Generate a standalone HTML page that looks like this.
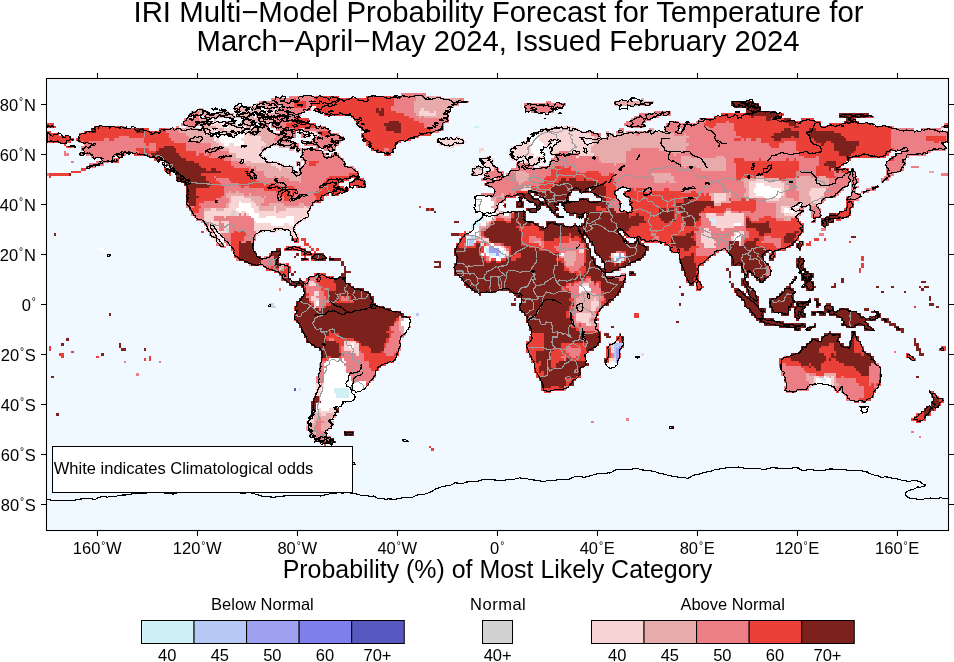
<!DOCTYPE html>
<html><head><meta charset="utf-8"><title>IRI Multi-Model Probability Forecast for Temperature</title>
<style>
html,body{margin:0;padding:0;background:#fff;overflow:hidden}
svg{display:block}
text{font-family:"Liberation Sans",sans-serif;fill:#000}
</style></head><body>
<svg width="954" height="662" viewBox="0 0 954 662">
<rect x="0" y="0" width="954" height="662" fill="#fff"/>
<text x="498.5" y="22.3" font-size="29.38" text-anchor="middle">IRI Multi−Model Probability Forecast for Temperature for</text>
<text x="498" y="51" font-size="29.24" text-anchor="middle">March−April−May 2024, Issued February 2024</text>
<rect x="47.5" y="79.5" width="900" height="450" fill="#f0f9ff"/>
<clipPath id="mc"><rect x="47" y="79" width="901" height="451"/></clipPath><g clip-path="url(#mc)"><g shape-rendering="crispEdges"><path fill="#ffffff" d="M221.25 123.25h2.5v2.5h-2.5zM223.75 125.75h5v2.5h-5zM213.75 130.75h5v2.5h-5zM211.25 133.25h10v2.5h-10zM236.25 133.25h7.5v2.5h-7.5zM308.75 133.25h7.5v2.5h-7.5zM533.75 133.25h5v2.5h-5zM216.25 135.75h27.5v2.5h-27.5zM528.75 135.75h10v2.5h-10zM213.75 138.25h2.5v2.5h-2.5zM218.75 138.25h22.5v2.5h-22.5zM528.75 138.25h10v2.5h-10zM221.25 140.75h22.5v2.5h-22.5zM528.75 140.75h12.5v2.5h-12.5zM223.75 143.25h5v2.5h-5zM233.75 143.25h10v2.5h-10zM531.25 143.25h12.5v2.5h-12.5zM531.25 145.75h12.5v2.5h-12.5zM531.25 148.25h12.5v2.5h-12.5zM531.25 150.75h10v2.5h-10zM493.75 153.25h2.5v2.5h-2.5zM533.75 153.25h10v2.5h-10zM533.75 155.75h2.5v2.5h-2.5zM756.25 183.25h7.5v2.5h-7.5zM756.25 185.75h15v2.5h-15zM753.75 188.25h27.5v2.5h-27.5zM753.75 190.75h27.5v2.5h-27.5zM476.25 193.25h5v2.5h-5zM756.25 193.25h25v2.5h-25zM473.75 195.75h17.5v2.5h-17.5zM763.75 195.75h17.5v2.5h-17.5zM473.75 198.25h17.5v2.5h-17.5zM238.75 200.75h2.5v2.5h-2.5zM473.75 200.75h20v2.5h-20zM238.75 203.25h12.5v2.5h-12.5zM473.75 203.25h20v2.5h-20zM238.75 205.75h12.5v2.5h-12.5zM473.75 205.75h17.5v2.5h-17.5zM236.25 208.25h17.5v2.5h-17.5zM473.75 208.25h20v2.5h-20zM783.75 208.25h5v2.5h-5zM791.25 208.25h2.5v2.5h-2.5zM238.75 210.75h2.5v2.5h-2.5zM246.25 210.75h7.5v2.5h-7.5zM473.75 210.75h20v2.5h-20zM503.75 210.75h5v2.5h-5zM783.75 210.75h10v2.5h-10zM248.75 213.25h10v2.5h-10zM481.25 213.25h7.5v2.5h-7.5zM491.25 213.25h5v2.5h-5zM503.75 213.25h5v2.5h-5zM251.25 215.75h7.5v2.5h-7.5zM266.25 215.75h10v2.5h-10zM286.25 215.75h7.5v2.5h-7.5zM483.75 215.75h10v2.5h-10zM253.75 218.25h40v2.5h-40zM483.75 218.25h7.5v2.5h-7.5zM256.25 220.75h37.5v2.5h-37.5zM478.75 220.75h7.5v2.5h-7.5zM271.25 223.25h12.5v2.5h-12.5zM288.75 223.25h5v2.5h-5zM481.25 223.25h5v2.5h-5zM733.75 223.25h7.5v2.5h-7.5zM476.25 225.75h2.5v2.5h-2.5zM473.75 228.25h5v2.5h-5zM471.25 230.75h7.5v2.5h-7.5zM468.75 233.25h10v2.5h-10zM736.25 233.25h5v2.5h-5zM466.25 235.75h5v2.5h-5zM733.75 235.75h7.5v2.5h-7.5zM733.75 238.25h7.5v2.5h-7.5zM491.25 243.25h2.5v2.5h-2.5zM486.25 245.75h2.5v2.5h-2.5zM493.75 245.75h7.5v2.5h-7.5zM98.75 248.25h5v2.5h-5zM483.75 248.25h2.5v2.5h-2.5zM498.75 248.25h5v2.5h-5zM103.75 250.75h2.5v2.5h-2.5zM483.75 250.75h2.5v2.5h-2.5zM503.75 250.75h2.5v2.5h-2.5zM481.25 253.25h2.5v2.5h-2.5zM486.25 253.25h2.5v2.5h-2.5zM503.75 253.25h2.5v2.5h-2.5zM558.75 253.25h5v2.5h-5zM613.75 253.25h5v2.5h-5zM621.25 253.25h2.5v2.5h-2.5zM491.25 255.75h7.5v2.5h-7.5zM501.25 255.75h2.5v2.5h-2.5zM496.25 258.25h5v2.5h-5zM613.75 258.25h2.5v2.5h-2.5zM618.75 260.75h2.5v2.5h-2.5zM578.75 285.75h10v2.5h-10zM578.75 288.25h12.5v2.5h-12.5zM578.75 290.75h2.5v2.5h-2.5zM316.25 300.75h2.5v2.5h-2.5zM316.25 303.25h2.5v2.5h-2.5zM403.75 318.25h7.5v2.5h-7.5zM401.25 320.75h10v2.5h-10zM401.25 323.25h10v2.5h-10zM403.75 325.75h5v2.5h-5zM403.75 328.25h5v2.5h-5zM403.75 330.75h2.5v2.5h-2.5zM351.25 343.25h2.5v2.5h-2.5zM348.75 345.75h5v2.5h-5zM328.75 358.25h10v2.5h-10zM341.25 358.25h2.5v2.5h-2.5zM326.25 360.75h20v2.5h-20zM608.75 360.75h5v2.5h-5zM323.75 363.25h20v2.5h-20zM606.25 363.25h10v2.5h-10zM326.25 365.75h20v2.5h-20zM606.25 365.75h10v2.5h-10zM323.75 368.25h22.5v2.5h-22.5zM608.75 368.25h2.5v2.5h-2.5zM323.75 370.75h22.5v2.5h-22.5zM323.75 373.25h25v2.5h-25zM323.75 375.75h27.5v2.5h-27.5zM823.75 375.75h2.5v2.5h-2.5zM323.75 378.25h27.5v2.5h-27.5zM816.25 378.25h5v2.5h-5zM826.25 378.25h5v2.5h-5zM323.75 380.75h30v2.5h-30zM356.25 380.75h10v2.5h-10zM816.25 380.75h7.5v2.5h-7.5zM826.25 380.75h5v2.5h-5zM323.75 383.25h42.5v2.5h-42.5zM816.25 383.25h15v2.5h-15zM323.75 385.75h45v2.5h-45zM321.25 388.25h12.5v2.5h-12.5zM348.75 388.25h17.5v2.5h-17.5zM321.25 390.75h12.5v2.5h-12.5zM348.75 390.75h12.5v2.5h-12.5zM321.25 393.25h15v2.5h-15zM348.75 393.25h7.5v2.5h-7.5zM318.75 395.75h17.5v2.5h-17.5zM348.75 395.75h7.5v2.5h-7.5zM318.75 398.25h37.5v2.5h-37.5zM321.25 400.75h32.5v2.5h-32.5zM316.25 403.25h27.5v2.5h-27.5zM316.25 405.75h25v2.5h-25zM858.75 405.75h10v2.5h-10zM316.25 408.25h2.5v2.5h-2.5zM321.25 408.25h7.5v2.5h-7.5zM858.75 408.25h10v2.5h-10zM861.25 410.75h7.5v2.5h-7.5zM861.25 413.25h2.5v2.5h-2.5z"/>
<path fill="#f8d4d4" d="M421.25 108.25h2.5v2.5h-2.5zM418.75 110.75h10v2.5h-10zM433.75 110.75h2.5v2.5h-2.5zM418.75 113.25h17.5v2.5h-17.5zM208.75 120.75h17.5v2.5h-17.5zM208.75 123.25h12.5v2.5h-12.5zM223.75 123.25h5v2.5h-5zM216.25 125.75h7.5v2.5h-7.5zM228.75 125.75h7.5v2.5h-7.5zM551.25 125.75h22.5v2.5h-22.5zM208.75 128.25h10v2.5h-10zM223.75 128.25h17.5v2.5h-17.5zM301.25 128.25h2.5v2.5h-2.5zM541.25 128.25h37.5v2.5h-37.5zM206.25 130.75h2.5v2.5h-2.5zM211.25 130.75h2.5v2.5h-2.5zM218.75 130.75h2.5v2.5h-2.5zM236.25 130.75h5v2.5h-5zM303.75 130.75h12.5v2.5h-12.5zM536.25 130.75h50v2.5h-50zM203.75 133.25h2.5v2.5h-2.5zM221.25 133.25h15v2.5h-15zM243.75 133.25h5v2.5h-5zM303.75 133.25h5v2.5h-5zM316.25 133.25h2.5v2.5h-2.5zM531.25 133.25h2.5v2.5h-2.5zM538.75 133.25h52.5v2.5h-52.5zM213.75 135.75h2.5v2.5h-2.5zM243.75 135.75h17.5v2.5h-17.5zM303.75 135.75h7.5v2.5h-7.5zM313.75 135.75h2.5v2.5h-2.5zM456.25 135.75h2.5v2.5h-2.5zM538.75 135.75h55v2.5h-55zM216.25 138.25h2.5v2.5h-2.5zM241.25 138.25h20v2.5h-20zM311.25 138.25h2.5v2.5h-2.5zM436.25 138.25h27.5v2.5h-27.5zM526.25 138.25h2.5v2.5h-2.5zM538.75 138.25h55v2.5h-55zM216.25 140.75h5v2.5h-5zM243.75 140.75h20v2.5h-20zM303.75 140.75h2.5v2.5h-2.5zM436.25 140.75h30v2.5h-30zM523.75 140.75h5v2.5h-5zM541.25 140.75h12.5v2.5h-12.5zM556.25 140.75h30v2.5h-30zM591.25 140.75h2.5v2.5h-2.5zM218.75 143.25h5v2.5h-5zM228.75 143.25h5v2.5h-5zM243.75 143.25h22.5v2.5h-22.5zM438.75 143.25h22.5v2.5h-22.5zM518.75 143.25h12.5v2.5h-12.5zM543.75 143.25h7.5v2.5h-7.5zM553.75 143.25h40v2.5h-40zM223.75 145.75h37.5v2.5h-37.5zM446.25 145.75h7.5v2.5h-7.5zM511.25 145.75h20v2.5h-20zM543.75 145.75h2.5v2.5h-2.5zM548.75 145.75h42.5v2.5h-42.5zM228.75 148.25h32.5v2.5h-32.5zM478.75 148.25h5v2.5h-5zM508.75 148.25h22.5v2.5h-22.5zM548.75 148.25h42.5v2.5h-42.5zM228.75 150.75h35v2.5h-35zM478.75 150.75h2.5v2.5h-2.5zM508.75 150.75h22.5v2.5h-22.5zM548.75 150.75h10v2.5h-10zM568.75 150.75h22.5v2.5h-22.5zM236.25 153.25h25v2.5h-25zM508.75 153.25h25v2.5h-25zM543.75 153.25h2.5v2.5h-2.5zM551.25 153.25h5v2.5h-5zM578.75 153.25h15v2.5h-15zM236.25 155.75h30v2.5h-30zM483.75 155.75h7.5v2.5h-7.5zM508.75 155.75h25v2.5h-25zM536.25 155.75h7.5v2.5h-7.5zM576.25 155.75h2.5v2.5h-2.5zM241.25 158.25h25v2.5h-25zM481.25 158.25h12.5v2.5h-12.5zM511.25 158.25h7.5v2.5h-7.5zM521.25 158.25h2.5v2.5h-2.5zM526.25 158.25h15v2.5h-15zM543.75 158.25h2.5v2.5h-2.5zM241.25 160.75h5v2.5h-5zM251.25 160.75h27.5v2.5h-27.5zM481.25 160.75h12.5v2.5h-12.5zM516.25 160.75h7.5v2.5h-7.5zM526.25 160.75h12.5v2.5h-12.5zM541.25 160.75h2.5v2.5h-2.5zM271.25 163.25h12.5v2.5h-12.5zM481.25 163.25h12.5v2.5h-12.5zM528.75 163.25h10v2.5h-10zM276.25 165.75h5v2.5h-5zM286.25 165.75h5v2.5h-5zM473.75 165.75h20v2.5h-20zM278.75 168.25h2.5v2.5h-2.5zM471.25 168.25h12.5v2.5h-12.5zM491.25 168.25h2.5v2.5h-2.5zM471.25 170.75h15v2.5h-15zM476.25 173.25h10v2.5h-10zM756.25 178.25h7.5v2.5h-7.5zM748.75 180.75h20v2.5h-20zM771.25 180.75h10v2.5h-10zM748.75 183.25h7.5v2.5h-7.5zM763.75 183.25h20v2.5h-20zM523.75 185.75h2.5v2.5h-2.5zM528.75 185.75h2.5v2.5h-2.5zM748.75 185.75h7.5v2.5h-7.5zM771.25 185.75h12.5v2.5h-12.5zM521.25 188.25h10v2.5h-10zM748.75 188.25h5v2.5h-5zM781.25 188.25h2.5v2.5h-2.5zM811.25 188.25h15v2.5h-15zM748.75 190.75h5v2.5h-5zM781.25 190.75h2.5v2.5h-2.5zM808.75 190.75h17.5v2.5h-17.5zM713.75 193.25h12.5v2.5h-12.5zM748.75 193.25h7.5v2.5h-7.5zM781.25 193.25h2.5v2.5h-2.5zM808.75 193.25h15v2.5h-15zM231.25 195.75h12.5v2.5h-12.5zM713.75 195.75h12.5v2.5h-12.5zM748.75 195.75h15v2.5h-15zM811.25 195.75h10v2.5h-10zM231.25 198.25h20v2.5h-20zM713.75 198.25h12.5v2.5h-12.5zM766.25 198.25h12.5v2.5h-12.5zM811.25 198.25h10v2.5h-10zM231.25 200.75h7.5v2.5h-7.5zM241.25 200.75h12.5v2.5h-12.5zM713.75 200.75h7.5v2.5h-7.5zM811.25 200.75h10v2.5h-10zM228.75 203.25h10v2.5h-10zM251.25 203.25h5v2.5h-5zM816.25 203.25h5v2.5h-5zM228.75 205.75h10v2.5h-10zM251.25 205.75h7.5v2.5h-7.5zM273.75 205.75h2.5v2.5h-2.5zM303.75 205.75h2.5v2.5h-2.5zM781.25 205.75h7.5v2.5h-7.5zM211.25 208.25h5v2.5h-5zM223.75 208.25h12.5v2.5h-12.5zM253.75 208.25h5v2.5h-5zM273.75 208.25h2.5v2.5h-2.5zM286.25 208.25h22.5v2.5h-22.5zM781.25 208.25h2.5v2.5h-2.5zM788.75 208.25h2.5v2.5h-2.5zM793.75 208.25h5v2.5h-5zM203.75 210.75h27.5v2.5h-27.5zM236.25 210.75h2.5v2.5h-2.5zM241.25 210.75h5v2.5h-5zM253.75 210.75h22.5v2.5h-22.5zM278.75 210.75h30v2.5h-30zM508.75 210.75h2.5v2.5h-2.5zM726.25 210.75h5v2.5h-5zM781.25 210.75h2.5v2.5h-2.5zM793.75 210.75h5v2.5h-5zM203.75 213.25h27.5v2.5h-27.5zM236.25 213.25h2.5v2.5h-2.5zM241.25 213.25h2.5v2.5h-2.5zM246.25 213.25h2.5v2.5h-2.5zM258.75 213.25h50v2.5h-50zM706.25 213.25h10v2.5h-10zM723.75 213.25h20v2.5h-20zM783.75 213.25h15v2.5h-15zM203.75 215.75h10v2.5h-10zM223.75 215.75h2.5v2.5h-2.5zM258.75 215.75h7.5v2.5h-7.5zM276.25 215.75h10v2.5h-10zM293.75 215.75h15v2.5h-15zM706.25 215.75h37.5v2.5h-37.5zM203.75 218.25h10v2.5h-10zM293.75 218.25h12.5v2.5h-12.5zM491.25 218.25h2.5v2.5h-2.5zM716.25 218.25h27.5v2.5h-27.5zM206.25 220.75h12.5v2.5h-12.5zM221.25 220.75h7.5v2.5h-7.5zM253.75 220.75h2.5v2.5h-2.5zM293.75 220.75h7.5v2.5h-7.5zM486.25 220.75h2.5v2.5h-2.5zM716.25 220.75h27.5v2.5h-27.5zM208.75 223.25h10v2.5h-10zM223.75 223.25h5v2.5h-5zM253.75 223.25h17.5v2.5h-17.5zM283.75 223.25h5v2.5h-5zM293.75 223.25h5v2.5h-5zM478.75 223.25h2.5v2.5h-2.5zM711.25 223.25h2.5v2.5h-2.5zM716.25 223.25h17.5v2.5h-17.5zM741.25 223.25h2.5v2.5h-2.5zM206.25 225.75h12.5v2.5h-12.5zM226.25 225.75h2.5v2.5h-2.5zM253.75 225.75h42.5v2.5h-42.5zM716.25 225.75h17.5v2.5h-17.5zM208.75 228.25h2.5v2.5h-2.5zM213.75 228.25h5v2.5h-5zM223.75 228.25h2.5v2.5h-2.5zM253.75 228.25h42.5v2.5h-42.5zM703.75 228.25h5v2.5h-5zM721.25 228.25h2.5v2.5h-2.5zM213.75 230.75h12.5v2.5h-12.5zM256.25 230.75h7.5v2.5h-7.5zM268.75 230.75h7.5v2.5h-7.5zM288.75 230.75h7.5v2.5h-7.5zM703.75 230.75h7.5v2.5h-7.5zM733.75 230.75h10v2.5h-10zM211.25 233.25h5v2.5h-5zM218.75 233.25h2.5v2.5h-2.5zM256.25 233.25h2.5v2.5h-2.5zM288.75 233.25h10v2.5h-10zM701.25 233.25h10v2.5h-10zM733.75 233.25h2.5v2.5h-2.5zM741.25 233.25h2.5v2.5h-2.5zM216.25 235.75h2.5v2.5h-2.5zM221.25 235.75h2.5v2.5h-2.5zM291.25 235.75h7.5v2.5h-7.5zM476.25 235.75h5v2.5h-5zM701.25 235.75h10v2.5h-10zM731.25 235.75h2.5v2.5h-2.5zM213.75 238.25h7.5v2.5h-7.5zM478.75 238.25h10v2.5h-10zM701.25 238.25h12.5v2.5h-12.5zM731.25 238.25h2.5v2.5h-2.5zM216.25 240.75h5v2.5h-5zM481.25 240.75h2.5v2.5h-2.5zM486.25 240.75h2.5v2.5h-2.5zM701.25 240.75h15v2.5h-15zM738.75 240.75h2.5v2.5h-2.5zM481.25 243.25h2.5v2.5h-2.5zM488.75 243.25h2.5v2.5h-2.5zM703.75 243.25h10v2.5h-10zM738.75 243.25h2.5v2.5h-2.5zM483.75 245.75h2.5v2.5h-2.5zM501.25 245.75h2.5v2.5h-2.5zM703.75 245.75h12.5v2.5h-12.5zM503.75 248.25h2.5v2.5h-2.5zM578.75 248.25h5v2.5h-5zM506.25 250.75h2.5v2.5h-2.5zM578.75 250.75h5v2.5h-5zM506.25 253.25h2.5v2.5h-2.5zM611.25 253.25h2.5v2.5h-2.5zM488.75 255.75h2.5v2.5h-2.5zM503.75 255.75h2.5v2.5h-2.5zM611.25 255.75h2.5v2.5h-2.5zM623.75 255.75h2.5v2.5h-2.5zM488.75 258.25h2.5v2.5h-2.5zM613.75 260.75h2.5v2.5h-2.5zM278.75 268.25h2.5v2.5h-2.5zM308.75 280.75h5v2.5h-5zM308.75 283.25h7.5v2.5h-7.5zM581.25 283.25h7.5v2.5h-7.5zM313.75 290.75h5v2.5h-5zM313.75 293.25h5v2.5h-5zM311.25 295.75h5v2.5h-5zM311.25 298.25h7.5v2.5h-7.5zM593.75 298.25h2.5v2.5h-2.5zM313.75 300.75h2.5v2.5h-2.5zM591.25 300.75h7.5v2.5h-7.5zM313.75 303.25h2.5v2.5h-2.5zM591.25 303.25h7.5v2.5h-7.5zM313.75 305.75h2.5v2.5h-2.5zM591.25 305.75h5v2.5h-5zM591.25 308.25h5v2.5h-5zM576.25 313.25h15v2.5h-15zM576.25 315.75h15v2.5h-15zM576.25 318.25h12.5v2.5h-12.5zM581.25 320.75h7.5v2.5h-7.5zM586.25 323.25h5v2.5h-5zM343.75 340.75h12.5v2.5h-12.5zM613.75 340.75h5v2.5h-5zM343.75 343.25h7.5v2.5h-7.5zM353.75 343.25h5v2.5h-5zM611.25 343.25h2.5v2.5h-2.5zM343.75 345.75h5v2.5h-5zM353.75 345.75h5v2.5h-5zM611.25 345.75h2.5v2.5h-2.5zM343.75 348.25h15v2.5h-15zM611.25 348.25h2.5v2.5h-2.5zM351.25 350.75h7.5v2.5h-7.5zM611.25 350.75h2.5v2.5h-2.5zM356.25 353.25h2.5v2.5h-2.5zM641.25 353.25h2.5v2.5h-2.5zM608.75 358.25h7.5v2.5h-7.5zM813.75 375.75h5v2.5h-5zM826.25 375.75h2.5v2.5h-2.5zM831.25 375.75h2.5v2.5h-2.5zM813.75 378.25h2.5v2.5h-2.5zM831.25 378.25h2.5v2.5h-2.5zM813.75 380.75h2.5v2.5h-2.5zM831.25 380.75h2.5v2.5h-2.5zM316.25 383.25h7.5v2.5h-7.5zM813.75 383.25h2.5v2.5h-2.5zM831.25 383.25h2.5v2.5h-2.5zM316.25 385.75h7.5v2.5h-7.5zM316.25 388.25h5v2.5h-5zM316.25 390.75h5v2.5h-5zM313.75 393.25h7.5v2.5h-7.5zM318.75 408.25h2.5v2.5h-2.5zM328.75 408.25h7.5v2.5h-7.5zM311.25 410.75h25v2.5h-25zM311.25 413.25h2.5v2.5h-2.5zM321.25 413.25h5v2.5h-5zM308.75 415.75h5v2.5h-5zM308.75 418.25h5v2.5h-5zM306.25 420.75h7.5v2.5h-7.5zM306.25 423.25h5v2.5h-5z"/>
<path fill="#e8abab" d="M416.25 95.75h25v2.5h-25zM416.25 98.25h42.5v2.5h-42.5zM641.25 98.25h2.5v2.5h-2.5zM413.75 100.75h42.5v2.5h-42.5zM613.75 100.75h40v2.5h-40zM256.25 103.25h10v2.5h-10zM271.25 103.25h2.5v2.5h-2.5zM278.75 103.25h2.5v2.5h-2.5zM413.75 103.25h40v2.5h-40zM613.75 103.25h37.5v2.5h-37.5zM233.75 105.75h45v2.5h-45zM413.75 105.75h40v2.5h-40zM201.25 108.25h2.5v2.5h-2.5zM233.75 108.25h15v2.5h-15zM251.25 108.25h10v2.5h-10zM266.25 108.25h7.5v2.5h-7.5zM276.25 108.25h5v2.5h-5zM413.75 108.25h7.5v2.5h-7.5zM423.75 108.25h27.5v2.5h-27.5zM198.75 110.75h10v2.5h-10zM218.75 110.75h10v2.5h-10zM241.25 110.75h12.5v2.5h-12.5zM256.25 110.75h5v2.5h-5zM273.75 110.75h5v2.5h-5zM413.75 110.75h5v2.5h-5zM428.75 110.75h5v2.5h-5zM436.25 110.75h12.5v2.5h-12.5zM198.75 113.25h35v2.5h-35zM236.25 113.25h17.5v2.5h-17.5zM256.25 113.25h22.5v2.5h-22.5zM416.25 113.25h2.5v2.5h-2.5zM436.25 113.25h12.5v2.5h-12.5zM203.75 115.75h50v2.5h-50zM256.25 115.75h20v2.5h-20zM418.75 115.75h2.5v2.5h-2.5zM423.75 115.75h25v2.5h-25zM198.75 118.25h10v2.5h-10zM213.75 118.25h2.5v2.5h-2.5zM243.75 118.25h32.5v2.5h-32.5zM226.25 120.75h10v2.5h-10zM241.25 120.75h35v2.5h-35zM198.75 123.25h2.5v2.5h-2.5zM206.25 123.25h2.5v2.5h-2.5zM228.75 123.25h7.5v2.5h-7.5zM241.25 123.25h15v2.5h-15zM258.75 123.25h2.5v2.5h-2.5zM186.25 125.75h10v2.5h-10zM201.25 125.75h15v2.5h-15zM236.25 125.75h5v2.5h-5zM246.25 125.75h2.5v2.5h-2.5zM178.75 128.25h20v2.5h-20zM201.25 128.25h7.5v2.5h-7.5zM218.75 128.25h5v2.5h-5zM241.25 128.25h5v2.5h-5zM248.75 128.25h20v2.5h-20zM651.25 128.25h2.5v2.5h-2.5zM663.75 128.25h2.5v2.5h-2.5zM178.75 130.75h27.5v2.5h-27.5zM208.75 130.75h2.5v2.5h-2.5zM221.25 130.75h15v2.5h-15zM241.25 130.75h2.5v2.5h-2.5zM246.25 130.75h27.5v2.5h-27.5zM606.25 130.75h2.5v2.5h-2.5zM646.25 130.75h25v2.5h-25zM186.25 133.25h17.5v2.5h-17.5zM206.25 133.25h5v2.5h-5zM248.75 133.25h27.5v2.5h-27.5zM606.25 133.25h7.5v2.5h-7.5zM616.25 133.25h20v2.5h-20zM638.75 133.25h35v2.5h-35zM683.75 133.25h2.5v2.5h-2.5zM188.75 135.75h25v2.5h-25zM261.25 135.75h15v2.5h-15zM593.75 135.75h7.5v2.5h-7.5zM606.25 135.75h82.5v2.5h-82.5zM191.25 138.25h22.5v2.5h-22.5zM261.25 138.25h12.5v2.5h-12.5zM593.75 138.25h92.5v2.5h-92.5zM201.25 140.75h15v2.5h-15zM263.75 140.75h15v2.5h-15zM593.75 140.75h92.5v2.5h-92.5zM211.25 143.25h7.5v2.5h-7.5zM266.25 143.25h25v2.5h-25zM593.75 143.25h95v2.5h-95zM211.25 145.75h12.5v2.5h-12.5zM261.25 145.75h10v2.5h-10zM278.75 145.75h15v2.5h-15zM591.25 145.75h95v2.5h-95zM221.25 148.25h7.5v2.5h-7.5zM261.25 148.25h5v2.5h-5zM288.75 148.25h5v2.5h-5zM296.25 148.25h2.5v2.5h-2.5zM301.25 148.25h2.5v2.5h-2.5zM591.25 148.25h40v2.5h-40zM658.75 148.25h27.5v2.5h-27.5zM296.25 150.75h2.5v2.5h-2.5zM301.25 150.75h2.5v2.5h-2.5zM591.25 150.75h35v2.5h-35zM666.25 150.75h20v2.5h-20zM228.75 153.25h7.5v2.5h-7.5zM301.25 153.25h2.5v2.5h-2.5zM593.75 153.25h32.5v2.5h-32.5zM673.75 153.25h2.5v2.5h-2.5zM231.25 155.75h5v2.5h-5zM301.25 155.75h2.5v2.5h-2.5zM593.75 155.75h2.5v2.5h-2.5zM598.75 155.75h27.5v2.5h-27.5zM681.25 155.75h10v2.5h-10zM716.25 155.75h7.5v2.5h-7.5zM231.25 158.25h10v2.5h-10zM301.25 158.25h2.5v2.5h-2.5zM598.75 158.25h27.5v2.5h-27.5zM681.25 158.25h45v2.5h-45zM238.75 160.75h2.5v2.5h-2.5zM246.25 160.75h5v2.5h-5zM296.25 160.75h5v2.5h-5zM601.25 160.75h25v2.5h-25zM681.25 160.75h45v2.5h-45zM246.25 163.25h25v2.5h-25zM296.25 163.25h5v2.5h-5zM613.75 163.25h2.5v2.5h-2.5zM681.25 163.25h45v2.5h-45zM251.25 165.75h2.5v2.5h-2.5zM256.25 165.75h20v2.5h-20zM281.25 165.75h5v2.5h-5zM291.25 165.75h2.5v2.5h-2.5zM298.75 165.75h5v2.5h-5zM683.75 165.75h2.5v2.5h-2.5zM696.25 165.75h30v2.5h-30zM256.25 168.25h22.5v2.5h-22.5zM281.25 168.25h12.5v2.5h-12.5zM298.75 168.25h2.5v2.5h-2.5zM701.25 168.25h25v2.5h-25zM263.75 170.75h37.5v2.5h-37.5zM513.75 170.75h12.5v2.5h-12.5zM928.75 170.75h5v2.5h-5zM263.75 173.25h37.5v2.5h-37.5zM516.25 173.25h12.5v2.5h-12.5zM651.25 173.25h20v2.5h-20zM266.25 175.75h7.5v2.5h-7.5zM276.25 175.75h5v2.5h-5zM283.75 175.75h17.5v2.5h-17.5zM516.25 175.75h12.5v2.5h-12.5zM653.75 175.75h20v2.5h-20zM756.25 175.75h7.5v2.5h-7.5zM798.75 175.75h12.5v2.5h-12.5zM818.75 175.75h7.5v2.5h-7.5zM288.75 178.25h12.5v2.5h-12.5zM516.25 178.25h12.5v2.5h-12.5zM653.75 178.25h20v2.5h-20zM741.25 178.25h15v2.5h-15zM763.75 178.25h15v2.5h-15zM796.25 178.25h32.5v2.5h-32.5zM298.75 180.75h2.5v2.5h-2.5zM516.25 180.75h7.5v2.5h-7.5zM653.75 180.75h12.5v2.5h-12.5zM668.75 180.75h7.5v2.5h-7.5zM743.75 180.75h5v2.5h-5zM768.75 180.75h2.5v2.5h-2.5zM781.25 180.75h7.5v2.5h-7.5zM796.25 180.75h32.5v2.5h-32.5zM518.75 183.25h2.5v2.5h-2.5zM743.75 183.25h5v2.5h-5zM783.75 183.25h5v2.5h-5zM796.25 183.25h32.5v2.5h-32.5zM743.75 185.75h5v2.5h-5zM783.75 185.75h5v2.5h-5zM796.25 185.75h32.5v2.5h-32.5zM746.25 188.25h2.5v2.5h-2.5zM783.75 188.25h5v2.5h-5zM796.25 188.25h15v2.5h-15zM228.75 190.75h2.5v2.5h-2.5zM236.25 190.75h2.5v2.5h-2.5zM728.75 190.75h2.5v2.5h-2.5zM746.25 190.75h2.5v2.5h-2.5zM783.75 190.75h2.5v2.5h-2.5zM798.75 190.75h10v2.5h-10zM226.25 193.25h17.5v2.5h-17.5zM248.75 193.25h2.5v2.5h-2.5zM501.25 193.25h2.5v2.5h-2.5zM708.75 193.25h5v2.5h-5zM726.25 193.25h5v2.5h-5zM743.75 193.25h5v2.5h-5zM783.75 193.25h2.5v2.5h-2.5zM798.75 193.25h10v2.5h-10zM226.25 195.75h5v2.5h-5zM243.75 195.75h17.5v2.5h-17.5zM263.75 195.75h2.5v2.5h-2.5zM493.75 195.75h10v2.5h-10zM711.25 195.75h2.5v2.5h-2.5zM726.25 195.75h5v2.5h-5zM743.75 195.75h5v2.5h-5zM781.25 195.75h5v2.5h-5zM798.75 195.75h12.5v2.5h-12.5zM821.25 195.75h2.5v2.5h-2.5zM228.75 198.25h2.5v2.5h-2.5zM251.25 198.25h12.5v2.5h-12.5zM491.25 198.25h5v2.5h-5zM711.25 198.25h2.5v2.5h-2.5zM726.25 198.25h2.5v2.5h-2.5zM746.25 198.25h2.5v2.5h-2.5zM778.75 198.25h15v2.5h-15zM798.75 198.25h12.5v2.5h-12.5zM821.25 198.25h2.5v2.5h-2.5zM228.75 200.75h2.5v2.5h-2.5zM253.75 200.75h10v2.5h-10zM493.75 200.75h2.5v2.5h-2.5zM721.25 200.75h10v2.5h-10zM766.25 200.75h45v2.5h-45zM226.25 203.25h2.5v2.5h-2.5zM256.25 203.25h5v2.5h-5zM268.75 203.25h15v2.5h-15zM298.75 203.25h5v2.5h-5zM493.75 203.25h5v2.5h-5zM713.75 203.25h7.5v2.5h-7.5zM776.25 203.25h22.5v2.5h-22.5zM801.25 203.25h15v2.5h-15zM226.25 205.75h2.5v2.5h-2.5zM258.75 205.75h15v2.5h-15zM276.25 205.75h27.5v2.5h-27.5zM306.25 205.75h5v2.5h-5zM491.25 205.75h7.5v2.5h-7.5zM776.25 205.75h5v2.5h-5zM788.75 205.75h5v2.5h-5zM798.75 205.75h2.5v2.5h-2.5zM203.75 208.25h7.5v2.5h-7.5zM216.25 208.25h7.5v2.5h-7.5zM258.75 208.25h15v2.5h-15zM276.25 208.25h10v2.5h-10zM308.75 208.25h2.5v2.5h-2.5zM493.75 208.25h5v2.5h-5zM776.25 208.25h5v2.5h-5zM276.25 210.75h2.5v2.5h-2.5zM493.75 210.75h2.5v2.5h-2.5zM498.75 210.75h5v2.5h-5zM511.25 210.75h2.5v2.5h-2.5zM776.25 210.75h5v2.5h-5zM496.25 213.25h7.5v2.5h-7.5zM508.75 213.25h2.5v2.5h-2.5zM776.25 213.25h7.5v2.5h-7.5zM493.75 215.75h2.5v2.5h-2.5zM501.25 215.75h10v2.5h-10zM776.25 215.75h22.5v2.5h-22.5zM493.75 218.25h2.5v2.5h-2.5zM783.75 218.25h7.5v2.5h-7.5zM488.75 220.75h2.5v2.5h-2.5zM486.25 223.25h2.5v2.5h-2.5zM478.75 225.75h7.5v2.5h-7.5zM478.75 228.25h2.5v2.5h-2.5zM478.75 230.75h2.5v2.5h-2.5zM478.75 233.25h2.5v2.5h-2.5zM476.25 238.25h2.5v2.5h-2.5zM533.75 240.75h7.5v2.5h-7.5zM538.75 243.25h2.5v2.5h-2.5zM566.25 250.75h10v2.5h-10zM563.75 253.25h12.5v2.5h-12.5zM561.25 255.75h15v2.5h-15zM563.75 258.25h12.5v2.5h-12.5zM566.25 260.75h7.5v2.5h-7.5zM281.25 263.25h5v2.5h-5zM566.25 263.25h7.5v2.5h-7.5zM278.75 265.75h5v2.5h-5zM281.25 268.25h2.5v2.5h-2.5zM588.75 280.75h2.5v2.5h-2.5zM581.25 290.75h10v2.5h-10zM578.75 293.25h17.5v2.5h-17.5zM578.75 295.75h22.5v2.5h-22.5zM576.25 298.25h17.5v2.5h-17.5zM596.25 298.25h2.5v2.5h-2.5zM576.25 300.75h15v2.5h-15zM576.25 303.25h15v2.5h-15zM598.75 303.25h2.5v2.5h-2.5zM576.25 305.75h15v2.5h-15zM596.25 305.75h2.5v2.5h-2.5zM576.25 308.25h15v2.5h-15zM578.75 310.75h15v2.5h-15zM591.25 313.25h5v2.5h-5zM398.75 315.75h2.5v2.5h-2.5zM591.25 315.75h5v2.5h-5zM398.75 318.25h5v2.5h-5zM588.75 318.25h2.5v2.5h-2.5zM398.75 320.75h2.5v2.5h-2.5zM576.25 320.75h5v2.5h-5zM588.75 320.75h5v2.5h-5zM398.75 323.25h2.5v2.5h-2.5zM591.25 323.25h5v2.5h-5zM398.75 325.75h5v2.5h-5zM398.75 328.25h5v2.5h-5zM401.25 330.75h2.5v2.5h-2.5zM403.75 333.25h2.5v2.5h-2.5zM806.25 373.25h2.5v2.5h-2.5zM823.75 373.25h12.5v2.5h-12.5zM806.25 375.75h7.5v2.5h-7.5zM818.75 375.75h5v2.5h-5zM828.75 375.75h2.5v2.5h-2.5zM833.75 375.75h2.5v2.5h-2.5zM806.25 378.25h7.5v2.5h-7.5zM833.75 378.25h2.5v2.5h-2.5zM808.75 380.75h5v2.5h-5zM833.75 380.75h2.5v2.5h-2.5zM808.75 383.25h5v2.5h-5zM833.75 383.25h5v2.5h-5zM808.75 385.75h2.5v2.5h-2.5zM831.25 385.75h5v2.5h-5zM313.75 413.25h7.5v2.5h-7.5zM326.25 413.25h10v2.5h-10zM313.75 415.75h22.5v2.5h-22.5zM313.75 418.25h5v2.5h-5zM321.25 418.25h10v2.5h-10zM313.75 420.75h2.5v2.5h-2.5zM323.75 420.75h10v2.5h-10zM311.25 423.25h5v2.5h-5zM321.25 423.25h12.5v2.5h-12.5zM306.25 425.75h7.5v2.5h-7.5zM321.25 425.75h10v2.5h-10zM306.25 428.25h7.5v2.5h-7.5zM321.25 428.25h7.5v2.5h-7.5zM308.75 430.75h7.5v2.5h-7.5zM323.75 430.75h2.5v2.5h-2.5zM308.75 433.25h7.5v2.5h-7.5zM311.25 435.75h5v2.5h-5zM313.75 438.25h2.5v2.5h-2.5z"/>
<path fill="#eb7f85" d="M401.25 93.25h25v2.5h-25zM288.75 95.75h27.5v2.5h-27.5zM391.25 95.75h25v2.5h-25zM271.25 98.25h22.5v2.5h-22.5zM296.25 98.25h17.5v2.5h-17.5zM393.75 98.25h22.5v2.5h-22.5zM458.75 98.25h5v2.5h-5zM258.75 100.75h35v2.5h-35zM306.25 100.75h5v2.5h-5zM393.75 100.75h20v2.5h-20zM456.25 100.75h12.5v2.5h-12.5zM546.25 100.75h5v2.5h-5zM266.25 103.25h5v2.5h-5zM273.75 103.25h5v2.5h-5zM281.25 103.25h12.5v2.5h-12.5zM306.25 103.25h5v2.5h-5zM393.75 103.25h20v2.5h-20zM453.75 103.25h5v2.5h-5zM523.75 103.25h42.5v2.5h-42.5zM281.25 105.75h12.5v2.5h-12.5zM306.25 105.75h5v2.5h-5zM391.25 105.75h22.5v2.5h-22.5zM523.75 105.75h37.5v2.5h-37.5zM198.75 108.25h2.5v2.5h-2.5zM281.25 108.25h30v2.5h-30zM391.25 108.25h22.5v2.5h-22.5zM526.25 108.25h27.5v2.5h-27.5zM191.25 110.75h7.5v2.5h-7.5zM278.75 110.75h25v2.5h-25zM396.25 110.75h17.5v2.5h-17.5zM531.25 110.75h22.5v2.5h-22.5zM653.75 110.75h17.5v2.5h-17.5zM188.75 113.25h10v2.5h-10zM278.75 113.25h22.5v2.5h-22.5zM403.75 113.25h12.5v2.5h-12.5zM638.75 113.25h32.5v2.5h-32.5zM193.75 115.75h5v2.5h-5zM276.25 115.75h22.5v2.5h-22.5zM408.75 115.75h10v2.5h-10zM421.25 115.75h2.5v2.5h-2.5zM633.75 115.75h25v2.5h-25zM183.75 118.25h15v2.5h-15zM276.25 118.25h17.5v2.5h-17.5zM413.75 118.25h35v2.5h-35zM631.25 118.25h20v2.5h-20zM698.75 118.25h7.5v2.5h-7.5zM183.75 120.75h25v2.5h-25zM276.25 120.75h15v2.5h-15zM418.75 120.75h30v2.5h-30zM626.25 120.75h20v2.5h-20zM668.75 120.75h10v2.5h-10zM696.25 120.75h10v2.5h-10zM726.25 120.75h2.5v2.5h-2.5zM181.25 123.25h17.5v2.5h-17.5zM201.25 123.25h5v2.5h-5zM261.25 123.25h7.5v2.5h-7.5zM271.25 123.25h15v2.5h-15zM423.75 123.25h20v2.5h-20zM623.75 123.25h20v2.5h-20zM666.25 123.25h37.5v2.5h-37.5zM716.25 123.25h17.5v2.5h-17.5zM943.75 123.25h2.5v2.5h-2.5zM176.25 125.75h2.5v2.5h-2.5zM248.75 125.75h2.5v2.5h-2.5zM256.25 125.75h12.5v2.5h-12.5zM271.25 125.75h15v2.5h-15zM316.25 125.75h10v2.5h-10zM423.75 125.75h20v2.5h-20zM628.75 125.75h15v2.5h-15zM663.75 125.75h45v2.5h-45zM713.75 125.75h20v2.5h-20zM891.25 125.75h2.5v2.5h-2.5zM941.25 125.75h5v2.5h-5zM166.25 128.25h12.5v2.5h-12.5zM276.25 128.25h10v2.5h-10zM288.75 128.25h5v2.5h-5zM298.75 128.25h2.5v2.5h-2.5zM303.75 128.25h25v2.5h-25zM431.25 128.25h12.5v2.5h-12.5zM618.75 128.25h5v2.5h-5zM648.75 128.25h2.5v2.5h-2.5zM666.25 128.25h12.5v2.5h-12.5zM681.25 128.25h52.5v2.5h-52.5zM891.25 128.25h22.5v2.5h-22.5zM921.25 128.25h20v2.5h-20zM166.25 130.75h12.5v2.5h-12.5zM281.25 130.75h12.5v2.5h-12.5zM316.25 130.75h2.5v2.5h-2.5zM328.75 130.75h2.5v2.5h-2.5zM433.75 130.75h5v2.5h-5zM586.25 130.75h7.5v2.5h-7.5zM616.25 130.75h7.5v2.5h-7.5zM626.25 130.75h7.5v2.5h-7.5zM636.25 130.75h10v2.5h-10zM671.25 130.75h65v2.5h-65zM891.25 130.75h55v2.5h-55zM46.25 133.25h2.5v2.5h-2.5zM168.75 133.25h17.5v2.5h-17.5zM276.25 133.25h20v2.5h-20zM301.25 133.25h2.5v2.5h-2.5zM318.75 133.25h2.5v2.5h-2.5zM331.25 133.25h7.5v2.5h-7.5zM591.25 133.25h10v2.5h-10zM636.25 133.25h2.5v2.5h-2.5zM673.75 133.25h10v2.5h-10zM686.25 133.25h50v2.5h-50zM891.25 133.25h57.5v2.5h-57.5zM46.25 135.75h2.5v2.5h-2.5zM118.75 135.75h10v2.5h-10zM168.75 135.75h20v2.5h-20zM276.25 135.75h20v2.5h-20zM301.25 135.75h2.5v2.5h-2.5zM316.25 135.75h27.5v2.5h-27.5zM688.75 135.75h52.5v2.5h-52.5zM891.25 135.75h35v2.5h-35zM946.25 135.75h2.5v2.5h-2.5zM46.25 138.25h2.5v2.5h-2.5zM103.75 138.25h5v2.5h-5zM113.75 138.25h30v2.5h-30zM171.25 138.25h20v2.5h-20zM273.75 138.25h17.5v2.5h-17.5zM313.75 138.25h30v2.5h-30zM686.25 138.25h47.5v2.5h-47.5zM741.25 138.25h2.5v2.5h-2.5zM746.25 138.25h5v2.5h-5zM756.25 138.25h5v2.5h-5zM891.25 138.25h35v2.5h-35zM946.25 138.25h2.5v2.5h-2.5zM46.25 140.75h2.5v2.5h-2.5zM78.75 140.75h5v2.5h-5zM88.75 140.75h55v2.5h-55zM173.75 140.75h27.5v2.5h-27.5zM278.75 140.75h15v2.5h-15zM301.25 140.75h2.5v2.5h-2.5zM306.25 140.75h35v2.5h-35zM686.25 140.75h75v2.5h-75zM783.75 140.75h12.5v2.5h-12.5zM891.25 140.75h42.5v2.5h-42.5zM938.75 140.75h2.5v2.5h-2.5zM946.25 140.75h2.5v2.5h-2.5zM83.75 143.25h62.5v2.5h-62.5zM148.75 143.25h7.5v2.5h-7.5zM186.25 143.25h25v2.5h-25zM291.25 143.25h7.5v2.5h-7.5zM303.75 143.25h35v2.5h-35zM688.75 143.25h80v2.5h-80zM778.75 143.25h17.5v2.5h-17.5zM891.25 143.25h52.5v2.5h-52.5zM71.25 145.75h5v2.5h-5zM81.25 145.75h75v2.5h-75zM186.25 145.75h25v2.5h-25zM293.75 145.75h5v2.5h-5zM316.25 145.75h20v2.5h-20zM686.25 145.75h85v2.5h-85zM778.75 145.75h17.5v2.5h-17.5zM891.25 145.75h55v2.5h-55zM81.25 148.25h55v2.5h-55zM148.75 148.25h7.5v2.5h-7.5zM186.25 148.25h35v2.5h-35zM298.75 148.25h2.5v2.5h-2.5zM303.75 148.25h15v2.5h-15zM323.75 148.25h12.5v2.5h-12.5zM383.75 148.25h5v2.5h-5zM631.25 148.25h27.5v2.5h-27.5zM686.25 148.25h110v2.5h-110zM893.75 148.25h52.5v2.5h-52.5zM63.75 150.75h2.5v2.5h-2.5zM83.75 150.75h55v2.5h-55zM196.25 150.75h32.5v2.5h-32.5zM303.75 150.75h20v2.5h-20zM383.75 150.75h2.5v2.5h-2.5zM558.75 150.75h10v2.5h-10zM626.25 150.75h40v2.5h-40zM686.25 150.75h112.5v2.5h-112.5zM901.25 150.75h30v2.5h-30zM63.75 153.25h5v2.5h-5zM78.75 153.25h5v2.5h-5zM86.25 153.25h40v2.5h-40zM196.25 153.25h2.5v2.5h-2.5zM203.75 153.25h5v2.5h-5zM211.25 153.25h17.5v2.5h-17.5zM303.75 153.25h22.5v2.5h-22.5zM331.25 153.25h7.5v2.5h-7.5zM556.25 153.25h22.5v2.5h-22.5zM626.25 153.25h47.5v2.5h-47.5zM676.25 153.25h122.5v2.5h-122.5zM896.25 153.25h30v2.5h-30zM91.25 155.75h22.5v2.5h-22.5zM118.75 155.75h2.5v2.5h-2.5zM208.75 155.75h22.5v2.5h-22.5zM303.75 155.75h37.5v2.5h-37.5zM553.75 155.75h22.5v2.5h-22.5zM578.75 155.75h15v2.5h-15zM596.25 155.75h2.5v2.5h-2.5zM626.25 155.75h55v2.5h-55zM691.25 155.75h25v2.5h-25zM723.75 155.75h80v2.5h-80zM816.25 155.75h2.5v2.5h-2.5zM893.75 155.75h15v2.5h-15zM101.25 158.25h15v2.5h-15zM223.75 158.25h7.5v2.5h-7.5zM303.75 158.25h40v2.5h-40zM551.25 158.25h47.5v2.5h-47.5zM626.25 158.25h55v2.5h-55zM726.25 158.25h7.5v2.5h-7.5zM743.75 158.25h15v2.5h-15zM761.25 158.25h25v2.5h-25zM788.75 158.25h5v2.5h-5zM796.25 158.25h22.5v2.5h-22.5zM893.75 158.25h12.5v2.5h-12.5zM71.25 160.75h2.5v2.5h-2.5zM96.25 160.75h12.5v2.5h-12.5zM111.25 160.75h2.5v2.5h-2.5zM231.25 160.75h7.5v2.5h-7.5zM303.75 160.75h5v2.5h-5zM318.75 160.75h25v2.5h-25zM543.75 160.75h2.5v2.5h-2.5zM548.75 160.75h52.5v2.5h-52.5zM626.25 160.75h55v2.5h-55zM726.25 160.75h7.5v2.5h-7.5zM798.75 160.75h20v2.5h-20zM886.25 160.75h20v2.5h-20zM88.75 163.25h15v2.5h-15zM231.25 163.25h15v2.5h-15zM303.75 163.25h5v2.5h-5zM316.25 163.25h30v2.5h-30zM516.25 163.25h12.5v2.5h-12.5zM548.75 163.25h65v2.5h-65zM616.25 163.25h65v2.5h-65zM726.25 163.25h10v2.5h-10zM798.75 163.25h20v2.5h-20zM886.25 163.25h20v2.5h-20zM86.25 165.75h10v2.5h-10zM233.75 165.75h17.5v2.5h-17.5zM253.75 165.75h2.5v2.5h-2.5zM303.75 165.75h50v2.5h-50zM493.75 165.75h2.5v2.5h-2.5zM516.25 165.75h17.5v2.5h-17.5zM538.75 165.75h15v2.5h-15zM563.75 165.75h5v2.5h-5zM571.25 165.75h112.5v2.5h-112.5zM686.25 165.75h10v2.5h-10zM726.25 165.75h10v2.5h-10zM798.75 165.75h17.5v2.5h-17.5zM886.25 165.75h17.5v2.5h-17.5zM911.25 165.75h7.5v2.5h-7.5zM248.75 168.25h7.5v2.5h-7.5zM301.25 168.25h55v2.5h-55zM488.75 168.25h2.5v2.5h-2.5zM493.75 168.25h5v2.5h-5zM511.25 168.25h40v2.5h-40zM571.25 168.25h130v2.5h-130zM726.25 168.25h10v2.5h-10zM798.75 168.25h17.5v2.5h-17.5zM831.25 168.25h2.5v2.5h-2.5zM886.25 168.25h17.5v2.5h-17.5zM251.25 170.75h12.5v2.5h-12.5zM301.25 170.75h57.5v2.5h-57.5zM486.25 170.75h17.5v2.5h-17.5zM508.75 170.75h5v2.5h-5zM526.25 170.75h25v2.5h-25zM578.75 170.75h7.5v2.5h-7.5zM598.75 170.75h137.5v2.5h-137.5zM796.25 170.75h20v2.5h-20zM833.75 170.75h2.5v2.5h-2.5zM838.75 170.75h2.5v2.5h-2.5zM848.75 170.75h7.5v2.5h-7.5zM886.25 170.75h12.5v2.5h-12.5zM46.25 173.25h2.5v2.5h-2.5zM251.25 173.25h12.5v2.5h-12.5zM301.25 173.25h47.5v2.5h-47.5zM471.25 173.25h5v2.5h-5zM486.25 173.25h17.5v2.5h-17.5zM506.25 173.25h10v2.5h-10zM528.75 173.25h22.5v2.5h-22.5zM601.25 173.25h7.5v2.5h-7.5zM613.75 173.25h37.5v2.5h-37.5zM671.25 173.25h65v2.5h-65zM796.25 173.25h20v2.5h-20zM833.75 173.25h22.5v2.5h-22.5zM886.25 173.25h7.5v2.5h-7.5zM941.25 173.25h7.5v2.5h-7.5zM213.75 175.75h2.5v2.5h-2.5zM253.75 175.75h12.5v2.5h-12.5zM273.75 175.75h2.5v2.5h-2.5zM281.25 175.75h2.5v2.5h-2.5zM301.25 175.75h27.5v2.5h-27.5zM483.75 175.75h32.5v2.5h-32.5zM528.75 175.75h17.5v2.5h-17.5zM613.75 175.75h40v2.5h-40zM673.75 175.75h62.5v2.5h-62.5zM811.25 175.75h7.5v2.5h-7.5zM836.25 175.75h20v2.5h-20zM883.75 175.75h7.5v2.5h-7.5zM216.25 178.25h12.5v2.5h-12.5zM256.25 178.25h32.5v2.5h-32.5zM301.25 178.25h25v2.5h-25zM481.25 178.25h12.5v2.5h-12.5zM496.25 178.25h20v2.5h-20zM528.75 178.25h15v2.5h-15zM613.75 178.25h40v2.5h-40zM673.75 178.25h62.5v2.5h-62.5zM786.25 178.25h10v2.5h-10zM828.75 178.25h30v2.5h-30zM881.25 178.25h7.5v2.5h-7.5zM218.75 180.75h12.5v2.5h-12.5zM258.75 180.75h40v2.5h-40zM301.25 180.75h22.5v2.5h-22.5zM486.25 180.75h30v2.5h-30zM523.75 180.75h20v2.5h-20zM616.25 180.75h37.5v2.5h-37.5zM666.25 180.75h2.5v2.5h-2.5zM676.25 180.75h67.5v2.5h-67.5zM788.75 180.75h7.5v2.5h-7.5zM828.75 180.75h20v2.5h-20zM851.25 180.75h7.5v2.5h-7.5zM881.25 180.75h2.5v2.5h-2.5zM221.25 183.25h17.5v2.5h-17.5zM263.75 183.25h2.5v2.5h-2.5zM278.75 183.25h45v2.5h-45zM483.75 183.25h35v2.5h-35zM521.25 183.25h17.5v2.5h-17.5zM616.25 183.25h127.5v2.5h-127.5zM788.75 183.25h7.5v2.5h-7.5zM828.75 183.25h20v2.5h-20zM851.25 183.25h5v2.5h-5zM223.75 185.75h17.5v2.5h-17.5zM243.75 185.75h5v2.5h-5zM293.75 185.75h27.5v2.5h-27.5zM488.75 185.75h35v2.5h-35zM526.25 185.75h2.5v2.5h-2.5zM536.25 185.75h2.5v2.5h-2.5zM616.25 185.75h127.5v2.5h-127.5zM788.75 185.75h7.5v2.5h-7.5zM828.75 185.75h17.5v2.5h-17.5zM851.25 185.75h7.5v2.5h-7.5zM871.25 185.75h7.5v2.5h-7.5zM223.75 188.25h40v2.5h-40zM296.25 188.25h22.5v2.5h-22.5zM493.75 188.25h27.5v2.5h-27.5zM616.25 188.25h2.5v2.5h-2.5zM633.75 188.25h2.5v2.5h-2.5zM646.25 188.25h17.5v2.5h-17.5zM668.75 188.25h77.5v2.5h-77.5zM788.75 188.25h7.5v2.5h-7.5zM826.25 188.25h17.5v2.5h-17.5zM851.25 188.25h5v2.5h-5zM866.25 188.25h10v2.5h-10zM223.75 190.75h5v2.5h-5zM231.25 190.75h5v2.5h-5zM238.75 190.75h37.5v2.5h-37.5zM296.25 190.75h20v2.5h-20zM493.75 190.75h22.5v2.5h-22.5zM681.25 190.75h10v2.5h-10zM696.25 190.75h32.5v2.5h-32.5zM731.25 190.75h15v2.5h-15zM786.25 190.75h12.5v2.5h-12.5zM826.25 190.75h15v2.5h-15zM851.25 190.75h5v2.5h-5zM861.25 190.75h7.5v2.5h-7.5zM223.75 193.25h2.5v2.5h-2.5zM243.75 193.25h5v2.5h-5zM251.25 193.25h27.5v2.5h-27.5zM293.75 193.25h20v2.5h-20zM481.25 193.25h20v2.5h-20zM503.75 193.25h5v2.5h-5zM511.25 193.25h2.5v2.5h-2.5zM698.75 193.25h2.5v2.5h-2.5zM703.75 193.25h2.5v2.5h-2.5zM731.25 193.25h12.5v2.5h-12.5zM786.25 193.25h12.5v2.5h-12.5zM823.75 193.25h15v2.5h-15zM851.25 193.25h10v2.5h-10zM221.25 195.75h5v2.5h-5zM261.25 195.75h2.5v2.5h-2.5zM266.25 195.75h17.5v2.5h-17.5zM293.75 195.75h22.5v2.5h-22.5zM491.25 195.75h2.5v2.5h-2.5zM731.25 195.75h12.5v2.5h-12.5zM786.25 195.75h12.5v2.5h-12.5zM823.75 195.75h12.5v2.5h-12.5zM846.25 195.75h15v2.5h-15zM216.25 198.25h12.5v2.5h-12.5zM263.75 198.25h20v2.5h-20zM288.75 198.25h27.5v2.5h-27.5zM496.25 198.25h7.5v2.5h-7.5zM613.75 198.25h5v2.5h-5zM731.25 198.25h10v2.5h-10zM756.25 198.25h10v2.5h-10zM793.75 198.25h5v2.5h-5zM823.75 198.25h2.5v2.5h-2.5zM851.25 198.25h7.5v2.5h-7.5zM203.75 200.75h25v2.5h-25zM263.75 200.75h52.5v2.5h-52.5zM496.25 200.75h7.5v2.5h-7.5zM606.25 200.75h12.5v2.5h-12.5zM756.25 200.75h10v2.5h-10zM821.25 200.75h2.5v2.5h-2.5zM186.25 203.25h2.5v2.5h-2.5zM198.75 203.25h27.5v2.5h-27.5zM261.25 203.25h7.5v2.5h-7.5zM283.75 203.25h15v2.5h-15zM303.75 203.25h10v2.5h-10zM608.75 203.25h10v2.5h-10zM756.25 203.25h20v2.5h-20zM186.25 205.75h7.5v2.5h-7.5zM201.25 205.75h25v2.5h-25zM608.75 205.75h10v2.5h-10zM756.25 205.75h20v2.5h-20zM801.25 205.75h5v2.5h-5zM808.75 205.75h10v2.5h-10zM198.75 208.25h5v2.5h-5zM613.75 208.25h7.5v2.5h-7.5zM726.25 208.25h5v2.5h-5zM756.25 208.25h20v2.5h-20zM798.75 208.25h5v2.5h-5zM808.75 208.25h12.5v2.5h-12.5zM198.75 210.75h5v2.5h-5zM616.25 210.75h5v2.5h-5zM723.75 210.75h2.5v2.5h-2.5zM731.25 210.75h7.5v2.5h-7.5zM741.25 210.75h10v2.5h-10zM753.75 210.75h22.5v2.5h-22.5zM798.75 210.75h5v2.5h-5zM811.25 210.75h10v2.5h-10zM191.25 213.25h12.5v2.5h-12.5zM238.75 213.25h2.5v2.5h-2.5zM243.75 213.25h2.5v2.5h-2.5zM698.75 213.25h7.5v2.5h-7.5zM716.25 213.25h7.5v2.5h-7.5zM743.75 213.25h32.5v2.5h-32.5zM798.75 213.25h2.5v2.5h-2.5zM811.25 213.25h10v2.5h-10zM193.75 215.75h10v2.5h-10zM213.75 215.75h10v2.5h-10zM226.25 215.75h25v2.5h-25zM496.25 215.75h5v2.5h-5zM701.25 215.75h5v2.5h-5zM743.75 215.75h2.5v2.5h-2.5zM748.75 215.75h15v2.5h-15zM771.25 215.75h5v2.5h-5zM811.25 215.75h2.5v2.5h-2.5zM196.25 218.25h7.5v2.5h-7.5zM213.75 218.25h40v2.5h-40zM503.75 218.25h7.5v2.5h-7.5zM701.25 218.25h7.5v2.5h-7.5zM743.75 218.25h2.5v2.5h-2.5zM751.25 218.25h7.5v2.5h-7.5zM776.25 218.25h7.5v2.5h-7.5zM201.25 220.75h5v2.5h-5zM218.75 220.75h2.5v2.5h-2.5zM228.75 220.75h25v2.5h-25zM701.25 220.75h10v2.5h-10zM743.75 220.75h2.5v2.5h-2.5zM813.75 220.75h2.5v2.5h-2.5zM203.75 223.25h5v2.5h-5zM218.75 223.25h5v2.5h-5zM228.75 223.25h25v2.5h-25zM488.75 223.25h2.5v2.5h-2.5zM681.25 223.25h2.5v2.5h-2.5zM701.25 223.25h10v2.5h-10zM743.75 223.25h2.5v2.5h-2.5zM218.75 225.75h7.5v2.5h-7.5zM228.75 225.75h25v2.5h-25zM486.25 225.75h2.5v2.5h-2.5zM681.25 225.75h2.5v2.5h-2.5zM698.75 225.75h17.5v2.5h-17.5zM733.75 225.75h12.5v2.5h-12.5zM206.25 228.25h2.5v2.5h-2.5zM211.25 228.25h2.5v2.5h-2.5zM218.75 228.25h5v2.5h-5zM228.75 228.25h25v2.5h-25zM481.25 228.25h5v2.5h-5zM681.25 228.25h2.5v2.5h-2.5zM698.75 228.25h5v2.5h-5zM708.75 228.25h12.5v2.5h-12.5zM723.75 228.25h22.5v2.5h-22.5zM821.25 228.25h5v2.5h-5zM208.75 230.75h5v2.5h-5zM228.75 230.75h5v2.5h-5zM246.25 230.75h10v2.5h-10zM693.75 230.75h10v2.5h-10zM711.25 230.75h22.5v2.5h-22.5zM743.75 230.75h5v2.5h-5zM208.75 233.25h2.5v2.5h-2.5zM221.25 233.25h10v2.5h-10zM246.25 233.25h10v2.5h-10zM651.25 233.25h5v2.5h-5zM696.25 233.25h5v2.5h-5zM711.25 233.25h22.5v2.5h-22.5zM743.75 233.25h5v2.5h-5zM818.75 233.25h5v2.5h-5zM211.25 235.75h5v2.5h-5zM223.75 235.75h7.5v2.5h-7.5zM243.75 235.75h12.5v2.5h-12.5zM481.25 235.75h2.5v2.5h-2.5zM528.75 235.75h7.5v2.5h-7.5zM653.75 235.75h5v2.5h-5zM696.25 235.75h5v2.5h-5zM711.25 235.75h20v2.5h-20zM741.25 235.75h7.5v2.5h-7.5zM763.75 235.75h7.5v2.5h-7.5zM223.75 238.25h7.5v2.5h-7.5zM243.75 238.25h12.5v2.5h-12.5zM528.75 238.25h12.5v2.5h-12.5zM568.75 238.25h2.5v2.5h-2.5zM656.25 238.25h2.5v2.5h-2.5zM696.25 238.25h5v2.5h-5zM713.75 238.25h17.5v2.5h-17.5zM741.25 238.25h2.5v2.5h-2.5zM763.75 238.25h17.5v2.5h-17.5zM223.75 240.75h7.5v2.5h-7.5zM241.25 240.75h5v2.5h-5zM251.25 240.75h2.5v2.5h-2.5zM478.75 240.75h2.5v2.5h-2.5zM528.75 240.75h5v2.5h-5zM541.25 240.75h2.5v2.5h-2.5zM568.75 240.75h10v2.5h-10zM696.25 240.75h5v2.5h-5zM716.25 240.75h12.5v2.5h-12.5zM741.25 240.75h2.5v2.5h-2.5zM761.25 240.75h20v2.5h-20zM216.25 243.25h7.5v2.5h-7.5zM226.25 243.25h5v2.5h-5zM463.75 243.25h2.5v2.5h-2.5zM486.25 243.25h2.5v2.5h-2.5zM493.75 243.25h7.5v2.5h-7.5zM541.25 243.25h2.5v2.5h-2.5zM558.75 243.25h25v2.5h-25zM696.25 243.25h7.5v2.5h-7.5zM713.75 243.25h15v2.5h-15zM741.25 243.25h2.5v2.5h-2.5zM773.75 243.25h7.5v2.5h-7.5zM221.25 245.75h5v2.5h-5zM503.75 245.75h2.5v2.5h-2.5zM541.25 245.75h2.5v2.5h-2.5zM553.75 245.75h30v2.5h-30zM698.75 245.75h5v2.5h-5zM716.25 245.75h12.5v2.5h-12.5zM776.25 245.75h5v2.5h-5zM506.25 248.25h2.5v2.5h-2.5zM556.25 248.25h22.5v2.5h-22.5zM696.25 248.25h32.5v2.5h-32.5zM558.75 250.75h7.5v2.5h-7.5zM576.25 250.75h2.5v2.5h-2.5zM616.25 250.75h5v2.5h-5zM696.25 250.75h20v2.5h-20zM483.75 253.25h2.5v2.5h-2.5zM576.25 253.25h7.5v2.5h-7.5zM623.75 253.25h2.5v2.5h-2.5zM696.25 253.25h17.5v2.5h-17.5zM263.75 255.75h10v2.5h-10zM486.25 255.75h2.5v2.5h-2.5zM558.75 255.75h2.5v2.5h-2.5zM576.25 255.75h7.5v2.5h-7.5zM236.25 258.25h2.5v2.5h-2.5zM261.25 258.25h12.5v2.5h-12.5zM486.25 258.25h2.5v2.5h-2.5zM576.25 258.25h7.5v2.5h-7.5zM611.25 258.25h2.5v2.5h-2.5zM623.75 258.25h2.5v2.5h-2.5zM261.25 260.75h12.5v2.5h-12.5zM563.75 260.75h2.5v2.5h-2.5zM573.75 260.75h10v2.5h-10zM248.75 263.25h2.5v2.5h-2.5zM258.75 263.25h15v2.5h-15zM563.75 263.25h2.5v2.5h-2.5zM573.75 263.25h10v2.5h-10zM268.75 265.75h2.5v2.5h-2.5zM566.25 265.75h15v2.5h-15zM766.25 265.75h5v2.5h-5zM568.75 268.25h10v2.5h-10zM618.75 268.25h2.5v2.5h-2.5zM766.25 268.25h5v2.5h-5zM571.25 270.75h2.5v2.5h-2.5zM578.75 270.75h2.5v2.5h-2.5zM611.25 270.75h2.5v2.5h-2.5zM766.25 270.75h5v2.5h-5zM621.25 273.25h5v2.5h-5zM766.25 273.25h5v2.5h-5zM313.75 275.75h2.5v2.5h-2.5zM613.75 275.75h10v2.5h-10zM308.75 278.25h7.5v2.5h-7.5zM586.25 278.25h5v2.5h-5zM618.75 278.25h7.5v2.5h-7.5zM306.25 280.75h2.5v2.5h-2.5zM313.75 280.75h2.5v2.5h-2.5zM578.75 280.75h10v2.5h-10zM591.25 280.75h2.5v2.5h-2.5zM306.25 283.25h2.5v2.5h-2.5zM316.25 283.25h2.5v2.5h-2.5zM568.75 283.25h2.5v2.5h-2.5zM573.75 283.25h7.5v2.5h-7.5zM588.75 283.25h5v2.5h-5zM596.25 283.25h2.5v2.5h-2.5zM306.25 285.75h15v2.5h-15zM566.25 285.75h12.5v2.5h-12.5zM588.75 285.75h10v2.5h-10zM278.75 288.25h2.5v2.5h-2.5zM306.25 288.25h15v2.5h-15zM568.75 288.25h10v2.5h-10zM591.25 288.25h10v2.5h-10zM306.25 290.75h7.5v2.5h-7.5zM318.75 290.75h5v2.5h-5zM571.25 290.75h7.5v2.5h-7.5zM591.25 290.75h10v2.5h-10zM308.75 293.25h5v2.5h-5zM318.75 293.25h5v2.5h-5zM571.25 293.25h7.5v2.5h-7.5zM596.25 293.25h5v2.5h-5zM306.25 295.75h5v2.5h-5zM316.25 295.75h10v2.5h-10zM341.25 295.75h2.5v2.5h-2.5zM346.25 295.75h2.5v2.5h-2.5zM571.25 295.75h7.5v2.5h-7.5zM601.25 295.75h2.5v2.5h-2.5zM308.75 298.25h2.5v2.5h-2.5zM318.75 298.25h7.5v2.5h-7.5zM341.25 298.25h7.5v2.5h-7.5zM573.75 298.25h2.5v2.5h-2.5zM598.75 298.25h5v2.5h-5zM311.25 300.75h2.5v2.5h-2.5zM318.75 300.75h10v2.5h-10zM573.75 300.75h2.5v2.5h-2.5zM598.75 300.75h2.5v2.5h-2.5zM318.75 303.25h7.5v2.5h-7.5zM573.75 303.25h2.5v2.5h-2.5zM316.25 305.75h7.5v2.5h-7.5zM573.75 305.75h2.5v2.5h-2.5zM598.75 305.75h2.5v2.5h-2.5zM318.75 308.25h2.5v2.5h-2.5zM573.75 308.25h2.5v2.5h-2.5zM596.25 308.25h2.5v2.5h-2.5zM571.25 310.75h7.5v2.5h-7.5zM593.75 310.75h2.5v2.5h-2.5zM568.75 313.25h7.5v2.5h-7.5zM573.75 315.75h2.5v2.5h-2.5zM573.75 318.25h2.5v2.5h-2.5zM591.25 318.25h5v2.5h-5zM396.25 320.75h2.5v2.5h-2.5zM573.75 320.75h2.5v2.5h-2.5zM593.75 320.75h2.5v2.5h-2.5zM393.75 323.25h5v2.5h-5zM573.75 323.25h5v2.5h-5zM581.25 323.25h5v2.5h-5zM596.25 323.25h2.5v2.5h-2.5zM391.25 325.75h7.5v2.5h-7.5zM408.75 325.75h2.5v2.5h-2.5zM581.25 325.75h17.5v2.5h-17.5zM391.25 328.25h7.5v2.5h-7.5zM581.25 328.25h17.5v2.5h-17.5zM393.75 330.75h7.5v2.5h-7.5zM391.25 333.25h12.5v2.5h-12.5zM391.25 335.75h12.5v2.5h-12.5zM328.75 338.25h5v2.5h-5zM388.75 338.25h12.5v2.5h-12.5zM388.75 340.75h12.5v2.5h-12.5zM386.25 343.25h15v2.5h-15zM608.75 343.25h2.5v2.5h-2.5zM341.25 345.75h2.5v2.5h-2.5zM386.25 345.75h15v2.5h-15zM566.25 345.75h5v2.5h-5zM608.75 345.75h2.5v2.5h-2.5zM341.25 348.25h2.5v2.5h-2.5zM383.75 348.25h17.5v2.5h-17.5zM566.25 348.25h15v2.5h-15zM341.25 350.75h10v2.5h-10zM358.75 350.75h2.5v2.5h-2.5zM383.75 350.75h12.5v2.5h-12.5zM566.25 350.75h15v2.5h-15zM893.75 350.75h2.5v2.5h-2.5zM343.75 353.25h12.5v2.5h-12.5zM358.75 353.25h5v2.5h-5zM386.25 353.25h7.5v2.5h-7.5zM568.75 353.25h10v2.5h-10zM611.25 353.25h2.5v2.5h-2.5zM341.25 355.75h22.5v2.5h-22.5zM561.25 355.75h5v2.5h-5zM571.25 355.75h5v2.5h-5zM611.25 355.75h2.5v2.5h-2.5zM636.25 355.75h2.5v2.5h-2.5zM338.75 358.25h2.5v2.5h-2.5zM343.75 358.25h20v2.5h-20zM563.75 358.25h2.5v2.5h-2.5zM123.75 360.75h2.5v2.5h-2.5zM158.75 360.75h2.5v2.5h-2.5zM321.25 360.75h5v2.5h-5zM346.25 360.75h22.5v2.5h-22.5zM318.75 363.25h5v2.5h-5zM343.75 363.25h25v2.5h-25zM781.25 363.25h5v2.5h-5zM871.25 363.25h7.5v2.5h-7.5zM318.75 365.75h7.5v2.5h-7.5zM346.25 365.75h22.5v2.5h-22.5zM778.75 365.75h22.5v2.5h-22.5zM868.75 365.75h12.5v2.5h-12.5zM318.75 368.25h5v2.5h-5zM346.25 368.25h25v2.5h-25zM781.25 368.25h22.5v2.5h-22.5zM868.75 368.25h12.5v2.5h-12.5zM318.75 370.75h5v2.5h-5zM346.25 370.75h30v2.5h-30zM781.25 370.75h25v2.5h-25zM868.75 370.75h12.5v2.5h-12.5zM136.25 373.25h2.5v2.5h-2.5zM318.75 373.25h5v2.5h-5zM348.75 373.25h27.5v2.5h-27.5zM781.25 373.25h25v2.5h-25zM808.75 373.25h7.5v2.5h-7.5zM868.75 373.25h10v2.5h-10zM316.25 375.75h7.5v2.5h-7.5zM351.25 375.75h25v2.5h-25zM783.75 375.75h22.5v2.5h-22.5zM841.25 375.75h2.5v2.5h-2.5zM868.75 375.75h10v2.5h-10zM316.25 378.25h7.5v2.5h-7.5zM351.25 378.25h22.5v2.5h-22.5zM783.75 378.25h22.5v2.5h-22.5zM836.25 378.25h20v2.5h-20zM868.75 378.25h10v2.5h-10zM316.25 380.75h7.5v2.5h-7.5zM353.75 380.75h2.5v2.5h-2.5zM366.25 380.75h5v2.5h-5zM783.75 380.75h25v2.5h-25zM836.25 380.75h20v2.5h-20zM868.75 380.75h10v2.5h-10zM786.25 383.25h22.5v2.5h-22.5zM838.75 383.25h20v2.5h-20zM868.75 383.25h2.5v2.5h-2.5zM873.75 383.25h2.5v2.5h-2.5zM563.75 385.75h5v2.5h-5zM783.75 385.75h25v2.5h-25zM836.25 385.75h27.5v2.5h-27.5zM873.75 385.75h5v2.5h-5zM563.75 388.25h2.5v2.5h-2.5zM783.75 388.25h25v2.5h-25zM833.75 388.25h30v2.5h-30zM786.25 390.75h10v2.5h-10zM841.25 390.75h22.5v2.5h-22.5zM843.75 393.25h20v2.5h-20zM846.25 395.75h17.5v2.5h-17.5zM846.25 398.25h12.5v2.5h-12.5zM318.75 418.25h2.5v2.5h-2.5zM626.25 418.25h2.5v2.5h-2.5zM316.25 420.75h7.5v2.5h-7.5zM591.25 420.75h2.5v2.5h-2.5zM316.25 423.25h5v2.5h-5zM313.75 425.75h7.5v2.5h-7.5zM313.75 428.25h7.5v2.5h-7.5zM316.25 430.75h7.5v2.5h-7.5zM911.25 430.75h2.5v2.5h-2.5zM316.25 433.25h10v2.5h-10zM316.25 435.75h15v2.5h-15zM918.75 435.75h2.5v2.5h-2.5zM316.25 438.25h15v2.5h-15zM318.75 440.75h2.5v2.5h-2.5z"/>
<path fill="#eb4038" d="M316.25 95.75h22.5v2.5h-22.5zM366.25 95.75h25v2.5h-25zM293.75 98.25h2.5v2.5h-2.5zM313.75 98.25h80v2.5h-80zM293.75 100.75h12.5v2.5h-12.5zM311.25 100.75h82.5v2.5h-82.5zM293.75 103.25h12.5v2.5h-12.5zM311.25 103.25h82.5v2.5h-82.5zM293.75 105.75h12.5v2.5h-12.5zM316.25 105.75h75v2.5h-75zM313.75 108.25h62.5v2.5h-62.5zM378.75 108.25h2.5v2.5h-2.5zM383.75 108.25h7.5v2.5h-7.5zM318.75 110.75h57.5v2.5h-57.5zM383.75 110.75h12.5v2.5h-12.5zM323.75 113.25h55v2.5h-55zM383.75 113.25h20v2.5h-20zM721.25 113.25h27.5v2.5h-27.5zM778.75 113.25h5v2.5h-5zM351.25 115.75h57.5v2.5h-57.5zM713.75 115.75h37.5v2.5h-37.5zM753.75 115.75h12.5v2.5h-12.5zM776.25 115.75h5v2.5h-5zM866.25 115.75h7.5v2.5h-7.5zM293.75 118.25h15v2.5h-15zM353.75 118.25h60v2.5h-60zM706.25 118.25h60v2.5h-60zM771.25 118.25h12.5v2.5h-12.5zM801.25 118.25h12.5v2.5h-12.5zM853.75 118.25h2.5v2.5h-2.5zM291.25 120.75h17.5v2.5h-17.5zM356.25 120.75h32.5v2.5h-32.5zM398.75 120.75h20v2.5h-20zM706.25 120.75h20v2.5h-20zM728.75 120.75h57.5v2.5h-57.5zM796.25 120.75h25v2.5h-25zM848.75 120.75h10v2.5h-10zM46.25 123.25h7.5v2.5h-7.5zM286.25 123.25h30v2.5h-30zM358.75 123.25h25v2.5h-25zM401.25 123.25h22.5v2.5h-22.5zM703.75 123.25h12.5v2.5h-12.5zM733.75 123.25h55v2.5h-55zM796.25 123.25h25v2.5h-25zM828.75 123.25h45v2.5h-45zM946.25 123.25h2.5v2.5h-2.5zM46.25 125.75h10v2.5h-10zM93.75 125.75h30v2.5h-30zM286.25 125.75h30v2.5h-30zM358.75 125.75h27.5v2.5h-27.5zM401.25 125.75h22.5v2.5h-22.5zM708.75 125.75h5v2.5h-5zM733.75 125.75h60v2.5h-60zM798.75 125.75h92.5v2.5h-92.5zM946.25 125.75h2.5v2.5h-2.5zM96.25 128.25h40v2.5h-40zM143.75 128.25h5v2.5h-5zM158.75 128.25h7.5v2.5h-7.5zM286.25 128.25h2.5v2.5h-2.5zM293.75 128.25h5v2.5h-5zM361.25 128.25h25v2.5h-25zM401.25 128.25h30v2.5h-30zM733.75 128.25h50v2.5h-50zM791.25 128.25h17.5v2.5h-17.5zM816.25 128.25h75v2.5h-75zM46.25 130.75h5v2.5h-5zM83.75 130.75h7.5v2.5h-7.5zM96.25 130.75h40v2.5h-40zM143.75 130.75h22.5v2.5h-22.5zM293.75 130.75h2.5v2.5h-2.5zM318.75 130.75h10v2.5h-10zM363.75 130.75h30v2.5h-30zM401.25 130.75h32.5v2.5h-32.5zM736.25 130.75h45v2.5h-45zM798.75 130.75h7.5v2.5h-7.5zM833.75 130.75h57.5v2.5h-57.5zM946.25 130.75h2.5v2.5h-2.5zM48.75 133.25h10v2.5h-10zM78.75 133.25h90v2.5h-90zM321.25 133.25h10v2.5h-10zM361.25 133.25h70v2.5h-70zM736.25 133.25h37.5v2.5h-37.5zM798.75 133.25h10v2.5h-10zM841.25 133.25h50v2.5h-50zM48.75 135.75h22.5v2.5h-22.5zM78.75 135.75h40v2.5h-40zM128.75 135.75h40v2.5h-40zM361.25 135.75h57.5v2.5h-57.5zM741.25 135.75h30v2.5h-30zM791.25 135.75h2.5v2.5h-2.5zM798.75 135.75h10v2.5h-10zM843.75 135.75h47.5v2.5h-47.5zM926.25 135.75h20v2.5h-20zM48.75 138.25h25v2.5h-25zM76.25 138.25h27.5v2.5h-27.5zM108.75 138.25h5v2.5h-5zM143.75 138.25h27.5v2.5h-27.5zM363.75 138.25h47.5v2.5h-47.5zM733.75 138.25h7.5v2.5h-7.5zM743.75 138.25h2.5v2.5h-2.5zM751.25 138.25h5v2.5h-5zM761.25 138.25h12.5v2.5h-12.5zM781.25 138.25h32.5v2.5h-32.5zM846.25 138.25h45v2.5h-45zM926.25 138.25h20v2.5h-20zM48.75 140.75h22.5v2.5h-22.5zM83.75 140.75h5v2.5h-5zM143.75 140.75h30v2.5h-30zM366.25 140.75h35v2.5h-35zM761.25 140.75h22.5v2.5h-22.5zM796.25 140.75h20v2.5h-20zM826.25 140.75h5v2.5h-5zM858.75 140.75h32.5v2.5h-32.5zM933.75 140.75h5v2.5h-5zM941.25 140.75h5v2.5h-5zM63.75 143.25h2.5v2.5h-2.5zM146.25 143.25h2.5v2.5h-2.5zM156.25 143.25h30v2.5h-30zM366.25 143.25h30v2.5h-30zM768.75 143.25h10v2.5h-10zM796.25 143.25h25v2.5h-25zM823.75 143.25h10v2.5h-10zM858.75 143.25h32.5v2.5h-32.5zM66.25 145.75h5v2.5h-5zM156.25 145.75h7.5v2.5h-7.5zM173.75 145.75h12.5v2.5h-12.5zM368.75 145.75h27.5v2.5h-27.5zM771.25 145.75h7.5v2.5h-7.5zM796.25 145.75h37.5v2.5h-37.5zM856.25 145.75h35v2.5h-35zM136.25 148.25h12.5v2.5h-12.5zM156.25 148.25h2.5v2.5h-2.5zM176.25 148.25h10v2.5h-10zM371.25 148.25h12.5v2.5h-12.5zM388.75 148.25h5v2.5h-5zM796.25 148.25h37.5v2.5h-37.5zM856.25 148.25h37.5v2.5h-37.5zM138.75 150.75h17.5v2.5h-17.5zM176.25 150.75h20v2.5h-20zM376.25 150.75h7.5v2.5h-7.5zM386.25 150.75h7.5v2.5h-7.5zM798.75 150.75h40v2.5h-40zM853.75 150.75h37.5v2.5h-37.5zM133.75 153.25h17.5v2.5h-17.5zM178.75 153.25h17.5v2.5h-17.5zM198.75 153.25h5v2.5h-5zM208.75 153.25h2.5v2.5h-2.5zM383.75 153.25h7.5v2.5h-7.5zM798.75 153.25h40v2.5h-40zM851.25 153.25h37.5v2.5h-37.5zM148.75 155.75h7.5v2.5h-7.5zM181.25 155.75h27.5v2.5h-27.5zM803.75 155.75h12.5v2.5h-12.5zM818.75 155.75h27.5v2.5h-27.5zM848.75 155.75h37.5v2.5h-37.5zM891.25 155.75h2.5v2.5h-2.5zM116.25 158.25h2.5v2.5h-2.5zM153.75 158.25h5v2.5h-5zM186.25 158.25h37.5v2.5h-37.5zM733.75 158.25h10v2.5h-10zM758.75 158.25h2.5v2.5h-2.5zM786.25 158.25h2.5v2.5h-2.5zM793.75 158.25h2.5v2.5h-2.5zM818.75 158.25h32.5v2.5h-32.5zM888.75 158.25h5v2.5h-5zM113.75 160.75h5v2.5h-5zM193.75 160.75h37.5v2.5h-37.5zM308.75 160.75h10v2.5h-10zM733.75 160.75h65v2.5h-65zM818.75 160.75h7.5v2.5h-7.5zM836.25 160.75h10v2.5h-10zM198.75 163.25h32.5v2.5h-32.5zM308.75 163.25h7.5v2.5h-7.5zM736.25 163.25h62.5v2.5h-62.5zM818.75 163.25h5v2.5h-5zM836.25 163.25h7.5v2.5h-7.5zM201.25 165.75h32.5v2.5h-32.5zM553.75 165.75h10v2.5h-10zM568.75 165.75h2.5v2.5h-2.5zM736.25 165.75h62.5v2.5h-62.5zM816.25 165.75h12.5v2.5h-12.5zM836.25 165.75h5v2.5h-5zM81.25 168.25h5v2.5h-5zM163.75 168.25h2.5v2.5h-2.5zM206.25 168.25h5v2.5h-5zM216.25 168.25h32.5v2.5h-32.5zM551.25 168.25h20v2.5h-20zM736.25 168.25h62.5v2.5h-62.5zM816.25 168.25h12.5v2.5h-12.5zM838.75 168.25h10v2.5h-10zM851.25 168.25h2.5v2.5h-2.5zM71.25 170.75h10v2.5h-10zM166.25 170.75h2.5v2.5h-2.5zM221.25 170.75h30v2.5h-30zM551.25 170.75h27.5v2.5h-27.5zM586.25 170.75h12.5v2.5h-12.5zM736.25 170.75h60v2.5h-60zM816.25 170.75h17.5v2.5h-17.5zM841.25 170.75h7.5v2.5h-7.5zM48.75 173.25h20v2.5h-20zM168.75 173.25h2.5v2.5h-2.5zM201.25 173.25h50v2.5h-50zM348.75 173.25h10v2.5h-10zM551.25 173.25h50v2.5h-50zM608.75 173.25h5v2.5h-5zM736.25 173.25h60v2.5h-60zM816.25 173.25h17.5v2.5h-17.5zM48.75 175.75h2.5v2.5h-2.5zM206.25 175.75h7.5v2.5h-7.5zM216.25 175.75h37.5v2.5h-37.5zM328.75 175.75h30v2.5h-30zM546.25 175.75h67.5v2.5h-67.5zM736.25 175.75h20v2.5h-20zM763.75 175.75h35v2.5h-35zM826.25 175.75h10v2.5h-10zM206.25 178.25h10v2.5h-10zM228.75 178.25h27.5v2.5h-27.5zM326.25 178.25h22.5v2.5h-22.5zM353.75 178.25h10v2.5h-10zM543.75 178.25h17.5v2.5h-17.5zM566.25 178.25h2.5v2.5h-2.5zM576.25 178.25h7.5v2.5h-7.5zM586.25 178.25h27.5v2.5h-27.5zM736.25 178.25h5v2.5h-5zM778.75 178.25h7.5v2.5h-7.5zM208.75 180.75h10v2.5h-10zM231.25 180.75h27.5v2.5h-27.5zM323.75 180.75h20v2.5h-20zM351.25 180.75h15v2.5h-15zM543.75 180.75h15v2.5h-15zM596.25 180.75h20v2.5h-20zM211.25 183.25h10v2.5h-10zM238.75 183.25h25v2.5h-25zM266.25 183.25h12.5v2.5h-12.5zM323.75 183.25h15v2.5h-15zM348.75 183.25h17.5v2.5h-17.5zM538.75 183.25h15v2.5h-15zM598.75 183.25h2.5v2.5h-2.5zM603.75 183.25h12.5v2.5h-12.5zM208.75 185.75h15v2.5h-15zM241.25 185.75h2.5v2.5h-2.5zM248.75 185.75h45v2.5h-45zM321.25 185.75h22.5v2.5h-22.5zM356.25 185.75h10v2.5h-10zM531.25 185.75h5v2.5h-5zM538.75 185.75h12.5v2.5h-12.5zM606.25 185.75h10v2.5h-10zM196.25 188.25h27.5v2.5h-27.5zM263.75 188.25h32.5v2.5h-32.5zM318.75 188.25h30v2.5h-30zM531.25 188.25h20v2.5h-20zM606.25 188.25h10v2.5h-10zM628.75 188.25h5v2.5h-5zM636.25 188.25h10v2.5h-10zM663.75 188.25h5v2.5h-5zM196.25 190.75h27.5v2.5h-27.5zM276.25 190.75h20v2.5h-20zM316.25 190.75h30v2.5h-30zM516.25 190.75h12.5v2.5h-12.5zM606.25 190.75h10v2.5h-10zM623.75 190.75h57.5v2.5h-57.5zM691.25 190.75h5v2.5h-5zM196.25 193.25h27.5v2.5h-27.5zM278.75 193.25h15v2.5h-15zM313.75 193.25h15v2.5h-15zM331.25 193.25h7.5v2.5h-7.5zM508.75 193.25h2.5v2.5h-2.5zM513.75 193.25h2.5v2.5h-2.5zM606.25 193.25h10v2.5h-10zM623.75 193.25h75v2.5h-75zM701.25 193.25h2.5v2.5h-2.5zM706.25 193.25h2.5v2.5h-2.5zM198.75 195.75h22.5v2.5h-22.5zM283.75 195.75h10v2.5h-10zM316.25 195.75h7.5v2.5h-7.5zM503.75 195.75h12.5v2.5h-12.5zM603.75 195.75h12.5v2.5h-12.5zM626.25 195.75h85v2.5h-85zM196.25 198.25h20v2.5h-20zM283.75 198.25h5v2.5h-5zM316.25 198.25h7.5v2.5h-7.5zM503.75 198.25h2.5v2.5h-2.5zM606.25 198.25h7.5v2.5h-7.5zM628.75 198.25h55v2.5h-55zM688.75 198.25h22.5v2.5h-22.5zM728.75 198.25h2.5v2.5h-2.5zM741.25 198.25h5v2.5h-5zM748.75 198.25h7.5v2.5h-7.5zM846.25 198.25h5v2.5h-5zM196.25 200.75h7.5v2.5h-7.5zM316.25 200.75h5v2.5h-5zM618.75 200.75h2.5v2.5h-2.5zM628.75 200.75h55v2.5h-55zM731.25 200.75h25v2.5h-25zM846.25 200.75h7.5v2.5h-7.5zM196.25 203.25h2.5v2.5h-2.5zM503.75 203.25h2.5v2.5h-2.5zM618.75 203.25h2.5v2.5h-2.5zM628.75 203.25h47.5v2.5h-47.5zM721.25 203.25h35v2.5h-35zM846.25 203.25h7.5v2.5h-7.5zM193.75 205.75h7.5v2.5h-7.5zM418.75 205.75h2.5v2.5h-2.5zM503.75 205.75h2.5v2.5h-2.5zM596.25 205.75h5v2.5h-5zM606.25 205.75h2.5v2.5h-2.5zM618.75 205.75h2.5v2.5h-2.5zM631.25 205.75h47.5v2.5h-47.5zM706.25 205.75h5v2.5h-5zM713.75 205.75h42.5v2.5h-42.5zM846.25 205.75h7.5v2.5h-7.5zM188.75 208.25h10v2.5h-10zM428.75 208.25h2.5v2.5h-2.5zM596.25 208.25h10v2.5h-10zM631.25 208.25h27.5v2.5h-27.5zM666.25 208.25h2.5v2.5h-2.5zM673.75 208.25h5v2.5h-5zM703.75 208.25h22.5v2.5h-22.5zM731.25 208.25h25v2.5h-25zM843.75 208.25h7.5v2.5h-7.5zM191.25 210.75h7.5v2.5h-7.5zM603.75 210.75h5v2.5h-5zM621.25 210.75h5v2.5h-5zM628.75 210.75h30v2.5h-30zM673.75 210.75h7.5v2.5h-7.5zM701.25 210.75h22.5v2.5h-22.5zM738.75 210.75h2.5v2.5h-2.5zM751.25 210.75h2.5v2.5h-2.5zM838.75 210.75h12.5v2.5h-12.5zM511.25 213.25h2.5v2.5h-2.5zM628.75 213.25h7.5v2.5h-7.5zM638.75 213.25h20v2.5h-20zM673.75 213.25h7.5v2.5h-7.5zM836.25 213.25h15v2.5h-15zM511.25 215.75h2.5v2.5h-2.5zM628.75 215.75h2.5v2.5h-2.5zM643.75 215.75h15v2.5h-15zM673.75 215.75h10v2.5h-10zM746.25 215.75h2.5v2.5h-2.5zM763.75 215.75h7.5v2.5h-7.5zM813.75 215.75h5v2.5h-5zM841.25 215.75h7.5v2.5h-7.5zM496.25 218.25h7.5v2.5h-7.5zM643.75 218.25h17.5v2.5h-17.5zM676.25 218.25h7.5v2.5h-7.5zM698.75 218.25h2.5v2.5h-2.5zM748.75 218.25h2.5v2.5h-2.5zM758.75 218.25h17.5v2.5h-17.5zM791.25 218.25h7.5v2.5h-7.5zM813.75 218.25h2.5v2.5h-2.5zM836.25 218.25h5v2.5h-5zM491.25 220.75h2.5v2.5h-2.5zM506.25 220.75h5v2.5h-5zM516.25 220.75h2.5v2.5h-2.5zM646.25 220.75h17.5v2.5h-17.5zM668.75 220.75h17.5v2.5h-17.5zM696.25 220.75h5v2.5h-5zM751.25 220.75h15v2.5h-15zM768.75 220.75h32.5v2.5h-32.5zM811.25 220.75h2.5v2.5h-2.5zM518.75 223.25h2.5v2.5h-2.5zM531.25 223.25h2.5v2.5h-2.5zM638.75 223.25h42.5v2.5h-42.5zM693.75 223.25h7.5v2.5h-7.5zM768.75 223.25h35v2.5h-35zM516.25 225.75h22.5v2.5h-22.5zM631.25 225.75h50v2.5h-50zM683.75 225.75h15v2.5h-15zM768.75 225.75h35v2.5h-35zM518.75 228.25h20v2.5h-20zM628.75 228.25h52.5v2.5h-52.5zM683.75 228.25h15v2.5h-15zM746.25 228.25h10v2.5h-10zM771.25 228.25h32.5v2.5h-32.5zM201.25 230.75h2.5v2.5h-2.5zM233.75 230.75h12.5v2.5h-12.5zM463.75 230.75h2.5v2.5h-2.5zM468.75 230.75h2.5v2.5h-2.5zM481.25 230.75h2.5v2.5h-2.5zM521.25 230.75h22.5v2.5h-22.5zM626.25 230.75h65v2.5h-65zM748.75 230.75h10v2.5h-10zM771.25 230.75h22.5v2.5h-22.5zM798.75 230.75h5v2.5h-5zM231.25 233.25h15v2.5h-15zM458.75 233.25h10v2.5h-10zM481.25 233.25h2.5v2.5h-2.5zM521.25 233.25h22.5v2.5h-22.5zM568.75 233.25h2.5v2.5h-2.5zM626.25 233.25h25v2.5h-25zM656.25 233.25h30v2.5h-30zM693.75 233.25h2.5v2.5h-2.5zM748.75 233.25h10v2.5h-10zM763.75 233.25h22.5v2.5h-22.5zM796.25 233.25h5v2.5h-5zM231.25 235.75h12.5v2.5h-12.5zM461.25 235.75h5v2.5h-5zM483.75 235.75h2.5v2.5h-2.5zM521.25 235.75h7.5v2.5h-7.5zM536.25 235.75h7.5v2.5h-7.5zM558.75 235.75h12.5v2.5h-12.5zM573.75 235.75h5v2.5h-5zM626.25 235.75h27.5v2.5h-27.5zM658.75 235.75h12.5v2.5h-12.5zM691.25 235.75h5v2.5h-5zM748.75 235.75h15v2.5h-15zM771.25 235.75h12.5v2.5h-12.5zM796.25 235.75h2.5v2.5h-2.5zM231.25 238.25h12.5v2.5h-12.5zM291.25 238.25h7.5v2.5h-7.5zM301.25 238.25h5v2.5h-5zM458.75 238.25h7.5v2.5h-7.5zM521.25 238.25h7.5v2.5h-7.5zM541.25 238.25h2.5v2.5h-2.5zM553.75 238.25h15v2.5h-15zM571.25 238.25h10v2.5h-10zM638.75 238.25h17.5v2.5h-17.5zM658.75 238.25h12.5v2.5h-12.5zM693.75 238.25h2.5v2.5h-2.5zM743.75 238.25h10v2.5h-10zM758.75 238.25h5v2.5h-5zM781.25 238.25h2.5v2.5h-2.5zM793.75 238.25h5v2.5h-5zM813.75 238.25h5v2.5h-5zM823.75 238.25h2.5v2.5h-2.5zM231.25 240.75h7.5v2.5h-7.5zM293.75 240.75h5v2.5h-5zM303.75 240.75h2.5v2.5h-2.5zM458.75 240.75h7.5v2.5h-7.5zM476.25 240.75h2.5v2.5h-2.5zM483.75 240.75h2.5v2.5h-2.5zM488.75 240.75h2.5v2.5h-2.5zM521.25 240.75h7.5v2.5h-7.5zM543.75 240.75h25v2.5h-25zM578.75 240.75h2.5v2.5h-2.5zM643.75 240.75h27.5v2.5h-27.5zM743.75 240.75h2.5v2.5h-2.5zM756.25 240.75h5v2.5h-5zM781.25 240.75h2.5v2.5h-2.5zM793.75 240.75h2.5v2.5h-2.5zM798.75 240.75h5v2.5h-5zM808.75 240.75h2.5v2.5h-2.5zM848.75 240.75h2.5v2.5h-2.5zM231.25 243.25h7.5v2.5h-7.5zM303.75 243.25h5v2.5h-5zM456.25 243.25h7.5v2.5h-7.5zM473.75 243.25h2.5v2.5h-2.5zM483.75 243.25h2.5v2.5h-2.5zM501.25 243.25h2.5v2.5h-2.5zM521.25 243.25h17.5v2.5h-17.5zM543.75 243.25h15v2.5h-15zM583.75 243.25h2.5v2.5h-2.5zM663.75 243.25h7.5v2.5h-7.5zM756.25 243.25h17.5v2.5h-17.5zM781.25 243.25h10v2.5h-10zM801.25 243.25h2.5v2.5h-2.5zM806.25 243.25h5v2.5h-5zM231.25 245.75h7.5v2.5h-7.5zM286.25 245.75h15v2.5h-15zM308.75 245.75h2.5v2.5h-2.5zM458.75 245.75h17.5v2.5h-17.5zM481.25 245.75h2.5v2.5h-2.5zM506.25 245.75h5v2.5h-5zM528.75 245.75h12.5v2.5h-12.5zM543.75 245.75h10v2.5h-10zM583.75 245.75h2.5v2.5h-2.5zM668.75 245.75h7.5v2.5h-7.5zM691.25 245.75h7.5v2.5h-7.5zM758.75 245.75h17.5v2.5h-17.5zM781.25 245.75h10v2.5h-10zM231.25 248.25h7.5v2.5h-7.5zM283.75 248.25h22.5v2.5h-22.5zM311.25 248.25h2.5v2.5h-2.5zM316.25 248.25h2.5v2.5h-2.5zM481.25 248.25h2.5v2.5h-2.5zM508.75 248.25h2.5v2.5h-2.5zM538.75 248.25h17.5v2.5h-17.5zM583.75 248.25h2.5v2.5h-2.5zM668.75 248.25h15v2.5h-15zM688.75 248.25h7.5v2.5h-7.5zM766.25 248.25h20v2.5h-20zM233.75 250.75h5v2.5h-5zM301.25 250.75h2.5v2.5h-2.5zM313.75 250.75h2.5v2.5h-2.5zM478.75 250.75h5v2.5h-5zM508.75 250.75h2.5v2.5h-2.5zM548.75 250.75h10v2.5h-10zM583.75 250.75h2.5v2.5h-2.5zM621.25 250.75h5v2.5h-5zM671.25 250.75h25v2.5h-25zM716.25 250.75h2.5v2.5h-2.5zM726.25 250.75h2.5v2.5h-2.5zM771.25 250.75h5v2.5h-5zM233.75 253.25h5v2.5h-5zM268.75 253.25h2.5v2.5h-2.5zM301.25 253.25h2.5v2.5h-2.5zM306.25 253.25h7.5v2.5h-7.5zM478.75 253.25h2.5v2.5h-2.5zM508.75 253.25h2.5v2.5h-2.5zM513.75 253.25h7.5v2.5h-7.5zM583.75 253.25h2.5v2.5h-2.5zM678.75 253.25h12.5v2.5h-12.5zM693.75 253.25h2.5v2.5h-2.5zM713.75 253.25h2.5v2.5h-2.5zM768.75 253.25h7.5v2.5h-7.5zM233.75 255.75h5v2.5h-5zM303.75 255.75h2.5v2.5h-2.5zM328.75 255.75h2.5v2.5h-2.5zM481.25 255.75h5v2.5h-5zM506.25 255.75h2.5v2.5h-2.5zM511.25 255.75h10v2.5h-10zM583.75 255.75h2.5v2.5h-2.5zM608.75 255.75h2.5v2.5h-2.5zM678.75 255.75h5v2.5h-5zM693.75 255.75h17.5v2.5h-17.5zM771.25 255.75h5v2.5h-5zM861.25 255.75h2.5v2.5h-2.5zM303.75 258.25h5v2.5h-5zM311.25 258.25h2.5v2.5h-2.5zM483.75 258.25h2.5v2.5h-2.5zM491.25 258.25h5v2.5h-5zM501.25 258.25h5v2.5h-5zM511.25 258.25h5v2.5h-5zM556.25 258.25h7.5v2.5h-7.5zM583.75 258.25h2.5v2.5h-2.5zM678.75 258.25h2.5v2.5h-2.5zM693.75 258.25h15v2.5h-15zM861.25 258.25h2.5v2.5h-2.5zM486.25 260.75h5v2.5h-5zM496.25 260.75h5v2.5h-5zM561.25 260.75h2.5v2.5h-2.5zM583.75 260.75h2.5v2.5h-2.5zM611.25 260.75h2.5v2.5h-2.5zM621.25 260.75h2.5v2.5h-2.5zM678.75 260.75h2.5v2.5h-2.5zM693.75 260.75h12.5v2.5h-12.5zM286.25 263.25h2.5v2.5h-2.5zM613.75 263.25h2.5v2.5h-2.5zM618.75 263.25h2.5v2.5h-2.5zM696.25 263.25h7.5v2.5h-7.5zM861.25 263.25h2.5v2.5h-2.5zM263.75 265.75h5v2.5h-5zM271.25 265.75h5v2.5h-5zM283.75 265.75h7.5v2.5h-7.5zM563.75 265.75h2.5v2.5h-2.5zM581.25 265.75h5v2.5h-5zM696.25 265.75h2.5v2.5h-2.5zM861.25 265.75h2.5v2.5h-2.5zM266.25 268.25h12.5v2.5h-12.5zM283.75 268.25h7.5v2.5h-7.5zM563.75 268.25h5v2.5h-5zM578.75 268.25h7.5v2.5h-7.5zM858.75 268.25h2.5v2.5h-2.5zM273.75 270.75h17.5v2.5h-17.5zM568.75 270.75h2.5v2.5h-2.5zM573.75 270.75h5v2.5h-5zM581.25 270.75h5v2.5h-5zM696.25 270.75h2.5v2.5h-2.5zM858.75 270.75h2.5v2.5h-2.5zM278.75 273.25h10v2.5h-10zM313.75 273.25h12.5v2.5h-12.5zM576.25 273.25h7.5v2.5h-7.5zM696.25 273.25h2.5v2.5h-2.5zM281.25 275.75h7.5v2.5h-7.5zM308.75 275.75h5v2.5h-5zM316.25 275.75h17.5v2.5h-17.5zM586.25 275.75h5v2.5h-5zM623.75 275.75h2.5v2.5h-2.5zM696.25 275.75h2.5v2.5h-2.5zM281.25 278.25h2.5v2.5h-2.5zM306.25 278.25h2.5v2.5h-2.5zM316.25 278.25h17.5v2.5h-17.5zM581.25 278.25h5v2.5h-5zM693.75 278.25h5v2.5h-5zM303.75 280.75h2.5v2.5h-2.5zM316.25 280.75h17.5v2.5h-17.5zM573.75 280.75h5v2.5h-5zM596.25 280.75h5v2.5h-5zM686.25 280.75h2.5v2.5h-2.5zM693.75 280.75h7.5v2.5h-7.5zM303.75 283.25h2.5v2.5h-2.5zM318.75 283.25h17.5v2.5h-17.5zM566.25 283.25h2.5v2.5h-2.5zM571.25 283.25h2.5v2.5h-2.5zM593.75 283.25h2.5v2.5h-2.5zM598.75 283.25h2.5v2.5h-2.5zM696.25 283.25h5v2.5h-5zM303.75 285.75h2.5v2.5h-2.5zM321.25 285.75h15v2.5h-15zM561.25 285.75h5v2.5h-5zM598.75 285.75h2.5v2.5h-2.5zM696.25 285.75h7.5v2.5h-7.5zM321.25 288.25h15v2.5h-15zM561.25 288.25h7.5v2.5h-7.5zM696.25 288.25h5v2.5h-5zM323.75 290.75h5v2.5h-5zM568.75 290.75h2.5v2.5h-2.5zM601.25 290.75h2.5v2.5h-2.5zM733.75 290.75h2.5v2.5h-2.5zM306.25 293.25h2.5v2.5h-2.5zM323.75 293.25h5v2.5h-5zM338.75 293.25h2.5v2.5h-2.5zM601.25 293.25h2.5v2.5h-2.5zM326.25 295.75h2.5v2.5h-2.5zM338.75 295.75h2.5v2.5h-2.5zM343.75 295.75h2.5v2.5h-2.5zM348.75 295.75h2.5v2.5h-2.5zM326.25 298.25h2.5v2.5h-2.5zM338.75 298.25h2.5v2.5h-2.5zM348.75 298.25h2.5v2.5h-2.5zM568.75 298.25h5v2.5h-5zM603.75 298.25h2.5v2.5h-2.5zM308.75 300.75h2.5v2.5h-2.5zM336.25 300.75h17.5v2.5h-17.5zM571.25 300.75h2.5v2.5h-2.5zM601.25 300.75h5v2.5h-5zM311.25 303.25h2.5v2.5h-2.5zM326.25 303.25h5v2.5h-5zM601.25 303.25h2.5v2.5h-2.5zM293.75 305.75h2.5v2.5h-2.5zM323.75 305.75h2.5v2.5h-2.5zM568.75 305.75h5v2.5h-5zM601.25 305.75h2.5v2.5h-2.5zM913.75 305.75h2.5v2.5h-2.5zM293.75 308.25h2.5v2.5h-2.5zM568.75 308.25h5v2.5h-5zM598.75 308.25h2.5v2.5h-2.5zM566.25 310.75h5v2.5h-5zM596.25 310.75h2.5v2.5h-2.5zM293.75 313.25h2.5v2.5h-2.5zM566.25 313.25h2.5v2.5h-2.5zM596.25 313.25h2.5v2.5h-2.5zM633.75 313.25h5v2.5h-5zM406.25 315.75h5v2.5h-5zM566.25 315.75h7.5v2.5h-7.5zM633.75 315.75h5v2.5h-5zM293.75 318.25h2.5v2.5h-2.5zM396.25 318.25h2.5v2.5h-2.5zM571.25 318.25h2.5v2.5h-2.5zM596.25 318.25h2.5v2.5h-2.5zM393.75 320.75h2.5v2.5h-2.5zM571.25 320.75h2.5v2.5h-2.5zM571.25 323.25h2.5v2.5h-2.5zM578.75 323.25h2.5v2.5h-2.5zM388.75 325.75h2.5v2.5h-2.5zM571.25 325.75h10v2.5h-10zM388.75 328.25h2.5v2.5h-2.5zM576.25 328.25h5v2.5h-5zM328.75 330.75h2.5v2.5h-2.5zM386.25 330.75h7.5v2.5h-7.5zM578.75 330.75h22.5v2.5h-22.5zM328.75 333.25h10v2.5h-10zM388.75 333.25h2.5v2.5h-2.5zM531.25 333.25h12.5v2.5h-12.5zM618.75 333.25h2.5v2.5h-2.5zM326.25 335.75h12.5v2.5h-12.5zM388.75 335.75h2.5v2.5h-2.5zM528.75 335.75h15v2.5h-15zM616.25 335.75h5v2.5h-5zM326.25 338.25h2.5v2.5h-2.5zM333.75 338.25h20v2.5h-20zM386.25 338.25h2.5v2.5h-2.5zM528.75 338.25h15v2.5h-15zM616.25 338.25h5v2.5h-5zM853.75 338.25h2.5v2.5h-2.5zM336.25 340.75h7.5v2.5h-7.5zM356.25 340.75h2.5v2.5h-2.5zM386.25 340.75h2.5v2.5h-2.5zM526.25 340.75h17.5v2.5h-17.5zM618.75 340.75h5v2.5h-5zM853.75 340.75h7.5v2.5h-7.5zM338.75 343.25h5v2.5h-5zM358.75 343.25h2.5v2.5h-2.5zM383.75 343.25h2.5v2.5h-2.5zM526.25 343.25h17.5v2.5h-17.5zM561.25 343.25h25v2.5h-25zM828.75 343.25h5v2.5h-5zM853.75 343.25h7.5v2.5h-7.5zM48.75 345.75h2.5v2.5h-2.5zM338.75 345.75h2.5v2.5h-2.5zM358.75 345.75h10v2.5h-10zM383.75 345.75h2.5v2.5h-2.5zM526.25 345.75h17.5v2.5h-17.5zM561.25 345.75h5v2.5h-5zM571.25 345.75h15v2.5h-15zM606.25 345.75h2.5v2.5h-2.5zM621.25 345.75h2.5v2.5h-2.5zM821.25 345.75h12.5v2.5h-12.5zM853.75 345.75h10v2.5h-10zM941.25 345.75h5v2.5h-5zM48.75 348.25h2.5v2.5h-2.5zM338.75 348.25h2.5v2.5h-2.5zM358.75 348.25h12.5v2.5h-12.5zM526.25 348.25h17.5v2.5h-17.5zM553.75 348.25h12.5v2.5h-12.5zM581.25 348.25h5v2.5h-5zM606.25 348.25h5v2.5h-5zM818.75 348.25h15v2.5h-15zM853.75 348.25h10v2.5h-10zM938.75 348.25h7.5v2.5h-7.5zM71.25 350.75h2.5v2.5h-2.5zM338.75 350.75h2.5v2.5h-2.5zM361.25 350.75h10v2.5h-10zM381.25 350.75h2.5v2.5h-2.5zM396.25 350.75h2.5v2.5h-2.5zM526.25 350.75h10v2.5h-10zM551.25 350.75h15v2.5h-15zM581.25 350.75h7.5v2.5h-7.5zM606.25 350.75h5v2.5h-5zM818.75 350.75h17.5v2.5h-17.5zM853.75 350.75h10v2.5h-10zM58.75 353.25h5v2.5h-5zM341.25 353.25h2.5v2.5h-2.5zM363.75 353.25h22.5v2.5h-22.5zM393.75 353.25h5v2.5h-5zM528.75 353.25h7.5v2.5h-7.5zM551.25 353.25h17.5v2.5h-17.5zM578.75 353.25h7.5v2.5h-7.5zM606.25 353.25h5v2.5h-5zM618.75 353.25h2.5v2.5h-2.5zM823.75 353.25h7.5v2.5h-7.5zM833.75 353.25h2.5v2.5h-2.5zM861.25 353.25h2.5v2.5h-2.5zM906.25 353.25h2.5v2.5h-2.5zM61.25 355.75h2.5v2.5h-2.5zM96.25 355.75h2.5v2.5h-2.5zM148.75 355.75h2.5v2.5h-2.5zM326.25 355.75h5v2.5h-5zM338.75 355.75h2.5v2.5h-2.5zM363.75 355.75h32.5v2.5h-32.5zM528.75 355.75h7.5v2.5h-7.5zM551.25 355.75h10v2.5h-10zM566.25 355.75h5v2.5h-5zM576.25 355.75h10v2.5h-10zM606.25 355.75h5v2.5h-5zM618.75 355.75h2.5v2.5h-2.5zM783.75 355.75h2.5v2.5h-2.5zM826.25 355.75h5v2.5h-5zM906.25 355.75h7.5v2.5h-7.5zM143.75 358.25h2.5v2.5h-2.5zM148.75 358.25h2.5v2.5h-2.5zM321.25 358.25h7.5v2.5h-7.5zM363.75 358.25h32.5v2.5h-32.5zM531.25 358.25h5v2.5h-5zM551.25 358.25h12.5v2.5h-12.5zM571.25 358.25h15v2.5h-15zM606.25 358.25h2.5v2.5h-2.5zM778.75 358.25h12.5v2.5h-12.5zM826.25 358.25h2.5v2.5h-2.5zM831.25 358.25h5v2.5h-5zM911.25 358.25h5v2.5h-5zM368.75 360.75h25v2.5h-25zM531.25 360.75h5v2.5h-5zM538.75 360.75h2.5v2.5h-2.5zM551.25 360.75h7.5v2.5h-7.5zM606.25 360.75h2.5v2.5h-2.5zM778.75 360.75h20v2.5h-20zM823.75 360.75h15v2.5h-15zM368.75 363.25h17.5v2.5h-17.5zM533.75 363.25h7.5v2.5h-7.5zM551.25 363.25h5v2.5h-5zM778.75 363.25h2.5v2.5h-2.5zM786.25 363.25h15v2.5h-15zM808.75 363.25h2.5v2.5h-2.5zM821.25 363.25h22.5v2.5h-22.5zM368.75 365.75h12.5v2.5h-12.5zM533.75 365.75h5v2.5h-5zM551.25 365.75h5v2.5h-5zM801.25 365.75h7.5v2.5h-7.5zM811.25 365.75h2.5v2.5h-2.5zM821.25 365.75h32.5v2.5h-32.5zM371.25 368.25h7.5v2.5h-7.5zM533.75 368.25h5v2.5h-5zM803.75 368.25h12.5v2.5h-12.5zM821.25 368.25h35v2.5h-35zM533.75 370.75h5v2.5h-5zM541.25 370.75h2.5v2.5h-2.5zM806.25 370.75h52.5v2.5h-52.5zM536.25 373.25h7.5v2.5h-7.5zM816.25 373.25h7.5v2.5h-7.5zM836.25 373.25h25v2.5h-25zM878.75 373.25h2.5v2.5h-2.5zM536.25 375.75h2.5v2.5h-2.5zM576.25 375.75h5v2.5h-5zM836.25 375.75h5v2.5h-5zM843.75 375.75h25v2.5h-25zM878.75 375.75h2.5v2.5h-2.5zM538.75 378.25h2.5v2.5h-2.5zM566.25 378.25h10v2.5h-10zM856.25 378.25h12.5v2.5h-12.5zM878.75 378.25h2.5v2.5h-2.5zM566.25 380.75h5v2.5h-5zM856.25 380.75h12.5v2.5h-12.5zM878.75 380.75h2.5v2.5h-2.5zM366.25 383.25h2.5v2.5h-2.5zM566.25 383.25h2.5v2.5h-2.5zM858.75 383.25h10v2.5h-10zM871.25 383.25h2.5v2.5h-2.5zM876.25 383.25h5v2.5h-5zM541.25 385.75h2.5v2.5h-2.5zM551.25 385.75h7.5v2.5h-7.5zM863.75 385.75h10v2.5h-10zM541.25 388.25h22.5v2.5h-22.5zM863.75 388.25h12.5v2.5h-12.5zM543.75 390.75h7.5v2.5h-7.5zM836.25 390.75h2.5v2.5h-2.5zM863.75 390.75h12.5v2.5h-12.5zM928.75 390.75h5v2.5h-5zM863.75 393.25h10v2.5h-10zM931.25 393.25h5v2.5h-5zM863.75 395.75h10v2.5h-10zM931.25 395.75h7.5v2.5h-7.5zM858.75 398.25h12.5v2.5h-12.5zM938.75 398.25h5v2.5h-5zM853.75 400.75h5v2.5h-5zM861.25 400.75h5v2.5h-5zM938.75 400.75h5v2.5h-5zM938.75 403.25h2.5v2.5h-2.5zM933.75 408.25h2.5v2.5h-2.5zM921.25 410.75h2.5v2.5h-2.5zM928.75 410.75h2.5v2.5h-2.5zM916.25 413.25h7.5v2.5h-7.5zM928.75 413.25h2.5v2.5h-2.5zM913.75 415.75h12.5v2.5h-12.5zM911.25 418.25h15v2.5h-15zM916.25 420.75h5v2.5h-5zM323.75 443.25h2.5v2.5h-2.5zM428.75 445.75h2.5v2.5h-2.5zM431.25 448.25h2.5v2.5h-2.5z"/>
<path fill="#7d211d" d="M731.25 100.75h22.5v2.5h-22.5zM731.25 103.25h27.5v2.5h-27.5zM733.75 105.75h27.5v2.5h-27.5zM376.25 108.25h2.5v2.5h-2.5zM381.25 108.25h2.5v2.5h-2.5zM746.25 108.25h15v2.5h-15zM376.25 110.75h7.5v2.5h-7.5zM746.25 110.75h30v2.5h-30zM378.75 113.25h5v2.5h-5zM748.75 113.25h30v2.5h-30zM838.75 113.25h30v2.5h-30zM751.25 115.75h2.5v2.5h-2.5zM766.25 115.75h10v2.5h-10zM838.75 115.75h27.5v2.5h-27.5zM766.25 118.25h5v2.5h-5zM783.75 118.25h7.5v2.5h-7.5zM846.25 118.25h7.5v2.5h-7.5zM388.75 120.75h10v2.5h-10zM786.25 120.75h10v2.5h-10zM843.75 120.75h5v2.5h-5zM383.75 123.25h17.5v2.5h-17.5zM788.75 123.25h7.5v2.5h-7.5zM386.25 125.75h15v2.5h-15zM793.75 125.75h5v2.5h-5zM91.25 128.25h5v2.5h-5zM136.25 128.25h7.5v2.5h-7.5zM386.25 128.25h15v2.5h-15zM783.75 128.25h7.5v2.5h-7.5zM808.75 128.25h7.5v2.5h-7.5zM91.25 130.75h5v2.5h-5zM136.25 130.75h7.5v2.5h-7.5zM393.75 130.75h7.5v2.5h-7.5zM781.25 130.75h17.5v2.5h-17.5zM806.25 130.75h27.5v2.5h-27.5zM773.75 133.25h25v2.5h-25zM808.75 133.25h32.5v2.5h-32.5zM771.25 135.75h20v2.5h-20zM793.75 135.75h5v2.5h-5zM808.75 135.75h35v2.5h-35zM773.75 138.25h7.5v2.5h-7.5zM813.75 138.25h32.5v2.5h-32.5zM816.25 140.75h10v2.5h-10zM831.25 140.75h27.5v2.5h-27.5zM821.25 143.25h2.5v2.5h-2.5zM833.75 143.25h25v2.5h-25zM163.75 145.75h10v2.5h-10zM833.75 145.75h22.5v2.5h-22.5zM158.75 148.25h17.5v2.5h-17.5zM833.75 148.25h22.5v2.5h-22.5zM156.25 150.75h20v2.5h-20zM838.75 150.75h15v2.5h-15zM151.25 153.25h27.5v2.5h-27.5zM838.75 153.25h12.5v2.5h-12.5zM156.25 155.75h25v2.5h-25zM846.25 155.75h2.5v2.5h-2.5zM158.75 158.25h27.5v2.5h-27.5zM163.75 160.75h30v2.5h-30zM826.25 160.75h10v2.5h-10zM166.25 163.25h32.5v2.5h-32.5zM823.75 163.25h12.5v2.5h-12.5zM168.75 165.75h32.5v2.5h-32.5zM828.75 165.75h7.5v2.5h-7.5zM166.25 168.25h2.5v2.5h-2.5zM171.25 168.25h35v2.5h-35zM211.25 168.25h5v2.5h-5zM828.75 168.25h2.5v2.5h-2.5zM833.75 168.25h5v2.5h-5zM168.75 170.75h2.5v2.5h-2.5zM173.75 170.75h47.5v2.5h-47.5zM836.25 170.75h2.5v2.5h-2.5zM68.75 173.25h2.5v2.5h-2.5zM176.25 173.25h25v2.5h-25zM176.25 175.75h30v2.5h-30zM176.25 178.25h30v2.5h-30zM561.25 178.25h5v2.5h-5zM568.75 178.25h7.5v2.5h-7.5zM583.75 178.25h2.5v2.5h-2.5zM181.25 180.75h27.5v2.5h-27.5zM558.75 180.75h37.5v2.5h-37.5zM183.75 183.25h27.5v2.5h-27.5zM553.75 183.25h45v2.5h-45zM601.25 183.25h2.5v2.5h-2.5zM186.25 185.75h22.5v2.5h-22.5zM551.25 185.75h55v2.5h-55zM186.25 188.25h10v2.5h-10zM551.25 188.25h37.5v2.5h-37.5zM591.25 188.25h15v2.5h-15zM186.25 190.75h10v2.5h-10zM528.75 190.75h42.5v2.5h-42.5zM578.75 190.75h27.5v2.5h-27.5zM186.25 193.25h10v2.5h-10zM516.25 193.25h15v2.5h-15zM533.75 193.25h37.5v2.5h-37.5zM593.75 193.25h12.5v2.5h-12.5zM186.25 195.75h12.5v2.5h-12.5zM518.75 195.75h15v2.5h-15zM538.75 195.75h30v2.5h-30zM596.25 195.75h7.5v2.5h-7.5zM186.25 198.25h10v2.5h-10zM518.75 198.25h2.5v2.5h-2.5zM526.25 198.25h12.5v2.5h-12.5zM543.75 198.25h25v2.5h-25zM578.75 198.25h10v2.5h-10zM601.25 198.25h5v2.5h-5zM683.75 198.25h5v2.5h-5zM186.25 200.75h10v2.5h-10zM516.25 200.75h7.5v2.5h-7.5zM528.75 200.75h77.5v2.5h-77.5zM683.75 200.75h30v2.5h-30zM188.75 203.25h7.5v2.5h-7.5zM516.25 203.25h7.5v2.5h-7.5zM533.75 203.25h25v2.5h-25zM561.25 203.25h47.5v2.5h-47.5zM676.25 203.25h37.5v2.5h-37.5zM516.25 205.75h7.5v2.5h-7.5zM536.25 205.75h5v2.5h-5zM546.25 205.75h10v2.5h-10zM563.75 205.75h32.5v2.5h-32.5zM601.25 205.75h5v2.5h-5zM678.75 205.75h27.5v2.5h-27.5zM711.25 205.75h2.5v2.5h-2.5zM426.25 208.25h2.5v2.5h-2.5zM431.25 208.25h2.5v2.5h-2.5zM526.25 208.25h12.5v2.5h-12.5zM548.75 208.25h10v2.5h-10zM563.75 208.25h32.5v2.5h-32.5zM606.25 208.25h7.5v2.5h-7.5zM658.75 208.25h7.5v2.5h-7.5zM668.75 208.25h5v2.5h-5zM678.75 208.25h25v2.5h-25zM433.75 210.75h2.5v2.5h-2.5zM513.75 210.75h12.5v2.5h-12.5zM528.75 210.75h7.5v2.5h-7.5zM551.25 210.75h5v2.5h-5zM566.25 210.75h37.5v2.5h-37.5zM608.75 210.75h7.5v2.5h-7.5zM658.75 210.75h15v2.5h-15zM681.25 210.75h20v2.5h-20zM513.75 213.25h12.5v2.5h-12.5zM553.75 213.25h5v2.5h-5zM568.75 213.25h5v2.5h-5zM576.25 213.25h7.5v2.5h-7.5zM586.25 213.25h42.5v2.5h-42.5zM636.25 213.25h2.5v2.5h-2.5zM658.75 213.25h15v2.5h-15zM681.25 213.25h17.5v2.5h-17.5zM828.75 213.25h7.5v2.5h-7.5zM513.75 215.75h12.5v2.5h-12.5zM556.25 215.75h7.5v2.5h-7.5zM576.25 215.75h7.5v2.5h-7.5zM586.25 215.75h42.5v2.5h-42.5zM631.25 215.75h12.5v2.5h-12.5zM658.75 215.75h15v2.5h-15zM683.75 215.75h17.5v2.5h-17.5zM818.75 215.75h2.5v2.5h-2.5zM826.25 215.75h15v2.5h-15zM511.25 218.25h15v2.5h-15zM583.75 218.25h60v2.5h-60zM661.25 218.25h15v2.5h-15zM683.75 218.25h15v2.5h-15zM746.25 218.25h2.5v2.5h-2.5zM821.25 218.25h12.5v2.5h-12.5zM453.75 220.75h5v2.5h-5zM493.75 220.75h12.5v2.5h-12.5zM511.25 220.75h5v2.5h-5zM518.75 220.75h15v2.5h-15zM546.25 220.75h10v2.5h-10zM583.75 220.75h62.5v2.5h-62.5zM663.75 220.75h5v2.5h-5zM686.25 220.75h10v2.5h-10zM746.25 220.75h5v2.5h-5zM766.25 220.75h2.5v2.5h-2.5zM821.25 220.75h12.5v2.5h-12.5zM491.25 223.25h27.5v2.5h-27.5zM521.25 223.25h10v2.5h-10zM533.75 223.25h5v2.5h-5zM546.25 223.25h17.5v2.5h-17.5zM573.75 223.25h2.5v2.5h-2.5zM581.25 223.25h57.5v2.5h-57.5zM683.75 223.25h10v2.5h-10zM746.25 223.25h22.5v2.5h-22.5zM821.25 223.25h7.5v2.5h-7.5zM488.75 225.75h27.5v2.5h-27.5zM538.75 225.75h5v2.5h-5zM546.25 225.75h85v2.5h-85zM746.25 225.75h22.5v2.5h-22.5zM823.75 225.75h2.5v2.5h-2.5zM486.25 228.25h32.5v2.5h-32.5zM538.75 228.25h90v2.5h-90zM756.25 228.25h15v2.5h-15zM483.75 230.75h37.5v2.5h-37.5zM543.75 230.75h75v2.5h-75zM623.75 230.75h2.5v2.5h-2.5zM691.25 230.75h2.5v2.5h-2.5zM758.75 230.75h12.5v2.5h-12.5zM793.75 230.75h5v2.5h-5zM53.75 233.25h2.5v2.5h-2.5zM451.25 233.25h7.5v2.5h-7.5zM483.75 233.25h37.5v2.5h-37.5zM543.75 233.25h25v2.5h-25zM571.25 233.25h50v2.5h-50zM623.75 233.25h2.5v2.5h-2.5zM686.25 233.25h7.5v2.5h-7.5zM758.75 233.25h5v2.5h-5zM786.25 233.25h10v2.5h-10zM486.25 235.75h35v2.5h-35zM543.75 235.75h15v2.5h-15zM571.25 235.75h2.5v2.5h-2.5zM578.75 235.75h5v2.5h-5zM586.25 235.75h37.5v2.5h-37.5zM671.25 235.75h20v2.5h-20zM783.75 235.75h12.5v2.5h-12.5zM851.25 235.75h5v2.5h-5zM488.75 238.25h32.5v2.5h-32.5zM543.75 238.25h10v2.5h-10zM581.25 238.25h5v2.5h-5zM588.75 238.25h37.5v2.5h-37.5zM636.25 238.25h2.5v2.5h-2.5zM671.25 238.25h22.5v2.5h-22.5zM753.75 238.25h5v2.5h-5zM783.75 238.25h10v2.5h-10zM238.75 240.75h2.5v2.5h-2.5zM246.25 240.75h5v2.5h-5zM491.25 240.75h30v2.5h-30zM581.25 240.75h5v2.5h-5zM588.75 240.75h40v2.5h-40zM633.75 240.75h7.5v2.5h-7.5zM671.25 240.75h25v2.5h-25zM728.75 240.75h10v2.5h-10zM746.25 240.75h10v2.5h-10zM783.75 240.75h10v2.5h-10zM238.75 243.25h15v2.5h-15zM476.25 243.25h5v2.5h-5zM503.75 243.25h17.5v2.5h-17.5zM586.25 243.25h2.5v2.5h-2.5zM591.25 243.25h52.5v2.5h-52.5zM671.25 243.25h25v2.5h-25zM728.75 243.25h10v2.5h-10zM743.75 243.25h12.5v2.5h-12.5zM791.25 243.25h2.5v2.5h-2.5zM796.25 243.25h5v2.5h-5zM238.75 245.75h15v2.5h-15zM456.25 245.75h2.5v2.5h-2.5zM476.25 245.75h5v2.5h-5zM511.25 245.75h17.5v2.5h-17.5zM586.25 245.75h2.5v2.5h-2.5zM593.75 245.75h55v2.5h-55zM676.25 245.75h15v2.5h-15zM728.75 245.75h30v2.5h-30zM796.25 245.75h5v2.5h-5zM238.75 248.25h15v2.5h-15zM276.25 248.25h5v2.5h-5zM453.75 248.25h27.5v2.5h-27.5zM511.25 248.25h27.5v2.5h-27.5zM586.25 248.25h5v2.5h-5zM593.75 248.25h55v2.5h-55zM683.75 248.25h5v2.5h-5zM728.75 248.25h37.5v2.5h-37.5zM798.75 248.25h2.5v2.5h-2.5zM238.75 250.75h17.5v2.5h-17.5zM271.25 250.75h10v2.5h-10zM303.75 250.75h7.5v2.5h-7.5zM453.75 250.75h25v2.5h-25zM511.25 250.75h37.5v2.5h-37.5zM586.25 250.75h5v2.5h-5zM593.75 250.75h22.5v2.5h-22.5zM626.25 250.75h20v2.5h-20zM728.75 250.75h40v2.5h-40zM238.75 253.25h17.5v2.5h-17.5zM271.25 253.25h10v2.5h-10zM296.25 253.25h2.5v2.5h-2.5zM303.75 253.25h2.5v2.5h-2.5zM313.75 253.25h10v2.5h-10zM453.75 253.25h25v2.5h-25zM511.25 253.25h2.5v2.5h-2.5zM521.25 253.25h37.5v2.5h-37.5zM586.25 253.25h5v2.5h-5zM596.25 253.25h15v2.5h-15zM626.25 253.25h20v2.5h-20zM691.25 253.25h2.5v2.5h-2.5zM728.75 253.25h37.5v2.5h-37.5zM238.75 255.75h22.5v2.5h-22.5zM273.75 255.75h5v2.5h-5zM293.75 255.75h2.5v2.5h-2.5zM311.25 255.75h15v2.5h-15zM456.25 255.75h25v2.5h-25zM508.75 255.75h2.5v2.5h-2.5zM521.25 255.75h37.5v2.5h-37.5zM586.25 255.75h7.5v2.5h-7.5zM598.75 255.75h10v2.5h-10zM626.25 255.75h17.5v2.5h-17.5zM683.75 255.75h10v2.5h-10zM731.25 255.75h32.5v2.5h-32.5zM768.75 255.75h2.5v2.5h-2.5zM798.75 255.75h2.5v2.5h-2.5zM238.75 258.25h22.5v2.5h-22.5zM273.75 258.25h5v2.5h-5zM301.25 258.25h2.5v2.5h-2.5zM313.75 258.25h12.5v2.5h-12.5zM328.75 258.25h12.5v2.5h-12.5zM456.25 258.25h27.5v2.5h-27.5zM506.25 258.25h5v2.5h-5zM516.25 258.25h40v2.5h-40zM586.25 258.25h10v2.5h-10zM601.25 258.25h10v2.5h-10zM626.25 258.25h15v2.5h-15zM681.25 258.25h12.5v2.5h-12.5zM731.25 258.25h32.5v2.5h-32.5zM768.75 258.25h5v2.5h-5zM796.25 258.25h7.5v2.5h-7.5zM243.75 260.75h17.5v2.5h-17.5zM273.75 260.75h5v2.5h-5zM341.25 260.75h2.5v2.5h-2.5zM433.75 260.75h7.5v2.5h-7.5zM456.25 260.75h30v2.5h-30zM491.25 260.75h5v2.5h-5zM501.25 260.75h60v2.5h-60zM586.25 260.75h10v2.5h-10zM601.25 260.75h10v2.5h-10zM623.75 260.75h12.5v2.5h-12.5zM681.25 260.75h12.5v2.5h-12.5zM731.25 260.75h35v2.5h-35zM796.25 260.75h7.5v2.5h-7.5zM251.25 263.25h7.5v2.5h-7.5zM273.75 263.25h7.5v2.5h-7.5zM341.25 263.25h2.5v2.5h-2.5zM438.75 263.25h2.5v2.5h-2.5zM453.75 263.25h110v2.5h-110zM583.75 263.25h12.5v2.5h-12.5zM603.75 263.25h10v2.5h-10zM616.25 263.25h2.5v2.5h-2.5zM621.25 263.25h10v2.5h-10zM681.25 263.25h15v2.5h-15zM731.25 263.25h37.5v2.5h-37.5zM796.25 263.25h7.5v2.5h-7.5zM276.25 265.75h2.5v2.5h-2.5zM343.75 265.75h2.5v2.5h-2.5zM433.75 265.75h7.5v2.5h-7.5zM453.75 265.75h110v2.5h-110zM586.25 265.75h15v2.5h-15zM603.75 265.75h22.5v2.5h-22.5zM681.25 265.75h15v2.5h-15zM741.25 265.75h25v2.5h-25zM796.25 265.75h7.5v2.5h-7.5zM343.75 268.25h2.5v2.5h-2.5zM453.75 268.25h110v2.5h-110zM586.25 268.25h32.5v2.5h-32.5zM681.25 268.25h17.5v2.5h-17.5zM726.25 268.25h2.5v2.5h-2.5zM741.25 268.25h25v2.5h-25zM798.75 268.25h7.5v2.5h-7.5zM293.75 270.75h2.5v2.5h-2.5zM343.75 270.75h7.5v2.5h-7.5zM453.75 270.75h115v2.5h-115zM586.25 270.75h25v2.5h-25zM628.75 270.75h5v2.5h-5zM683.75 270.75h12.5v2.5h-12.5zM728.75 270.75h2.5v2.5h-2.5zM741.25 270.75h25v2.5h-25zM803.75 270.75h5v2.5h-5zM291.25 273.25h2.5v2.5h-2.5zM341.25 273.25h5v2.5h-5zM453.75 273.25h122.5v2.5h-122.5zM583.75 273.25h22.5v2.5h-22.5zM628.75 273.25h7.5v2.5h-7.5zM683.75 273.25h12.5v2.5h-12.5zM728.75 273.25h2.5v2.5h-2.5zM743.75 273.25h5v2.5h-5zM751.25 273.25h15v2.5h-15zM801.25 273.25h12.5v2.5h-12.5zM338.75 275.75h7.5v2.5h-7.5zM458.75 275.75h127.5v2.5h-127.5zM591.25 275.75h22.5v2.5h-22.5zM686.25 275.75h10v2.5h-10zM728.75 275.75h2.5v2.5h-2.5zM743.75 275.75h5v2.5h-5zM753.75 275.75h15v2.5h-15zM793.75 275.75h2.5v2.5h-2.5zM801.25 275.75h12.5v2.5h-12.5zM283.75 278.25h7.5v2.5h-7.5zM298.75 278.25h2.5v2.5h-2.5zM333.75 278.25h12.5v2.5h-12.5zM461.25 278.25h120v2.5h-120zM591.25 278.25h27.5v2.5h-27.5zM686.25 278.25h7.5v2.5h-7.5zM741.25 278.25h5v2.5h-5zM756.25 278.25h10v2.5h-10zM793.75 278.25h2.5v2.5h-2.5zM801.25 278.25h10v2.5h-10zM841.25 278.25h2.5v2.5h-2.5zM286.25 280.75h17.5v2.5h-17.5zM333.75 280.75h12.5v2.5h-12.5zM463.75 280.75h110v2.5h-110zM593.75 280.75h2.5v2.5h-2.5zM601.25 280.75h25v2.5h-25zM688.75 280.75h5v2.5h-5zM728.75 280.75h2.5v2.5h-2.5zM741.25 280.75h7.5v2.5h-7.5zM758.75 280.75h5v2.5h-5zM791.25 280.75h2.5v2.5h-2.5zM803.75 280.75h10v2.5h-10zM841.25 280.75h2.5v2.5h-2.5zM921.25 280.75h5v2.5h-5zM288.75 283.25h15v2.5h-15zM336.25 283.25h15v2.5h-15zM463.75 283.25h102.5v2.5h-102.5zM601.25 283.25h22.5v2.5h-22.5zM688.75 283.25h5v2.5h-5zM731.25 283.25h2.5v2.5h-2.5zM741.25 283.25h7.5v2.5h-7.5zM788.75 283.25h2.5v2.5h-2.5zM803.75 283.25h10v2.5h-10zM833.75 283.25h2.5v2.5h-2.5zM293.75 285.75h2.5v2.5h-2.5zM301.25 285.75h2.5v2.5h-2.5zM336.25 285.75h17.5v2.5h-17.5zM466.25 285.75h95v2.5h-95zM601.25 285.75h22.5v2.5h-22.5zM678.75 285.75h2.5v2.5h-2.5zM731.25 285.75h2.5v2.5h-2.5zM743.75 285.75h7.5v2.5h-7.5zM786.25 285.75h5v2.5h-5zM801.25 285.75h15v2.5h-15zM831.25 285.75h5v2.5h-5zM876.25 285.75h2.5v2.5h-2.5zM891.25 285.75h2.5v2.5h-2.5zM918.75 285.75h2.5v2.5h-2.5zM923.75 285.75h5v2.5h-5zM303.75 288.25h2.5v2.5h-2.5zM336.25 288.25h27.5v2.5h-27.5zM471.25 288.25h90v2.5h-90zM601.25 288.25h20v2.5h-20zM733.75 288.25h5v2.5h-5zM746.25 288.25h7.5v2.5h-7.5zM783.75 288.25h10v2.5h-10zM806.25 288.25h7.5v2.5h-7.5zM921.25 288.25h2.5v2.5h-2.5zM303.75 290.75h2.5v2.5h-2.5zM328.75 290.75h40v2.5h-40zM473.75 290.75h22.5v2.5h-22.5zM508.75 290.75h60v2.5h-60zM603.75 290.75h17.5v2.5h-17.5zM736.25 290.75h7.5v2.5h-7.5zM746.25 290.75h10v2.5h-10zM781.25 290.75h15v2.5h-15zM881.25 290.75h2.5v2.5h-2.5zM903.75 290.75h2.5v2.5h-2.5zM303.75 293.25h2.5v2.5h-2.5zM328.75 293.25h10v2.5h-10zM341.25 293.25h30v2.5h-30zM478.75 293.25h2.5v2.5h-2.5zM513.75 293.25h57.5v2.5h-57.5zM603.75 293.25h15v2.5h-15zM681.25 293.25h2.5v2.5h-2.5zM736.25 293.25h10v2.5h-10zM748.75 293.25h7.5v2.5h-7.5zM778.75 293.25h15v2.5h-15zM301.25 295.75h5v2.5h-5zM328.75 295.75h10v2.5h-10zM351.25 295.75h22.5v2.5h-22.5zM516.25 295.75h55v2.5h-55zM603.75 295.75h12.5v2.5h-12.5zM738.75 295.75h20v2.5h-20zM776.25 295.75h17.5v2.5h-17.5zM928.75 295.75h2.5v2.5h-2.5zM298.75 298.25h10v2.5h-10zM328.75 298.25h10v2.5h-10zM351.25 298.25h22.5v2.5h-22.5zM513.75 298.25h2.5v2.5h-2.5zM521.25 298.25h47.5v2.5h-47.5zM606.25 298.25h7.5v2.5h-7.5zM741.25 298.25h17.5v2.5h-17.5zM768.75 298.25h25v2.5h-25zM808.75 298.25h2.5v2.5h-2.5zM813.75 298.25h5v2.5h-5zM928.75 298.25h2.5v2.5h-2.5zM296.25 300.75h12.5v2.5h-12.5zM328.75 300.75h7.5v2.5h-7.5zM353.75 300.75h20v2.5h-20zM521.25 300.75h50v2.5h-50zM606.25 300.75h5v2.5h-5zM743.75 300.75h15v2.5h-15zM768.75 300.75h42.5v2.5h-42.5zM816.25 300.75h2.5v2.5h-2.5zM296.25 303.25h15v2.5h-15zM331.25 303.25h45v2.5h-45zM511.25 303.25h5v2.5h-5zM518.75 303.25h55v2.5h-55zM603.75 303.25h5v2.5h-5zM678.75 303.25h2.5v2.5h-2.5zM743.75 303.25h15v2.5h-15zM768.75 303.25h25v2.5h-25zM796.25 303.25h12.5v2.5h-12.5zM816.25 303.25h5v2.5h-5zM826.25 303.25h5v2.5h-5zM928.75 303.25h5v2.5h-5zM296.25 305.75h17.5v2.5h-17.5zM326.25 305.75h57.5v2.5h-57.5zM518.75 305.75h50v2.5h-50zM746.25 305.75h12.5v2.5h-12.5zM768.75 305.75h37.5v2.5h-37.5zM816.25 305.75h2.5v2.5h-2.5zM823.75 305.75h10v2.5h-10zM936.25 305.75h2.5v2.5h-2.5zM296.25 308.25h22.5v2.5h-22.5zM321.25 308.25h70v2.5h-70zM518.75 308.25h50v2.5h-50zM748.75 308.25h17.5v2.5h-17.5zM771.25 308.25h20v2.5h-20zM793.75 308.25h10v2.5h-10zM823.75 308.25h10v2.5h-10zM838.75 308.25h10v2.5h-10zM863.75 308.25h5v2.5h-5zM296.25 310.75h105v2.5h-105zM521.25 310.75h45v2.5h-45zM748.75 310.75h17.5v2.5h-17.5zM771.25 310.75h17.5v2.5h-17.5zM793.75 310.75h10v2.5h-10zM811.25 310.75h45v2.5h-45zM871.25 310.75h7.5v2.5h-7.5zM108.75 313.25h2.5v2.5h-2.5zM296.25 313.25h107.5v2.5h-107.5zM523.75 313.25h42.5v2.5h-42.5zM751.25 313.25h12.5v2.5h-12.5zM781.25 313.25h7.5v2.5h-7.5zM793.75 313.25h12.5v2.5h-12.5zM811.25 313.25h5v2.5h-5zM818.75 313.25h7.5v2.5h-7.5zM828.75 313.25h32.5v2.5h-32.5zM876.25 313.25h5v2.5h-5zM293.75 315.75h105v2.5h-105zM401.25 315.75h5v2.5h-5zM526.25 315.75h40v2.5h-40zM753.75 315.75h10v2.5h-10zM793.75 315.75h12.5v2.5h-12.5zM836.25 315.75h27.5v2.5h-27.5zM868.75 315.75h12.5v2.5h-12.5zM296.25 318.25h100v2.5h-100zM526.25 318.25h45v2.5h-45zM756.25 318.25h17.5v2.5h-17.5zM796.25 318.25h2.5v2.5h-2.5zM841.25 318.25h35v2.5h-35zM881.25 318.25h7.5v2.5h-7.5zM296.25 320.75h97.5v2.5h-97.5zM526.25 320.75h45v2.5h-45zM676.25 320.75h2.5v2.5h-2.5zM758.75 320.75h25v2.5h-25zM843.75 320.75h22.5v2.5h-22.5zM883.75 320.75h7.5v2.5h-7.5zM298.75 323.25h95v2.5h-95zM528.75 323.25h42.5v2.5h-42.5zM763.75 323.25h42.5v2.5h-42.5zM813.75 323.25h2.5v2.5h-2.5zM841.25 323.25h27.5v2.5h-27.5zM888.75 323.25h7.5v2.5h-7.5zM298.75 325.75h90v2.5h-90zM528.75 325.75h42.5v2.5h-42.5zM611.25 325.75h2.5v2.5h-2.5zM778.75 325.75h27.5v2.5h-27.5zM808.75 325.75h7.5v2.5h-7.5zM846.25 325.75h10v2.5h-10zM863.75 325.75h7.5v2.5h-7.5zM893.75 325.75h5v2.5h-5zM301.25 328.25h87.5v2.5h-87.5zM528.75 328.25h47.5v2.5h-47.5zM793.75 328.25h7.5v2.5h-7.5zM806.25 328.25h5v2.5h-5zM863.75 328.25h10v2.5h-10zM896.25 328.25h7.5v2.5h-7.5zM301.25 330.75h27.5v2.5h-27.5zM331.25 330.75h55v2.5h-55zM531.25 330.75h47.5v2.5h-47.5zM828.75 330.75h2.5v2.5h-2.5zM851.25 330.75h5v2.5h-5zM901.25 330.75h2.5v2.5h-2.5zM303.75 333.25h25v2.5h-25zM338.75 333.25h50v2.5h-50zM543.75 333.25h57.5v2.5h-57.5zM603.75 333.25h5v2.5h-5zM823.75 333.25h17.5v2.5h-17.5zM851.25 333.25h5v2.5h-5zM303.75 335.75h22.5v2.5h-22.5zM338.75 335.75h50v2.5h-50zM543.75 335.75h57.5v2.5h-57.5zM606.25 335.75h5v2.5h-5zM621.25 335.75h2.5v2.5h-2.5zM821.25 335.75h20v2.5h-20zM851.25 335.75h7.5v2.5h-7.5zM66.25 338.25h2.5v2.5h-2.5zM306.25 338.25h20v2.5h-20zM353.75 338.25h32.5v2.5h-32.5zM543.75 338.25h57.5v2.5h-57.5zM621.25 338.25h2.5v2.5h-2.5zM811.25 338.25h7.5v2.5h-7.5zM821.25 338.25h17.5v2.5h-17.5zM851.25 338.25h2.5v2.5h-2.5zM856.25 338.25h2.5v2.5h-2.5zM913.75 338.25h2.5v2.5h-2.5zM306.25 340.75h30v2.5h-30zM358.75 340.75h27.5v2.5h-27.5zM543.75 340.75h57.5v2.5h-57.5zM808.75 340.75h30v2.5h-30zM848.75 340.75h5v2.5h-5zM913.75 340.75h2.5v2.5h-2.5zM61.25 343.25h2.5v2.5h-2.5zM118.75 343.25h2.5v2.5h-2.5zM311.25 343.25h27.5v2.5h-27.5zM361.25 343.25h22.5v2.5h-22.5zM543.75 343.25h17.5v2.5h-17.5zM586.25 343.25h12.5v2.5h-12.5zM806.25 343.25h22.5v2.5h-22.5zM833.75 343.25h10v2.5h-10zM848.75 343.25h5v2.5h-5zM913.75 343.25h5v2.5h-5zM118.75 345.75h2.5v2.5h-2.5zM313.75 345.75h25v2.5h-25zM368.75 345.75h15v2.5h-15zM543.75 345.75h17.5v2.5h-17.5zM586.25 345.75h10v2.5h-10zM801.25 345.75h20v2.5h-20zM833.75 345.75h20v2.5h-20zM916.25 345.75h2.5v2.5h-2.5zM121.25 348.25h5v2.5h-5zM143.75 348.25h2.5v2.5h-2.5zM318.75 348.25h20v2.5h-20zM371.25 348.25h12.5v2.5h-12.5zM543.75 348.25h10v2.5h-10zM586.25 348.25h7.5v2.5h-7.5zM801.25 348.25h17.5v2.5h-17.5zM833.75 348.25h20v2.5h-20zM916.25 348.25h5v2.5h-5zM321.25 350.75h17.5v2.5h-17.5zM371.25 350.75h10v2.5h-10zM536.25 350.75h15v2.5h-15zM798.75 350.75h20v2.5h-20zM836.25 350.75h17.5v2.5h-17.5zM863.75 350.75h2.5v2.5h-2.5zM918.75 350.75h2.5v2.5h-2.5zM101.25 353.25h2.5v2.5h-2.5zM321.25 353.25h20v2.5h-20zM536.25 353.25h15v2.5h-15zM791.25 353.25h32.5v2.5h-32.5zM831.25 353.25h2.5v2.5h-2.5zM836.25 353.25h25v2.5h-25zM863.75 353.25h7.5v2.5h-7.5zM918.75 353.25h5v2.5h-5zM321.25 355.75h5v2.5h-5zM331.25 355.75h7.5v2.5h-7.5zM536.25 355.75h15v2.5h-15zM786.25 355.75h40v2.5h-40zM831.25 355.75h42.5v2.5h-42.5zM536.25 358.25h15v2.5h-15zM566.25 358.25h5v2.5h-5zM603.75 358.25h2.5v2.5h-2.5zM791.25 358.25h35v2.5h-35zM828.75 358.25h2.5v2.5h-2.5zM836.25 358.25h37.5v2.5h-37.5zM536.25 360.75h2.5v2.5h-2.5zM541.25 360.75h10v2.5h-10zM558.75 360.75h27.5v2.5h-27.5zM603.75 360.75h2.5v2.5h-2.5zM798.75 360.75h25v2.5h-25zM838.75 360.75h37.5v2.5h-37.5zM541.25 363.25h10v2.5h-10zM556.25 363.25h32.5v2.5h-32.5zM801.25 363.25h7.5v2.5h-7.5zM811.25 363.25h10v2.5h-10zM843.75 363.25h27.5v2.5h-27.5zM538.75 365.75h12.5v2.5h-12.5zM556.25 365.75h27.5v2.5h-27.5zM808.75 365.75h2.5v2.5h-2.5zM813.75 365.75h7.5v2.5h-7.5zM853.75 365.75h15v2.5h-15zM538.75 368.25h42.5v2.5h-42.5zM816.25 368.25h5v2.5h-5zM856.25 368.25h12.5v2.5h-12.5zM538.75 370.75h2.5v2.5h-2.5zM543.75 370.75h37.5v2.5h-37.5zM858.75 370.75h10v2.5h-10zM543.75 373.25h37.5v2.5h-37.5zM861.25 373.25h7.5v2.5h-7.5zM51.25 375.75h2.5v2.5h-2.5zM538.75 375.75h37.5v2.5h-37.5zM916.25 375.75h2.5v2.5h-2.5zM541.25 378.25h25v2.5h-25zM541.25 380.75h25v2.5h-25zM571.25 380.75h2.5v2.5h-2.5zM541.25 383.25h25v2.5h-25zM568.75 383.25h5v2.5h-5zM543.75 385.75h7.5v2.5h-7.5zM558.75 385.75h5v2.5h-5zM313.75 395.75h5v2.5h-5zM313.75 398.25h5v2.5h-5zM933.75 398.25h5v2.5h-5zM311.25 400.75h10v2.5h-10zM931.25 400.75h7.5v2.5h-7.5zM311.25 403.25h5v2.5h-5zM931.25 403.25h7.5v2.5h-7.5zM311.25 405.75h5v2.5h-5zM926.25 405.75h12.5v2.5h-12.5zM311.25 408.25h5v2.5h-5zM336.25 408.25h2.5v2.5h-2.5zM923.75 408.25h10v2.5h-10zM336.25 410.75h2.5v2.5h-2.5zM923.75 410.75h5v2.5h-5zM56.25 413.25h2.5v2.5h-2.5zM923.75 413.25h5v2.5h-5zM671.25 425.75h2.5v2.5h-2.5zM343.75 430.75h10v2.5h-10zM343.75 433.25h10v2.5h-10zM331.25 438.25h2.5v2.5h-2.5zM321.25 440.75h15v2.5h-15z"/>
<path fill="#d2d2d2" d="M231.25 210.75h5v2.5h-5zM231.25 213.25h5v2.5h-5zM226.25 228.25h2.5v2.5h-2.5zM226.25 230.75h2.5v2.5h-2.5zM268.75 303.25h5v2.5h-5zM271.25 305.75h5v2.5h-5z"/>
<path fill="#d0f0f8" d="M473.75 125.75h5v2.5h-5zM481.25 215.75h2.5v2.5h-2.5zM476.25 218.25h7.5v2.5h-7.5zM708.75 218.25h7.5v2.5h-7.5zM473.75 220.75h5v2.5h-5zM711.25 220.75h5v2.5h-5zM471.25 223.25h7.5v2.5h-7.5zM713.75 223.25h2.5v2.5h-2.5zM471.25 225.75h5v2.5h-5zM471.25 228.25h2.5v2.5h-2.5zM473.75 235.75h2.5v2.5h-2.5zM466.25 238.25h2.5v2.5h-2.5zM473.75 238.25h2.5v2.5h-2.5zM466.25 240.75h2.5v2.5h-2.5zM473.75 240.75h2.5v2.5h-2.5zM466.25 243.25h2.5v2.5h-2.5zM486.25 248.25h2.5v2.5h-2.5zM486.25 250.75h2.5v2.5h-2.5zM501.25 250.75h2.5v2.5h-2.5zM488.75 253.25h7.5v2.5h-7.5zM498.75 253.25h5v2.5h-5zM498.75 255.75h2.5v2.5h-2.5zM613.75 255.75h5v2.5h-5zM621.25 255.75h2.5v2.5h-2.5zM618.75 258.25h5v2.5h-5zM616.25 260.75h2.5v2.5h-2.5zM613.75 360.75h2.5v2.5h-2.5zM821.25 378.25h5v2.5h-5zM823.75 380.75h2.5v2.5h-2.5zM298.75 388.25h2.5v2.5h-2.5zM333.75 388.25h15v2.5h-15zM333.75 390.75h15v2.5h-15zM336.25 393.25h12.5v2.5h-12.5zM336.25 395.75h12.5v2.5h-12.5z"/>
<path fill="#b8c8f4" d="M471.25 235.75h2.5v2.5h-2.5zM468.75 238.25h5v2.5h-5zM468.75 240.75h5v2.5h-5zM468.75 243.25h5v2.5h-5zM416.25 313.25h2.5v2.5h-2.5zM613.75 343.25h10v2.5h-10zM613.75 345.75h5v2.5h-5zM613.75 348.25h2.5v2.5h-2.5zM613.75 350.75h2.5v2.5h-2.5zM618.75 350.75h2.5v2.5h-2.5zM613.75 353.25h2.5v2.5h-2.5zM613.75 355.75h2.5v2.5h-2.5zM616.25 360.75h2.5v2.5h-2.5z"/>
<path fill="#a0a0f0" d="M488.75 245.75h5v2.5h-5zM488.75 248.25h10v2.5h-10zM488.75 250.75h12.5v2.5h-12.5zM496.25 253.25h2.5v2.5h-2.5zM618.75 253.25h2.5v2.5h-2.5zM618.75 255.75h2.5v2.5h-2.5zM616.25 258.25h2.5v2.5h-2.5zM618.75 345.75h2.5v2.5h-2.5zM616.25 348.25h5v2.5h-5zM616.25 350.75h2.5v2.5h-2.5zM616.25 353.25h2.5v2.5h-2.5zM616.25 355.75h2.5v2.5h-2.5zM616.25 358.25h2.5v2.5h-2.5z"/>
<path fill="#5858c0" d="M293.75 388.25h2.5v2.5h-2.5z"/></g><path d="M145 130.5l-0.2 4.2 -1 3.1 -0.1 3.3 0.2 4.4 0.8 2.6 0 1.7 0.2 1.9 0.1 2.1 0.9 0.1 1 0.2 1 0.2 0.9 0.2 1.2 0 0.6 0.4 1.1 0.7 0.9 0.8 0.5 0.3 0.7 0.3 0.4 -0.2 0.7 -0.3 0.6 -0.2 0.7 -0.2 1 -0.3 0.5 -0.4 1.1 -0.4 0.8 0.6 0.8 0.8 0.8 0.4 0.4 0.2 0.9 0.5 0.4 0.4 0.5 0.5 0.2 0.7 0.4 0.9 0.3 0.9 0.5 0.6 0.2 0.5 0.9 0.7 1.1 0.6 1 0.6 0.8 0.6 1 0 0.6 0.1 1.1 0.1 1 0.1 -0.1 0.8 -0.1 0.7 -0.2 0.7 -0.1 0.8M189.2 182l9.5 1.3 9.4 0.7 8 0.3 4.8 0.9 11.2 -0.2 13.4 -0.3 8.8 -2.2 5.2 -0.5 0 -1 0.7 0.6 0.6 0.7 0.2 0.5 0.8 0.1 0.5 0 1.1 0.1 0.9 0.1 1.6 0.3 0.9 0.2 0.7 0.2 1.3 0 1 0.3 0.9 0.1 0.6 0 0.8 0.1 0.5 0.1 1.2 0.1 1 -0.2 0.6 -0.2 1.1 -0.3 0.8 0.4 1.4 0.6 1.7 0.8 1 0.4 0.7 0.3 1.3 0.5 1 0.3 1.1 0.4 0.7 0.7 0.8 0.3 0.5 0.3 0.7 0.4 0.6 0.3 1 0.6 0.8 0.4 0.6 0.7 0 0.9 -0.2 0.9 0.2 1.2 0 0.7 0.2 0.9 0.1 1.2 -0.4 0.6 -0.4 0.4 -0.4 0.4 -0.5 0.6 0.4 0.3 0.5 0.5 0.5 0.4 1 -0.3 1.3 -0.3 0.7 -0.2 0.5 -0.1 1.2 -0.4 1.3 -0.7 1.6 -0.4 1.2 -0.3 0 -1 0 -0.7 1 -0.1 0.7 -0.3 0.9 -0.1 0.8 -0.1 1.3 -0.1 0.7 -0.1 0.8 0 0.6 -1 0.7 -0.5 1.1 -0.6 0.9 -0.4 0.5 -0.1 0.8 -0.4 0.7 0 0.9 0 1 0.1 0.9 0 0.9 0 1 0 0.9 0 1.7 -0.1 0.9 -0.7 0.5 -0.5 0.6 -0.4 1 -0.6 0.2 -0.8 0.1 -0.5 0.4 -0.7 0.5 -0.5 0.8 -0.6 0.7 -0.7 0.8 0 0.5 0.1 1 0.1 0.5 0.4 0.7 0.4 -0.2 0.6 -0.1 1.2 0.2 0.6 0.1 0.8 0.4 0.6 0.6 0.7 0.4 0.4 0.6 0.3M204.8 223.2l1.2 -0.1 0.8 -0.1 1.2 -0.2 1 0 0.8 0 1 0 -0.3 0.4 0.8 0.4 1.2 0.4 1.6 0.4 1.9 0.8 1.2 0.2 0.8 0.1 1 0.3 1 0.4 1.1 0.2 1.1 -0.1 0.8 0 0.7 0 1.2 0 0.8 -0.1 0.7 0 0.6 0 0 -0.4 0 -0.8 0.6 0 0.7 -0.1 0.9 0 0.5 0 0.8 0 0.7 0.1 0.9 0.7 0.3 0.3 0.6 0.5 0.8 0.6 0.4 0.3 0.8 0.4 0.3 0.6 0.6 1 0.3 1.1 0.7 0.3 0.5 0.3 0.8 0.3 0.5 0.2 0.8 0.4 0.4 -0.5 0.7 -0.6 0.6 -0.9 1.2 0 0.6 0 0.8 0 0.7 0.8 0.6 1 0.7 0.9 0.4 0.5 0.4 0.4 0.8 0.5 0.6 0.7 0.8 1 0.2 0.9 0.1 0.6 0.4 0.9 0.7 0.2 0.8 0.1 0.7 0.2 1 0.3 0.7 0.3 1.1 0.5M267 268.2l0.1 -1.1 -0.1 -0.6 0.4 -0.6 0.4 -0.8 0.4 -0.9 0.9 0 0.8 -0.1 0.8 0 0.8 0.1 -0.5 -0.6 -0.5 -0.6 -0.5 -0.6 -0.6 -0.4 -0.4 -0.5 1 -0.1 0 -0.8 0 -0.6 1 -0.1 0.4 -0.2 0.9 0 0.8 0.1 0.6 0.1 0.8 0.1 0 0.7 0 0.6 0 0.5 -0.1 0.9 0.1 0.8 0 1.3 0.7 0M274.5 260l1 -0.8 0.6 -0.4 0.7 -0.6M276.8 265.2l-0.6 0.5 -0.8 0.6 -0.6 0.5 -0.3 0.4 -0.1 0.6 -0.4 0.7 -1 0.7 -0.8 0.8M274 268.5l1 0.5 0.7 0.4 0.5 0.4 0.6 0.4 0.5 0.3 0.7 0.5M279 272l0.7 -0.7 0.5 -0.4 0.6 -0.7 0.5 -0.1 1 -0.1 0.9 -0.2 0.9 -0.8 1 -0.8 0.7 -0.4 1.2 -0.2 0.9 -0.3 0.6 -0.1 1 -0.2M283.2 276.8l0.7 0 0.8 0.1 1.1 0.1 1 0.2 0.8 0.1 0.6 -0.1M290.2 284.2l0.1 -1.2 0 -0.8 -0.1 -0.4 0.4 -0.6 0.4 -0.7M304 282.8l0.3 1 0.2 1 -0.9 0.8 -0.3 0.3 -0.5 0.6M318.2 255.2l0 1 0.1 0.7 -0.1 0.9 -0.7 0.7 0.2 0.6 0.3 0.9M319.2 275l-0.9 0.4 -0.6 0.4 -0.6 0.4 -0.9 0.6 -0.1 0.6 -0.4 0.8 -0.2 1 -0.2 0.7 -0.3 0.9 0.5 0.8 0.3 0.9 0.7 1 0.1 1.1 0.2 0.6 0.2 0.8 1 0.2 0.8 0.1 1.1 0.2 1.1 0.2 0.5 0.1 0.7 0.2 0.4 0.5 0.5 0.5 0.5 0.7 0.4 0.5 0.9 -0.1 0.8 -0.1 0.9 0 0.5 0 0.9 0 0.8 0 -0.1 0.7 0 0.9 -0.2 0.9 -0.2 0.5 -0.1 0.5 -0.2 0.7 0.2 0.6 0.4 1.1 0.4 0.6 0.2 0.5 -0.2 0.8 -0.2 0.8 -0.5 1.2 -0.2 0.7 -0.3 0.7 0.7 0.5 0.6 0.4 0.7 0.4 0.4 0M330.2 301.5l-1 -0.3 -1.5 -0.3 -0.8 -0.1 -1.3 0 -1.1 -0.3 -0.8 -0.1 -0.7 -0.2 0.1 1 -0.1 0.6 0.7 0.1 0.8 0.1 -0.3 1.2 0 0.9 -0.4 1 0 0.7 -0.5 -0.3 -0.8 -0.5 0.1 1.6 0 1.3 0 2 0 1.4 0 0.6 0.1 0.8 0.1 1 0 1.3M322.8 315l-0.9 -0.4 -0.5 -0.3 -0.6 -0.3 -0.9 -0.5 -0.7 -0.4 -1 -0.7 -1 -0.7 -0.8 -0.5 -1.2 -0.7 -0.5 -0.8 -0.5 -0.7 -0.5 -0.7 -0.5 -0.5 -0.8 -0.7 -0.6 -0.4 -0.9 -0.5 -0.8 -0.7 -0.9 -0.7M309.2 304.8l-1.1 -0.6 -0.7 -0.4 -0.6 -0.3 -1.1 0 -0.9 0 -1 0 -0.6 -0.3 -0.9 -0.6 -0.6 -0.6 -0.6 -0.4 -0.6 -0.6M309.2 304.8l0.2 1.2 0.1 1 -0.8 0.7 -0.4 0.5 -0.4 0.6 -0.5 0.6 -0.4 0.4 -0.4 0.6 -0.6 0.6 -1.1 0.5 -0.7 0.4 -1 0.4 -0.7 0.3 -0.7 0.4 -0.1 0.5 0 0.9 -0.1 0.7 -0.1 0.7 -0.7 0.2 -0.9 0.5 -1.1 0.5 -0.8 -0.6 -0.6 -0.5 -0.6 -0.4 0 -0.7 0.1 -0.8 -0.1 -1M322.8 315l-0.9 0.4 -0.8 0.4 -0.9 0.4 -0.5 0.3 -1.5 0.3 -1.4 0.4 -0.7 0.2 -0.9 0.1 -0.1 0.6 -0.2 0.8 -0.2 1 -0.2 0.9 -0.3 0.5 -0.5 0.5 -0.8 0.7 -0.4 0.5 0.3 0.5 0.5 0.9 0.4 1.1 0.3 0.4 0.5 0.9 0.5 0.7 0.2 0.5 0.6 0.6 0.3 0.4 0.9 0.5 0.8 -0.2 0.7 -0.2 0.9 -0.3 0.7 -0.2 0.9 -0.4 0 0.8 0 0.9 -0.1 1 0.1 1.1 1.2 0 0.7 -0.1 0.6 0M323.5 331.9l0.7 0.9 0.3 0.7 0.5 1 0.4 0.6 0.4 0.7 -0.2 0.9 -0.2 0.5 -0.3 0.9 -0.1 0.7 -0.2 0.9 -0.2 0.7 -0.1 0.5 -0.1 0.8 -0.2 1.1 -0.1 1.1 -0.2 1.2 -0.3 0.7 0 1 0 0.9 -0.1 0.5M323.5 348.2l-0.6 0.7 -0.4 0.4 -0.6 0.6 -0.4 0.5M323.5 331.9l0.6 0 0.7 0 1.1 0 0.9 0.1 0.5 -0.5 0.5 -0.4 0.6 -0.5 0.6 -0.3 0.7 -0.3 0.5 -0.3 0.8 -0.5 0.9 -0.1 0.9 -0.1 0.5 0.1 0.9 -0.1 0.3 1.2 0 1 -0.2 0.8 -0.1 1.2 0.9 0.9 0.7 0.7 0.7 1 1.2 0.2 0.7 0 0.5 0.3 0.7 0.3 0.9 0.4 0.7 0.4 0.9 0.4 0.9 0.4 0.7 0.2 0.8 0.1 0.8 0.1 0.9 0.4 0.1 0.6 0.1 0.8 0.1 1 0.1 1 0 1.1 0.2 0.9 0.2 0.8 1.1 0 0.9 -0.1 0.6 0 1.1 0.1 0.8 0 0.1 0.8 0 0.5 0.2 1.3 1 0.6 0.4 0.6 -0.1 0.5 0 1 -0.1 0.9 0 0.6 -0.5 1 -0.5 1 0.1 1M352.1 355l-0.6 -0.6 -0.2 -0.4 -0.9 -0.7 -0.6 -0.5 -1 0.2 -0.9 0.1 -1.1 0 -0.9 0.2 -1.1 0 -0.7 0.1 -1.1 0.1 -0.4 0.7 -0.2 0.5 -0.4 0.7 -0.2 0.4 -0.2 1.1 0 0.6 -0.2 0.8 -0.3 0.9 -0.2 0.9M340.9 360.1l-0.9 0.3 -1 0.3 -0.7 0.3 -0.7 0.2 -0.8 0.3 -0.7 -0.4 -0.6 -0.5 -0.6 -0.6 -0.4 -0.2 -0.8 -0.2 -0.5 -0.2 -0.7 -0.2 -0.5 -0.2 -0.6 0.5 -0.5 0.8 -0.4 0.3 -0.4 0.3 -0.6 0.6M329.5 361.5l-0.7 -1 -0.5 -0.7 -0.6 -1 -0.3 -0.4 -0.4 -0.6 -0.2 -0.9 0 -0.6 -0.4 -0.9 -0.2 -0.9 -0.3 -0.9 -0.2 -0.6 -0.2 -1 -0.5 -1 -0.4 -0.6 -0.2 -0.5 -0.4 -0.6 -0.5 -1.1M329.5 361.5l-0.1 0.6 0.1 0.7 -0.2 0.7 -0.1 1 -0.9 0.5 -0.8 0.2 -1 0.6 0 0.8 0 0.9 -0.1 1.1 -0.1 0.7 -0.1 0.9 -0.4 0.9 -0.2 0.9 -0.3 0.4 -0.5 0.6 -0.4 0.5 -0.4 0.7 -0.3 0.7 -0.5 0.9 -0.1 0.8 -0.1 1 0 0.7 -0.1 0.7 -0.1 0.5 -0.3 0.7 -0.4 0.8 -0.2 0.7 -0.5 0.9 -0.2 0.6 0.1 1.1 0.2 1.2 0.3 1 0.4 0.6 0.3 0.7 0.2 0.6 0.1 0.6 0.2 1 -0.4 0.6 -0.7 1 -0.4 0.7 -0.3 0.5 -0.1 0.4 -0.2 0.8 -0.4 0.7 -0.5 1.1 0.1 0.6 -0.2 0.6 -0.1 0.5 0 0.8 -0.1 0.7 0.1 1.2 -0.2 0.8 -0.1 0.5 -0.3 0.5 -0.3 0.7 -0.4 0.7 -0.5 1.1 -0.2 0.9 -0.1 1.1 0 0.6 0.1 1 0.1 0.8 0.1 0.6 0.2 1.1 0 0.6 -0.1 0.6 0 0.6 0.1 1 0 0.6 0.5 1 0.1 0.8 0.3 0.8 0.1 0.4 -0.6 0.9 -0.3 0.7 -0.3 0.9 -0.4 0.7 -0.1 0.8 -0.2 0.6 -0.3 0.8 -0.2 0.8 -0.2 0.8 -0.6 1.1 -0.2 0.7 -0.5 0.8 -0.3 0.9 -0.2 0.5 -0.1 0.8 -0.1 0.7 -0.4 0.7 -0.4 1 0.9 0.1 0.8 0 0.7 -0.1 0.6 0 -0.2 1 0 0.5 -0.1 1.1 0.7 0.4 0.6 0.3 0.8 0 0.7 0 0.6 0 1.1 0 0.9 0.2 0.9 0.1 0.8 0.1 0.7 0.1 0.8 0 0.6 0.1 0.8 0.1 -0.5 1 0 1.2 0.1 0.7 -0.1 0.6 0 0.6 0 1.1 0.1 0.7 -0.1 0.7M352.1 355l0.2 0.9 0.1 0.9 0.2 0.7 0 1.2 0.2 1.1 1 0.1 0.9 0.2 0.8 0 1.3 0.1 1.2 0 0.2 1 0.1 0.6 0.2 0.7 0.2 0.7 0.2 0.8 0.1 0.5 1 0 0.8 0.1 1 0.2 -0.1 0.7 -0.2 1.1 -0.2 1 -0.3 0.9M340.9 360.1l0.5 0.5 0.7 0.8 0.5 0.5 0.4 0.5 0.9 0.6 0.4 0.4 0.7 0.6 0.7 0.2 0.8 0.3 1.2 0.3 1 0.5 0.9 0.5 0.7 0.4 0.5 0.3 0.6 0.5 0.4 0.3 0.8 0.6 0.9 0.6 -0.5 1 -0.4 0.5 -0.5 0.8 -0.5 0.8 -0.1 0.4 -0.5 0.8 0.9 -0.1 1 0.2 0.8 0 0.8 0.1 1 0.2 0.7 0 1.2 -0.2 0.6 0 0.3 -0.4 0.4 -0.8 0.5 -0.9 0.4 -0.5 0.5 -0.9 0.5 -0.6 0.4 -0.4M361 368.5l0.7 0.6 0.5 0.4 0.8 0.5 0.2 1.1 0 0.8 0 0.6 -0.4 0.3 -0.8 0.6 -0.8 0.4 -0.4 0.3 -0.6 0.3 -0.8 0.4 -0.7 0.3 -0.7 0.4 -0.5 0.6 -0.7 1 -0.7 1 -0.7 0.5 -0.9 0.6 -0.5 0.4 -0.5 0.4M353.5 380l0.6 0.2 0.7 0.4 1 0.4 1 0.3 0.7 0.2 1 0.3 0.8 0.5 0.6 0.7 1 0.5 0.6 0.4 0.7 0.3 0.8 0.6 0.1 0.7 0.3 0.7 0.1 0.8 0.1 0.7 0.4 1.1M353.5 380l-0.3 0.7 -0.2 1 -0.2 0.6 -0.1 0.8 -0.3 0.7 -0.1 0.9 -0.3 1.1 0 0.9 -0.1 0.8 -0.2 0.7 0 0.5 -0.2 0.8M330.2 301.5l1 0.3 0.7 0.1 1.1 0.4 0.8 0.2 0.5 -0.5 0.4 -0.3 0.7 -0.6 0.5 -0.3 0.6 -0.4 1 -0.6 -0.3 -0.8 -0.2 -0.8 0.5 0.2 0.7 0.3 0.8 0.3 -0.3 -1 -0.3 -0.7 -0.7 -1 -0.5 -0.9 -0.2 -0.6 -0.5 -0.5 -1 -0.5 0.9 0.3 0.9 0.4 0.5 0.1 0.8 0.2 1.2 0.2 0.7 0.2 -0.3 -1 0.7 -0.1 1.1 -0.3 1 -0.1 0.6 -0.2 0.8 -0.2 0.6 -0.1 0.3 -0.7 0.5 -1M345.8 291.5l-0.7 -0.8 -0.5 -0.4 -0.6 -0.5 0.3 -1 0.5 -1 0.8 -0.5 0.6 -0.3 0.6 -0.2 0.1 -1.2 0.2 -1.1 0.3 -0.8 0.1 -0.5M345.8 291.5l1 0.4 0.7 0.1 0.3 1 0.2 0.5 -0.1 0.9 0 0.5 0 1 0.2 1.1 0.1 0.8 -0.2 1 -0.2 0.7 0.4 0.3 0.6 0.5 0.7 0.5 1 0.7 0.8 -0.4 0.7 -0.4 0.6 -0.4 1.1 -0.5 0.5 -0.3 0.8 0 0.5 0.1 0.7 0.2M354.5 289.5l-0.2 1 0 0.7 -0.1 0.8 -0.3 0.7 -0.3 0.4 -0.7 0.9 -0.4 0.5 0.7 0.8 0.4 0.4 0.6 0.5 0.5 0.6 0.3 0.6 0.3 0.5 0.3 0.7 0.3 0.4 0.3 0.8M356.2 299.8l0.8 -0.4 0.6 -0.2 0.7 -0.4 1 -0.3 0.7 -0.3 1 0.6 0.6 -0.1 0.8 0.1 0.7 0 1.1 0.1 1 0.1 0.5 -0.7 0.6 -0.6 0.6 -0.9 0.6 -1 0.4 -0.9 0.3 -0.9M362.5 290l-0.3 0.9 -0.4 0.6 -0.3 0.5 0.1 0.9 0.1 0.5 0 0.9 0.2 0.9 0.1 0.6 -0.4 1 -0.3 0.8 -0.3 1.2M492 216.8l0.2 0.7 0.2 0.5 0.4 1.1 0.4 1.1 0.5 0.9 0.1 1 0.2 0.7 0.5 1 -0.7 0.1 -0.6 0.2 -0.8 0.2 -0.5 0.1 -1.1 0.4 -0.8 0.2 -0.7 0.9 -0.4 0.5 -0.7 0.8 -0.3 0.4 -0.6 0.5 -0.5 0.2 -0.7 0.4 -0.7 0.4 -0.9 0.7 -0.8 0.3 -1.2 0.4 -1.1 0.4 -1.7 0.4 -1 0.4 -0.5 0.2 -1.5 0.6 -0.9 0.3 0 0.5 0 0.9 0 1.1 -1.6 0.3 -1.7 0 -1.1 -0.1 -0.7 0 -0.9 -0.1 -1.4 -0.1 -2.5 0.1 -1.4 -0.1M475.8 236.2l0.1 0.6 0 0.8 -0.1 0.9 0 1 -0.9 0.1 -0.9 0.1 -1.1 0 -1 -0.1 -1 0 -0.8 -0.1 -1.2 -0.1 -1.4 0.1 0 1.4 0 0.8 0 0.8 -0.1 0.8 -0.1 1.2 0.2 1.3 -1.1 0.4 -0.7 0.4 -0.7 0.4 0 0.9 0 1.1 -0.1 0.9 0.1 0.6 0 0.7 -1 0.1 -1 -0.1 -1.1 0.1 -1.3 0 -1.6 -0.1 -0.9 -0.1 -1.4 0.1 -1.7 0M475.8 236.2l2.1 1 1.2 0.5 1.2 0.6 1.8 1.2 0.6 0.4 1 0.7 1.1 1 0.7 0.4M485.5 242l-1.2 0 -0.8 0 -0.6 0 -0.8 0.1 -0.9 -0.1 -0.9 4.1 -0.4 2.4 -0.2 2.5 0.1 1.7 1.1 2.5 1 1.9 1 3.9 0.6 2.2 0.2 0.6 0.2 0.9 -0.1 1.1 -1.9 -0.2 -1.9 0.2 -1.2 -0.1 -1.2 0 -0.8 0 -0.5 -0.1 -0.8 0.1 -1.3 0.1 -0.9 0.1 -0.6 0.2 -1 0.2 -0.5 0.2 -1 0.3 -0.8 -0.7 -0.6 -0.6 -0.8 0.8 -0.5 0.5 -0.5 0.7M467 267.5l-0.8 -0.9 -0.5 -0.8 -0.6 -0.6 -0.3 -0.4 -0.6 -0.6 -0.9 -0.3 -0.7 -0.4 -0.8 -0.3 -0.6 -0.2 -0.6 0.1 -0.7 0.2 -0.8 0.2 -0.5 0.2 -1.1 0.2 -1 0.1M485.5 242l2.7 1.3 1.5 1.3 1.8 1.7 1.4 1.3 2.5 1.4 2.1 0.9 1.2 0.7 1.8 1.2 0 1 0.9 0.4 1.1 0.5 0.6 0.3 0.8 0.3 0.6 0.3 1 0.4 0.1 1.2 0.2 0.8 0.5 -0.1 0.8 -0.1 1 -0.2M508.1 256.6l0.7 -0.1 1.1 -0.3 1 -0.3 1.1 -0.1 0.8 -0.7 0.6 -0.3 0.6 -0.7 1 -0.7 0.8 -0.7 0.4 -0.5 1.7 -0.9 1.1 -0.5 0.9 -0.5 1.5 -0.7 1.7 -1 1.6 -0.6 1.9 -1.3 0.9 -0.9M527.5 245.8l-0.8 -0.6 -0.5 -0.3 -0.4 -0.3 -0.8 -0.4 -0.6 -0.2 -0.9 -0.4 -1 -0.4 -0.1 -0.6 -0.2 -1 -0.3 -1.1 -0.2 -0.7 -0.5 -1 0.5 -1.2 0.4 -0.9 0 -0.9 0.1 -0.8 0 -1.2 -0.1 -1.1 -0.1 -0.7 -0.4 -1.2 -0.1 -0.7 -0.3 -1.1M521.2 229l0 -0.8 -0.2 -0.6 -0.3 -1 -0.3 -1.1 -0.2 -1.3 -0.9 -0.6 -1.1 -0.6 -0.5 -0.8 -0.6 -0.9 -0.3 -0.7 -0.6 -0.6 0.6 -0.5 0.4 -0.4 0.5 -0.6 0.5 -0.7 0 -0.5 0.1 -0.9 -0.1 -0.7 0.1 -1.2 -0.1 -1.3 0.2 -0.4 0.6 -0.7M521.2 229l0.9 -0.7 0.5 -0.5 0.6 -0.6 0.1 -0.8 -0.1 -1.2 0.9 -0.5 0.8 -0.3 0.7 -0.5 0.6 -0.4 0 -0.9 0 -1M560 225.5l0.6 3.2 0.4 4.6 -0.1 3 0 4.3 -0.6 2.5 0 3.1 -0.3 1.7 0 1.6M527.5 245.8l1 0.1 1.3 0.1 0.6 0.1 0.9 0.2 0.8 0.2 0.9 0.3 0.7 0 1.3 0.2 3.1 0.7 3.7 1.4 4 0.7 2.3 0.6 3.1 2.2 2 1.2 2.7 1.1 1.6 0.9 0 -0.7 0 -0.6 1.1 0 0.9 0 0.5 0 0 -0.8 -0.2 -1.2 0 -0.9 0 -0.9 0.2 -0.7 0 -0.5 5.3 -0.7 5 0.3 4.1 -0.4 3.8 0.1 1.9 0 3.3 0.1 2.4 -0.1 4 0.7M535 247l0.3 0.9 0.2 0.8 0.2 0.5 0.1 1 0.3 1.1 0.1 0.7 0.1 1 0 0.6 0.2 0.9 0.2 0.8 -0.1 0.6 -0.1 1 0.1 0.8 -0.1 0.8 -0.3 1.2 0.1 1.5 -0.1 1 -0.5 0.6 -0.6 0.8 -0.7 0.7 -0.5 0.7 -0.6 0.9 -0.4 0.5 -0.8 1.1 -0.6 0.7 -0.2 0.9 -0.1 1.1M557.5 255.8l0.2 0.7 0.2 0.9 0 0.7 0 1.3 -0.1 0.9 -0.1 1.4 -0.2 1.8 0 1.7 -1.1 0.1 -1.1 0.2 -0.5 0 -0.1 0.6 0 1 -0.2 0.8 -0.1 0.6 -0.4 1.1 -0.3 0.9 -0.1 0.8 -0.1 0.7 0.3 0.8 0.1 0.7 0.1 0.5 0.2 1.2 0.1 0.6 0.3 0.7 0.2 0.5M508.1 256.6l-0.1 0.8 0.1 0.5 -0.1 0.9 0.1 1.1 0.2 1 -0.1 0.6 -0.1 1 -0.6 1.1 -0.4 0.8 -0.3 1.1 -0.8 0.1 -0.6 0.1 -0.6 0 -0.9 0.2 -0.7 0.1 -1.1 0 -0.6 0 -0.7 0.2 -0.8 0.3 -1 0.3 -1 0.4M506.5 275.2l0.1 -0.7 0.1 -0.5 0.1 -0.7 0.4 -1.1 0.4 -0.7 0.4 -0.7 1.2 -0.1 1 0.1 1 -0.1 0.7 -0.1 0.5 0 0.8 -0.1 1.3 0.2 0.9 0.2 0.7 0.1 0.9 0.2 0.6 0.3 1 0.4 0.9 0.4 0.5 0.2 1 -0.3 0.7 -0.3 0.8 -0.1 0.6 -0.2 0.7 -0.1 0.7 -0.3 0.8 0.1 0.5 0.1 0.6 0 0.7 0.1 0.8 0.2 0.6 0.1 0.7 -0.3 0.5 -0.3 0.6 -0.4 0.9 -0.6M498 267.2l-1.1 -0.2 -1.1 -0.2 -0.8 0.5 -0.4 0.3 -0.6 0.4 -0.7 0.5 -0.8 0.5 -0.6 0.5 -0.4 0.3 -0.9 0.4 -0.6 0.3 -0.8 0.3 -1 0.3 -0.7 0.2 -0.7 0.2 -0.1 1 -0.1 0.7 -0.1 0.6 -0.7 0.3 -0.5 0.2 -1.1 0.7 -0.1 0.7 0 1.2 -0.1 0.6 -0.2 1M467 267.5l0.2 0.9 0.4 1.2 0.1 0.8 0.2 0.7 0.4 0.9 0.4 1 0.3 0.5 0 0.7 1 -0.1 1 -0.1 0.8 -0.1 1.2 -0.1 0.7 -0.2 0.5 -0.1 0.5 0.9 0.4 0.5 0.4 0.5 0.4 0.4 0.6 0.4 0.3 0.8 0.2 0.7 0.3 0.7 0.2 0.6 0.8 -0.2 1.1 -0.3 1 -0.1 0.8 -0.2 0.8 -0.2 1.1 0.4 0.7 0.1M455.8 273.5l1.2 -0.2 1.5 -0.2 0.7 0.1 1.3 0 0.7 0 0.8 -0.1 0.5 -0.1 0.7 0 0.9 0.2 1.2 0 0.4 0 0.9 0 0.8 0.1 0.7 0.1 0.9 0.1M463.2 273l0 0.6 0.1 0.7 -0.1 0.9 -0.6 0.4 -0.7 0.4 -0.7 0.3 -0.6 0.4 -0.6 0.3M455.5 270.5l1.3 0.1 1 0 0.7 0 0.6 0 0.8 0.1 1 0 0.9 0 1.2 0.1 0 0.7 -0.8 0 -1.1 0 -0.6 0 -1.1 0.1 -0.8 0 -1.1 0 -1.3 0.2 -0.7 0M464.2 281.9l0.9 -0.8 0.7 -0.6 0.7 -0.7 0.6 -0.1 1.1 0 0.6 -0.1 0.7 -0.1 0.6 0.8 0.5 0.7 0.4 0.8 0.3 0.5 0.5 0.9 -0.5 0.8 -0.3 1 -0.6 0.6 -0.6 0.5 -0.4 0.6 -0.6 0.5M471.8 283.2l0.7 0.9 0.7 0.8 0.7 0.6 0.3 0.5 1.1 -0.3 0.9 -0.2 0.1 0.6 0.3 1.1 0.1 0.9 0.1 0.7 0.9 0.5 0.5 0.4 0.6 0.3 -0.1 0.6 0 0.8 0 0.8 0.1 0.5 0 0.8M476.2 285.5l0.7 -0.6 0.4 -0.4 0.5 -0.6 0.4 -0.4 -0.1 -0.9 -0.2 -0.9 -0.3 -1.2 0 -0.8 -0.1 -0.7M490.5 280.2l0.1 1 0.1 0.9 0 0.6 0 1 0.1 1.1 -0.5 1 -0.4 0.8 -0.4 0.9 0.2 0.7 0.2 0.8 0.4 0.9 0.2 0.5 0.3 0.8 -1 0.6M483.8 278.5l0.7 0.6 0.4 0.5 0.9 0.6 0.9 0.1 0.9 -0.1 0.7 0 1 0.1 1.2 -0.1 0.1 -1 -0.2 -0.9 0.1 -0.5 0 -0.8 0.6 0 1.1 0 1.4 -0.3 0.8 -0.1 0.7 0 1.1 0.1 0.5 0 0.8 0.1 0.3 0.5 0.4 0.7 0.3 0.7 0.3 0.8 -0.1 1 0.1 0.9 0 0.5 0 1.2 0.2 0.7 0 1.2 0 0.9 0.1 0.7 0.1 0.9 0.6 0.8 0.7 0.9M499.8 277l0.2 0.8 0.1 0.5 0.3 0.7 0.4 0.9 0.1 0.6 0.3 0.7 0.3 0.8 0.1 1 0 0.6 0 1 -0.1 0.7 0 0.9 0 1.3 0 1.5M506.5 275.2l-0.2 1.2 0.1 0.8 -0.2 1 -0.3 1.2 -0.6 0.8 -0.2 0.4 -0.1 0.7 -0.2 0.5 -0.4 0.9 -0.2 0.5 0.1 0.9 -0.1 1.1 0.1 1 -0.1 1.1 0 1.2M498 267.2l0.5 0.8 0.4 0.6 0.6 1 0.2 0.8 0.3 0.6 0.9 0.8 0.7 0.5 0.6 0.5 0.8 0.7 0.2 0.4 0.3 0.9 0.7 0.2 0.9 0.1 0.7 0.1 0.7 0M497.5 276.8l1.1 -0.1 1.2 0.3 0.7 -0.7 0.6 -0.3 0.7 -0.4 0.8 -0.4 0.9 -0.4M532.8 271.8l0.1 0.9 0.1 0.8 0.3 0.6 0.2 0.6 0.5 1.1 -0.9 0.6 -0.5 0.3 -0.6 0.3 -0.2 0.8 -0.4 0.9 -0.3 0.6 -0.3 0.9 -0.6 1 -0.3 0.7 -0.4 0.6 -0.4 1 -0.4 0.8 -0.5 0.8 -0.7 1 -0.5 0.9 -0.8 0 -0.8 0 -0.5 0 -0.9 0 -1.2 0.3 -0.8 0.2 -0.7 0.7 -0.8 0.8 -0.5 0.4 -0.5 0.6 -0.4 1 -0.2 0.9 -0.1 0.9M532.8 271.8l0.4 0.5 0.4 0.3 0.6 0.5 0.4 0.7 0.4 0.4 -0.1 1.1 -0.1 1.2 0.1 0.6 0 0.9 0.1 0.8 0 0.7 -0.8 0.1 -0.8 0.1 -0.9 0.1 0.5 0.9 0.4 0.8 0.7 1 0.3 0.6 0.5 0.7 0.3 0.5 0.4 0.6 0.6 0.9M536.2 285.8l-0.3 0.4 -0.4 0.6 -0.6 0.5 -0.2 0.5 -0.6 0.6 -0.3 0.6 -0.1 1.1 0.2 0.7 0.1 1.2 0.6 0.9 0.6 0.6 0.3 0.5 0.4 0.7 0.3 0.5 0.5 0.8 0.5 1 0.5 1.1 0.3 0.9 -0.9 0.1 -1.1 0 -1.1 0 -1.1 0.1 -1 0 -1.3 -0.1 -0.7 -0.1 -0.8 0 -1.1 -0.1 -0.7 0.1 -0.6 0 -0.9 0 -0.9 0 -1 -0.2 -1 -0.1 -0.7 0 -1.1 0.1M522 302l0.9 0 0.5 0.1 0.8 -0.1 0.6 0 1 0 -0.1 -1.2 0 -0.8 0.1 -1M530.8 299l0.4 0.6 0.3 0.4 0.7 0.9 0.4 0.5 0.5 0.5 0.7 0.6 -0.1 0.5 0.1 0.8 -0.2 0.7 -0.1 1.3 0 0.6 0.1 0.7 0 1 0.1 0.6 0.1 0.8 -0.8 0.3 -0.9 0.2 -0.9 0.2 -0.5 0.1 -0.7 0.2 -0.4 0.5 -0.4 0.7 -0.4 0.4 -0.5 0.6 -0.5 0.4 -0.8 0.7 -0.7 0.1 -1.1 0.3M544 295.8l-0.3 0.6 -0.2 0.8 -0.5 0.8 -0.3 0.9 -0.2 0.6 -0.1 1.1 0 0.7 -0.2 1.2 -0.1 1 -0.1 1 -0.3 0.6 -0.4 0.6 -0.7 1 -0.6 0.8 -0.3 0.5 -0.5 0.7 -0.4 0.8 -0.4 1.1 -0.2 0.8 -0.3 0.8 -0.4 1 -0.7 0.7 -0.3 0.5 -0.6 0.5 -0.4 0.3 -0.5 0.4 -0.7 0.5 -0.8 0.7 -0.8 -0.4 -0.4 -0.1 -1.1 -0.2 -1 -0.1 -0.5 1 -0.4 0.5 -0.6 0.8 -0.7 0.7M536.2 285.8l0.8 -0.1 1.2 -0.3 1.1 -0.3 1.7 -0.1 1.3 -0.3 0.8 0 0.9 -0.2 0.3 -0.6 0.3 -0.5 0.2 -0.5 0.4 -0.9 0.8 -0.4 1.1 -0.5 1.3 -0.7 1.1 -0.8 0.9 -0.7 0.7 -0.4 0.7 -0.5 1 -0.3 0.8 -0.2 1.2 -0.3 0.3 0.9 0.2 0.7 0.4 1.1 0.4 0.6 0.3 0.9 0.2 0.7 0.2 0.7 0.6 0.5 0.6 0.5 0.7 0.5 0.5 0.3 0.6 0.4 0.4 0.5 0.6 0.5 0.5 0.5 0.6 0.6 1 1.1 0.7 0.8 1 0.8 0.5 0.8 0.6 0.8 0.3 0.4M538 299l0.3 -0.6 0.2 -0.8 0.3 -1.1 1.2 -0.1 0.8 -0.1 1.2 0.1 1.1 -0.4 0.9 -0.2 0.4 -0.8 0.5 -0.7 0.3 -0.5 0.3 -0.5 0.5 -0.8 0.2 -0.7 1.1 0.3 1.4 0.5 1 0.3 1.1 0.2 0.5 0.3 0.8 0.3 0.5 0.2 0.9 0.3 0.4 -0.1 0.9 -0.3 0.9 -0.5 0.8 -0.5 0.7 -0.4 0.8 -0.4 0.5 -0.2 0.9 -0.3 0.8 0 1.2 0.2 1 -0.2 0.9 0.1 1 0 0.7 0 1 0.2 0.7 0.1 0.8 0 0.5 0.2 0.9 0.2 1.1 0.4 1.2 0.3 0.7 0.5 0.4 0.3 0.6 0.6 0.4 0.3 0.6 0.5 0.9 0.6M556.8 282.8l0.4 -0.5 0.4 -0.5 0.8 -0.7 0.7 -0.6 0.4 -0.5 1 0.1 0.8 0.2 0.8 0.1 0.8 0.1 0.9 0.3 0.9 0.1 1.1 0 0.9 0.2 0.8 0.1 0.8 -0.2 0.6 -0.3 1.1 -0.5 0.6 -0.3 0.6 -0.3 0.7 -0.4 0.6 -0.4 0.9 0.4 0.7 0.4 0.9 0.4 0.4 -0.7 0.4 -0.4 0.9 -1.2 0.6 -0.6 0.3 -0.5 0.3 -0.6 0.6 -0.8 0.7 -0.4 0.6 -0.4 0.7 -0.4 0 0.8 -0.1 0.8 -0.1 1 -0.1 1.2 0.5 0.6 0.7 0.7 0.8 1 0.3 0.7M582.5 280.8l0.1 0.6 0 0.7 0.2 0.9 -0.6 0.3 -0.6 0.5 -1 0.7 -0.6 0.5 0.7 0.5 0.7 0.6 0.6 0.4 0.8 0.5 1 0.5 0.4 0.8 0.3 0.7 0.5 1 0.3 0.4 0.5 0.6 0.3 0.5 0.4 0.6 0.7 0.9 -0.7 0.2 -0.5 0.2 -0.6 0.2 -0.8 0.2 -0.7 0.1 -0.6 0 -0.8 0.1 -1 0.3 -0.9 0.3 -0.7 0.2 -1.2 0.4 -1.2 0.3 -1.1 0.3 -0.6 -0.1 -1 0.1M582.5 280.8l0.2 -1 0.2 -0.6 0.3 -1.2 0.5 -0.8 0.4 -0.5 0.5 -1.1 0.4 -0.6 0.6 -0.4 0.6 -0.6 0.6 -0.5 1 -0.7 0.2 -1.2 0.3 -1 0.1 -0.9 0.4 -0.9 0.3 -1.4 0.2 -0.7 0.3 -1 0.2 -1 0 -1.1 0.2 -0.9 0 -0.7 0.9 -0.8 0.7 -0.5 0.3 -0.3 0.8 -0.3 0.7 -0.3 0.6 -0.3M588.8 268.8l0.9 -0.5 0.6 -0.3 1 -0.3 0.9 -0.5 0.9 0.4 1 0.1 0.8 0.3 0.6 0.2 0.6 0.2 0.9 0.3 1 0.2 0.8 0.2 1 0.1 0.7 0.8 0.6 0.5 0.3 0.4 0.4 0.5 0.4 0.5 0.6 0.6 0.7 0.7 -0.7 0.9 -0.5 1.1 -0.3 0.6 0 0.7 0 0.5 1.2 0 0.8 0 0.8 0.1 0.3 -0.6 0.4 -0.7M604.8 277.1l0.4 1 0.5 0.8 0.3 0.5 0.5 0.8 0.4 1 0.6 0.8 0.7 0.2 1 0.3 0.9 0.4 1.2 0.4 1.3 0.4 0.7 0.3 1 0.2 0.7 0.3 1.1 0 0.8 0 0.6 0 -0.5 0.6 -0.9 1 -1.6 1.4 -1.3 1 -0.7 0.7 -1 1.2 -0.6 0.6 -0.9 1 -0.6 0.1 -0.9 0.2 -0.8 0.2 -0.7 0.2 -0.7 0.1 -0.6 0.2 -0.7 0 -0.7 0.5 -0.9 0.2 -0.9 0.5 -1.1 0.2 -0.5 0.1 -0.9 0.1 -0.9 0.4 -0.7 0.1 -1 0.4 -1.2 0.5 -1.2 -0.2 -0.8 0 -0.4 0 -1 -0.3 -0.7 -0.5 -0.7 -0.5 -1.1 -0.6 -0.5 -0.4 -1.1 -0.1 -0.6 -0.1 -0.9 -0.3M600 294.6l0 1.4 -0.2 0.9 0.1 2.5 -0.1 1.6 0.1 2.2 0 1.5 0.1 1 0 1.1 0.4 0.5 0.4 0.5 0.7 1M582.5 294l0.4 0.9 0.4 0.5 0.5 0.8 0.4 1.1 0.2 0.7 0.3 1.1 0.3 0.7 -0.3 0.9 -0.5 0.9 -0.7 0.9 -0.5 0.6 -0.4 0.6 -0.4 0.5 0 0.7 0 0.7 0.1 0.7 -0.1 0.7 1.8 1 1.3 0.7 1.1 0.4 0.9 0.5 1 0.5 0.8 0.6 1.1 0.6 1.3 0.7 0.2 0.6 0.1 0.6 0.8 0.6 0.3 0.4 0.6 0.6 0.4 0.3 0.7 0.6 0.9 0.5M574.8 295.8l-0.1 0.7 -0.1 0.6 -0.1 1 0 0.7 0.5 0.1 0.8 0.3 -0.9 0.8 -0.6 0.7 -0.8 0.8 -0.4 0.6 -0.6 0.4 -0.3 0.9 -0.1 0.5 -0.2 0.9 -0.4 1 0 1.1 0 1.1 0.8 -0.3 0.5 -0.2 1 -0.4 1.2 0.1 1.7 0 0.9 -0.1 1.3 -0.2 1.1 0 1 0.1 0.5 0 0.7 0M571.5 308l-0.4 0.9 -0.2 0.7 -0.1 0.8 -0.3 0.6 -0.5 0.5 0.1 0.6 0.1 0.7 0.1 0.5 0.1 0.7 0.2 0.9 0.2 0.6 0.7 0 1 0 0.4 -0.6 0.5 -0.7 0.7 -0.9 0.4 -0.5 -0.2 -0.6 -0.3 -0.9 -0.2 -0.8 0.7 -0.3 -0.2 -0.6 -0.2 -0.8 -0.3 -1.1 0 -0.6M570 311.5l1.1 -0.2 0.6 -0.1 0.6 -0.2 0.7 -0.2 0.8 -0.3M570.8 315.5l0.1 0.7 0.1 0.7 0 1.1 0.2 1.1 0.1 0.7 0.2 1 0.3 0.4 0.5 0.7 0.6 0.5 0.6 0.9 0.3 0.8 0.4 0.9 -0.6 0 -0.6 0.2 -0.9 0.1 -1.1 0.1 -0.6 0.2 -0.6 0.2 -0.4 0.7 -0.6 1 -0.1 0.8 0 0.6 -0.1 1.1 -0.1 0.7 0.1 1 0 0.9 -0.1 1.4 0.9 0.9 0.8 0.8 0.4 0.4 0.3 0.6 0.7 0.8 0.4 0.5 -0.8 -0.5 -0.8 -0.3 -0.9 -0.6 -0.7 -0.4 -0.5 -0.2 -0.7 -0.5 -0.5 -0.7 -1 -0.8 -0.6 -0.5 -0.9 0.2 -0.7 0.2 -0.7 0.1 -0.7 0.2 -0.4 -0.5 -0.5 -0.6 -0.8 -0.6 -1 0.1 -0.6 0.2 -0.7 0.2 -0.6 -0.8 -0.4 -0.4 -0.9 0.1 -0.9 0.2 -1.2 0.1 -0.5 0.1 -1 0.2 -0.2 -0.9 -0.4 -1.1 -0.3 -0.9 0 -0.7 -0.1 -0.7 0.1 -0.6 0 -1.2 -0.1 -0.9 -0.1 -0.5 0 -1.1 0.1 -1.1 -0.7 0 -0.6 -0.1 -0.7 -0.1 -0.6 -0.2 -0.6 -0.1 -0.7 -0.1 -1 -0.2 -0.9 0 -0.3 0.7 -0.4 0.6 -0.3 0.8 -0.2 0.4 -0.8 0 -0.9 0 -1 0.1 -1.1 0.2 -0.3 -0.9 -0.2 -0.8 -0.3 -0.8 -0.3 -0.5 -0.3 -0.6 -0.4 -0.8 -0.4 -1.2 -1.1 0 -0.8 -0.1 -1.7 -0.1 -1 0 -1.2 -0.1 -0.8 0.1 -1.5 0.2 -0.9 0 -1 0 -1 -0.2M574.2 325l1 0.6 1.2 0.6 0.7 0.5 0.7 0.4 0.9 0.4 1.1 0.5 1 0 1 0.1 0.7 0.1M584.8 333.5l0.8 0 0.7 -0.1 1.2 0.2 0.8 0 0.9 0.1 0.8 0 1.2 0.1 1.3 -0.4 0.9 -0.5 0.9 -0.3 0.7 -0.3 1 -0.5 1 -0.6 0.8 -0.2 0.7 -0.2M584.8 333.5l-0.3 1 -0.1 0.6 -0.2 1 -0.4 1.1 0 1 0.5 0.7 0.5 0.3 0.4 0.5 0.3 0.6 0.7 0.5 0.6 0.5 0.4 0.5 -0.1 0.9 -0.1 0.7 -0.2 0.9 -0.1 0.8 -0.5 0.9 -0.2 0.7 -0.2 0.5 -0.6 -0.6 -0.5 -0.3 -0.6 -0.4 -0.9 -0.7 0.1 -1.1 0 -0.6 0.1 -0.7 0.2 -0.9 0.2 -1.1 -1.2 -0.4 -0.9 -0.2 -1 -0.4 -0.7 -0.3 -0.8 -1 0.3 -0.8 0.2 -0.7 0 -0.6 0.3 -0.9 0.2 -0.7 0.1 -0.6 0.2 -1 -0.2 -1 -0.2 -0.7 0 -0.7 -0.1 -0.6 0 -0.9 0 -0.8 -0.2 -0.5M557.5 331.8l0 0.9 0 1.2 0 0.8 0 0.7 0 0.8 0 0.8 -1.1 0 -0.8 0 -0.5 0 -0.9 0 -1 0 -0.7 0 0.1 1.9 -0.1 1.3 -0.4 1.2 -0.2 0.7 0.1 0.7 0.3 1 0.2 1.2 0.8 0.6 0.6 0.7 0.8 0.7 0.4 0.5 0.4 0.5 0.5 0.5 0.5 0.1 0.7 0.1 0.6 0 1 0 1 0.2 1 0.1 1 0.1 0.9 0.2 0.6 0.2 1 0 0.7 0 0.7 -0.6 0.9 -0.8 0.8 -0.8 0.3 -0.7 0.4 -0.4 0.5 -0.5 0.4 -0.6 0.8 -0.6 0.9 -0.2 0.9 -0.3 0.7 -0.2 0.6 -0.1 0.6 -0.2 -0.3 -1.1 -0.2 -0.9 0.6 -0.3 0.6 -0.2 0.7 -0.1 1.1 -0.3 0.9 -0.3 0.8 -0.2 1.3 -0.2 1 -0.4M527 347.8l0.9 -0.2 0.7 0 1 0.1 1.2 0.1 1.1 0.1 0.6 0.1 1.6 -0.1 2.7 -0.1 1.6 0 0.9 -0.2 1.5 0.1 1.2 0 0.9 0.2 0.6 0.1 0.9 0.3 1 0.3 0.7 0.2 0.6 0.2 0.8 0.2 0.5 0.1 1 0 1 0.2 0.9 -0.1 0.8 0 1.2 -0.3 0.8 -0.2 0.9 -0.1 0.6 -0.2 0.8 -0.1M550 349.5l0.1 0.7 0 1.2 -0.2 2.3 0 1.3 0.1 0.9 0 0.8 0 1 0 1.8 -0.9 0 -0.4 0 -1.2 0 0.2 1 0 0.6 0 0.6 0.1 0.8 -0.2 1.3 0.2 1.2 -0.1 0.6 -0.2 0.9 -0.1 1.2 0.1 1.6 -0.1 1.3 0 1.4 0 0.8 0.1 1.2 0 0.9 0 0.6 -1 0.3 -0.6 0.1 -1.1 0.4 -1.4 0 -0.9 0 -0.9 0 -0.6 -0.1 -1.2 -0.1 -1 -0.1M547.5 366.5l0.4 1 0.4 0.7 0.3 0.6 0.4 0.8 0.4 0.9 0.1 1 0.6 -0.4 0.5 -0.4 0.7 -0.5 0.8 -0.5 0.7 -0.4 0.4 -0.4 0.5 -0.3 0.5 -0.4 1.1 0.1 1.4 0.1 0.6 0.1 0.9 0 1.2 0 0.7 0.1 1.1 0.2 0.5 -0.6 0.6 -0.7 0.5 -0.8 0.6 -0.9 0.7 -0.8 0.3 -0.6 0.4 -0.6 1.1 -0.5 0.8 -0.3 1.4 -0.8 0.7 -0.4 0.7 -0.4 0.5 -0.4 0.5 -0.5 0.5 -0.5 0.8 0 0.8 -0.1 0.6 0.2 0.9 0.2 0.9 0.2 0.8 0M560.8 349l0.5 1 0.3 0.6 0.4 0.8 0.2 0.8 0.3 1 1 0.7 1.1 0.6 0.8 0.6 0.5 0.1 0.9 0.6 0.8 0.6 0.6 0.5 0.5 0.6 0.8 0.9 0.6 0.6 0.5 0.6 0.4 0.4M575.8 360.5l0.4 -0.5 0.7 -0.6 0.7 -0.6 0.7 -0.7 0.5 -0.3 0.1 -1.1 0.1 -0.6 0.2 -1.2 0.3 -0.9 0.3 -0.8 -0.2 -0.8 0 -0.9 0 -1.1 -0.1 -0.7 0.2 -1.1 0 -0.6 0.1 -1 -0.5 -0.2 -0.8 -0.5 -0.7 -0.3 -0.5 -0.3 -0.5 -0.2 -0.9 -0.4 -0.9 -0.6 -0.8 -0.5 -0.7 -0.5M575.8 360.5l0.1 1 0.3 1.2 0.3 0.9 0.3 0.8 0.3 0.6 0.4 0.8 0.1 0.8 0 0.7 -0.1 1 -0.1 1.2 0.2 0.9 -0.1 1.1 0.5 0 0.8 0 1 0.1M565 378.5l0.7 -0.7 0.8 -0.5 0.5 -0.3 0.9 -0.5 0.9 -0.5 0.7 0.6 0.4 0.3 0.5 0.5 0.6 0.6 -0.4 0.5 -0.6 0.6 -0.4 0.6 -0.5 0.7 -0.3 0.4 -1.3 -0.2 -0.6 -0.1 -0.9 -0.3 -0.4 -0.6 -0.2 -0.5 -0.4 -0.6M575 369.5l1 0 1 0 0.5 0 0 0.9 -0.1 0.8 0.1 0.6 0 0.7 -1 0.1 -0.9 -0.1 -0.6 0 0 -0.9 0 -0.8 0.1 -0.7 -0.1 -0.6M475.5 199.8l0.8 -0.2 0.7 -0.1 1.2 0.1 0.8 0.1 0.8 0 0.5 0 0.9 0.1 0.8 1 -1 0.7 -0.8 0.5 0.1 0.9 -0.1 0.9 -0.2 0.8 0 0.6 -0.7 0.2 -0.5 0.1 0.3 0.8 0.2 0.5 0.2 0.8 0.2 0.7 0.3 0.7 -0.3 1.2 -0.3 0.6 -0.4 0.7M493 196l0.6 0.2 0.9 0.1 0.6 0.3 1.3 0.3 0.6 0.1 0.6 0.2 0.8 0.2 0.8 0.4 0.5 0 0.8 0.1 1 0.1 0.5 0 1.3 0.2 1 0.2 1.2 0.1M503.8 176.8l0.7 0.6 0.7 0.5 0.3 0.2 0.5 0.3 0.8 0.4 0.5 0.3 0.7 0.4 0.7 0.4 0.9 0.3 1 0.2 0.5 0.1 0.9 0.3 0.9 0 0.6 0 1 0.1 1 0.2 0.9 0.3 0.4 0.2 1.2 0.4 -0.3 0.8 -0.2 0.6 -0.2 0.9 -0.4 0.6 -0.4 0.6 -0.7 0.5 -0.7 0.6 -0.5 0.4 -0.7 0.7 -0.4 0.3 -0.4 0.5 -0.6 0.5 0.9 0.3 0.8 0.2 0.8 0.3 -0.4 1.1 -0.4 0.9 0.5 0.4 0.7 0.9 0.4 0.5 0.7 0.6 -0.3 0.8M506 176l0.5 -0.1 0.9 0.1 0.8 0 0.7 0.2 1.2 0.3 0.8 0.1 0.8 0.2 0.5 0.2 0.3 0.5 0.1 1.1 0.2 0.6 0.4 0.9 0.3 0.7M512.5 177.5l0.1 -1.2 0.1 -0.6 0.3 -0.9 1 -0.5 1 -0.5 0.2 -0.9 0.2 -0.7 0.1 -1M519.2 167.2l0.5 0.1 0.9 0 0.9 0.1 0.7 0.1M533 169.8l0.3 0.9 0.1 0.7 0.2 0.8 0.4 0.8 0 1.1 0.2 1.1 0.4 0.8 -0.1 1 0.5 0 -0.8 0.1 -0.7 0 -1.1 0.2 -1.4 0.5 -0.7 0.3 -0.9 0.3 -0.6 0.1 -1 0.3 0.5 0.4 0.9 0.9 0.6 0.5 0.7 0.5 0.6 0.7 0.9 0.7 -0.3 0.7 -0.4 0.8 -0.8 0.9 -0.5 0.9 -1.2 -0.1 -1.5 0.1 -0.8 -0.2 -0.8 -0.2 -0.6 0 -1.1 0.1 -0.8 0.1 -0.7 0.2 -1 0 -0.9 -0.3 -0.8 -0.1 -0.8 -0.2 -1.1 0.2 -0.6 0.1 -0.8 0M515 189.8l1 -0.3 0.7 -0.1 0.6 -0.1 0.7 -0.2 0.8 -0.1 0.8 -0.1 0.4 0 0.8 -0.1 0.9 -0.5 0.8 -0.3 0.7 -0.4 0.6 -0.1 0.6 0 0.8 0 1.2 -0.2 0.6 -0.1 1 -0.2 0.9 0.3 0.6 0.3 1 0.1 0.4 0.3 0.9 0.2 0 0.9 -0.1 0.5 0.1 0.9M521.5 185.8l0.9 0.7 0.6 0.5 0.8 0.5M531.8 188.2l0.7 -0.1 1.3 -0.2 1 -0.1 0.8 -0.1 0.7 -0.1 0.7 0 0.8 -0.1 0.4 -0.6 0.3 -0.3 0.6 -0.6 0.5 -0.9 0.6 -0.6 0 -1.1 -0.2 -0.6 -0.7 -0.1 -1 -0.1 -0.7 0.1 -0.7 -0.2 -0.5 -0.2 -0.7 -0.2 -0.7 -0.1 -1.1 0 -0.8 0.1 -1.1 0.4M535 177l0.5 0.2 0.9 0.3 0.9 0.2 0.7 0.2 1.1 0.4 0.7 0.5 0.5 0.2 0.9 0.3 1.1 0.4 0.8 0.3 0.9 0.3 0.5 0.2 0.7 0.1 0.6 0.1 0.7 0.1 0.6 0.3 0.7 0.1 1.1 0.3 0.4 0 0.9 0.1 0.9 0.1 0.9 0 0.8 0 1.2 0.1M544.5 180.5l-0.7 0.4 -0.6 0.3 -0.8 0.4 -0.9 0.3 -1 0.3 0.1 1.1 -0.1 0.7 -0.3 0.5 1 0.1 0.5 0.1 1.1 0.1 0.7 0.1 1 0.1 0.9 -0.3 0.7 -0.3 0.7 -0.4 0.6 -0.3 0.6 -0.1 0.8 -0.4 1.1 0.2 1.2 0 0.8 0.1 0.9 0 0.6 -0.8 0.6 -0.9M554 181.8l0.9 -0.9 0.4 -0.7 0.6 -0.7 0.4 -0.5 0.5 -0.7 0.7 -0.8 -0.4 -1 -0.6 -0.7 -0.1 -1 0.1 -1.1 0 -0.7 0.2 -1 0.2 -0.9 0.3 -0.8 0 -0.5 -1 -0.5 -1.1 -0.5 -0.6 -0.3 -1.1 0 -0.6 0 -1.8 0.1 -1.3 0.2 -1.1 0 -1 -0.1 -0.6 -0.2M554.5 168.5l0 -0.6 0 -0.9 -0.6 -0.1 -0.8 -0.3 -1 -0.1 -0.6 -0.1 -0.7 -0.2M550.2 164.2l1.2 -0.2 0.8 -0.1 0.6 -0.2 1 -0.2 0.9 0.1 1.6 -0.1 1.6 0 1.9 0 0.6 0.3 0.5 0.2 0.6 0.2 0.7 0.2 0.7 0.2 0.5 0.3 0.6 0.3M558.2 159.8l0.7 -0.1 0.7 0.1 1.1 0 0.8 0.1 1 0.1 1 0.3 0.8 0.2 0.9 0.2 0.8 0.1 0.4 -0.8 0.2 -0.7 0.4 -1.1 0.4 -0.7 0.1 -0.5 0 -1.2M566 160.8l0.4 0.7 0.6 0.7 0.4 0.8 0.6 1 -1 0.4 -0.9 0.2 -0.5 0.2 -0.9 0.3 -0.7 0.1 -0.8 0.7 -0.5 0.4 -0.7 0.9 -0.4 0.7 -0.4 1.1 -0.9 0.1 -1.1 0.1 -1 0.2 -1 0.4M568 164l0.7 0.1 1.1 0.3 0.9 0.1 0.6 0 1 0.3 0.6 0.3 0.9 0.2 1 0.2 0.2 0.8 0 0.8 0 0.7 0.7 0.3 0.6 0.6 0.9 0.6 1 0.7 0.4 0.4 0.6 0.4 -0.8 0.2 -0.5 0.2 -0.6 0.1 -1.1 0.2 0.2 1 0.3 0.9 0.3 0.8M556.5 175.8l0.9 -0.4 0.7 -0.2 0.5 -0.2 0.8 -0.1 0.6 -0.1 1.1 0.1 1.5 0.2 0.7 0.1 0.8 0 0.7 0.1 0.9 0 1.1 0.1 0.7 0.1 0.7 0 1.2 0.1 0.7 0 1.3 0.1 1.1 0.2 0.5 0.1 1 0.2 0.9 -0.3 0.9 -0.6 0.6 -0.6 0.6 -0.5 1.3 0.1 0.8 0.2 1 0.2 0.8 0.1 1.1 0.1 0.6 0 0.9 0.1 0.8 0.9 0.9 0.7 0.4 0.7 0.4 0.7 0.7 0.2 0.6 0.1 1.1 0.2 0.8 0.1 1.2 0.1 0.8 -0.2 0.7 0.6 0.7 0.3 0.4 0.4 0.7 0.2 1 0.1 1.1 0.1 1.2 0.1 0.8 0.2 -0.3 0.5 -0.4 0.7 -0.1 0.5 -0.2 0.8 0 0.9 0.2 0.9 -0.7 0.3 -0.4 0.2 -1 0.4 -0.7 0.4 -0.8 0.3 -0.4 0.4M552.8 183.5l0.6 0.5 0.4 0.3 1 0.5 0.6 0 1.1 0.1 0.9 0.1 1 0.1 0.8 0.1 0.6 0 0.5 -0.1 0.6 -0.3 0.8 -0.4 1.1 -0.2 1.2 -0.4 1 -0.2 0.8 -0.2 1.2 -0.2 0.7 0.3 0.7 0.3 0.9 0.4 1.2 0.3 0.6 0.8 0.3 0.9 0.4 0.6 0.4 1 0.3 0.7 -0.7 0.1 -0.6 0.1 -0.7 0 -0.7 0.1 -0.6 0.6 -0.4 0.3 -0.5 0.6 -0.3 0.5 0.5 0.1 1 0.2 0.9 0.2 0.6 0.1 0.8 0.1M564 183.8l0.5 0.5 0.3 0.5 0.5 0.6 0.9 0.7 0.8 0.7 0.6 0.6 0.4 0.4 0 0.6 0.2 0.8 -0.1 0.6 -0.1 1M554.8 184.8l-0.6 0.5 -0.8 0.7 -0.5 0.4 -0.7 0.4 -0.7 0.6 -0.6 0.5 -0.5 0.5 -0.4 0.6 -0.9 0.1 -0.9 0 0.7 0.5 0.4 0.4 0.5 0.4 0.4 0.5 0.8 0.6 0 1 0.8 0.1 0.9 0.1 1.1 0.1 0.3 0.7 0.1 0.5 0.5 0.6 0.3 0.4 0.8 0 1.3 0.2 0.8 0 0.9 0 1 -0.1 0.8 0 0.6 0.1 1.2 -0.3 0.7 -0.2 0.8 -0.2 1.1 -0.3 0.8 0.3 0.5 0.1 0.8 0.2 0.9 0.2 1 0.2M537.8 187.5l0.7 0.5 0.5 0.6 0.5 0.4 0.5 0.5 1 0.1 0.6 0.2 1.2 0 0.6 0 1.1 0 0.7 -0.3 0.9 0.1 0.5 -0.1 1.1 -0.3 0.5 -0.1M531.8 190.8l1.1 -0.1 0.9 0.1 0.7 -0.1 1.3 0.1 0.6 -0.5 0.6 -0.5 0.6 -0.7 0.4 -0.4 0.5 -0.7M537 191.5l0.6 0 1.1 -0.1 1.1 0.1 0.8 0.1 0.5 0.2 1 0.1 0.7 0.1 0.6 0 0.9 0.2 0.7 0 0.1 1 0.1 0.6 0.4 0.6 0.2 0.5 0.4 0.6 -0.4 0.6 -0.7 0.4 -0.7 1 -0.6 0.7M537 191.5l0.3 0.9 0.2 0.5 0.5 1.1 0.5 0.5 0.7 0.6 0.6 0.5 0.4 0.4 0.6 0.4 0.7 0.6 0.7 0.5 0.5 0.2 1.1 0.5M554.2 194l-0.1 0.7 -0.1 0.6 -0.2 1.2 0.6 0.7 0.6 0.6 -0.5 0.3 -1 0.7 0.6 0.9 0.4 0.8 0.3 0.6 0.6 0 1.1 0 1 -0.2 1.3 -0.1 0.9 -0.1 0.9 0 0.9 -0.2 0.7 -0.2 1 -0.1 1.3 -0.1 0.6 0 0.9 -0.1 1 -0.2 0.5 -0.3M563.2 200.2l0.2 1.2 -0.2 0.8 -0.7 0.4M547.5 205.2l0.3 -0.4 0.5 -0.8 0.7 -0.8 0.3 -0.4 0.7 -0.6 0.5 -0.2 1 -0.2 0.6 -0.1 0.9 -0.2 0.7 -0.1 1.1 -0.3M546 199.8l0.7 0 0.9 0 0.7 -0.3 0.7 0 -0.2 1.2 0 1.1 0.6 0.1 0.6 0.3M549 199.5l1.1 -0.2 1.3 -0.1 1.1 -0.2 1 -0.2M545 192.2l0 -0.9 0.1 -0.6 -0.1 -0.9M525.2 157l0.4 -0.8 0.3 -0.5 0.6 -0.8 0.6 -0.6 0.4 -0.3 0.6 -0.6 0.3 -0.5 0.4 -0.9 -0.4 -0.9 -0.4 -0.9 0 -1.1 0 -0.8 0 -0.5 0 -0.8 1.1 -0.6 0.4 -0.3 0.6 -0.4 0.9 -0.4 0.6 -0.4 0.6 -0.4 0.4 -0.7 0.2 -0.7 0.3 -0.6 0.1 -1 0.4 -0.5 0.5 -0.7 0.5 -0.5 0.5 -0.3 0.9 -0.7 0.4 -0.5 0.6 -0.8 0.9 -0.9 0.6 -0.8 0.8 -0.5 0.9 -0.5 1 -0.5 0.5 -0.4 0.4 -0.3 0.7 -0.4 1.2 -0.2 0.8 -0.1 0.5 -0.1 0.8 -0.2 1 -0.4 0.7 -0.2 0.6 -0.1 0.6 0 0.8 -0.3 0.6 -0.1 1.1 -0.3 0.5 0.2 0.9 0.2 1.1 0.4 1 0.3 0.7 0.2 0.5 0.3 0.9 -0.3 1.4 -0.4 1.1 -0.4 0.9 -0.1 1.3 -0.1 0.3 -0.8 0.4 -0.9 0.6 0 0.7 -0.1 0.9 0 1.1 -0.2 0.9 -0.1 0.8 -0.2 0.4 0.5 0.7 0.8 0.5 0.5 0.9 0.8 -0.2 0.1 0.8 -0.3 1.1 -0.3 0.6 -0.2 0.8 -0.1 0.6 -0.1 0.8 -0.1 0.3 -0.8M549 131.9l1 0.4 0.7 0.3 1.3 0.7 0.8 0.3 0.7 0.1 0.7 0.3 0.9 0.3 1.4 0.5 0 0.8 0.1 0.5 0.1 0.9 0.1 0.7 0.2 0.5 0.4 0.9 0.4 0.9M569.8 131.9l-0.6 0.9 -0.4 1.2 0.6 0.3 0.6 0.2 1 0.3 0.7 0.1 0.8 0.3 -0.9 0.5 -0.9 0.6 -0.7 0.9 0.9 0.8 0.5 0.4 0.5 0.8 0.3 0.4 0.6 0.6 -0.2 0.8 -0.2 0.5 -0.4 1 0.6 0.5 0.6 0.4 0.6 0.4 0.4 0.8 0.6 0.6 0.4 0.7 0.7 0.7 0.6 0.6 -0.6 0.2 -0.8 0.2 -1.2 0.5 -1.1 0.5 -0.9 0.9 -0.5 0.6 -0.5 0.6 -0.4 0.5 -0.8 0.4 -0.7 0.4 -0.6 0.4 -0.6 0.4 -0.8 0.4M479.2 167l-0.5 0.3 -0.6 0.3 -0.9 0.6 1.1 0.4 1.2 0.4 0.5 0.1 0.9 0.1 0.9 0M587.5 214.5l0.6 -0.3 0.9 -0.4 0.6 -0.6 0.4 -0.4 1.1 -0.3 0.8 -0.2 1.1 0.1 1.6 0.1 0.8 0 1.2 -0.1 0.9 0.1 1.1 -0.2 0.9 0 0.6 0.1 0.8 -0.1 0.8 -0.2 0.5 -0.2 1 -0.4 0.9 0.1 1 0.1 0.5 0 1 -0.1 0.9 -0.1 0.9 0 1.1 0 -0.5 -0.8 -0.2 -0.6 -0.2 -0.6 -0.6 -1 0.1 -0.7 0.2 -1.1 0.3 -0.8 0.2 -0.7 -0.8 -0.4 -0.5 -0.2 -1 -0.4 0 -0.9 -0.1 -0.6 -0.2 -0.9 -0.8 -0.3 -0.6 -0.2 -0.7 -0.1 -1.1 -0.1 -0.8 -0.2 -1 -0.1M597.5 196l0.8 0 1 0 1.1 -0.1 1.2 0.2 0.9 0.2 0.6 0 0.7 0.2 0.8 0.3 0.9 0.2 1.3 0.4 0.7 0.2 0.5 0 0.8 0.2 0.9 0.3 1 0.2 0.8 0.5 0.7 0.3 0.8 0.4 0.5 0.3 1 0.3 0.5 0.3 0.7 0.3 0.7 0.4 0.6 0.4 0.6 -0.6 0.5 -0.3 0.9 -0.6M606.2 201.8l1.2 -0.2 1.2 -0.1 0.6 0 0.8 -0.3 0.5 -0.1 0.8 -0.2 0.9 -0.5 0.6 -0.3 0.7 -0.3M610 201.2l0.5 0.7 0.4 0.4 0.9 0.9 0.5 0.5 0.6 0.8 0.5 0.6 0.4 0.7 0 0.5 0 0.9M608.8 205.2l0.5 0.3 0.6 0.2 0.8 0.3 0.8 0.2 0.9 0.4 0.7 0.3 0.7 0.3 0.9 -0.5 1 -0.6 1 -0.4 0.8 -0.5 0.7 0.8 0.4 1 0.5 0.7 0.7 0.8M603.2 211.5l-0.6 0.6 -0.8 0.7 -0.5 0.2 -0.8 0.5 -0.1 1 -0.2 0.6 -0.2 0.9 -0.2 1.2 0 0.8 0.2 0.5 -1.1 0.3 -0.9 0.4 -0.7 0.4 -0.8 0.3 -0.8 0.3 -0.6 0.5 -0.6 0.3 -0.8 0.4 -0.6 0.5 -0.5 0.1 -0.7 0.5 -0.9 0.6 -0.9 0.4 -0.6 0.3 -1 -0.4 -1.1 -0.4 -0.6 -0.2M594.5 221l0.4 0.8 0.3 0.7 0.2 0.9 0.1 0.6 -0.9 0.2 -0.6 0.1 -0.9 0.3 -1.1 0.5 -1 0.4 -1 0.3 0.6 0.4 0.5 0.5 0.3 0.4 0.4 0.5 0.7 0.6 -0.7 0.8 -0.6 0.5 -0.6 0.4 -0.6 0.2 -0.8 0.5 -0.6 0.2 -0.5 0.3 -0.6 0.4 -0.9 -0.3 -0.7 -0.1 -0.9 -0.1M595.5 224l0.8 0.2 1 0.2 1.2 0.4 0.7 0.3 0.5 0.2 1 0.6 0.6 0.3 0.5 0.2 0.7 0.4 0.7 0.5 1 0.5 0.5 0.5 0.9 0.7 0.8 0.5 0.8 0.5 1.1 0.7 0.9 0.8 1.2 -0.1 0.8 0 1 0.2 0.6 0.1 1 0.1 0.5 -0.5 0.8 -0.8 0.7 -0.6 1 -0.7 0.7 0.3M613.8 231.8l0.9 0.4 0.4 0.4 0.6 0.3 0.5 0.3 1.3 0.1 1 -0.1M609.5 211.5l0.2 0.6 0.3 0.6 0.5 0.7 0.3 0.8 0.2 0.6 0.4 0.3 0.6 0.6 0.6 0.6 0.4 0.5 -0.6 0.8 -0.5 0.6 -0.7 0.6 -0.2 1 0.3 0.7 0.3 0.4 0.5 0.6 0.7 0.5 0.9 0.4 0.6 0.3 0.9 0.5 0.8 0.3 0.5 0.3 0.1 1 -0.1 0.9 0.1 0.8 0.2 0.5 0.4 0.8 0.3 0.4 0.5 0.8 0.8 0.5M586.5 221.2l-0.1 1 0.1 0.6 0 0.7 -0.3 1.1 0 1.2 -0.1 0.9 -0.3 0.6 -0.2 0.4 -0.3 0.8 -0.2 0.9 0 0.6 -0.1 0.8M583 226.2l0.3 0.7 0.3 0.6 0.1 0.5 0.3 0.7 0.3 1 0.5 1.1M587.2 217.9l0.4 0.3 0.8 0.4 0.6 0.4 -0.5 0.6 -0.6 0.7 -0.7 0.9M604.5 263.5l0.2 -0.4 0.4 -0.7 0.3 -0.6 0.4 -0.8 0.6 0 1.1 0.1 0.7 -0.1 0.6 0 0.6 0 1.1 0.1 0.6 -0.1 0.8 0 1 0.1 0.8 0.2 0.5 -0.1 1.1 0.3 0.9 0.3 0.6 -0.8 0.5 -0.7 0.3 -0.5 0.4 -0.8 0.9 -0.6 0.8 -0.2 0.5 -0.2 0.8 -0.1 1.2 -0.2 1.1 -0.2 0.9 -0.2 0.8 -0.2 1.5 -0.1 1 0 0.3 0.6 0.2 0.5 0.5 1 0.3 0.6 0.4 1.1 0.4 0.8 0.3 0.8 0.3 0.6M627.5 257l1.1 -0.3 0.6 -0.2 1.1 -0.3 1.5 -0.6 0.9 -0.2 0.5 -0.2 0.7 -0.2 1.1 -0.5 0.4 -1.1 0.5 -0.9 0.3 -0.9 0.2 -0.8 0.2 -0.7 0.2 -0.6 -0.8 -0.9 -0.5 -0.8 -0.6 -0.1 -1.2 -0.2 -1 -0.1 -0.8 -0.1 -1 -0.1 -0.8 -0.1 -1.1 -0.1 -0.5 -0.8 -0.5 -0.5 -0.4 -0.5 -0.6 -0.7 -0.5 -0.5M635.5 247.8l0.3 -0.5 0.3 -1 0.3 -0.8 0.3 -0.5 0.3 -1 0.5 -0.7 0.3 -0.4 0.4 -0.7M624.5 242.8l1 0.2M632.2 211.2l1 -0.2 0.4 -0.2 0.7 -0.2 1.2 -0.6 0.7 -0.1 0.7 -0.3 1.1 -0.4 1 -0.2 0.6 -0.1 0.9 -0.1 0.8 0.4 0.8 0.4 0.6 0.4 0.8 0.5 1 0 0.5 0 0.8 0.3 0.9 0.4 0.5 0.4 0.9 0.7 1.1 0.3 0.5 0.2 0.8 0.2 0.1 1.2 -0.1 0.5 0 0.8 -0.3 0.9 -0.5 0.9 -0.3 0.5 -0.3 1 -0.3 0.7 0 0.8 0 0.8 0 0.6 0.1 0.7 0.2 0.9 0.4 1.2 0.8 0.5 0.6 0.5 0.9 0.5 -0.5 1.1 -0.3 0.7 -0.3 0.8 -0.2 0.5 -0.7 0.9 0.6 0.7 0.6 0.5 0.4 1 0.6 0.8 1.1 0.6 0.8 0.2 0.6 0.2 0.3 1.1 0.3 0.6 0.4 0.8 -0.1 0.9 0.1 0.6 -0.6 0.3 -0.7 0.3 -1 0.7 -0.8 0.4 -0.4 0.3 -0.3 0.9 -0.2 0.6M649.8 230l0.9 0.2 1 0.2 0.5 0.1 0.8 0.4 0.8 0.1 0.9 -0.1 0.7 0.1 0.6 0 0.9 0 0.9 0 0.8 -0.3 0.7 -0.2 0.7 -0.2 0.7 -0.1 0.6 0 1.2 -0.3 0.7 -0.1 0.1 -0.6 0.1 -0.8 0.1 -1.2 0.6 -0.2 0.6 -0.3 0.9 -0.3 0.5 -0.2 0.9 -0.2 1 -0.3 0.7 -0.3 0.8 -0.3 0.6 -0.2 0.7 -0.1 0.1 -0.8 0 -0.7 0.2 -0.7 0.1 -0.6 0.7 -0.3 0.6 -0.2 0 -0.9 0 -1.1 0.9 0.1 0.6 -0.1 0.8 -0.2 0.4 -0.1 0.5 -1 0.3 -0.6 0.5 -1.1 -0.4 -0.7 -0.2 -0.5 -0.4 -0.8 1.1 -0.3 1.2 -0.5 0.6 -0.2 0.8 -0.3 0.5 -0.2 1 -0.4 0.5 -0.4 0.6 -0.1 0.8 -0.1 0.8 -0.2 0.9 -0.1 0.5 -0.2M650.5 215.5l1.1 0.2 1 0.2 1 0.1 1.2 0 0.9 -0.5 0.8 -0.4 0.6 -0.5 0.5 -0.3 0.5 -0.2 0.7 -0.3 0.9 -0.5 0.6 -0.3 0.8 -0.4 0.6 -0.4 0.8 -0.5 0.6 -0.4 0.7 -0.3 1 0.3 0.9 0.3 1.1 0.3 0.7 0.1 0.6 -0.3 0.9 -0.3 1.1 -0.5 0.7 -0.2 0.4 -0.2 1.1 0 0.7 0 0.9 -0.5 0.8 -0.3 1 -0.6 0.8 -0.3 -0.1 0.7 -0.1 1 0.2 0.9 0 0.6 1 0 0.8 0.1 1.7 -0.3 1.1 -0.1 1.1 -0.1 1.2 0.1 0.8 -0.1 0.6 -0.1M628.5 200l0.6 -0.2 1.1 -0.4 0.9 -0.1 0.6 -0.3 0.8 -0.2 0.8 0.4 0.7 0.2 0.8 0.4 0.9 0.4 0.9 0.5 0.9 0.5 1.2 0.1 0.7 0 0.6 -0.1 0.4 -0.4 0.6 -0.7 0.6 -0.6 1 -0.6 0.5 -0.6 0.7 -0.5 0.6 0.2 1 0.4 0.8 0.1 0.6 0.3 0.7 0.2 0.2 1.2 0.1 0.8 1 0.2 0.7 0 1.1 0.2 1.1 0.2 0.5 0.2 0.5 0.6 0.5 0.8 0.3 0.8 0.3 0.5 0.5 0.3 0.9 0.3 0.8 0.6 0.5 0.2 0.6 0.4 0.9 0.4 0.8 0.5 0.9 0.7 0.6 0.4 0.6 0.6 0.9 0.7 0.9 0.7 0.4 0.2 0.7 0.5M637.5 201.2l0.1 -0.8 0.1 -0.7 0 -0.6 -0.2 -1.2 -0.1 -1.8 0.1 -1.9 -0.2 -1.2 0.2 -1 0.7 -0.2 0.8 -0.3 1.4 -0.1 0.9 -0.2 1.1 -0.2 1 -0.2 0.6 -0.3 0.7 0.3 0.9 0.3 1 0.4 0.6 0.3 0.6 0.4 0.7 0.6 1.5 0.7 0.6 0.7 0.9 0.8 1 0.8 0.9 -0.1 1.1 0 1.2 0.1 0.8 -0.1 0.9 -0.2 1.1 -0.1 1.3 -0.2 0.6 0.4 0.9 0.6 0.9 0.5 0.6 0.3 -0.2 1 -0.2 0.5 0.1 1 0.6 0.1 0.7 0.2 0.6 0.4 0.5 0.3 1.1 0.3 0.8 0.6 0.7 0.4 0.5 -0.2 0.7 -0.2 0.6 -0.3 0.7 -0.1 1 -0.7 0.5 -0.4 0.9 -0.3 0.9 -0.4 0.7 -0.2 0.8 -0.2 1 -0.1 1.1 -0.2 0.9 0 1.2 0.1 1.2 -0.1 1 0 0 -0.7 0 -0.8 1.2 0.2 0.8 0 0.8 0.1 1.2 0.1 0.9 0 0.7 0.1 0.9 0 1.4 0 0.8 0 1.5 0 1.2 0.1 1.3 0 0.7 -0.1 0.9 0 0.6 0.3 0.8 0.3 0.7 0.5 0.4 0.4M667.5 201.8l-0.2 0.8 0.1 0.7 0 0.5 -0.2 1.2 -0.2 0.8 0.4 1 0.1 0.7 0.4 0.5 0.6 1 -0.3 0.9 -0.2 0.9 -0.4 0.7 -0.1 0.5M674.8 198.8l-0.3 1 -0.3 0.8 -0.2 0.8 -0.2 0.6 0.8 0.6 0.5 0.5 0.5 0.4 0.6 0.5 -0.6 0.3 -0.7 0.2 -1.2 0.4 -0.6 0.2 -0.6 0.3 -0.7 0.2 -0.6 0.2 1.2 0.1 1.1 0 0.9 0.1 0.9 0.1 0.9 0.1 1.4 0 2 -0.1 2.2 -0.1M698 199l-0.1 -0.9 0.1 -1.1 0.6 -0.2 0.9 -0.3 -0.2 -1.2 -0.5 -1 -0.2 -0.7 -0.1 -0.6 -0.6 -0.2 -0.7 -0.6 0.9 0.1 1.4 -0.2 1 -0.1 0.9 -0.3 0.8 -0.1 0.6 -0.1 1 0 -0.6 -0.7 0.4 -1.1 0.5 -0.9 0.2 -0.5 0.3 -0.7 0.4 -1.1 1.1 -0.1 0.7 0.1 1 0.1 0.7 0 0.6 0 0.8 0.1 1.3 0.1 0.2 -0.8 0 -0.7 0.1 -0.7 0.3 -1.1 0.6 -0.5 0.5 -0.3 0.9 -0.5 0.4 -0.3 0.8 -0.4 0.8 0M715.8 181.5l-0.9 -0.2 -1.1 -0.2 -0.7 -0.2 -0.9 -0.1 -0.9 -0.2 -0.8 -0.1 -1 -0.8 -0.7 -0.7 -0.9 -0.8 -0.8 -0.4 -0.5 -0.5 -0.6 -0.3 -0.8 0 -0.6 0 -0.8 0.2 -0.8 0.1 -0.5 0.1 -1.3 0.1 -0.7 0 -0.6 -0.1 -0.8 0.2 -0.5 -0.1 -0.8 0 -0.7 -0.7 -0.8 -1.4 -0.6 -0.5 -0.8 -0.9 -0.5 -0.5 -0.8 -0.7 -0.4 -0.7 -1 -0.9 -0.5 -0.2 -0.8 -0.4 -0.7 -0.4 -0.6 -0.4 -0.8 -0.8 -0.7 0.1 -0.9 0.2 -0.7 0.1 -1 0.2 -0.7 0.3 -1 0.2 -0.8 0.3 -0.5 0.1 -0.8 0.1 -0.7 0.2 -0.1 -0.6 -0.1 -0.7 -0.9 -0.1 -1.1 -0.4 -0.8 0.1 -0.5 0.1 -1 -0.3 -1 -0.1 -0.2 -0.8 -0.1 -0.5 -0.2 -1 -0.7 0 -0.9 0.1 -0.9 -0.1 -0.6 0 -1 -0.1 -0.9 -0.2 -0.8 0.1 -0.9 0.1 -1.7 0.4 -1.1 0.2 -1.3 0.3 -1.8 0.8 -1.1 0.2 -0.8 0.2 -1.3 0 -1.5 0.2 -1.7 0 -1.1 0.1 -1.3 0.3 -1.1 0.2 -1.1 0.1 -1.4 0.4 0.4 0.4 0.5 0.9 0.6 0.9 -0.8 0.5 -0.9 0.5 0.3 0.4 0.6 0.8 0.3 0.6 0.3 0.6 0.5 0.8 -1.1 0.4 -0.8 0.3 -1 0.2 -0.7 0.2 -0.7 0.2 -0.7 0.4 -0.6 0.3 -0.8 -0.3 -0.7 -0.4 -0.7 -0.5 -0.8 -0.1 -0.8 0 -1.1 -0.1 -1 0.1 -0.9 0.1 -0.6 0 -0.7 0.3 -0.6 0.3 -0.7 0.4 -0.9 -0.4 -0.5 -0.3 -0.6 -0.1 -1 -0.2 -0.8 -0.4 -0.4 -0.2 -0.9 -0.3 -1.1 -0.3 -0.6 -0.2 -0.6 -0.2 -0.9 -0.2 -1.1 0.1 -0.7 -0.1 -0.6 0 -0.6 0 -1 0 -0.9 0.7 -1 0.6 -0.8 0.4 -0.8 0.4 -1.1 0.4 -0.7 0.3 -0.4 0.9 -0.3 1.1 -0.9 0.3 -1 0.4 -0.5 0.2 -1 0.2 -0.6 0.1 -0.4 0.8 -0.2 0.5 -0.1 1 0.5 0.4 0.5 0.4 0.4 0.5 0.8 0.4 0.9 0.1 1.1 -0.1 0.5 0.9 0.4 0.8 0.4 0.6 0.7 1M715.8 181.5l0.8 -0.2 1 0 1.1 -0.3 0.8 -0.3 0.8 -0.3 0.7 -0.2 0.8 -0.2 0.5 -0.2 0.7 -0.3 0.6 -0.3 1 -0.3 1 -0.4 0.6 -0.3 0.8 -0.2 1.2 -0.5 0.7 0.2 1.1 0.3 0.6 0.2 0.7 0.3 1 0.4 0.5 0.2 1.2 0.4 0.8 0.2 1 0.1 1.3 0.2 0.8 0.2 0.9 -0.1 1 0.1 1 0 0.5 -0.5 1 -0.7 0.5 -0.5 0.4 -0.3 0.2 -0.5 0.3 -1 0.3 -0.6 0.2 -0.6 0.3 -0.8 0.3 -0.5 0.6 0.2 0.7 0.1 1 0.2 1 0.2 0.8 0.2 1.2 0.1 1.8 0.6 1.1 0.4 0.2 0.8 0 1 1.8 0.2 1.6 0.2 1 0.1 0.8 0.1 1.5 0.1 2.1 0.2 0.9 0 1.3 -0.1 0.5 0.2 0.6 0.5 0.7 0.4 0.7 0.3 1 0.5 1.1 0.5 1.1 0 1.1 -0.1 1.1 -0.1 0.8 0 1.3 0 0.8 0 1 -0.1 1 -0.1 0.8 -0.1 1 0 1.2 -0.2 0.7 -0.2 0.5 -0.1 0.9 -0.3 0.6 -0.2 0.9 -0.2 0.4 -0.2 0.8 -0.3 0.5 0.1 0.7 0.1 0.7 0.1 0.7 0.1 0.8 0.3 1 0.3M717 181.5l0 0.7 1 0.5 0.6 0.2 0.9 0.2 0.8 0.4 0.6 0.3 0.8 0.4 0.8 0.6 0.3 0.4 0.3 0.8 0.6 0.6 0.6 0.6 0.7 0.8 -0.1 1.1 0.1 1.1 0 0.6 -0.2 0.7 1.2 0 0.7 0.1 1.2 -0.1 1.1 0 0.7 0.1 0.6 0.1 0.9 0.3 0.5 0.2 0.8 0.2 0.8 0.3 0.5 0.2 0.9 0.3 0.5 0.2 0.8 0.4 0.6 1 0.3 0.5 0.4 0.7 0.6 0.7 0.6 1.1 1 0 0.8 0.1 0.9 -0.1 1 0 0.8 0 1.3 0.1 1.3 0.1 1.9 0 0.5 0 0.8 0 0.8 0.3 0.6 0 0.9 0 0.9 -0.1 1 0.3 0.7 0.3 1.2 0.5 1 0.2 1.3 0.3 0.8 0.2 0.8 0.2 1.2 0.3 2.1 -0.2 1.6 -0.1 1.3 -0.2 1 -0.2 1.6 -0.6 1.3 -0.2 0.9 -0.2 1 -0.3 0.6 -0.2 0.8 -0.2 0.5 -0.3 1 -0.4 0.6 -0.3 1 -0.6 1 -0.7 0.7 -0.6 0 -0.8 0.2 -1 0 -0.8 0.3 -0.8 0.6 0.1 0.6 0 0.7 0.2 1.2 0.4 0.9 0.3 1 -0.6 1 -0.3 0.8 -0.3 0.8 -0.3 1.1 -0.4 0.8 -0.4 0.5 -0.3 0.9 -0.2 0.8 -0.3 1.3 -0.4 0.8 -0.5 0.8 -0.6 0.8 -0.3 0.9 -0.4 0.6 0 0.8 0 0.9 0 1.1 0 -0.9 -0.5 -0.8 -0.6 -0.8 -0.4 -0.6 -0.4 -0.9 -0.6 -0.7 -0.5 -1.2 0 -0.6 0 -0.8 0 -1.1 0.1 -0.6 0 -0.7 0.2 -0.6 -0.4 -0.7 -0.4 0.7 -0.8 0.7 -0.9 0.5 -0.6 0.4 -0.5 0.4 -0.6 0.3 -0.6M789.2 180l0.8 0.2 0.8 0.3 0.7 0.1 0.5 0.2 1 -0.4 0.9 -0.3 0.8 -0.5 0.8 -0.4 0.1 -0.6 0.2 -0.6 0.4 -0.9 0.6 -0.7 0.2 -1.1 0.2 -0.7 0.2 -0.5 0.2 -0.6 0.2 -0.7 0.9 -0.6 0.6 -0.6 0.5 -0.4 0.7 0 0.8 0 0.6 -0.1 1.1 -0.1 0.9 -0.1 0.5 0 1.2 -0.1 0.9 0 1.1 0.4 1.1 0.2 0.8 0.1 0.5 0.1 0.7 0.2 0.8 0.2 0.8 0.9 0.3 0.6 0.9 1.4 0.8 0.8 0.2 0.8 0.2 0.5 0.6 0.9 0.9 1.1 0.3 1 1.5 0.4 0.9 0.2 0.7 0.2 0.9 0.2 0.9 0.3 0.7 0.3 0.9 0.3 1.2 0.3 0.1 1 0.2 0.8 0 0.5 0.3 0.7 0.5 0 0.7 0 0.9 0 0.9 0 1 0 0.5 -0.3 0.7 -0.3 0.9 -0.2 1.4 -0.3 0.8 -0.2 1.1 -0.2 0.8 -0.2 -0.5 0.7 -0.8 1.1 -1.5 1.3 -0.8 1.3 -0.4 0.9 0.1 0.9 -0.5 0.8 -0.6 1.5 -0.8 -0.2 -0.6 -0.2 -0.8 -0.2 -0.6 -0.2 -0.6 0.4 -0.7 0.2 -0.9 0.4 0.2 1.1 0 0.7 0.3 0.9 0.3 1.1 -0.5 0.4 -0.4 0.7 -0.3 0.6 -0.6 0.8 -0.8 0 -0.6 0 -0.8 0 -1.2 0.4 -0.9 0 -0.6 0.1 -1 0.3 -0.6 0.2 0.1 0.8 0.2 0.7 -0.7 -0.2 -1 -0.3 -0.7 -0.2 -0.6 -0.3 -0.7 0.8 -0.7 0.6 -0.9 0.8 -0.8 0.3 -0.7 0.4 -0.9 0.5 -0.8 0.4 -0.8 0.4M814.2 210l0.7 -0.7 0.6 -0.5 1.1 -0.3 1 -0.4 0.9 -0.1M698 199l-1.1 0.3 -0.8 0.5 -0.7 0.5 -1.1 0.5 -0.8 0.6 -0.7 0.4 -1.2 0.1 -1.1 0.1 -0.7 0 -0.6 0.5 -0.4 0.4 -0.6 0.6 -0.8 0.2 -1.2 0.2 -0.6 0.2 -0.8 0.1 -1.2 0.3 -1 0.4 -0.6 0.1 -0.2 1 0.2 1.2 0.2 1 1.1 0.2 0.8 0.1 0.7 0 0.1 0.9 0 0.6 -0.1 0.8 0 0.7 0.5 0.3 0.9 0.4 1 0.6 0.2 0.8 0.4 0.7 0.2 0.7 0.9 0.3 0.9 0.1 0.7 0.2 0.7 0.2 0.8 0 0.2 0.6 0.5 0.6 0.8 0.9 0.6 0.4 0.7 0.5 -0.1 0.6 -0.1 0.8 -0.2 0.7 -0.2 1.1 1 0.6 0.8 0.6 -0.4 0.9 -0.5 0.9 -0.3 0.6 -0.3 0.6 0.7 0.5 0.5 0.2 0.4 0.3 0.7 0.3 0.8 0.4 0.8 0.3 1.1 0.5 0.7 0.3 0.8 0 0.8 0.1 1.2 0.1 0.8 0.5 0.5 0.4 0.8 0.4 0.4 0.5 0.7 0.5 0.8 0.3 0.7 0.2 0.8 0.3 1 0.4 0.7 0.3 0.7 0.5 0.6 0.5 0.4 0.3 0.6 0.5 1 -0.1 0.7 0 1 0.2 1.1 0 0.6 -0.1 0.9 0 0.7 -0.3 1 -0.3 0.9 0 0.9 -0.2 0.5 0 1 0.1 1.1 0.2 0.7 0.1 0.6 0.2 0.9 0.2 0.7 0.2 1 -0.6 0.8 -0.7 0.6 -0.5 0.6 -0.3 1 -0.5 0.8 -0.5 0.9 -0.4 0.5 0.1 0.9 0 1 0.1 1.1 0.3 0.6 -0.3 0.6 -0.3 0.8 -0.4 0.6 0.5 0.8 0.7 0.7 0.8 0.7 0.8M700.2 229l-0.3 0.9 -0.5 0.9 -0.5 0.5 -0.3 0.5 -0.8 0.7 0.4 0.2 0.9 0.5 1 0.2 0.6 0.4 0.9 0.5 0.9 0.5 0.6 0.1 0.7 0.3 1 0.3 1 0.5 1.3 0.4 0.7 0.3 1.1 0.4 0.9 0.3 1 0.4 0.8 0.1 0.4 0.1 1 0.1 0.5 0 0.9 0 1 -0.1 1 0.2 0.6 0.2 0.8 0.1 -0.1 -1.2 0.1 -1 0.1 -0.8 -0.1 -0.7M719.5 236.2l0.3 0.8 0.2 0.5 1.6 0 1 0.1 1 -0.1 0.7 0 1.1 0 0.7 0 0.8 0 0.6 0 -0.2 -0.8 -0.2 -0.6 -0.3 -1.1M740.8 233.8l-0.6 1.1 -0.4 1.1 -0.7 0.4 -1 0.4 -0.6 0.3 -0.5 0.3 -0.7 0.4 -0.8 0.4 -0.2 0.8 -0.1 0.5 -0.2 0.6 -0.4 0.6 -0.3 0.8 -0.3 0.5 0.2 0.8 -0.7 0.8 -0.4 0.5 -0.3 0.7 -1.2 -0.2 -0.8 -0.1 0 0.6 0 0.9 0.2 1 0 0.8 -0.2 0.6 -0.3 0.6 -0.6 0.3 -0.9 0.5 -0.3 0.9 -0.1 0.7 -0.1 0.6 -0.3 0.8M717.8 238.5l0.5 0.8 0.4 0.9 0.5 0.6 0.6 0.7 -0.4 0.3 -0.6 0.5 -1 0.7 0.3 1 0.5 1.1 0.4 0.6 0.5 0.8 0.1 1.1 0.3 1 0.3 1.2M719.8 239l0.7 0.2 0.7 0.1 0.8 0.2 0.1 0.8 -0.1 0.9 0.9 0.2 0.5 0 1.2 0.3 0.7 0.1 1.3 0 0.7 0.1 1.2 -0.1 -0.4 0.5 -0.7 0.6 -0.9 0.7 -0.4 0.4 -0.6 0.5 0 0.5 0.3 0.9 0.2 0.9 1.2 -0.2 1 -0.1 0.2 0.9 0.2 1.1 0.2 0.7 0.2 0.6M692 215.8l-1.3 0.1 -1 0.1 -0.8 0.1 -0.8 0.1 -0.9 0.3 -1.5 0.6 -2 0.4 -1.2 0.3 0.2 0.9 0.1 0.8 0 1 0.4 0.8 0 0.7 1 0.9 0.9 0.5 0.7 0.4 -0.7 1 -0.6 0.7 -0.2 0.5 -0.5 0.8 -0.4 0.5 -0.6 0.8 -0.6 0.9 -0.6 0.6 -0.7 0.8 -0.5 0.9 -0.6 0.7 -0.4 0.6 -0.8 0.9 -0.6 0.6 -0.8 0.7 -1.2 0 -1 -0.1 -0.8 -0.1 -0.7 -0.1 -0.7 0.5 -0.7 0.6 -0.6 0.9 0.4 0.7 0.2 1 0.2 0.6 0.4 0.6 0.3 0.8 0.5 1 0.4 0.6 0.7 1 0.4 0.7 -0.9 -0.1 -0.7 0.1 -1.2 0 -0.6 0.1 -0.9 0.1 -1.2 0.1 -0.6 0.4 -0.4 0.4 -0.5 0.6M740.8 233.8l0.8 0.5 0.6 0.4 1 0.6 1 0.5 0 0.6 0 0.6 -0.1 0.9 0 0.9 0.1 1 -0.8 0.8 -0.8 0.6 -0.6 0.7 -0.5 0.6 -0.2 1 0.1 0.7 0.1 0.6 0.7 0.3 0.5 0.2 0.8 0.4 0.6 0.4 0.7 0.4 0.2 0.8 0.2 0.4 0.4 0.8 0.4 0.7 0.9 0.8 0.9 0.8 0.5 -0.2 0.9 -0.3 1 -0.3 0.1 0.6 0.2 0.9 0.3 -0.7 0.3 -0.7 0 -0.5 0.4 -0.8 0.3 -0.6 0.7 0.2 0.5 0.1 1.1 -0.1 0.9 -0.2 1 -0.3 0.6 -0.1 0.9 -0.3 1 -0.4 0.9 -0.3 0.6 -0.2 0.8 -0.4 0.4 0.2 0.9 0.4 1 0.3 1.1 0.4 0 1 -0.2 1 0.7 0.3 0.8 0.2 0.4 0.2 0.8 0.3 0.8 0.3M750.5 251.5l-0.7 0.4 -0.4 0.3 -0.6 0.5 -0.7 0.5 -0.3 0.3 -0.8 0.1 -0.8 0.2 -0.9 0.3 -0.8 0.2 -0.8 0.3 -0.5 0.2 -0.7 0.2 -0.1 0.8 -0.1 0.7 -0.3 0.8 -0.2 0.9 -0.6 0.8 0.6 1 0.5 1 0.7 1 0.4 0.9 0.8 0.9 -0.3 1 -0.4 0.8 -0.2 0.4 -0.3 0.8 0.5 0.8 0.4 0.9 0.2 0.5 0.4 0.6 0.4 0.6 0.6 1 0.2 0.9 0.3 0.5 0.3 1.1 0.1 0.4 0.1 0.9 -0.7 1 -0.6 0.9 -0.7 0.9 -0.2 0.7 -0.3 1M747.8 253.5l0.2 0.8 0.3 0.5 0.5 1 0.7 -0.1 1 0.1 -0.2 1.1 -0.2 0.7 -0.1 0.8 -0.1 0.6 0.1 1 1 -0.3 0.6 -0.1 1.2 -0.6 0.7 0 0.5 -0.1 1.1 -0.2 0.7 -0.2 0.5 0.3 0.8 0.6 0.9 0.5 0.4 0.4 0.8 0.5 0.2 0.7 0.1 0.7 0 0.8 0 0.5 0.6 0.6 0.6 0.5 0.8 0.9 -0.2 0.7 -0.2 0.5 -0.3 0.8 -0.2 0.8 -0.1 0.5M753 248.5l0.3 0.6 0.3 1.2 0.5 0.9 0.5 1 0.4 0.6 1.2 0.3 0.6 0.3 1 0 0.4 0.1 0.8 0.3 -0.8 0.8 -0.4 0.7 -0.3 0.5 0.7 0.6 0.4 0.3 0.6 0.5 0.5 0.4 0.8 0.6 0.6 1 0.5 0.9 1 0.7 0.9 0.9 0.5 0.5 0.6 1.1 0.4 0.8 0.4 0.9 0.6 0.8 0.1 0.5 0.3 0.7 0.1 0.8M760.5 268.8l1.5 -0.3 0.9 -0.2 0.5 0 1 -0.1 0.7 -0.1 0.5 -0.1 0.9 -0.2 0.2 0.8 0 0.5 0 1.1 -0.2 1 0 0.7 -0.1 0.8 -0.2 1.1 -0.8 0.2 -0.8 0.2 -0.5 0.3 -0.7 0.3 -0.9 0.4 0 1 0 1 -0.8 0.2 -0.7 0.3 -0.8 0.3 -0.7 0.2 -1 0.3M760.5 268.8l-0.6 -0.1 -0.9 0.1 -1 0 -0.7 0.1 -0.7 0 -0.9 -0.1 -0.7 0 -0.5 0.6 -0.5 0.4 -0.5 0.7 0.3 1 0.3 1 0.1 0.5 0.3 1.1 0.3 1.1M747.8 288.5l0.9 0.7 0.6 0.3 0.9 0.7 0.7 -0.3 0.5 -0.3 0.9 -0.3 0.5 -0.3M771.5 299.5l0.5 0.5 0.7 0.9 0.3 0.5 0.8 0.8 0.8 0.1 0.9 -0.1 0.9 -0.1 0.6 -0.1 0.8 -0.5 1 -0.7 0.7 0.1 0.6 0.1 0.6 0.1 0.7 0 0.9 0 0.5 0 1 -0.1 0.3 -0.8 0.2 -0.7 0.2 -0.5 0.2 -0.7 0.3 -0.8 0.7 -1 0.3 -0.7 0.4 -0.9 0.4 -0.9 1.1 0 1 0.1 0.6 0 1.2 0 0.8 -0.1M850 311l0.1 1.4 0 2.5 -0.1 1.3 0.1 1.7 0 2.4 -0.2 1.7 0.1 2.8 0 2.4" fill="none" stroke="#9c9c9c" stroke-width="1.1" stroke-linejoin="round" shape-rendering="crispEdges"/><path d="M77.5 140.5l0.9 -0.6 0.5 -0.8 0.1 -0.6 0.1 -0.7 -0.7 -1.1 1.2 -1.7 1.1 -0.7 0.5 -0.5 0.8 0.2 1.1 -0.4 1.9 -0.4 0.8 -0.8 0.5 -0.5 1.2 -0.7 1.1 0.7 1.4 0.1 1.7 -0.3 0.8 0.8 0.6 -1 1.1 0.5 1.4 -1.3 -0.5 -1.2 -0.6 -0.6 -1.7 -0.1 1.7 -0.7 0.2 -0.8 3.3 -1.3 0.8 2.2 -1.2 -1.8 3.4 -0.8 1.6 0.7 3.2 -0.1 1.8 0.4 1.4 0.2 0.8 0.7 -0.3 1.1 1.5 -2.3 2.9 0.4 1.9 0.5 1.7 0.3 2.8 0.7 1 -2.1 0.8 0.9 1.3 0.5 2.5 0.9 0.6 -1.6 -0.7 1 1.7 1 3.1 -0.2 1.1 -1.8 2.1 0 1.2 0.8 -0.4 1.6 1.2 1.2 3.3 1 0.9 -2.2 0.5 0.7 1.1 -0.5 0.9 -0.4 0.9 0.8 0.7 0.6 0.9 0.1 2.5 0.6 1.9 0.7 2.3 1.4 -1.3 1.4 2.4 -0.1 -0.4 -1.3 2.4 0.2 0.2 -1.4 1.4 0.2 0.8 0.2 1.2 0.6 0.5 0.6 1 -0.9 0.9 -0.2 -0.2 -0.8 -0.6 -0.9 1.1 -1 1.7 -0.1 0.9 0.5 1 -0.3 1 -0.2 1.7 0.1 1.2 -0.6 1.4 0.3 0.6 -0.6 0.5 -0.4 1.6 -0.8 -0.7 -0.8 1.2 1.5 0.9 1.8 2 -0.4 1.4 -1.6 0.8 0.1 1.3 0.2 1.3 0.8 0.6 0.6 1 0.7 0.9 0.2 0.7 0.2 0.9 -0.2 1.7 -0.7 0.1 -0.9 1 0.5 1.4 -0.3 2.1 -1.1 0.9 1.6 1.6 -0.8 1.2 0.9 1 -0.8 2.3 0.1 1.8 0.3 2.2 -0.8 1.5 0.3 0.2 1.5 1.1 0.6 -0.1 0.8 0 1 0.5 1 1.3 -0.7 1.3 -0.3 0 1.1 0.6 0.8 1.3 -0.4 1 0.7 -0.1 1.2 1 0.1 0.3 -0.7 -0.1 -1 1.7 0.2 1.4 -0.5 1.5 0.7 0.1 1.3 1.2 0.9 0.1 -1.2 1.5 0.1 0.7 -1.4 2.2 -0.4 0.5 0 0.8 0 0.4 1 0.4 -0.6 1.3 -0.7 1.5 0.6 0.1 1 0.2 -1 -0.1 -0.6 -0.6 -0.4 0.9 -0.1 0.8 0.6 0.3 -0.4 1 0.1 0.7 0.9 1.2 0.2 -0.7 1.6 2.9 0.9 0 -1.1 0.1 -0.8 1.8 0.3 1.5 -1.5 0.7 -0.5 0.3 -0.7 0.8 -0.3 1.2 -0.1 2.4 0.1 2 -0.3 0.9 1.1 -0.8 1.2 0.2 -0.9 0.6 -0.6 1.1 -0.5 0.4 -0.7 1.8 0.4 1.6 -0.4 1.7 0.5 0.1 1.7 0.9 0.2 0.4 0.2 1.2 0.3 0.2 -0.8 1.1 0.2 0.6 -0.4 0.6 -0.4 -0.8 -0.3 -1.1 -0.6 1.2 -0.6 0.6 -0.4 0.6 -0.8 0.8 -0.3 -1.2 -0.3 -0.1 -1 0.8 -0.4 0 -1 0.1 -1.2 0.6 -0.5 1.2 -0.2 1.1 -0.7 -1.3 -0.7 0.4 1 -0.9 1.4 1.2 0.3 1.9 0.6 2.1 -1.2 -1.5 -1.1 1.6 -0.3 1.4 0.3 0.8 0.5 1 0.6 0.7 0.5 0.3 0.9 -1.3 0.2 -0.2 1 0.8 0.3 1 0 -0.5 1 0.8 0.1 0.8 0.5 0.8 0.9 0.4 0.6 0.9 -0.1 0.7 0.2 0.5 0.3 1.1 -0.1 0.3 0.6 0.9 0.6 0.5 0.3 1 -0.2 1.2 0.3 0.1 1 0.4 -0.8 0.9 -0.1 0.1 -0.9 1.2 0.1 1.1 0.4 0.8 0.7 1.4 0.9 0.4 -1.2 1.5 -1.2 -2.4 -0.8 -1.9 0.7 -1.6 -2.1 3.1 -0.7 1.2 -1.8 0.1 -1.2 1.4 -0.5 2.5 0.6 -0.7 1 0.7 1.1 2.2 0.5 1.3 -0.3 0.5 1 -1.9 0.3 0.8 1 0.3 0.5 0.7 0.5 0.6 -0.3 0.7 0 -0.6 0.6 -0.8 0.3 -0.3 0.4 0 1.3 -0.5 0.9 1 0.4 0.8 0.4 -0.7 -0.1 -1.2 0 -0.5 0.7 -1 -0.1 -1.3 0.5 -1.2 -0.4 -0.4 0.7 1.5 -1.1 0.3 -1.5 -2.2 0.3 -1.8 -0.8 -0.8 1 -1 -0.2 -0.5 1.4 -1.8 0.3 -0.5 0.7 -0.3 1.2 0.6 0.9 0.7 0.2 0.8 -0.4 -0.8 -0.7 -1.5 -0.5 -1 0.6 -0.7 1 -0.6 0.5 -0.3 0.7 0.7 0.3 0.5 0.5 -0.6 1 -1 0.1 -0.5 -0.6 -0.6 -0.4 -0.4 0.6 -0.7 0.6 -1.1 -0.6 -0.5 0.5 -0.8 -0.2 0.1 0.9 -0.8 0.3 -0.7 0.4 -0.9 0.4 -0.6 -0.1 0.5 1.2 -1.2 0 -0.9 0.2 -0.6 0.3 -0.9 0.2 -0.5 0.2 -0.1 0.9 -1.2 -0.2 -0.7 -0.3 0.6 0.7 -0.9 0.7 -1.2 0.2 -0.5 0.4 0 1 -0.2 1 -0.7 0.6 -0.9 0.7 -0.5 0.7 0.1 0.7 1.5 0.4 -0.8 -0.2 -0.5 0.7 0.7 0.8 0.9 0.2 1 0.1 0 1.1 0.9 0.3 0.6 -0.1 0.8 -0.8 0.1 0.6 -1 0.7 1.2 0.1 0.8 0.5 -0.5 0.2 -0.5 0.5 0.4 0.6 0.7 0.5 0.5 0.8 0.9 -0.4 0.9 0.2 1.4 0.4 1 -0.1 0.6 -0.1 1 -0.3 0.8 0.3 1.1 -0.1 1 -0.1 0.5 0.4 0.6 0.4 1 0.3 0.7 0.5 0.7 0.5 1 -0.3 0.6 0.5 1.2 1 1 0.2 1 0.5 1.3 0.1 1.1 0.6 1 0 1 -0.4 0.7 -0.2 1.2 -0.2 1 0.2 0.8 0.6 0.4 0.2 0.4 0.7 -0.4 1.2 0.4 1 -0.3 0.9 -0.3 1.2 0.9 0.5 0.8 0.4 0.6 0.8 0.7 0.8 0.6 0.5 0.4 0.5 0.2 0.7 0.3 -0.4 0.7 -0.5 1.2 0.1 0.7 -0.4 0.9 0 0.3 -0.6 0.8 -0.8 0 -0.9 -0.6 -0.7 -0.2 -1 -0.5 -0.9 0.2 -1 0 -0.9 1.4 -0.1 0.7 -0.2 0.7 -0.9 0.8 -0.5 0.2 -0.7 0.3 -1.1 0.8 -0.7 0.9 -0.8 -0.5 -1.1 0.3 -0.8 0.6 -0.5 -1.1 0 -0.1 -0.7 -1 -0.2 -0.1 -0.9 -0.2 -1.2 -1.2 0 -0.5 -0.4 -0.4 -0.8 0.2 -0.9 0.6 -0.7 0.8 -0.1 0.6 -0.4 -1.1 -0.4 -0.4 -0.4 0.6 -0.7 0.2 -0.7 -0.2 -0.6 -0.4 -0.9 -0.1 -1.2 0.1 -0.8 0.6 0.4 1.1 0 0.4 0.9 0.8 -0.5 0.7 -0.6 1 0.3 0.4 -0.8 0.6 0.3 1.1 -0.1 0.6 0.8 0.8 0.6 1 -0.2 0.6 0.5 0.6 -0.8 1 -0.1 0.9 0.2 0.5 -0.4 0.3 1.2 0.4 0.3 0.8 0 0.8 0 1.1 -0.3 0.7 0.2 0.8 0.1 0.8 0 1 0 0.5 0.4 0.1 0.8 0.3 1.1 0.4 0.8 0.6 0.6 -0.1 0.9 0.6 0.8 -0.5 0.8 0.5 0.4 1 0.4 1.3 0 -0.1 0.8 1 -0.4 -0.2 -0.7 1.1 -0.4 0.4 -0.9 0.1 0.6 0 1.1 1.3 -0.4 1 0 0.7 -0.7 -0.4 -0.8 0.9 0.5 0.9 -0.4 0.5 -1.1 0.9 -0.2 0.3 -0.4 1.2 0 0 -0.9 -1 0.7 -0.1 0.7 0.7 0.4 1.2 0 0.9 -0.1 0.7 0.7 0.2 1.1 -0.1 0.7 1.1 0.1 0.6 0.7 0.8 0.5 1.1 0.2 0.7 0.8 -0.5 0.8 1.1 0.4 0.5 0.4 0.5 0.5 -0.4 0.6 0.8 0.7 0 1.1 -1.2 0 0.4 0.7 0.6 0.5 0.2 0.6 0.6 -0.2 0.6 0.5 0.8 -0.3 0.5 -0.1 -0.4 0.6 0.3 0.9 1 0 1 -0.3 1 0.5 1.1 -0.2 1 0.5 0.3 0.8 1 0.3 0.6 1 0.6 0.5 0.6 0.5 0.8 0.3 0.7 -0.1 0.1 0.7 -0.1 0.7 0.9 0.3 0.4 0.9 0.1 0.9 -1 0.5 -0.7 0.6 -0.7 0.3 -0.8 0 -0.5 -0.1 -0.9 -0.6 -0.7 0.2 -0.7 0.1 -0.8 0.5 -1.2 -0.3 -1.2 0.7 0.9 1 -0.2 0.6 -0.9 0.1 -0.6 0.1 -1 0.1 -0.8 0.2 -0.8 -0.1 -0.8 -0.2 -0.5 -0.2 -0.9 0.7 -1.4 1.1 -1.5 -0.6 -0.8 -0.9 -1.4 0.7 -1.7 -0.9 -1.2 0.6 -0.8 0.2 -1 -0.2 -0.8 0.4 -0.9 -0.5 -1 -0.1 -0.7 0.3 -0.6 0.1 -1 0.3 -0.1 0.6 -1.1 0.3 -0.2 0.6 -0.5 0.8 -0.7 0.6 0.1 0.7 -1.1 0.9 -1.2 -0.6 -1.4 0.8 -0.2 0.8 -0.6 0.1 -0.6 0.5 -1 0.4 -0.4 0.8 0.1 0.5 0.7 0.2 0.7 0.1 1.1 -0.6 1.2 -0.4 -0.4 -1.4 0.7 -0.8 1.1 0.6 0.2 -0.6 0.9 -0.4 0.6 -0.2 0.7 -0.8 1 0.4 1 0 0.8 -0.4 0.4 -0.8 0.8 0.4 0.6 -0.5 0.4 -0.8 0.7 0.6 0.8 0.8 0.6 0.2 0.8 -0.1 0.4 -0.4 0.4 -0.6 0.4 0.6 0.2 1.2 0 0.6 -0.6 0.6 -1.2 0 -0.7 0.7 -0.9 0.4 0.5 1.1 1.1 -0.2 0.2 1.1 0.6 0.4 0.4 0.3 0.9 0.3 1.1 0.1 0.6 0.3 1.1 0.2 0.2 0.6 0.1 -0.8 1 -0.3 0.9 0.2 0.4 0.6 1.2 0.1 0.8 0 0.5 0.7 0.5 -0.9 0.9 0 0.5 0.1 0.6 -1 -0.9 -0.2 -0.5 -0.3 -0.5 -0.4 0.6 -0.3 0.6 -0.8 0.2 0.5 1 0.4 -0.5 0.9 0 1.2 0.1 1 -0.8 0.6 -0.8 -0.2 -1 -0.2 -0.9 0.9 -0.7 0.7 -0.6 0.4 -1.2 0 -0.8 -0.3 -0.8 -0.1 -0.9 0.6 -0.6 0.1 -0.8 0.5 -0.7 0.4 -0.8 0.1 -0.6 0.3 -0.7 0.2 -0.9 0.4 -0.8 0.4 -0.8 -0.6 0 -0.6 -0.4 -0.6 0.3 -0.6 1.1 -0.4 0.4 -0.7 0.4 -0.4 0.8 -0.4 1 0 0.2 -0.7 -1 -0.6 -1 -0.2 -0.6 0 -0.4 0.6 0.7 0.7 -0.6 0.3 -0.8 0.2 -0.7 0.3 -0.4 0.5 -0.7 -0.4 -0.7 0.3 -0.8 -0.2 -0.5 0.1 -0.5 0.7 -0.6 0.3 -0.8 -0.1 -0.6 0.5 -0.8 0.7 -0.5 0.6 -0.6 -0.1 -0.7 0.1 -1.1 0.1 -0.9 0.8 -0.1 0.8 -0.7 0.7 0 0.6 -0.3 0.7 0.6 0.6 0.6 0.4 0.8 0.4 -0.6 0.5 -0.7 0 -0.6 0.1 -0.9 0 -0.9 0.2 -1.1 0.1 -0.9 -0.3 -1.1 0 -0.7 1 -0.6 0.6 -0.6 0.4 -0.7 0 -0.6 0.2 -0.1 1.1 0.1 0.9 -0.4 0.7 -1 0.3 -0.6 1 -0.1 0.8 -0.4 0.4 -0.6 0.5 -0.1 0.6 0.2 0.5 -0.6 0.7 -0.4 0.6 -1 0.4 -0.1 1.1 0.6 0.6 0.1 0.9 0.1 0.6 0.4 0.6 0.2 0.9 -0.5 0.4 -0.5 0.6 -0.9 0.3 -0.7 0.3 -0.8 0.3 -0.7 0.3 -0.7 0.3 -0.5 -0.1 -0.4 0.4 -0.6 0.8 -0.7 0.5 -0.2 0.5 -0.8 0.2 -0.6 -0.1 -0.7 0.6 -0.9 0.6 -0.9 0.2 0.3 0.8 -0.5 0.4 -0.7 0 -0.5 0.4 -0.8 0.3 -0.2 0.6 -0.3 0.8 -0.5 0.7 -0.3 0.7 -0.5 0.6 -0.2 0.7 0.6 0.7 -0.1 0.5 -0.3 0.8 -0.1 1 1 0.6 0.4 0.7 0.8 0.6 0.2 0.8 0.1 0.9 0.3 0.7 0.2 0.9 0.6 1 0 0.9 -0.3 0.9 -0.2 0.7 0 0.5 0.1 0.7 -0.7 0.4 -1.1 -0.1 -0.5 -0.2 -0.7 -0.4 -0.9 -0.7 0.1 -1.2 -0.2 -0.6 -0.2 -1 -0.5 -0.8 0 -0.5 -0.5 -0.3 -0.8 -0.6 0 -1.1 -0.4 -0.8 0.5 -0.6 -0.1 -0.7 -0.4 -0.5 -0.4 -0.6 -1.1 -0.3 -0.8 -0.5 -0.1 -0.6 -0.7 -0.3 -0.7 0.1 -0.9 0.4 -0.7 0.5 -1.1 -0.5 -0.8 -0.4 -0.5 -0.5 -0.7 -0.1 -0.7 -0.2 -0.9 0.1 -0.6 0.1 -0.7 0.3 -0.8 0.1 -0.7 -0.3 -1 -0.6 -0.7 0.4 -0.5 0.2 -0.6 0.2 -0.9 0 0.8 0.8 0.7 0.2 -0.1 0.8 -1 0.7 -0.5 0.1 -0.9 0.1 -0.7 -0.1 -0.9 -0.1 -0.8 -0.8 -0.8 -0.1 -1.1 -0.1 -1 0 -0.9 0 -0.9 0.4 -1.1 0.1 -1.3 -0.1 -0.8 -0.4 -0.7 0.3 -0.6 0.4 -0.7 -0.3 -0.3 0.5 -0.7 0.6 -0.6 0.3 -0.7 0.7 -1.1 0.2 -1 0.8 -0.3 0.5 -0.8 0.5 -0.3 0.7 -0.5 0.6 -0.3 0.9 -0.3 0.4 0.1 0.8 0.3 1.1 -0.2 0.6 -0.2 0.8 -0.1 0.8 0.1 0.7 -0.6 0.9 0.1 0.6 -0.1 0.6 0 0.8 -0.1 0.4 -0.5 0.7 0.1 1 0.4 0.8 0.1 0.6 0.7 0.8 0.2 1 0 0.9 0.6 1 0.3 0.4 0.7 0.4 0.4 0.5 0.8 0.5 -0.4 1 0.5 0.9 0.6 0.9 0.5 0.4 0.9 0.3 1 0.4 1 0.4 0.4 0.4 0.8 0.1 0.6 -0.1 0.7 -0.4 0.6 -0.3 1.1 -0.1 0.6 0 0.6 -0.2 1.2 -0.3 0.6 -0.1 0.8 0.4 0.3 -1 0.5 -0.5 0.4 -0.3 0.8 -0.4 0.4 -0.8 0.1 -0.7 0.5 -0.6 -0.2 -0.7 -0.1 -1 0.9 0.1 1 -0.6 0.7 -0.1 1.1 -0.1 1 -0.5 0.9 0.3 1 0.3 1.2 -0.3 0.7 -0.3 0.2 1.1 0.3 0.6 0 0.9 -0.4 1.1 -0.7 0.6 -0.6 0.7 0.1 0.9 0.4 0.8 -0.2 0.5 -0.9 0.8 -0.9 0.4 -0.5 0.8 0.7 0.9 -0.2 1 -0.3 0.8 0 0.5 -0.6 0.7 -0.1 0.4 -0.8 0.5 0.7 -0.1 0.6 -0.1 1 0 1 0.4 0.9 0.2 1.2 -0.3 0.7 -0.2 0.9 0.1 0.6 0 0.8 0.2 1 0.1 0.9 0 0.4 -0.1 0.7 1 0.9 0.1 0.7 0.6 0.7 0.3 -0.2 0.7 -0.8 1 0.5 1 0.1 1.1 -0.2 0.7 0.3 0.4 0.1 0.8 -0.3 0.9 -0.2 0.9 0.5 0.7 -0.4 0.5 -0.1 1 -0.5 0.3 0.3 0.7 0.1 0.6 0.6 0.5 0.5 0.7 0.8 0.1 1 0.8 0.5 1.1 0.4 0.3 0.9 0.2 0.8 0.1 0.6 0.4 0.7 -0.6 0.8 -0.3 0.6 0 0.9 -0.1 1 -0.3 0.5 -0.2 1 -0.2 1.2 -0.2 0.8 0.5 0.5 0.1 0.5 1.1 0.5 0.5 0.7 0.2 -0.2 0.9 -0.6 0.6 -0.1 1.1 -0.5 0.9 -0.5 -0.7 -0.4 -0.6 -0.1 -1.2 -0.9 -0.1 -0.8 -0.4 -0.5 -0.2 -0.5 -0.3 -0.3 -0.8 -0.6 0.9 -0.8 0.3 -0.6 0.6 -0.3 1.2 -0.3 1 -0.5 -0.1 -1 -0.3 -0.6 -0.3 -0.9 -0.3 -1 0.1 -0.6 -0.2 -0.3 -0.7 -0.8 -0.4 -0.7 -0.7 -1 -0.3 -0.5 -0.7 -0.5 -0.7 -0.6 -0.2 -1.1 -0.5 -0.3 -0.7 -0.4 -0.3 -0.8 -0.5 -0.6 -0.3 -1 -0.3 -0.2 -0.8 -0.1 -0.6 0.3 -0.6 -0.5 -0.7 -0.6 -0.8 -1.1 -0.4 -0.2 -0.7 -0.6 -1 -0.6 -0.3 -0.7 -0.6 -0.5 -0.8 -1.2 -0.1 -1 0.1 -1 -0.5 -0.9 -0.4 -0.9 -0.2 -0.6 -0.2 -0.5 -0.6 -0.9 0.2 -0.8 -0.3 -1.1 -0.3 -0.8 -0.5 -0.2 -0.4 -0.5 -0.2 -0.8 0.1 -0.9 -0.7 -0.5 -0.5 -0.7 0 -0.6 -0.3 -0.8 -0.5 -0.5 -1.2 -0.6 -0.1 -0.6 -0.2 -0.8 -0.4 -0.5 -0.3 -0.9 0.6 -1 0.2 -0.6 0.2 -0.8 0 -1 0.2 -0.7 -0.2 -1 -0.2 -1.3 0 -0.7 -0.2 -0.6 -0.2 -0.7 -0.6 -0.4 -0.5 -0.8 -0.1 -0.8 0 -0.4 0.2 -0.4 -0.6 -0.9 -0.8 -1 -0.2 -0.4 -0.4 -0.8 0.2 -1 0.1 -0.2 -0.5 -0.6 -0.5 -0.5 -0.7 -0.8 -0.4 -1 -0.4 -1.1 0 -0.7 -0.2 -0.6 -0.2 -0.5 -0.6 -0.4 -0.7 -0.7 -0.8 -0.7 -0.2 -0.7 -0.4 -0.8 -0.3 -0.4 -0.6 -0.3 -0.5 -0.4 -0.7 -0.1 -0.8 0.2 -0.7 -0.1 -0.5 0 -0.7 0.3 -0.5 -0.1 -0.8 -0.5 -0.6 -0.6 -0.7 -0.3 -0.5 -0.2 -0.7 -0.9 -0.6 -0.5 -0.6 -0.6 -0.9 -0.6 -0.3 -0.6 -0.7 -0.5 -0.6 -0.3 -1 -0.5 -0.6 -0.9 -0.5 -0.9 -0.7 -1.2 -0.2 -0.2 -0.9 -0.3 -0.3 -0.1 -1.2 -0.6 -0.6 -1.1 -0.7 -0.3 -0.7 -0.7 0 -0.5 -0.6 -0.4 -1 -0.2 -0.6 -0.9 -0.4 -0.6 -0.2 -0.8 -0.3 -0.8 -0.8 -0.5 -1 -0.4 -0.6 -0.4 -0.8 -0.4 -0.7 -0.2 -0.7 -0.6 -0.5 -0.3 -1 -0.2 -0.7 -1.1 -0.4 -0.4 -0.6 -1.2 -0.2 -0.7 -0.2 -0.6 -0.1 -0.2 0.6 0.1 0.7 -0.2 1.2 0.6 0.7 0.4 0.6 1.1 0.5 0.2 1 0.4 0.5 0.3 0.7 0.6 0.5 0.5 0.9 0.4 0.7 0.3 0.5 0.5 1 0.7 0.7 0 0.7 0.1 0.7 -0.2 0.7 0.9 0.2 0.4 0.5 0.4 0.4 1 0.5 0.5 0.7 0.1 0.7 1.1 0.5 0.6 0.6 0.2 0.8 -0.1 0.4 1 0.5 0.5 0.5 0.1 0.6 0.7 0.7 0.3 1 -0.8 -0.5 -0.6 0.3 -0.6 -0.1 -0.7 0.2 -0.7 -0.5 -0.5 -0.8 -0.7 -0.5 -0.4 -0.8 -0.2 -0.5 -0.6 -0.2 -0.5 -0.3 -0.5 -1 -0.4 -0.8 0.1 -0.9 0.1 -0.6 0.1 -0.8 -0.8 -0.8 -1.1 -0.6 -0.9 0.1 -0.8 -0.8 -0.8 -0.1 -0.7 -0.5 -1 -0.1 -0.8 -0.9 0.6 -0.7 0.2 -0.8 0.3 -0.8 0.7 -0.2 -0.9 0 -0.6 -0.2 -0.6 -0.5 -0.6 -0.2 -0.5 -0.9 -0.1 -0.7 -0.3 -0.5 -0.7 -0.4 -0.7 -0.7 0.5 -1 0 -1 -1.1 -0.6 0 -0.6 -0.2 -1 -0.9 -0.8 -0.6 -0.4 0.3 -0.8 -1 -0.6 -0.4 -0.5 -0.5 -0.4 -0.6 -0.4 -0.5 -0.3 -0.9 -0.3 -0.3 -0.5 -0.9 -0.1 -1.4 0 -0.9 -0.2 -0.5 -0.2 -0.7 -0.5 -0.2 -0.4 -0.3 -0.7 -0.1 -0.7 -0.6 -0.6 -0.9 -0.3 -0.4 -0.6 -0.4 -0.9 -0.4 -0.7 -0.4 -0.5 -0.2 -1.2 -0.9 -0.7 -0.2 -0.7 -0.5 -0.6 -0.3 -0.5 -0.8 -0.5 0.4 -1.1 -0.3 -0.6 -0.8 -0.6 -0.9 -0.5 -0.6 -0.6 -0.3 -0.6 -0.3 -1.1 -0.1 -0.6 0 -0.7 0.1 -0.5 0.5 -0.7 0 -0.9 -0.3 -0.6 0.5 -0.6 0.9 -0.9 -0.9 -0.4 -0.7 -0.1 -0.1 -1.1 0.1 -0.6 0.5 -0.7 0.4 -0.5 0.6 -0.7 -0.2 -0.9 -0.6 -1 0.5 -0.5 -0.1 -0.7 0.4 -0.9 -0.4 -0.5 -0.4 -0.6 0.3 -1.1 0.1 -0.9 -0.3 -0.6 -1.1 -0.5 0.5 -0.8 -1 -0.6 -0.2 -0.5 0.6 0.5 0.2 0.6 0.8 0 1 -0.4 0.8 -0.1 0.5 0.5 0.3 -0.9 0.2 -1.1 -0.2 -0.9 -1 -0.8 -1.3 -0.3 1.9 -0.3 0.3 -1.4 -0.9 0.1 -1.2 0 -0.7 0.3 -0.9 -0.1 0.2 1.1 -1.1 0.4 -1.5 1.6 -2.1 -1.3 -1.1 -1.4 2.5 -0.6 -2.3 -1.1 -0.8 -1.2 0.2 -0.8 0.8 -0.1 -0.4 -1.1 -0.4 -0.5 -0.8 0.1 -1.1 -0.3 -0.3 -0.5 1 -0.8 -1.6 -0.7 0.3 -0.8 -1 0.1 -0.7 -0.6 -1 -0.2 -1.3 -0.4 -0.2 -0.9 1.2 0.2 0.2 -1.2 -1.3 -0.5 -0.3 -0.7 -0.6 0.8 -0.9 0.1 -1.3 -0.2 0.4 -0.9 -1.1 -0.5 0.2 -0.8 -0.4 -1.2 -0.2 -0.9 -1 -0.4 0 -0.8 -0.4 -0.4 -1.2 0 -0.6 0.7 0.2 -0.8 -0.4 -0.6 -0.9 -0.5 -1.2 0.1 -0.4 -0.7 -1 -0.2 0 -0.6 -1.5 -0.6 -1.2 0.5 1 -0.8 -0.3 -1 -2.2 -1.1 -0.8 1.5 -0.1 0.8 -1.2 0.2 -0.6 -0.6 0.1 -1 -1.1 -0.3 -0.2 -0.6 -0.9 0.6 -1 -0.1 -0.9 0.1 -0.7 0.8 -1.1 -0.2 -0.1 -0.9 -1.2 -0.4 -1.4 0.6 0 -1.1 0.4 -0.9 -0.7 0 -0.6 0.4 -1.7 0.1 0 -1 -0.7 -0.3 -0.6 0.5 -0.7 -0.2 -1.2 -0.1 -1 0.2 -0.9 -0.4 0.3 -0.8 -0.9 0.8 -0.9 -0.2 -0.4 0.5 0 -0.9 -0.3 -0.6 -1.1 -0.3 -0.6 0.8 -1.6 0.1 -1.5 0.2 0.1 -1.3 -0.5 0.2 -0.9 0 -1 0.4 -0.4 -1 -0.7 -0.4 -0.6 0.3 -0.9 0.5 -1.4 0.6 -0.9 -1.3 -1.1 0.4 -0.2 0.6 -0.6 0.5 -1.1 0.7 0.2 0.8 1.4 0.2 -1.4 0.5 -1.5 0.5 1.5 0.5 -0.6 1.5 -0.9 -0.6 -1.1 0.7 -1.4 -0.7 0.4 -1.2 -0.8 -0.1 -0.6 -0.2 0.1 -0.9 0.4 -0.6 -0.9 -0.7 0.9 0.3 0.9 -0.8 0.9 0.1 0.6 -0.5 0.9 0.1 0.3 -0.6 0.3 -0.4 0.7 -0.4 1.1 1.4 -0.5 0.9 -1.3 0.1 -1.1 0.6 -1.1 -0.4 -1.7 0.3 -0.8 -0.1 -0.9 -0.5 0.4 0.7 -0.4 0.7 -0.8 -0.4 -0.7 -0.1 -1 0.4 0.1 0.7 0.3 1.1 -0.6 -0.8 -1.2 0.7 0.1 0.9 0.1 0.5 0 1.2 0.2 1.5 -1.5 0.4 -1.3 0.2 -0.8 -0.1 -0.8 -0.4 -0.8 -0.2 -0.5 0.9 -1 -0.1 -1.1 -0.6 -1 0.6 -1 0.4 -0.5 0.6 0.1 0.6 -0.8 0.6 -1 -0.7 -0.8 0 -1.1 0.5 -0.6 0.6 -0.7 1 -0.8 0.4 -0.9 0.1 -0.2 0.6 -0.4 -0.6 -1.4 -0.1 -1.1 -0.1 -0.2 1 -0.9 -0.1 -0.9 -0.7 -1.1 -0.3 0.6 1.3 -0.4 1.5 -2.1 0.4 -1.5 -0.8 0.7 -0.5 0.7 -0.1 0.4 -0.6 0.8 -0.2 0.7 0 0.5 -0.6 0.5 -0.5 1.2 0.2 0.6 0.4 0.5 0.3 0.7 -1 0.7 -0.6 0.8 -0.1 1.5 0.1 0.9 -0.1 0.6 1.2 1.8 -0.5 -0.2 -1 1.2 -0.8 -0.7 -1.1 -0.1 -0.8 1.2 -0.1 1 -0.4 0.2 -0.6 -0.5 -0.5 -0.6 -1.2 1.6 0 0.9 -0.5 -1 0.2 -0.4 0.2 -0.8 0.5 -0.8 -0.6 0.4 -1 -0.7 0.4 -0.6 -0.2 -0.8 -0.3 -1 0.2 -0.6 0.2 -0.7 -0.6 -1.2 0.2 0.2 1.1 -0.5 0.4 -0.9 0.1 -0.5 -0.1 -0.4 -0.8 -1 -0.3 0.6 -0.8 0.6 -0.3 -0.8 -1 -1.1 0.1 0.3 -0.5 0.4 -0.8 -1.7 0.3 -0.2 -1 -1 -0.2 0 -1.1 -0.8 0.7 -1.3 -0.2 -0.7 0.5 -0.6 -0.3 -1.1 0.2 -0.8 -0.1 0.3 -0.6 -0.2 -0.9 -0.6 -1 -0.1 -1.2 -1 0.2 -0.5 -0.3 0.2 -0.7 0.1 -0.6 1 0.4 1.1 -0.4 0.5 -0.6 0.4 -1.1 1.3 0.4 0.9 0.3 0.5 1.1 0.2 -0.9 1.7 0.2 -0.1 -1.1 0.6 -0.7 0.2 -0.5 0.7 -0.4 0.6 0.3 0.8 0.3 1.4 -0.1 0.7 -0.4 0.5 -1 -0.5 -0.8 -0.3 0.5 -0.9 0.1 -0.1 0.6 -0.8 0.4 -0.8 -0.7 -0.9 -0.5 -1.2 -0.4 -0.8 0.1 -0.5 0.2 -0.7 -0.5 -0.8 -0.3 -0.5 -0.3 -0.7 0.6 -1 0.2 -1 0.3 -0.4 -0.5 -0.4 -0.5 -1.2 0.1 -0.8 -0.6 -0.8 -0.4 -0.4 -0.6 -0.6 0.1 -0.7 0 -0.6 -0.5zM387.5 155l-0.7 -0.3 -0.6 -0.5 -0.7 -0.4 -0.4 -0.6 -0.6 -0.1 -0.5 -0.5 -0.7 0 -0.8 -0.1 -1 -0.5 -1.2 0.1 -0.8 0.2 -0.6 -0.2 -0.6 0.2 -0.8 -0.3 -0.7 -0.4 -0.4 -0.5 -0.6 -0.5 -0.8 0.1 -0.5 -0.5 -0.8 -0.5 -0.6 -0.8 -0.6 -0.7 -0.9 0 -0.9 -0.4 -0.5 -0.2 -0.8 0.1 0.5 -1.4 1.4 -0.9 -1.4 -0.6 -1.1 -0.3 0.5 -1 2.1 0.1 -1.6 -1.1 -0.4 -0.9 -0.9 -0.1 -0.5 -0.7 -1.1 -0.2 -0.7 0.2 -1.1 0.3 -1.3 0.2 -1.3 -0.8 0.8 -1.3 0 -0.8 0.5 -0.5 0 -0.9 -0.6 -0.2 -0.7 -0.5 0.1 -0.7 0.9 -0.4 -1.4 -0.1 0.6 -1 0.8 -0.3 0.3 -0.6 0.3 -0.5 0.6 -0.3 1.1 -0.3 0.9 -0.2 1.3 -0.1 1 -0.2 1 -0.8 -1.8 0.5 -0.9 -0.7 0.5 0.9 -1.4 0.2 -1.2 -0.3 -1.3 -0.6 -0.2 -0.9 -1.2 -0.4 -0.1 -0.5 -0.9 -0.3 0.9 -0.7 -1.7 -0.1 0.5 -0.9 -1.1 -0.3 -0.8 0.3 -0.5 -0.7 -0.9 -0.6 -0.4 -1 -0.9 -0.4 0.5 -0.8 1.7 -0.3 -0.8 -0.9 1.7 -0.5 0.2 -0.8 1.2 -0.8 0.4 -1.8 -2.4 -1.2 0.2 2.5 -4.3 -0.2 -0.4 -0.6 -0.3 -0.6 -0.6 -0.3 -0.4 -0.9 0.1 -0.7 -1.2 0.4 -1 -1 -0.9 -0.9 0.3 -1.1 -1.5 0.4 -1.8 0.3 -1 -0.1 -0.9 0.1 -1.7 0.1 -1.2 -0.6 -1.1 -0.6 -1.4 -0.6 -1.2 1.5 -2.2 -0.1 -0.9 -0.1 -0.6 0.5 -1 0.5 -1.6 -0.6 -1.1 -0.8 -1.6 0.4 1.2 1.3 -2.1 0.8 0.9 -1.2 -1.8 -1.1 -2.1 0.2 -0.9 -0.9 -0.9 0.1 -0.3 -0.5 -0.9 0 -0.3 0.5 -1.8 0.2 -0.8 -0.6 -0.1 -0.5 0.1 -0.9 -0.1 -1.2 -1.7 -0.3 0.5 -1.4 -1.1 0.4 -1.3 -0.2 -0.6 0 -0.7 0.2 -1.3 1.3 2.1 0.9 2.9 0.8 0.3 -2 1.4 -0.6 1.2 -0.5 -0.1 -0.9 1 -1 1.3 -0.7 1 -0.7 1.2 0.4 1.5 -0.9 1.3 1 1.8 0.2 1.9 -0.8 0 -1 0.2 0.9 1.3 0 1.2 -0.7 0.9 0 -0.3 -1.2 -0.1 -0.7 1.4 -0.7 0.4 -0.6 0.9 -0.5 0.8 -0.9 2.7 -0.4 1.2 1.3 1.4 0 0.7 -0.7 1.4 -0.5 0.9 -0.3 3.6 -0.8 2.1 -2.1 3.6 2.4 3.1 1.9 2.5 -0.1 4.3 0.7 1.6 -1.1 -0.8 -2.2 1 -1.7 2.9 -0.4 1.9 -0.2 3.1 0.2 1.8 0.1 1.3 0.3 2.6 -0.5 2.9 1.5 3.6 1.1 2.6 -0.7 2.6 -0.5 0.5 -1.7 1.8 0.1 1.2 -0.1 3 1.1 2.2 -1 3.1 0.4 2.8 1 2.7 -0.5 3.5 -0.8 2 -0.1 1.8 -0.1 2.4 0 1.7 -0.2 0.7 1.6 1.7 1.4 2 1 3.1 0 1.9 -0.2 3 -1 1.3 -0.4 1.3 -0.4 1.2 -0.2 1.6 0.7 1 0.4 1.1 0.3 1 0.2 0.7 0.3 1.7 0.8 1.7 -0.5 2.2 0.5 1.8 1 0.9 0.9 0.8 0.4 1.2 -0.1 2 0.3 0.8 -1.1 2.8 -0.9 0.6 0.2 0.5 0.5 1.2 0.1 1 0.1 1.3 0.4 1.3 0.2 0.8 -0.1 0.8 -0.7 -0.6 0.5 -1 0.3 -1.1 0.6 -0.8 -0.1 -1 -0.4 -1.5 0.3 -2.7 -0.2 -1.3 1 -0.7 1 -0.8 0.3 -0.8 -0.2 -1.2 0.3 -1.2 0.5 -0.3 0.7 -0.8 0.5 -0.7 1 -0.5 0.3 -0.5 0.5 0.2 0.8 -0.2 0.6 0.5 0.4 0.3 0.8 -0.5 0.7 -0.2 0.5 -0.6 0.3 -0.7 0 -0.7 0.6 -0.6 0.4 0 1 0.4 1.1 0.3 0.7 -0.7 1 -0.3 0.6 0.1 0.7 -0.1 0.9 -0.7 0.4 0.8 0.2 0.5 0.1 0.3 0.4 0.7 0.5 -1 0 -1 0.4 -0.5 0.3 -1 0.3 -1.1 0.6 -0.9 0.5 -0.8 0.3 0 0.8 0.3 0.8 -0.3 1 -0.5 0.9 0 0.7 0.5 0.8 -0.8 0.8 -1.3 -0.1 -1 0.6 -0.6 0.2 -0.7 0.2 -0.6 0.9 -1.4 0.1 -1 -0.1 -0.6 0.6 -0.9 0.5 -1 0.2 -0.7 0.4 -0.7 0.7 -0.9 -0.2 -0.9 -0.3 -1.1 -0.2 -0.8 0.1 -1.1 0.4 -0.6 0.5 -1.5 0 -1.8 1 -2 -0.2 -0.6 1.1 -1.3 0.4 -0.9 0.3 -1 0.6 -1 0.1 -0.7 0.2 -1.1 0 -1 0 -1 0.7 -0.9 0.7 -1.1 0.5 -0.9 0 -1 0.4 -0.5 0.7 -1 0.5 -1 0.4 -0.3 0.5 -1.1 -0.4 -1.2 -0.6 -0.6 0.1 -1.1 0.3 -0.9 -0.3 -0.8 0.3 -0.6 0.2 -0.5 0.5 -0.9 0.5 -0.3 0.8 -0.5 0.3 -0.6 0.7 -0.8 0.9 -0.3 1.1 0.4 0.7 0.2 0.6 -0.3 0.9 -0.8 0.4 -1 0.6 -1 0.5 0.4 1.1 0.1 0.6 0.1 0.9 -1.1 0.1 -0.6 0.5 -0.9 0.5 -0.6 0.5 -0.6 0.4 -1.1 0.5zM437.5 140.8l-0.5 -0.9 0.5 -0.7 0.9 0.1 0.4 -0.6 1.4 0 0.4 0.6 1.3 0.1 0.6 -0.9 1.8 0.7 0.7 -1 0.8 -0.2 0.4 -0.7 1 0.3 0.7 0.5 -0.3 0.8 -0.1 0.6 0.9 -0.3 0.8 0.1 0.1 -1.1 1 -0.3 1 0.1 0.8 0.5 0.4 0.5 0.8 0.3 1.5 0.3 1 -0.2 -0.2 -0.9 0.6 -0.6 0.7 0 0.6 0.3 0.3 0.7 0.9 0.1 1.3 -0.2 0.2 0.7 1 0 1.2 -0.1 0.7 1 0.7 0.8 0 0.8 0 1 -1 -0.1 -0.4 0.7 -0.5 -0.1 -0.8 0 -1.1 0.3 -1.6 -0.8 -1.4 0.6 0 -0.6 -1.3 -0.5 -1.3 0.2 -1.3 1.1 -0.3 1.3 -0.3 0.7 -1.5 -0.2 -1.3 0.6 -0.7 -0.5 -0.2 -1.1 -0.7 0.8 -1.2 0 -0.7 0.4 -0.5 -0.4 -0.8 -0.2 -0.4 -0.2 -0.8 -0.4 -1.3 0.2 -1.2 0 0.1 -0.9 0.5 -0.3 0.7 -0.4 -0.6 -0.1 -0.7 -0.1 -1 0 -0.7 -0.6 0.3 -1 -0.5 1.1 -1.8 -0.5 0.9 -0.1 0.2 -0.6 -0.5 -0.4zM335 150l-1.8 0.2 -0.5 1.4 -1.9 0.2 -1.3 -0.5 -0.3 -0.5 -0.7 -0.4 -0.4 -1.2 -0.6 -0.4 -0.2 -0.7 0.3 -1.1 -1 -0.6 -1.2 -0.6 -1.3 1 0 1 -2.5 0.6 -1.6 -0.9 -1.4 -0.1 0.4 -1 -0.8 -0.9 -1.1 -1.1 -0.9 0.2 -0.8 0.3 -1 0 -0.6 -0.9 -0.6 -0.1 -0.9 -0.1 -1.6 -0.2 -0.2 -0.9 -0.5 0.5 -0.5 0.6 -0.8 -0.7 -1.2 0.7 -0.5 0.1 -0.8 0.1 -0.7 -0.5 -1.1 -0.1 -0.9 0.2 -0.7 0.1 -0.3 -0.4 -0.7 -0.3 0.2 -0.7 -0.4 -0.8 -0.1 -1 1.9 0.7 -0.6 1 1.1 -0.9 1.1 -0.3 1.5 1.2 0.1 1 1.1 -1.2 1.9 0.1 0.8 0.1 1.1 0.2 0 -0.7 1 -0.2 1 -0.6 1.3 0.2 0 -0.8 -0.2 -0.5 -0.8 0 -1 -0.4 0.6 -0.7 0.4 -0.5 0.5 -0.2 1.2 -0.3 -0.5 -0.3 -0.6 -0.6 0.8 -0.9 1 -0.1 -1 0.1 -0.5 -0.4 -1.3 0.1 0.3 -1 -0.4 -0.8 -0.8 0 -1.1 -0.8 -1.2 0.8 -1.2 0.6 -0.1 1 0.5 -0.9 0.2 -0.9 -1.1 -1.8 -2.3 0.2 -0.7 -0.5 -0.6 -0.3 -0.6 0.4 -1 -0.2 -0.3 -0.9 -0.5 -0.5 -1 -0.5 -1 0.7 -0.9 -0.2 -0.8 -0.2 -1.1 0.3 -0.8 0.6 -1.5 0 -0.5 -0.7 -0.9 -0.4 -0.7 0 -0.8 -0.1 -1.1 0.4 -1.1 -0.1 0.7 0.6 -0.9 0.7 -1.6 -1.1 -1.7 1.3 -1.3 -1 0.7 -1.1 -0.5 0.5 -0.7 0.1 -0.6 0.1 -0.9 -0.1 -0.1 -0.7 -0.9 -0.9 -1.7 -0.9 0.5 -1.2 -1.1 1.1 -1.3 0.2 -0.6 0.7 -1 -0.4 -1.1 0.5 0.8 -0.7 -1.5 -0.1 0.3 -0.9 -1 0 -1 0 -0.8 -0.9 -0.5 -0.7 -0.2 -1.1 0.2 -0.6 1.2 0.1 0.8 -0.3 -0.1 -0.8 0.5 -0.8 -0.7 -0.2 -0.5 -0.2 0.1 -1 1.9 0.4 -0.5 1.6 2.3 0.4 0.4 1.5 0.3 -1.1 2.2 -0.2 1.2 -1.7 0.9 -0.9 0.7 0.6 0.1 0.5 1 0.1 1.2 0.3 1.4 -0.1 1.3 0.1 0.1 -0.9 0.7 -0.4 0.4 0.5 0.9 -0.3 1.3 0.1 0.9 -0.5 -0.1 1.1 1.2 0.2 1.6 0 0.8 -0.5 0.8 0.5 0.8 -0.3 1.6 -0.1 0.8 -0.1 0.9 0.3 0.8 -0.2 0.9 0.3 1 0.8 0.6 0.1 0.8 -0.1 0.6 0.7 0.4 -0.3 1 -0.2 0.5 1 2 0.6 0.5 1 0.3 0.6 -0.3 0.9 0.3 -1.3 1.8 -0.2 1.6 -0.1 1.3 0.8 0.7 0.6 1 0.3 -0.7 1.4 1.5 0.8 2.1 -0.9 -1.1 -1.4 2.2 -0.3 0.5 1.5 0.3 1 1.3 0.3 0.4 -0.8 1.9 -0.2 0.4 1 0.9 0 1.1 0.2 1.2 -0.2 0.1 0.8 0.2 0.5 1.1 0.1 -0.4 0.7 -0.5 0.3 -0.3 0.9 0.8 0.9 0.8 0.5 0.3 0.5 -0.4 0.9 0.8 0.7 0.6 -0.7 1.4 0.1 1.4 0 1.4 -0.5 0.9 0.2 0.6 0.8 1.3 0.2 1.3 0.7 0.8 1 -1.3 0.7 0.7 0.2 0.9 -0.4 1 0.2 1.6 -0.3 0.3 0.9 0.2 0.7 -1.2 0.1 -0.3 1.2 -0.6 -0.7 -1 0.2 -0.9 0.3 -1.6 0.2 -0.5 0.7 -0.4 0.9 0 -1.1 -0.6 -0.5 -1 -0.7 -0.9 1.6 -1.1 0.7 -1.4 -0.3 -0.7 -1.3 -0.2 -0.6 -0.7 -0.8 0 -1.1 1.2 0.3 0.4 0.7 -0.2 1.1 -0.4 0.9 0.5 0.9 1.1 0.4 0.8 -0.2 0.3 -0.5 1 0.5 1.1 0.5 0.8 -0.1 1 -0.2 -0.9 1.1 -1.1 -0.5 -1 0.8 -0.1 0.7 0.4 0.5 -0.3 0.4 -0.3 0.7 -0.8 -1.1 -0.9 -1.5 -2.3 1.4 -1.8 0 -1.5 -0.6 -0.6 1.4 -1.1 0.3 -0.3 -0.9 1.2 0.6 0.9 0.5 -1 0.7 0.1 1.1 1.6 -0.3 1.2 -1.7 1.8 1.1 0.5 1 0.7 1 -0.7 0.7 0.7 -0.2 0.8 0.3zM202.5 128.2l0.9 0.8 1.6 0 0.8 -0.5 1.1 0.1 1.6 1 1.3 -0.1 0.2 1.1 0 0.6 -0.7 1.3 2 1 1.8 0.1 1.8 -0.2 0.7 -0.8 1.9 -0.2 1.6 -0.6 0.9 1.2 2 -0.7 1.4 -1.2 2.9 0.6 0.4 2.5 2 1.8 2 0 -1.1 -2.4 2.9 -1.4 0.9 0.7 1.1 0.2 2.5 -0.2 -0.5 1.8 -0.5 -1.1 1.1 -1.7 3.1 0.2 2.3 -0.1 0.1 -1 0.6 -0.1 0.9 0.1 -0.4 -0.9 0.8 -0.3 0.5 0.2 0.1 -0.6 0.6 -0.6 -0.8 -0.1 -1.1 -0.7 -0.4 -0.5 -1.1 -0.5 -0.6 0.7 -0.5 0.5 -0.5 -0.8 -1.1 -0.3 -0.8 0.2 -0.6 -0.2 -1 0.1 -1 -0.2 -0.7 -0.5 -1.1 -0.3 -0.7 -1.1 -1.9 0.3 -0.4 -1 1.2 -0.7 1 -0.8 1.4 0.3 -0.1 -0.9 -1.1 0.1 -0.9 -0.8 1.2 -0.6 -1.6 0 0 0.9 -1.4 -0.5 -1.1 0.1 -1.7 0.7 -1.6 0.3 -1.2 0.7 0.4 1.1 0.6 -1.2 -0.5 -0.9 -2.1 -0.5 -1.4 0.3 -1.4 0.9 -1.2 -0.4 -0.7 0.4 -0.8 -0.4 -0.2 -0.9 -1.2 -0.6 -0.7 0.9 -1.3 0.6 -1 0.4 -0.9 0.5 -2 -0.3 1.2 -1.5 -0.6 0.3 -0.7 0.5 -0.9 -0.6 -0.1 -0.6 -1.2 0.2 -0.9 0.6 -0.8 0 -0.6 0 -0.2 -0.8 -1.3 0.3 -0.2 1.2 -1.6 0 0.1 0.7 0.3 1.2 -1.2 -0.1 -0.8 0.8 -1.1 0.1 -0.5 -0.4 1.2 0.2 0.6 -0.6 0.6 0.5 -0.3 1 0.6 0.8 0.5 -0.5 0.6 -0.2 -1 0.7 0.3 0.5zM183.8 124l0.7 0.9 0.9 0.6 0.6 0 1.1 -0.1 1 0.8 0.7 0.6 1.1 -0.4 0.7 -0.1 0.7 0 1.1 0.1 0.6 0.7 1.9 -0.1 0.1 -1 0.4 -1.1 0.7 0.2 1 -0.3 0 -1.1 0.9 0.2 0.8 -0.1 0.8 -0.5 -0.1 -0.9 0.7 0.5 1.1 -0.5 0.3 -0.8 0.6 0.1 0.8 -0.5 -0.3 1 1.3 0.3 1.2 -0.8 0.8 -0.4 0.3 -0.4 0.8 -0.5 0.4 -0.6 -0.3 -0.6 -0.8 -0.1 -0.6 -0.6 -1.2 0.1 -0.8 -0.1 -2.1 -0.2 -1.6 -1.2 1.2 -1.3 -2.2 -0.4 -2.5 -0.7 -1.6 0.1 0.7 2.1 -1.9 1.3 0.2 -1.8 -1.9 -0.9 -1.3 1.5 -1.9 -1.4 -0.8 0.9 -0.1 1.5 -1.8 0.4 0 1.6 -0.5 0.7 -0.8 0.4 0 0.8 -1.4 0.1 0.2 0.9zM300 113.8l1.3 -0.1 0.7 0.2 -0.5 -1 1 -0.4 2.3 -0.1 -0.8 -1.3 -0.2 -1.1 0.8 -0.5 0.9 0.2 1.5 0.8 0.9 -0.8 1.3 -0.3 -0.6 -0.9 0.8 -0.1 0.6 -0.2 0.6 -0.7 -0.8 -1 0.7 -0.2 0.8 0.3 -0.1 -0.8 0.1 -1.2 -0.6 -1.5 2 0.1 2 0.1 4.7 0.4 0 -2.8 2.1 0.9 1 2 1.5 -1.6 2.5 1.5 2.1 0.1 -0.5 1.3 -0.1 -1.5 2.3 -0.1 1.6 -0.8 0.6 -0.7 1.9 -0.4 2 -0.7 1.3 -1.3 -0.5 -1 1 0.6 1.3 0.1 1.7 0.2 1.3 0 -0.7 0 -0.7 0.3 -1 -0.8 -0.9 0 -1 -0.5 -0.7 -1 -3.1 -0.4 -3.4 -0.3 -0.6 1.5 -1.1 1.8 -0.8 -1.2 -2.5 -1.5 -1.5 0.2 -2 -0.8 -3 -1.1 -2.7 2.4 -2.8 -1.1 -4.4 -1.8 -1.8 0 -2.4 0 -1.9 0.5 -1 1.3 -3 -0.5 -1.4 1.6 1.7 1.9 -3 0.4 -5.3 -0.7 -2.3 4 -5.1 -2.1 0.9 -2.8 0.3 -2 -2.6 -0.9 -2.6 2.8 -4.2 -2.3 1 0.8 -1.5 1 -0.4 1.8 -2.5 0.8 1 -0.1 0.7 0 0.8 0.8 0.5 0.6 0.9 -0.1 0.6 0.6 0.5 0.6 0.3 1.1 0.9 -0.1 1.2 0 0.8 0.5 0.7 0.1 1.1 -0.3 -0.4 0.7 0.8 0.6 0.8 0.7 0.8 0.3 0.5 0.2 -1.2 0.5 -0.8 0.2 -0.5 -0.8 -1 -0.2 -0.7 0.5 -1.3 0.2 -0.2 1.2 0.7 0.9 -1.4 0.3 0.9 0.9 -1.2 0.1 -0.6 0.7 -0.7 -0.5 -0.5 -0.4 -1 -0.1 -0.5 0.7 0.7 0.8 0.2 0.4 -0.8 0.8 1 0.3 0.6 -0.2 0.8 -0.1 1.3 0.7 1.1 1.1 0.3 0.5 0.9 0.7 3.3 -0.3 2.9 1.2 1.4 -1.9 -1.2 -1.7 1.5 -0.9 1.8 -0.2 2.2 0.1 0.6 1.2 1.4 0.3 1.8 0.7 1.9 -0.8zM257.5 104.5l1 0 1 -0.5 0.3 -0.3 0.7 -0.5 1.3 0.7 2.4 0.3 -1.5 -1.5 2.3 -1.5 0.3 0.7 -0.4 0.7 1.9 0.1 0 0.9 0.9 -0.3 1.3 0 1.3 1 2.2 -1.1 0.7 0.5 0.9 0.3 1.8 0.3 0.5 -0.8 -1 1.6 -1.3 0.6 2.5 0 0.9 1.3 -1.1 0.7 -1.4 -0.6 -0.4 1.3 -1.3 -0.6 -0.9 -0.1 -1.1 0 0 1 -1.3 0.3 -1.7 -0.2 -1 -1.2 -0.6 0.6 -1.1 0.5 -0.6 -0.5 -0.2 -0.7 -0.6 -0.6 -1.7 0.1 -1.6 -0.2 -0.4 1.4 -0.3 -1.3 -2.3 0.2 -0.8 -0.8 -0.8 -0.7 1 -0.5zM267.5 117.8l1.3 -0.1 1.3 0.9 3 0.8 0.9 -2.1 3.2 -0.4 0 2 2.5 1.5 2.8 -2.2 3.2 -0.3 2.5 0.6 -1.6 1.6 2.3 1.1 2.3 -1.3 2.3 0.9 1.8 -1.4 2.2 -1.4 0.3 -0.6 0.9 -0.4 0.8 0 1.1 0.1 -1.2 0.1 -0.7 0.1 -0.7 -0.8 0.8 -0.7 -2 1 1.8 0.8 -1.5 1.1 -1.2 -0.8 -0.8 -0.5 -1 -0.6 0.8 -1.2 -2.4 -0.6 -1.8 -0.8 -2.6 0.4 -1.4 0.9 -2.9 -0.6 -2.1 0.2 -1.8 -0.1 -1.3 0.1 -1.1 0.4 -1.8 2.9 -3.2 -1.7 -2.5 0.9 2 1.6 -1.6 -1.9 -1.6 -1.1 -1.3 -0.9 0 -1.5 -0.7 0.7 -1.1 -0.8 -1.3 0.8 -1.5 0.2 -1.4 -0.7 -1.7 -0.3 -1 -0.2 -1.3 -0.3 -0.6 1 1.4 -0.4 0.3 0.8 -0.6 0.3 -0.5 0.6 1.7 -1.8 1.8 1.5 0.4 0.6 0.8 1.1 1.7 0.6 0.7 -0.9 2.3 -0.6zM258.8 123.8l0.8 0.3 1.1 0.3 0.9 -0.5 1 0 1 0.6 0.9 0 0.5 0 0.2 -1 1.1 -0.3 0.5 0.5 1.1 -0.1 1.7 0 0.2 -0.8 0.7 -0.5 0.7 0.2 0.7 0.3 1.1 -0.2 0.4 -0.4 0.6 -0.7 0 -1.1 -0.4 -0.6 -1.1 -0.3 -1.6 0.3 -1.4 -0.7 0.8 -1 -0.8 -0.6 -1 0.6 -1.1 1.2 -1.3 -0.3 -1.1 0 -1.5 0.3 -0.8 -0.9 -0.4 -0.7 -1.1 -0.1 -1.1 0.5 -1.7 0 0.9 0.8 -0.5 1.1 0.6 0.6 0.4 0.9 0.7 0.9 0.5 0.4 -0.5 1.1zM242.5 124.5l0.7 -1.2 1.3 0.7 2.2 0.3 0.7 0.8 0.9 0 0.5 0.4 1.3 -0.2 -0.1 0.9 1.1 -0.3 0 -0.9 0.9 -0.4 0.7 0.7 0.9 -0.3 0.5 -0.4 0.9 -0.1 -0.4 -0.7 0.6 -0.6 1 -0.6 -0.9 -0.2 -0.5 -0.5 0.2 -1.1 -1.1 0.2 -0.8 -0.4 -0.8 0 -0.7 -1 -1.7 0.6 -1.5 0.2 -0.9 -0.6 -0.4 -0.6 -1.4 -0.3 -0.1 1 -1.6 0.1 -0.7 0.4 -0.5 0.2 0.2 0.8 -0.5 0.6 0.6 0.8 -0.4 0.6zM205 116.5l0.9 0.6 1.8 0.3 3.4 0.9 -2.6 2.1 0.7 -1.5 1.6 -0.6 1.7 -1 2.5 0.9 2.3 -0.4 0.6 -1.3 1.6 -0.7 1.3 0 2.2 0.6 2.2 -1.4 -1.2 2.1 3.5 0.1 1.1 0.4 0.5 0.5 1 -0.3 1 1.2 2.5 -0.4 1 -1.2 -0.8 -0.9 -0.9 -0.7 -0.6 -0.7 0.2 -0.6 -1.2 -0.2 -1.3 -0.3 -0.2 -0.4 -0.9 -0.5 -2.1 -0.6 -0.3 1.6 -1.4 -0.2 -0.1 -1.1 -1.4 -1.5 -1.8 1.5 -0.7 -0.8 -1.5 0.4 -1.6 1 -1 -1.1 -0.8 1 -1.2 0.7 -1.5 0 -1.6 -0.1 -0.9 1.2 0.7 0.8 -1 -1.2 -0.9 -0.5 -0.5 -1.3 -1.8 0.3 1.1 0.7 -0.5 0.7 -1.4 0 -1.1 0.6 0.4 0.7zM237.5 116.5l1.6 0.1 1.6 -0.3 0.6 1.5 0.9 1.1 -0.8 -1.8 2.2 -0.4 1.9 0.5 2 -0.2 1.1 -0.5 0.7 -0.1 0.5 -1.3 -0.4 -0.8 1.4 0.2 1.7 -0.4 2.1 0.2 -0.8 1.5 -0.5 -0.6 -0.1 -0.8 -1 -0.2 0.3 -1 -0.9 0.9 -1.9 -0.2 0.2 -1.1 -1.1 -1.1 -0.9 0.7 -0.3 0.9 -1 0.1 -1.6 -0.6 -1.4 0.1 -1.4 0.2 -1.2 0.3 -0.1 1.2 -1.3 -0.1 -0.8 1 -0.7 -0.8 -0.6 -0.9 -0.4 0.4 -0.7 0.8 0.1 0.9zM248.8 132l0.8 0.4 0.3 0.5 0.9 0.4 0.1 0.5 1.1 -0.3 0.6 -0.3 1.2 0 -0.1 -1.1 -1.2 -0.1 1.7 -0.1 0.8 -0.6 1.1 -0.3 0.9 0.5 0.4 0.9 1.4 -0.4 -0.5 -0.8 0.4 -0.6 -0.4 -0.3 -0.8 -0.3 0.5 -1.3 -1.1 -0.8 -0.8 -0.3 -1.3 -0.5 -1.1 0.9 -1.2 0.6 0.1 0.7 -1.4 0.5 0 0.8 -0.7 0.9 -0.6 -0.4 -0.7 0.2zM280 143.2l0.2 -0.9 0.2 -1.2 0.8 0.2 0.6 -0.7 0.2 -0.8 1 0.2 0.5 0.4 0.9 -0.2 0.8 0.1 0.8 -0.4 0.1 -0.6 0.9 0 0.5 0.2 -1.2 0.1 0.4 1 1 -0.4 1.1 0.9 1 -0.3 0.7 0.3 -0.2 1 0.9 0.4 0.6 -1.3 1.3 0.6 0.5 0.7 1.2 -0.2 0.5 0.7 0.9 0.5 0 0.5 -0.9 0.4 -0.5 0.7 -0.1 0.5 0.8 0.6 -1.3 -0.8 1.3 -1 -0.9 -0.6 -0.7 -0.2 -0.9 0.2 -1.1 0.2 -1.1 0.7 -0.8 1.1 -1.2 -0.2 -1 0.2 -1 -0.6 -2.2 0.5 -0.8 -1 0.4 0.9 -0.4 1.4 -0.3 -0.9 -0.3 -1 -0.8 -0.1 -0.9 -0.2 -0.5 0.5 -1 0.5 -0.1 -1 0.5 -0.5zM349.2 185.2l0 -1 0.2 -1.4 1.2 -0.1 0.9 -0.6 1.1 -0.1 1.5 -0.2 -0.3 -1 0.8 -0.8 0.8 -0.2 0.6 -0.5 -0.2 -1 1 -0.2 0.4 -1.2 -1.7 -0.7 1 0.3 0.6 -0.5 0.7 -0.3 0.7 0.1 0.6 0.9 0 0.9 -0.7 0.8 -0.4 1.1 0.8 0.1 0.5 0.1 0.6 0.1 0.7 0.3 0.5 0.5 0.7 0 0.7 0.2 0.7 0.4 1.2 -0.3 -0.2 1.2 0.3 1.1 -0.8 0.8 0.3 0.7 0.9 0 0.7 0.2 0.2 0.9 -0.4 0.6 -0.6 0.4 -0.9 0.3 -0.1 0.7 -0.7 0.1 -0.7 -0.3 -0.5 -0.3 -0.8 -0.4 -0.6 -0.3 -0.7 0.4 -1 0.2 0.3 -0.4 -0.2 -0.9 -0.5 -0.3 -0.9 0.2 -2.1 -0.4 -1.3 -0.3 -0.6 2.2 -1.2 0.9 -1.2 -1.1 -1.6 -0.1 0 -0.6zM176.8 177.5l2.5 0.9 1.6 0.3 -0.4 -1.3 1 -1.4 1.1 -0.1 0.9 1 1 1 -0.7 0.9 1.4 0.1 0.1 1.1 0.9 -1 1.4 0.7 0.9 0.5 1.3 0.7 -1 0.8 0 1.5 -1.1 -0.3 -0.7 -0.3 -0.8 0.6 -1 -0.2 -0.1 -0.7 -1 -0.6 -0.5 -0.3 -1.1 -0.2 -1 0.6 -0.7 -0.7 -1.2 0.1 -1.3 0.6 -1.3 -1.1 0.4 -0.8 0.1 -0.9 -0.2 -0.9zM285.2 249.8l0.7 -0.4 0.4 -0.5 1 -0.1 0.3 -0.3 0.7 -0.5 0.8 -0.3 0.9 -0.7 1.2 0.3 0.8 -0.2 1.1 -0.2 1.2 -0.3 0.7 -0.1 0.8 0.6 0.9 0.5 0.6 -0.1 0.7 0.3 1 0 1 0.4 1.1 0.6 0.8 0.3 0.7 0 0.9 0.4 0.5 0.3 1 0.4 0.9 0.7 0.8 0.7 1 0.4 1.1 0.5 0.6 0.2 0.9 0.2 0.7 0.5 1 0.6 -1.1 0.4 -0.9 0.4 -1.4 -0.4 -0.9 0 -0.8 -0.5 -0.4 -0.3 -1 -0.1 -0.6 0.7 -0.6 0.2 -0.5 0.4 0.5 -0.4 0.5 -0.4 -0.1 -0.5 -0.2 -0.7 -0.3 -0.6 -0.8 -0.6 -1.1 -0.3 -1.1 -0.5 -1.1 -0.3 -0.9 0.1 -0.8 -0.5 -1.2 -0.1 -1 -0.5 -0.6 0.3 -0.8 -0.5 -0.7 -0.1 -0.6 0 -1 -0.7 -0.8 0.4 -0.6 0.1 -1.2 0.3 -1.1 -0.3 -1 0 -0.8 0.7 -0.7 -0.4zM311.5 258.5l0.7 -0.4 0.4 -1 0.8 -0.7 0.6 -0.4 0.1 -0.6 0.9 -0.6 0.7 -0.3 0.7 0 0.7 -0.1 0.7 0.4 1 0 0.9 -0.4 0.5 -0.1 0.4 0.3 0.8 0.2 1.1 0.4 0.8 0.1 0.6 0.1 0.5 0.3 0.3 0.9 0.6 0.7 0.7 0.1 0.5 0.6 -1 0.3 -0.8 0 -0.9 0.5 -1.2 0.2 -1.1 0.5 -0.8 0.1 -0.7 -0.1 -1 0.4 -0.8 0.3 -1 -0.5 -1 -0.7 -0.8 -0.1 -0.9 -0.1 -0.6 0 -0.9 -0.2 -0.6 -0.1zM301.8 258.5l0.6 -0.2 0.7 -0.2 0.8 0.4 1.1 -0.3 0.7 0 0.6 0.6 0.7 0.7 -0.8 0.2 -0.9 0.2 -0.8 0 -0.7 0.1 -0.6 -0.6 -0.3 -0.7zM329.5 258.2l1.2 0.1 1.1 0.1 0.6 0.2 0.8 -0.1 0 1 -0.8 0.1 -0.7 0.3 -1.1 -0.2 -1.1 -0.2 0.1 -0.6zM304.2 283l0.5 0.7 0.8 0.8 0.8 -0.8 1.1 -0.1 0.4 -0.7 0 -0.7 0.3 -0.5 0.7 -0.9 0.2 -0.7 0 -1.1 -0.2 -1 0.5 -0.7 0.5 -0.2 0.7 -0.3 0.9 0.1 0.9 0 0.7 0 0.9 -0.1 0.6 -0.4 0.5 -0.4 0.7 -0.3 0.5 -0.5 0.7 -0.7 0.6 -0.5 0.9 -0.6 0.8 0.1 -0.5 0.6 -0.2 0.9 -0.3 1.2 0.6 0.8 0.6 -0.3 0.6 -0.9 0.7 -0.5 0.6 -0.6 0.5 -0.1 0.7 -0.4 0.4 0.5 0.5 0.9 0.9 0 0.7 0.2 0.5 0.8 0.7 0.2 0.5 0.3 0.8 0.4 1 0.1 0.6 0.2 0.7 0.4 1 0.1 0.5 -0.2 1.2 -0.1 0.6 0.2 0.7 0.3 0.6 0.8 0.9 -0.2 0.9 -0.1 1 -0.2 0.6 -0.5 0.9 -0.4 0.7 0 0.6 -0.1 0.9 -0.2 0.7 0.1 0.9 0.3 0.8 0.8 0.4 0.5 0.5 0.3 0.4 0.6 0.4 0.6 0 1.1 0.2 0.6 0.3 0.7 0.6 0.1 1 0.1 0.9 0.4 0.8 0.7 0.6 0.7 0.3 0.4 0.8 0.7 0.6 0.7 0.7 0.2 1.1 0.4 0.8 0.4 0.4 0.8 0.9 0.7 1 -0.1 1 -0.1 0.6 -0.6 0.6 0 1 0.5 0.8 0.6 0.8 0.3 0.5 -0.1 0.8 0.3 0.8 0.2 0.9 0.3 0.6 0.3 0.6 0.2 0.8 0.7 1 0.3 0.7 0.2 0.6 0.3 0.9 0.4 0.3 0.9 0.7 0.4 0.2 1.2 0.5 0.5 0 0.6 -0.1 0.7 0.2 0.8 0.5 0.5 0.9 0.6 0.3 0.6 -0.2 1 0 0.6 -0.1 0.6 -0.6 0.7 -0.4 1.1 0.7 0.3 1.1 0.7 1.1 -0.4 0.7 0.5 0.5 0.3 0.9 0.4 0.7 0 1.1 0.4 1 0.7 0.6 0.1 1 0.2 1.1 0 0.8 0 0.6 0.4 0.5 0.7 0.7 -0.2 0.6 -0.3 -0.1 0.7 0.3 0.7 1.1 0.3 0.8 -0.1 0.9 0.3 1.1 0.5 1 0.3 0.6 0 1 -0.1 0.4 0.6 1 0.2 0.8 0.6 0.8 0 1 0.3 0.9 -0.3 1 0 0.7 0.4 0.5 0.2 0.9 -0.1 0.9 0.7 0.7 0.8 0.3 0.7 0.1 0.7 0.5 0.9 0.5 0.4 0.9 -0.2 0.9 0 0.6 0.2 0.7 -0.1 0.6 0.3 0.5 0.6 0.6 0 0.8 0.3 1 -0.1 0.4 0.7 0.3 0.4 0.1 1.2 0.3 1.1 -0.1 1.1 -0.4 0.9 0 1 0 0.6 0.1 0.9 -0.2 0.5 0.3 1.1 -0.8 0.1 -0.5 0.9 0.3 1.2 -0.7 0.2 -0.6 0.2 -1 0.6 -0.5 0.6 -0.1 1.1 -0.1 0.6 -0.5 0.5 -0.8 0.6 -0.5 0.5 -0.4 0.4 -0.8 0.6 -0.8 0.5 -0.6 0.5 -0.4 0.5 -0.7 0.4 0.2 0.7 0.1 0.8 -0.6 1 -0.5 0.8 0 0.8 0.3 0.9 -0.3 0.8 0.2 0.8 0.3 0.4 0.1 0.9 -0.3 1.2 0 0.9 -0.2 0.8 -0.6 0.3 -0.5 0.6 0.2 0.6 0 0.8 -0.7 0.7 0.2 0.7 -0.6 0.7 -0.7 0.9 -0.3 0.8 0.2 0.9 -0.8 1 0.4 0.5 -0.3 0.9 -0.6 0.4 -0.7 0.5 0.3 0.8 -0.3 0.6 -0.4 0.7 -0.7 0.4 -0.6 0.3 -0.8 0.9 -0.8 0.4 -0.7 -0.1 -0.8 -0.5 -0.8 0.1 -0.6 0.3 -0.7 0.6 -0.6 0.1 -0.3 0.8 -1 -0.1 -0.5 0.2 -0.7 0.4 -0.9 -0.2 -0.5 0.4 -0.9 0.2 -0.5 0.6 -1 0 -0.6 0.9 -0.6 0.3 -0.6 0.4 -0.8 0.4 -0.1 0.6 -1 0.2 -0.3 0.5 0.3 0.7 -0.3 0.7 -0.3 0.7 -0.9 0.4 -0.4 0.5 -0.4 0.7 -0.2 1.1 0.3 0.8 0.3 0.6 0.2 0.7 -0.9 0.4 -0.8 0.8 -0.1 0.8 -0.5 0.7 -0.6 0.7 -0.4 0.4 -1 0.6 -0.4 0.6 -0.8 0.6 -0.6 0.7 -0.3 0.9 -0.6 0.8 -0.4 1.1 -0.5 0.7 -0.8 0.9 -0.7 0.4 -0.2 0.7 -0.8 0.7 -0.4 0.7 -0.4 0.5 -0.8 0.6 -0.9 0.2 -1 0.3 -0.2 0.5 -0.5 0.5 -0.7 0.3 -0.5 0.2 -0.7 0.1 -0.8 0 -0.9 0.2 -1.1 0.4 -1 -0.2 -0.2 -0.6 -0.3 -0.6 -0.6 0 -0.9 0.1 -0.7 -0.5 -0.3 -0.4 -1 0 0.3 1 -0.5 0.9 0.5 0.6 0.3 0.8 0.3 0.5 1 0.5 1.1 0.2 0.3 0.7 0.3 1.1 -0.2 0.9 0.1 1 -0.4 1 -0.5 0.4 -0.7 0.4 -0.4 0.2 -0.5 0.6 -0.5 0.2 -0.9 0.2 -0.9 0.1 -0.6 0 -0.8 0 -0.6 0 -0.7 0.5 -0.9 0.1 -0.6 0 -0.9 0.1 -1.1 -0.3 -0.8 0.3 -0.7 0 0.1 0.6 0.7 0.4 -0.5 0.7 -0.7 0.8 -0.2 0.5 -0.1 0.8 -0.8 0.3 -0.8 0.3 -0.9 0.3 -0.5 0.5 -1.2 -0.3 -0.8 0 -0.6 0.2 -1.2 -0.1 -1 0.8 1.3 0.7 -0.5 0.3 -0.6 0.4 0.7 -0.1 1.1 0.1 0.2 1 1 0.7 1 0.6 -0.8 0.3 -1.2 0.2 -0.7 0.5 -0.5 0.3 0.4 1 -1.1 0.4 1.4 0.1 0.4 0.9 -1.2 -0.2 -1.1 0.4 0 0.6 0 1 -0.8 0.9 -0.6 0.5 0.2 0.9 0.8 0.6 -2.5 -0.7 -0.4 1.9 -0.2 -1.1 -1.1 -1 0.4 1 -1.1 0.6 0.3 0.6 0.9 0.3 0.1 0.8 0.7 1 1.1 -0.3 0.9 0.2 0.6 1.1 -1.9 0.3 1.1 -0.1 0.5 0.6 -0.8 0 -0.8 0.7 -0.3 0.9 0.3 0.6 0.2 0.7 -0.8 0.2 -0.6 0.4 -1.5 -0.2 -1 1.1 -0.3 0.6 -0.8 0 -0.5 0.6 -0.7 0.5 -0.2 0.8 0.1 1 1.1 -0.2 0.8 0.5 0.4 0.3 -0.8 0.6 -0.4 1 0.5 0.8 0.1 1 -0.2 1 1.1 0.5 0.9 0.2 0.5 0.3 1.1 1 -0.2 0.8 0.9 -0.2 0.7 -0.2 1.3 0.5 -0.8 0.7 0.9 0.3 1 0.5 0.5 -0.9 -0.8 -0.6 -1 0.2 -0.8 -0.8 -1 0.1 -0.8 0.9 -0.3 0.7 0.2 0.8 -0.8 -0.6 -0.6 -0.4 -1 -0.2 -0.3 -0.9 -0.2 0.8 0.6 0.9 -0.7 0.9 -2 -0.1 -1.1 0 -1 0.5 -1 0.6 -1.1 -0.3 -0.3 -0.7 0.7 -0.8 -1.2 -1 -1.5 -0.4 -1.3 0.6 -1.1 0 -1.5 0.4 0.6 -1.1 0.9 -0.5 -1.2 -0.9 0.1 -1.4 -0.6 -0.7 -0.6 -0.6 -1.7 0.6 -1.1 0 -1 -0.8 -0.6 -0.5 1 -0.9 0.8 -0.8 1 -1.1 -1.2 -0.6 -0.2 -0.9 -0.8 -0.5 -1.1 -0.5 1.1 -0.7 -1.2 -0.7 0.3 -0.9 -0.3 -0.9 -0.3 -0.6 0.4 -0.8 -0.8 -1.1 0.7 -0.7 -0.8 -0.9 -0.5 -0.8 0.1 -0.8 1.4 0 -0.6 -0.4 0.4 -0.8 0.4 -0.5 0.8 -0.7 -0.6 -0.6 -1.2 -0.5 0.2 -0.6 0.7 -0.9 1.2 0.1 0.9 -0.1 -0.7 -0.7 0.5 -1.1 1.4 0.6 1.1 -0.6 0.7 -0.9 -1.1 -0.4 -0.6 -0.7 -0.1 -1 1.4 0.1 0.8 -0.4 0.8 -1 -0.6 -0.4 -0.6 -0.3 -1 0 -0.7 -0.7 0.8 -0.8 -0.2 -0.9 -0.1 -0.7 0.5 -0.6 -0.5 -0.7 0.2 -0.8 0.3 -0.9 -0.2 -1.2 0.3 -0.6 0.4 -0.6 -0.2 -0.9 -0.1 -1 0.2 -1 0.5 -0.4 0.7 -0.3 -0.1 -1.1 0.2 -0.8 0.4 -0.4 0.4 -1.2 -0.1 -0.6 0.3 -0.8 0.4 -0.4 0.7 -0.7 0.5 -1.1 -0.6 -0.9 1.1 -0.5 -0.1 -0.6 0 -0.8 0.6 -0.6 0.5 -0.5 0.6 -0.5 0.2 -0.9 -0.4 -1.3 -1 -0.8 0.4 -0.9 -0.3 -0.7 0.2 -1 -0.4 -0.6 0.3 -0.9 0.4 -0.7 -0.4 -0.9 -0.1 -0.9 -0.2 -0.8 0.1 -0.6 0 -0.8 0.3 -0.9 0 -0.8 0.2 -0.5 0.8 -0.6 0.3 -0.9 -0.3 -0.5 -0.2 -1 0 -1 0.7 -0.5 0.3 -0.8 0.4 -0.3 -0.4 -0.7 -0.4 -0.4 0 -0.9 0.1 -0.8 0.4 -0.9 0 -0.5 0.6 -0.8 -0.2 -1 0 -0.9 -0.1 -0.6 0.7 -0.9 0.1 -0.8 0 -0.8 0.2 -0.7 0 -0.9 -0.3 -0.4 -0.5 -0.7 0.8 -1.1 0.1 -0.9 -0.3 -0.9 -0.2 -0.6 -0.8 -1 -0.3 -0.8 -0.8 -0.6 -0.5 -0.4 -0.6 -0.2 -0.9 -0.4 -0.5 -0.2 -1.1 0.1 -0.8 -0.4 -0.3 -0.5 -0.6 -0.6 -0.8 -0.6 -0.6 -0.2 -0.7 -0.2 -0.6 -0.7 -1.2 -0.5 -0.5 -0.3 -0.6 -0.5 -0.8 -0.8 -0.3 -0.4 -0.8 -0.4 0 -0.9 -0.3 -1 -0.7 -0.6 -0.5 -0.5 0 -0.7 -0.1 -0.7 -0.7 -0.8 -0.7 -0.7 -0.2 -0.8 -0.4 -0.8 -0.6 -0.6 -0.2 -0.6 -0.4 -1.1 -0.3 -1.1 -0.6 -0.8 -0.4 -1 -0.1 -0.8 -0.1 -0.8 -0.4 -0.8 -0.6 -0.6 -0.4 -0.3 -0.3 -0.6 -0.4 -0.5 -0.6 -0.8 -0.2 -0.7 -0.5 -0.6 -0.5 -0.9 -0.8 -0.8 -1 -0.6 -0.7 -0.2 -0.2 -0.9 0.3 -1 -0.4 -1 -0.5 -0.8 0.8 -0.8 0.3 -1.2 0.9 -0.4 0.6 -0.4 0.1 -1.2 0.6 -1 -1 -0.2 -0.8 -0.3 -0.7 -0.3 0.3 -1.1 0.1 -1.2 0.1 -0.7 0.5 -0.4 0.4 -0.7 0.5 -0.6 0.3 -0.8 0.1 -1 0.2 -1 0.7 -0.8 0.4 -0.5 0.8 -0.2 0.6 -0.2 0.3 -0.4 0.6 -0.6 0.1 -0.8 0.2 -0.8 0.3 -0.6 0.7 -0.4 1 -0.5 0.6 -0.9 0.2 -0.7 0 -0.8 0.2 -1.2 0 -1.1 -0.4 -0.5 -0.4 -0.6 -0.3 -1.2 0.2 -0.7 0.5 -0.8 -0.3 -0.7 -0.2 -0.4 -0.5 -0.6 0.5 -0.8 0.5 -0.7 0.1 -0.6 0.2 -0.8zM482.8 215l0.7 0.1 0.7 -0.3 0.6 0.4 0.7 0.2 0.6 0.6 1.2 -0.2 1 0.3 0.7 0.4 1 -0.3 1.1 -0.1 0.8 -0.9 0.6 0.1 0.6 0.3 0.9 -0.1 1 -0.3 0.9 0.2 0.8 -0.3 0.7 0 0.6 -0.5 0.9 -0.2 0.4 -0.9 0.7 -0.3 0.7 0.5 0.6 0.2 0.8 -0.6 1.3 0.7 0.2 -0.9 0.7 -0.6 0.7 -0.3 1.2 0.3 0.9 -0.3 0.9 -0.5 1 0.4 1 0.4 1.1 -0.3 0.6 -0.2 0.8 -0.2 0.5 0 0.7 -0.3 0.4 0.3 0.9 0.2 0.9 0 0.8 0.2 0.6 0 0.8 -0.3 0.6 -0.3 0.7 -0.1 0.6 -0.3 1.1 0.3 0.7 -0.4 1.2 0.1 0.7 -0.3 0.8 0.3 0.5 0.8 -0.1 1.1 -0.9 0.4 -0.2 1 -0.1 1.1 0.2 0.8 0.6 0.6 -0.6 1.1 -0.4 0.5 -0.5 0.9 1 0.3 0.4 0.4 0.6 0.6 1 0.5 0.7 0.2 1.1 0.1 1 0.6 0.9 -0.3 0.9 0.1 0.9 -0.1 0.6 0.7 1 0.3 1 0.6 0.9 0.3 0.7 0.3 0.5 0.5 0.6 0.3 1 1 0.8 0.6 0.8 0 0.6 0.5 0.6 0.6 1.2 0.3 1 0.6 0.8 -0.2 0.5 0.1 0.9 0.4 0.1 -0.6 0.8 -0.5 1 -0.4 0.6 -0.3 -0.2 -0.7 0.2 -0.8 0.5 -0.8 0.3 -0.6 -0.8 -0.9 0.9 -0.2 0.5 0.3 0.7 -0.1 0.9 -0.2 1.2 -0.1 0.8 -0.7 0.8 0.7 0.3 0.5 0.3 0.6 1.2 -0.1 1.1 0.1 1.1 0.3 0.3 0.5 0.6 0.1 0.6 0.1 1.2 0.2 0.4 -0.5 0.8 -0.1 1.1 0.7 0.9 0.7 0.9 0 0.9 0.2 0.6 0.5 0.6 0.2 0.8 0 0.5 0.1 1 -0.2 0.6 0.3 0.9 0.1 0.8 0 0.7 0 0.6 -0.9 0.9 -0.1 0.9 -0.3 1.1 -0.1 0.8 0 0.5 0 0.8 0.5 1.1 -0.1 0.3 1 0.2 1 0 0.5 0.1 0.8 0.3 0.8 -0.3 1 0.5 0.4 0.2 0.8 0.7 1 0.6 0.4 0.4 0.6 0.7 1 0.1 0.9 0.6 1 0.4 0.9 0.3 0.4 0.5 0.8 0.3 0.9 0.4 0.5 0.9 0.2 0 1.3 0.7 0.8 0.2 0.7 -0.1 0.6 0 0.9 0.6 0.9 0.1 0.5 0.4 0.8 0.9 0.1 0.2 0.8 0.5 0.3 0.6 0.7 0.5 0.7 0.7 0.9 -0.5 1 0.3 1.1 0 1.1 -0.1 1.2 0.4 0.9 0.4 1.1 0.9 0.3 0.7 0.7 0.5 0.5 0.5 0.5 -0.1 0.6 0 0.9 0.4 0.9 -0.2 0.8 0.3 1 0.7 1 1.3 1.1 1.1 0.1 1 0.5 0.2 0.6 0.7 0.7 0.8 0.5 0.5 0.6 0.3 0.5 0.4 0.9 0.7 1.1 0.6 0.3 1.3 0.4 0.8 0.3 0.4 0.9 0.8 0 -0.4 1.1 0.2 0.9 -0.1 0.6 0.4 0.6 0.3 0.4 0.4 0.7 0.6 0.6 0.6 0 1 0.1 0.6 0.3 0.7 0.3 0.8 -0.2 0.8 -0.3 1.2 -0.3 0.9 -0.5 1 -0.3 1 -0.6 1.1 -0.1 0.5 -0.2 1.7 0 0.9 -0.1 0.9 -0.3 0.8 -0.3 0.5 -0.1 0.8 0.2 1.3 -0.3 1.2 -0.4 -0.2 0.6 0 1 -0.1 0.7 -0.2 1.2 0.1 0.5 -0.3 0.8 -0.9 0.7 -0.3 0.5 0.2 1 0.3 1 -0.6 0.6 0 1 -0.7 0.4 -0.2 0.5 -1 0.7 -0.4 0.8 -0.2 0.7 -0.6 0.9 -0.8 0.7 0 0.8 -0.1 0.8 -0.3 0.7 -0.4 0.4 -0.5 1.1 -0.7 0.7 -0.2 0.8 -0.5 0.5 -0.6 0.2 -0.4 0.5 -0.4 0.6 -0.5 0.6 -0.7 0.9 -0.9 0.7 -0.4 0.5 -0.8 0.3 -1 0.1 -0.5 0.1 -0.8 0.3 -1 0.7 -0.4 0.7 -0.4 0.6 -0.3 0.5 -0.5 0.8 -1.1 0.8 -0.4 0.5 -0.8 0.5 -0.7 0.4 -0.8 0.1 -0.7 0.8 -0.3 0.7 -0.7 0.9 -0.9 0.7 -0.5 0.4 -0.4 0.5 -0.1 1.1 -0.6 0.4 -0.8 0.8 -0.6 0.2 -0.4 0.8 0 0.5 -0.5 0.9 0 0.9 -0.1 0.7 -0.7 0.4 -0.2 1.3 -0.4 0.5 -0.5 0.7 -0.3 1.1 -0.3 1 -0.1 0.8 0.6 0.9 0.9 0.5 0.2 0.5 0.1 1 0 0.8 -0.2 1.1 -0.1 0.8 -0.3 0.8 0.1 0.8 0.5 0.7 1.2 0.2 0.8 0.8 0.5 0.7 0.1 0.8 0.6 0.6 0.5 0.3 -0.1 0.6 0.1 0.9 0 0.9 -0.6 0.6 -0.2 0.4 -0.3 0.7 0.5 0.8 0.5 0.9 -0.1 1.2 0 0.9 -0.3 0.7 -0.2 0.5 -0.3 0.6 -0.4 0.4 -0.7 1 -0.6 0.6 -0.3 0.5 -0.7 0.7 -0.3 0.8 -0.5 0.4 -1.1 0.1 -0.7 0.3 -0.6 0.5 -0.5 0.6 -1.3 0.3 -0.7 0.6 -0.7 0.3 -1 0.5 -0.5 0.3 -0.5 0.6 -0.3 0.9 -0.4 0.9 -0.7 0.6 -0.7 0.8 -0.7 0.2 0 1.1 -0.2 0.7 0.7 0.7 0.3 1.2 0 0.5 0 0.8 0.5 0.8 0.4 0.9 -1 0.7 0 1.3 0 0.8 0.5 0.5 -0.3 0.7 -0.3 0.5 -1.1 0.5 -0.8 0.1 -0.7 0.2 -1 0.6 -0.8 0.6 -1.2 0.5 -0.3 0.8 -0.3 0.6 -0.1 1 0.1 0.7 0.1 0.7 0.4 0.4 0.4 0.7 -0.3 1 -0.3 0.4 -0.7 0.5 -0.4 0.9 0.2 0.6 -1 0.7 -0.7 0.5 -0.3 0.6 -0.9 0.7 -0.9 0.5 -1.1 0.3 -0.8 0.5 -0.2 0.7 -0.7 0.6 0.3 1.2 -0.6 0.3 -0.7 0.2 -0.6 0.7 -0.5 0.3 -0.1 0.8 -0.3 0.4 -0.9 0.7 -0.2 0.7 -0.2 0.7 -0.7 0.3 -0.6 -0.3 -0.7 0.4 -0.6 0.4 -0.8 0.4 -0.8 -0.1 -0.7 0.5 -0.6 -0.1 -0.8 0 -0.9 0.4 -0.8 0 -1 0.1 -1.2 0.4 -0.7 -0.2 -1 -0.1 -0.9 0 -0.6 -0.2 -0.9 0.4 -0.6 0.9 -0.9 0.1 -1.2 -0.2 -1.2 0.5 -1.5 0.1 -1.2 0.2 -0.8 -0.4 -0.6 -0.3 -0.7 -0.1 -0.9 -0.5 -0.7 0 -0.3 -1 0 -0.7 -0.3 -0.4 -0.2 -0.7 0 -0.9 0 -0.6 0.4 -0.7 -0.5 -0.9 -0.4 -1.1 -0.8 -0.8 -0.6 -0.4 0.2 -0.6 -0.7 -0.7 -0.3 -0.8 -0.1 -0.7 -0.2 -1 -0.6 -0.6 -0.2 -0.9 -0.6 -0.5 -0.4 -0.4 -0.2 -0.9 -0.3 -0.8 -0.4 -0.9 -1 -0.5 -0.8 -0.7 0 -0.7 0.2 -0.7 0 -0.6 -0.2 -1 -0.5 -0.4 -0.5 -0.6 0 -1 -0.4 -0.7 0 -1.3 0.4 -0.6 0 -0.7 -0.5 -0.7 -0.2 -1 0.3 -1 -0.8 -0.9 -0.8 -0.2 -0.6 -0.4 0 -0.9 -0.2 -0.9 -0.5 -0.7 -0.2 -0.6 -0.5 -0.7 -0.7 -0.8 -0.5 -0.5 0 -1 -0.5 -0.6 0 -0.8 -0.2 -0.8 0 -0.8 -1 -0.7 -0.3 -0.8 -0.3 -0.7 0.2 -0.7 -0.6 -0.6 0 -0.6 0.1 -0.8 0.2 -0.9 0.2 -0.5 0.4 -0.9 1.6 -0.4 1.2 -1.3 0.5 -0.6 0.6 -0.8 0 -0.8 0.7 -0.8 -0.2 -1.8 -0.7 -0.9 -0.2 -1 0.1 -1 0.2 -0.9 0.7 -0.9 -0.4 -1.1 0 -0.7 -0.2 -0.9 -0.4 -0.6 -0.5 -0.5 -0.6 -0.8 0.2 -0.8 -0.9 -1 -0.6 -1.1 -0.3 -0.9 -0.3 -1.4 -0.2 -1.3 0.4 -1.1 -0.1 -0.7 -0.3 -0.5 -0.1 -0.9 -0.2 -0.7 -1 -0.6 -0.7 -0.5 -0.2 -0.8 -0.6 -1.1 -0.3 -0.5 -0.4 -0.7 -0.8 -0.6 -1.1 -0.5 -0.7 -0.2 -0.5 -0.7 -0.2 -0.5 -0.6 -0.8 -0.2 -0.8 -0.1 -0.5 -0.5 -0.5 -0.1 -0.7 0 -0.9 0.4 -0.6 0.5 -0.6 0.4 -0.8 0.4 -0.9 0.4 -1 0.1 -0.6 0 -1.1 0.1 -1 -0.2 -0.9 -0.1 -0.6 -0.1 -0.7 0.3 -0.8 0.3 -0.7 0 -1 -0.8 -0.5 -0.9 -0.6 -0.5 -0.5 -1 0 -0.6 0 -0.6 0 -0.6 -0.2 -1.2 0.4 -0.8 0.1 -0.8 -0.2 -0.6 -0.1 -0.7 -0.6 -0.7 -0.5 -1 -0.6 -0.4 -0.7 -1 -0.8 -0.4 -0.5 -0.6 -0.5 -1 -0.3 -0.7 -0.3 -0.8 0.2 -1.1 -0.1 -1 0.1 -0.4 0.2 -0.8 0 -0.5 0.2 -0.7 0.1 -0.9 0.2 -0.9 0.2 -0.9 0.5 -1.1 0.5 -0.9 0.3 -0.4 0.3 -0.6 0.4 -1.1 0 -1.2 0.2 -1 0.4 -1 0 -0.6 -0.1 -1 0.5 -0.8 -0.3 -0.7 0.3 -0.5 -0.3 -0.7 -0.7 -0.6 0.3 -1 0.4 -0.6 0.1 -0.8 0 -1 0.1 -1 0.1 -0.6 0.4 -0.9 -0.1 -1.1 0.2 -0.6 0.3 -0.5 0.2 -0.9 -0.7 -0.5 -0.7 -0.6 -0.5 -1.1 0 -0.7 -0.1 -0.8 -0.8 -1.1 -0.5 -0.2 -0.7 -0.5 -0.5 -0.7 -0.3 -0.5 -0.4 -0.7 -0.3 -0.6 -0.7 -0.5 -0.8 -0.8 -0.4 -0.5 -0.5 -0.6 -0.4 -0.4 -0.8 -0.5 -0.7 -0.9 -0.4 -0.5 -0.5 -0.7 -0.3 -0.4 -0.5 -0.4 -0.7 -0.4 -0.9 -0.3 -0.4 -0.7 -0.9 -0.5 -1 -0.5 -0.4 -0.6 -0.4 -0.7 -0.3 -0.4 -0.8 -0.6 -0.4 -0.4 -0.5 -0.6 -0.5 -0.4 -0.6 -0.8 -0.2 -1 -0.5 -0.4 -0.5 0 -0.8 0 -0.8 0.1 -0.6 -0.3 -0.8 -0.1 -0.7 -0.6 -1.1 -0.7 -0.4 0.6 -0.9 0.4 -0.6 0.6 -1 0.8 -0.8 0.3 -1.1 0.2 -1.2 -0.1 -0.7 0.4 -1 -0.2 -1 0.4 -0.8 0.2 -0.8 0 -0.5 -0.4 -0.9 0 -0.7 -0.7 -1 -0.4 -1 -0.6 -1 -0.3 -0.8 -0.1 -1 0.8 -0.9 0.1 -0.8 0.4 -1.1 0.3 -1.1 0.6 -0.5 0.3 -0.9 0.1 -0.7 0.6 -0.8 0.2 -0.7 0.5 -0.5 0.5 -0.3 0.7 -0.7 0.1 -0.5 0.3 -0.7 0.5 -1 0.3 -0.8 0.7 -0.7 0.7 -0.8 0.3 -0.4 1 -0.7 0.4 -0.4 0.2 -0.8 0.5 -0.8 1 -0.3 0.5 -0.4 0.8 -0.3 0.6 -0.1 0.9 -0.1 1 -0.5 0.9 -0.2 0.6 -1.1 0.6 -0.2 0.6 -0.4 0.5 -0.6 0.5 -0.9 -0.3 -1.1 0.3 -1.1 -0.3 -0.5 -0.2 -0.8 0.4 -0.6 0.5 -0.9 0.8 -0.5 0.5 -0.6 0.3 -1.2 0.5 -0.4 0.7 -0.2 1 -0.6 0.6 -0.4 0.7 -0.2 1 -0.7 0.8 -0.2 0.2 -0.9 0.8 -0.5 0.6 -0.3 0.1 -1.1 0.1 -0.6zM620.8 334.8l0.1 1 1.1 1.2 0.6 1.1 0.6 1.5 -0.2 0.6 -0.4 0.7 -0.1 1 0.7 0.9 0.3 0.9 -0.2 1 -0.1 0.6 -0.4 0.9 -0.6 0.3 -0.6 0.5 0 0.6 -0.4 0.6 -0.9 0.9 -0.6 1.4 0 0.7 -0.5 0.8 0.3 1.2 -0.1 0.5 0.1 0.8 0 1.4 0 0.8 0.2 1.5 -0.8 0.7 -0.6 0.7 -0.3 1.3 -0.5 0.5 -0.5 0.6 0.6 0.9 -0.5 1 0 1.1 -1.3 0.3 -0.4 0.7 -0.4 1 -0.6 0.3 -0.7 0.1 -0.8 0 -0.4 0.2 -0.9 0.3 -1.1 0.3 -0.8 -0.2 -0.5 -0.4 -0.8 -0.3 -0.9 -0.8 -0.6 -0.6 -0.8 -0.7 -0.2 -1.3 -0.4 -0.7 0.5 -0.5 0.2 -0.7 0.2 -0.6 -0.6 -0.6 0.7 -0.9 1 -1 0.3 -0.9 0.5 -1 0.1 -0.5 0 -0.8 -0.2 -1.2 0.6 -1.1 -0.3 -0.5 0 -1 0.2 -0.9 0.2 -0.7 -0.8 -1 -0.6 -1.1 0.8 -0.9 0.3 -0.9 0.6 -0.7 0.3 -0.7 1 -0.6 0.8 0.1 0.7 -0.2 0.7 -0.3 1.1 -0.2 0.7 -0.6 0.6 -0.5 0.3 -1.1 0.5 -0.6 0.9 -0.8 0.6 -0.5 0.1 -0.7 0.4 -0.5 0.3 -0.7 0.7 -0.5 0.2 -0.5 0.6 -0.6 0.6 -0.6zM475 212l0.7 -0.9 0 -0.6 -0.6 -0.9 -0.6 -0.7 -0.5 -1.1 0.6 -0.3 0.6 -0.8 -0.1 -1 -0.1 -0.7 0.1 -0.9 0.4 -0.9 -0.4 -0.9 0.8 -0.6 -0.6 -0.9 -0.2 -0.5 0.4 -0.8 -0.3 -0.6 -0.9 -0.1 0.7 -1.1 -0.5 -0.7 0.4 -0.3 0.7 -0.3 0.9 -0.3 0.6 -0.5 0.4 -0.4 0.8 0.2 0.6 -0.1 0.9 -0.1 0.8 0 0.7 -0.1 0.6 0.1 0.6 0.3 0.8 0.2 1.3 0 0.6 0.4 0.4 0.4 0.8 -0.3 0.5 -0.1 0.9 -0.2 1 -0.1 0.8 -0.1 1.2 0.3 1 -0.1 0.4 0.3 0.8 -0.2 0.2 -0.9 0.5 -0.9 0.8 -1 0.4 -0.6 0.2 -1 -0.4 -1.1 -0.2 -1 -0.5 -0.6 -0.5 -0.7 -0.8 -0.3 -0.7 -0.9 -1.4 -0.3 -0.8 -0.4 -1 -0.1 -0.6 -0.2 -0.9 -0.8 -1.1 -0.4 -0.3 -0.8 -0.1 -0.8 0.9 0.1 0.7 -0.3 1.1 0.1 0.7 -0.2 0.8 -0.4 0.9 0 0.7 0.2 0.6 -0.1 0.7 0 0.6 0.2 0 -1 -0.6 -0.6 0.1 -1 0.6 0.4 0.9 0.4 0.8 -0.1 0.7 -0.2 1.1 -0.1 0.9 0.2 0.8 -0.6 1 -0.4 1.1 0 0.3 -0.6 0.4 -0.9 0.2 -1.1 0.6 -0.1 0.7 -0.1 0.7 -0.1 1.1 0 0.4 -0.5 0.9 -0.4 0.6 -0.5 0.7 -0.1 0.7 -0.2 0 -0.7 0.6 -0.7 0.8 -0.7 -0.1 -1.1 0.4 -0.6 0.2 -0.5 0.8 0.1 0.6 -0.1 1 -0.1 0.8 -0.2 0.5 0.1 1.1 -0.2 0.6 -0.3 0.6 0.6 0.8 -0.1 0.6 -0.2 1.3 -0.3 0.5 -0.8 0.2 -0.6 -0.6 -0.9 0.5 -0.6 -0.6 -0.8 -0.1 -0.8 -0.6 -0.5 -0.6 -0.2 0.4 -1.1 0.1 -0.7 0 -0.9 0.2 -0.5 0.6 0.1 0.8 0.1 1.1 -0.3 0.6 -0.1 0.5 -0.5 0.7 -0.6 0.6 0.2 0.7 -0.5 -0.5 0.9 0.4 1.1 -0.5 1 0.8 0.7 0.5 0.6 -0.6 0.8 -0.5 0.5 -0.9 0.1 -0.5 0.3 -0.4 0.7 0.9 0.9 0.8 0.1 0.5 0.9 0.6 0.2 0.6 0.5 0.9 -0.3 0.3 -0.5 0.8 -0.2 1 0.3 0.8 -0.3 0.7 0.1 0.9 0 0.5 -0.2 0.8 0.4 0.8 0.7 0.7 -0.5 0.9 0 0.7 -0.1 0.7 -0.1 0.8 0 1.2 0 0.6 -0.1 1 0.1 0.8 -0.2 0.7 -0.3 1 -0.3 0.9 -0.5 0.8 -0.4 0.4 0.4 0.8 -0.1 1 0.2 0.7 0.9 0.3 -0.7 1 -0.6 0.3 -0.4 0.7 -0.3 0.8 0 0.7 -0.7 -0.4 -0.9 0.5 -0.7 0.3 -1.1 -0.4 -1.1 0.3 -0.5 1 -0.2 0.5 -0.8 0.6 0.1 0.7 0.1 0.7 -0.5 0.8 0.5 0.7 0.6 0.9 0.7 1.1 -0.5 0.9 -0.7 0.3 -0.7 -1 -0.3 0 -0.5 0.7 -0.5 -0.9 -0.8 -0.9 -0.6 -0.2 -0.9 -0.1 -0.8 0.8 -0.6 1.2 -0.3 0.1 -0.7 0.1 1.1 1.6 -0.3 0.4 0.5 0.9 0.1 0.3 -0.7 1.4 -0.3 1.1 0.2 -0.1 1.2 0.9 0.1 0.9 0 1.1 -0.1 0.7 -0.4 0.9 0.1 1.1 -0.3 0.9 -0.7 1.1 -0.2 1 0.1 -0.5 -0.3 -1 -0.2 -0.5 0 -0.8 0.3 0.4 -0.7 -0.7 0.1 -0.6 -0.5 1.4 0.9 -1.1 1 -1.4 -0.7 -1.8 1.2 -0.8 -0.6 -1.1 -0.4 -0.2 -1.1 -0.8 1 -1.1 0.5 -0.7 -0.5 -0.4 -1.1 -1.5 0.2 -0.4 0.6 -1.4 0.3 -1 0.1 -0.5 0.5 -0.5 -0.2 -0.6 -0.3 -1.1 -0.1 -1 0.3 -0.7 0.1 -0.1 -1.1 -0.8 0.5 -0.8 -0.8 0.4 -1 -0.1 -1.1 0.9 -0.3 0.4 -0.8 -0.8 -0.8 1.3 -0.5 -1 -0.8 -0.8 -0.5 -1.4 0.4 0.4 -1 1.1 -0.1 1 0.6 0.6 -0.2 0.8 -0.7 0.6 -0.7 0.7 -1 0.8 -0.5 0.9 -0.1 0.7 -0.3 -0.3 -0.7 0.1 -0.9 1 -0.3 1.1 0.6 0 -1.3 1.2 0.1 0.8 -0.8 -1.3 -0.2 -0.6 -0.6 -0.8 -0.3 -0.6 0.3 -0.7 0.3 -0.8 -0.4 -0.8 0 -0.9 0 -0.5 0.1 -0.8 0.2 -0.9 0 -1.3 -0.4 -0.8 0.1 -0.5 0.6 -0.5 1.2 1.6 -0.2 0.2 1.3 0.2 0.8 -1.2 0 -0.3 0.6 -0.7 0.8 -0.7 0.7 -0.4 0.5 -0.7 0.9 -1.2 0.1 -0.5 0.4 -0.8 -0.5 -0.7 -0.1 0.1 1.2 -0.5 0.7 -0.2 0.7 -0.4 0.5 -0.9 -0.4 -0.7 -0.2 -0.5 0.7 -0.1 0.6 1.2 0.4 0 0.7 -0.7 0.5 -0.6 0.1 0.5 0.3 0.7 0.4 1 -0.8 1 0.3 1 0.7 -0.7 0.6 -0.2 0.5 0.6 0.7 -0.6 1 0.2 0.9 0.6 0.9 -1 0.5 -1.2 -0.2 -0.5 0.8 -1.2 -0.3 -0.7 -1 -0.5 0.7 -0.9 0.3 0.6 1 -0.4 1 0.3 0.5 0.4 0.6 -0.8 0.8 -1 0.2 -0.2 0.9 -0.7 -0.1 -0.7 0.5 -1 -0.1 -1 -0.1 -0.3 0.5 -0.8 0.7 0 0.8 -0.9 -0.4 -1 -0.3 -0.3 0.5 -0.8 0.2 -0.7 -0.8 0 -0.7 -0.2 -0.6 0.4 -0.7 -1 -0.4 0 -0.7 0.1 -0.8 0 -0.9 -0.5 -0.5 -1.1 0.1 0 -1 -0.3 -0.5 -1 -0.1 0 -0.9 -0.2 -0.5 -0.8 -0.7 -0.9 -0.5 -0.7 0.1 -0.6 0.5 -0.3 0.6 -1 0.2 -0.8 -0.2 -1.5 0.2 -0.6 0.1 -0.9 -0.4 1.1 0.3 0.7 0.7 -0.5 0.6 -1.2 0.7 -0.9 0.8 -1 -0.4 -1.1 -0.1 -0.4 -0.8 -1.7 -0.4 0.8 -0.8 0.9 -0.6 -1.3 -0.1 -1.4 0 -0.2 0.7 1.2 0.2 0 -0.9 -0.6 -0.2 -0.5 -0.5 -1.1 -0.5 -0.2 -1.1 0.8 -0.9 1.1 -0.4 1.3 -0.4 -0.4 -0.5 -0.4 -0.8 -1.6 -0.1 -0.8 -0.6 0.7 -0.4 0.2 -0.7 0.3 -0.9 1.1 -0.1 0.8 -0.5 0.2 -0.8 0.6 -0.3 1.1 -0.1 0.8 -0.6 0.3 -0.6 0.6 -0.6 1 0.3 1.1 0 0.4 -0.2 0.9 0 0.8 0.1 0.8 -0.1 0.6 -0.8 0.2 -0.5 -0.5 -1.2 0.8 -0.3 0.5 -0.6 0.8 0.5 0.2 0.5 1.9 0.4 0 -1.3 1 -0.6 0.5 -0.8 0.7 -0.4 0.4 -0.7 1.2 -0.3 -0.8 -1 -1.7 -0.2 0.6 -1 0.4 1.6 1.9 -0.6 0.7 -0.9 0.1 -0.6 1.3 -0.5 0.9 0.5 0 -0.5 0.4 -0.8 1 -0.3 0.2 -0.9 0.9 -0.4 0.7 -0.2 1.2 -0.3 0.2 -0.9 0.8 -0.2 1.7 -0.2 -0.2 -0.9 -0.3 -0.8 0.9 -0.4 0.7 0.1 0.9 -0.1 0.4 0.7 0.9 -0.4 1.1 -0.4 0.9 -0.1 0.7 -0.2 0.7 0.6 0.4 1.2 1.8 -0.4 0.7 -1 -0.1 -0.7 0.7 0.2 1.1 -0.2 1.1 0.1 1.2 -0.7 0.9 -0.8 0.6 -0.1 0.6 0 1.8 -0.1 0.1 1 0.6 -0.7 0.8 0.3 1 -0.2 0.8 -0.1 0.7 -0.9 -0.1 0.9 0.4 0.4 1.3 0.4 1.5 -0.1 1.5 0.2 1.2 0.1 -0.3 -0.8 0 -0.9 1.8 0.7 0.5 1.1 -0.7 0.8 1.2 1 1.8 0.2 0.3 -1.7 0.9 -0.2 0.5 -0.7 0.6 0.3 0.9 -0.2 0.5 0.7 -0.7 0.4 -0.1 0.6 0.4 -0.3 0.7 -0.4 1.1 0.1 0.4 0.5 0.3 1.1 1.1 -0.8 1 0.8 1.3 1 1.5 0.2 1 -0.1 0.9 0.3 0.8 -0.2 1.1 -0.2 0.9 -0.5 1.1 -0.5 1.4 -0.5 0.3 0.5 1.1 0.5 0.2 1 1.3 0 0.9 0.7 0.9 0.4 0.7 -0.4 1 -0.1 0.7 0.8 0.7 0.3 1 0.8 0 1.1 0.3 0.7 0.8 0.2 0.6 0.5 -0.6 0.5 -0.4 0.4 -1.1 -0.1 -0.9 0.7 -0.6 0.2 -0.7 0.2 -0.9 -0.3 -0.5 0.2 -0.6 0.2 -0.8 0 -0.9 -0.3 -0.6 -0.2 -1.1 -0.3 -1.2 0.1 -1.8 -0.6 -0.9 0.2 -0.4 0.2 -0.6 0 -0.9 -0.4 -0.5 -0.7 -0.7 -0.1 -0.9 -0.1 -0.9 -0.1 -1 0.2 -1 0.4 0.7 0 0.7 0.1 -0.2 1.2 0.7 -0.2 0.7 0 0.4 0.8 0.8 0.3 0 1 0.3 0.8 0.2 0.9 0.2 0.5 0.9 0.4 0.6 0.3 0.5 0.6 1 0.5 0.7 -0.2 0.6 -0.3 0.4 -0.6 0.4 -0.3 0.7 -0.4 0.7 0.2 1 -0.2 0.5 -0.7 0.8 -0.2 1.1 0.3 1.2 0.1 1.3 -0.1 0.6 0.4 0.9 -0.8 -0.2 -0.8 0.6 -0.6 0.7 -0.3 0.6 -0.8 1 -0.2 0.4 -0.4 1 -0.6 1 0 0.8 0.2 0.8 0 0.7 0.3 0.7 -0.1 1 0.1 -0.2 -1 0.4 -0.5 0.6 -0.9 -0.3 -0.8 0.4 -0.8 -0.5 -0.2 -0.5 -0.6 -0.4 -1 0.9 0.1 0.7 0.1 0.7 -0.2 0.7 0.7 1.2 0.2 0.7 0.1 0.6 0.3 0.6 0.7 -0.3 0.8 0.9 0.4 0.1 0.6 0.7 -0.3 0.5 0 1.2 -0.3 0.7 -0.5 0.6 -0.4 1.2 -0.3 0.6 0.1 1 0 0.8 -0.2 0.7 -0.2 0.7 -0.4 1.1 -0.6 0.9 -0.2 1.3 -0.1 1.2 -0.1 1.1 -0.1 0.7 -0.7 1.2 0.1 1 -0.3 0.7 0.2 1 0 0.1 0.5 1 0.6 0.1 -0.8 0.3 -0.5 1 -0.2 0.9 -0.5 0.5 0.5 1.4 0.4 0.9 0.6 1.1 -0.3 0.9 -0.2 0.7 -0.2 1.3 0 1 -0.6 1 -0.4 0.6 0.5 0.7 -0.1 0.7 0.4 1.2 0.1 -0.3 -1.1 0.6 -0.6 0.7 0.8 0.9 -0.4 0 -1 1.2 0.5 -0.8 1.1 0.3 1.2 1 1.1 1.2 -0.8 1.2 -1 1.3 -1.5 2.1 0.7 0.5 -0.5 0.5 -0.5 0.7 0.1 0.6 0.4 0.7 0.1 0.6 0.4 1 -0.1 0.4 0.6 0.9 0.2 0.7 0.2 0.6 0.3 0.4 0.5 0.8 0.3 0.8 0.2 0.8 0.1 0.9 0 0.6 -0.2 0.6 -0.7 0.4 -0.4 -1.2 -0.1 -0.8 -0.4 -1 -0.3 -0.6 -0.1 -0.8 -0.4 -0.6 -1 0 -1.1 0.2 -0.4 0.3 -0.7 -0.1 -0.9 -0.9 -0.1 1 0.2 1 -0.6 1.3 0.1 0.8 0.2 0.2 -0.9 -1 -0.4 1.4 -1.3 -0.4 -1.1 0.5 -0.9 0.8 -0.6 0.8 -0.1 0.6 -0.2 1 0.1 0.7 0.2 1 0.6 0.9 -0.4 1 0.5 0.7 0.1 0.6 0.4 0.7 -0.3 0.7 0.2 0.7 0.4 0.3 0.4 0.3 0.8 -0.3 1.6 -1.8 -0.2 -0.2 1 1.4 0.2 -1.1 0.9 1.7 0.5 -1.1 0 -0.2 0.7 0.2 1.1 -0.4 0.2 -0.8 0.4 -0.9 0.6 -1 0.6 0.5 0.2 0.7 0.5 0.7 0.5 1.1 0.4 1.1 0.1 0.7 -0.3 0.8 -0.2 0.2 -0.8 0 -1.1 1.2 -0.2 0.8 -0.9 -0.9 -0.7 1.2 -0.1 0.7 -0.3 -0.6 -0.4 0.1 -1 0.3 -1.2 1.3 0 -0.4 -1 -1.3 -1 1 -0.3 1 -0.1 0.6 0.4 0.9 -0.5 0.8 0 1.2 0.7 0.7 -0.7 0.3 0.5 1.1 -0.1 -0.1 0.5 -0.6 0.7 0.8 0.6 1 -0.4 0.8 -0.4 0.9 0.2 -1 -1.2 1.9 -0.3 1 0.1 0.8 -0.2 0.6 -0.2 0.7 -0.7 0.4 -1.1 0.2 -0.5 0 -0.7 0.5 0.5 1.1 0.5 1.2 0.1 1.2 -0.3 1.1 -0.7 0.4 -1.2 1.2 -0.8 2 0.6 1.2 -0.1 0.4 0.4 0.4 0.5 0.8 0.2 0.5 -0.7 1.4 -0.2 1 -0.3 0.6 -0.3 1 -0.2 0.7 -0.3 -0.8 -0.8 0.3 -0.7 0.8 -0.5 0.8 -0.2 1.4 -0.9 1.7 1 1.1 0.1 0.5 -0.8 1.2 -0.2 2.3 -0.2 2.6 -0.8 -0.5 1.2 0.5 1.8 3.6 -0.4 1.6 -0.9 1.8 -0.5 0.6 -1.2 3 1.3 -0.8 2.6 2.1 -0.8 2.5 0.6 -0.1 -2.2 2 -1.2 1.8 -0.3 2 -1.3 1.8 0.5 2.9 0.5 0.7 -1.2 0.2 -2.1 1.3 0.5 1.7 0.8 1.6 -1 -0.2 -1 1 0.3 1.2 0.6 0.5 0.3 0.8 0.3 0.7 -0.1 1.2 -0.4 1.7 -0.1 0.4 0.9 2.1 -0.1 1.1 -0.4 1.5 0.3 1 1.2 1.3 -0.4 0.4 -0.6 1.9 0 0.7 0.8 1.2 0.1 0.8 0.5 0.8 0.4 1.1 -0.2 0.7 -0.9 1.1 0.2 0.9 0.6 -0.4 1 0.2 0.6 -0.2 0.8 0.2 1 -0.4 0.8 -1 0.5 -2.2 0.4 -1.2 -0.7 -0.1 -0.8 -0.4 -1 -0.5 0.9 -1.3 1.4 -0.6 0.7 -1.2 0.4 0.5 0.2 0.9 0.1 1 -0.5 0.2 -0.8 -0.2 1.3 1.6 -0.2 1 0.6 0.8 0.2 0.8 0.8 2 0 1.1 -0.4 1.8 0.2 1.5 0.7 1.4 -0.7 0.6 -0.8 1.2 0.4 0.7 0.4 1.8 -0.3 1.6 -0.1 1.2 -0.1 0.8 0.3 0.2 1.2 0.3 1.3 1.6 -0.6 1.1 0.3 2 0.5 -0.4 -1.3 1.8 -0.4 1.8 -1.4 1.8 -0.2 1.4 -0.2 1.5 -0.5 1.3 0.4 1.1 0.2 0.6 0.1 0.7 0 1.2 0 1 0.6 0.7 0.3 1 0.5 1.2 0.7 1 0.1 1.2 0.1 0.4 0.3 0.7 0.4 -0.1 1 0.5 1 0.2 0.7 0.5 0.7 0.1 0.4 0.9 0.2 1 0.2 1 0 0.9 0.1 0.5 -0.3 0.7 -0.2 0.7 -0.8 0.7 -0.2 0.7 -0.2 0.6 -0.5 1.1 -0.1 0.9 -0.2 0.8 0.1 1 0.4 1.6 0.6 1.3 0.3 1 -0.4 0.9 -0.5 1.5 -0.3 1.2 -0.5 1.1 -0.5 0.7 -0.2 0.5 -0.1 0.8 -0.1 1 -0.4 0.7 -0.2 0.9 -0.2 0.6 -0.1 0.8 -0.1 0.5 0.3 0.8 0 0.7 -0.1 0.7 -0.5 1.9 0.3 2.1 -1.2 1.6 0.4 0.7 0.7 1 0.2 0.5 0.2 1.3 -0.1 0.9 0.5 1.8 -0.1 1.8 0.3 1.4 -0.8 1.4 -0.1 1 0.1 0.7 0.6 0.6 0.4 1.3 0.1 2 -0.2 1 0.8 0.8 0 1.2 0.4 0.3 0.8 0.8 0.5 0.6 0.3 0.8 0.4 0.9 -0.3 0.9 -0.2 1 -0.1 1.4 -0.3 1.7 -0.2 2 -0.1 1.1 0.6 1 0.4 1 0.3 1.2 -0.2 0.7 0.4 1.3 0.7 1.1 0.2 1.9 -0.1 1.3 0.8 1.5 0.6 0.3 0.4 0.9 -0.1 1 0.6 0.7 0.1 1.2 0 0.9 0 1 0.5 1.5 -0.8 1.5 -0.2 1.1 0.5 1.8 -0.2 1.3 0.4 0.8 -0.1 1 -0.1 1.5 0.4 0.8 1.3 1.4 -1.6 1.7 -0.4 -0.4 0.6 0.7 0.7 1 0.3 0.8 0.2 0.6 -0.7 0.9 -0.7 0.3 -0.5 0.4 -0.7 0.4 0.3 0.7 0.4 1.3 0 0.4 -0.6 1 0.4 1 -0.2 0.1 -1.2 2 0.3 2.3 0.7 1.6 -0.2 0.9 0.6 1.1 0.1 1.7 0.2 1 0.9 1.2 0.3 0.3 0.8 0.2 -0.5 1.1 -0.3 1.2 -0.2 0.8 -0.2 0.6 0.4 0.6 -0.3 0.7 0.3 1.2 0.3 0.5 0.3 0.6 0.4 0.8 -0.2 0 9.8 -0.9 -0.4 -0.7 0.2 -0.8 0.6 -1.2 0.6 -1.2 -0.1 -0.8 0.1 -0.7 -0.2 0.1 0.8 0.8 0.6 0.6 0.2 1.1 0.7 0.6 0.6 0.7 0.7 -0.1 0.6 0.7 0.3 0.8 0 -0.9 0.5 0.6 1 -0.5 0 -0.9 0.1 -1 0.2 -1.4 0.2 -1 -0.6 -0.3 -0.5 -1.1 0 -1.2 0.2 -0.5 0.6 -1.9 0.4 -1.1 -0.6 -0.7 0.4 -0.6 -0.3 -1.2 0.4 -0.3 0.7 -1.1 0.2 -0.7 0.3 -1.1 0 -1.1 0.2 -0.5 0.3 -0.5 1 0 0.9 -1.3 0.6 -0.9 -0.7 -1.6 -0.3 -0.8 0.9 -0.4 1.1 -0.7 -0.2 -1.2 -0.6 -1.7 0.3 -1.1 0 -1.3 0 -1.3 0.7 -1.4 -0.2 -1.3 0.3 -1 0 -0.9 -0.3 -0.9 -0.2 -0.9 0.3 -0.8 -0.1 -0.5 0.3 -1 0.6 0.2 1.2 0 1.1 -0.9 0.5 -0.3 0.9 -0.9 0.1 -0.4 0.6 -0.7 -0.3 -1 0.5 1 0.8 -0.6 0.7 -0.8 0.8 0.7 0 0.5 0.3 1 0.4 0.7 0.2 -0.1 1.2 -0.4 0.5 -0.8 0 -0.5 0.8 -0.7 0.7 0.5 1.1 -1.1 -0.1 -0.5 0.7 0.2 1.1 -1.4 0.5 0.9 1.1 -1.7 0.7 -0.8 -0.2 -1.1 0.2 -0.5 0.5 -0.8 0.3 -0.8 -0.1 -0.6 0 -1 0.3 -0.9 -0.2 -1.1 0.2 -0.4 1 -2.1 0.1 -0.9 0.6 0.5 0.7 0.4 0.7 -0.1 1.4 -1 -0.9 0.6 -1 -0.6 -0.6 -0.4 -0.5 -0.7 -0.9 0.4 -1.1 0.3 -1.2 1.2 -0.5 -0.2 -0.8 -0.3 -0.7 -0.9 -0.2 -0.4 -0.2 0.2 -0.8 -0.6 -0.6 -0.2 -0.5 -0.5 -0.7 -0.8 -1.1 0.9 -0.8 0.4 -1 0.2 -0.9 0.7 -0.5 0.9 -0.7 0.6 -0.6 1 -0.7 0.1 -1.1 1.7 0.3 0.3 -0.6 0.4 -0.8 1 -0.4 0.8 -0.2 0.7 0.3 0.5 -0.9 0.9 -0.8 -0.6 -0.8 -0.6 -1.1 1.5 -0.1 1.2 0.2 1.5 0.1 1.8 -0.4 -0.1 -0.6 0.2 -1.1 1.8 0 1.3 -0.3 1.5 -0.1 2.3 -0.2 -0.4 -1.6 -0.3 -1.1 -1.2 -0.5 -1.4 0.2 -1.9 0.2 -1 1.8 -1.2 -0.1 -1.2 0.7 -0.8 -0.2 -1.3 -0.3 0.1 0.7 -1.2 0.6 -1 -0.3 -1.3 -0.3 -1 0.2 -0.7 -0.4 -1.1 -1.2 -1.3 0.9 -0.2 1 -1.8 0.5 -1.5 0.2 -0.3 1.2 -0.6 0.8 -0.1 0.5 -0.4 0.6 -0.1 0.8 -1.3 0.2 -1.2 0.3 -0.7 0.5 -1.3 -0.4 -0.3 0.4 -0.9 0.3 -1.1 0.1 -0.7 -0.2 -0.7 -0.5 -1.5 -0.3 -0.5 -0.3 -0.9 0.1 -0.9 0.3 -0.7 -0.5 -1.3 0.3 -1 -0.3 -1.3 -0.8 -2.5 -0.6 -1.5 -0.3 -1.2 -0.1 -0.8 0.2 -0.9 0.7 -0.7 0.6 -1.1 0.5 -0.9 -0.1 -0.9 0.2 -1.2 0 -0.7 -0.2 -0.8 0.1 -0.7 0.2 -1 0.3 -1.6 0.6 -2.1 0.2 -1 0.1 -1.3 -0.5 0.2 1.3 1.1 0.7 -0.4 0.8 -1.2 0.3 1 1.4 -0.6 0.9 -1.5 0.7 -2.3 0.4 -1 0.9 -1.1 -0.2 0.1 0.8 -0.9 0.9 -0.5 0.3 -1 0.5 -0.4 0.9 -1 -0.1 -0.8 0.1 -0.5 0.2 -0.8 0.1 -0.1 1.1 0.7 0.9 1.3 -0.5 0.7 0 0.9 -0.1 0.8 0.2 0.7 0.1 0.8 0.2 0.5 0.3 1 -0.2 0.1 -0.8 1.2 0 0.7 -0.2 0.7 0.2 0.1 0.7 1 0.1 0.5 0.4 0 0.7 0.4 0.5 1.1 0 0.7 0.1 0.2 0.9 0.3 0.8 0.3 0.7 -0.8 0.6 -0.7 0.5 0.1 0.8 -0.8 0.7 0 1 0.2 0.7 0.6 0.8 0.6 0.7 0.2 1.3 -0.1 0.6 -1 0.5 -0.6 0.4 -0.3 0.7 0.2 0.8 0 0.9 -0.6 0.6 0 0.6 -1.2 0.1 -0.6 0.3 -1.2 -0.2 -1 1.2 -0.8 0.1 -0.5 0.4 -0.7 0.9 -0.4 0.5 -0.8 0.3 -1 0.9 -0.2 0.8 -0.6 0.6 -0.6 0.6 -0.6 0.3 -1.3 0.5 -0.9 0 -0.1 0.6 0.5 0.9 -0.8 0.9 -0.8 0.3 -1 0.3 -0.7 0.9 -0.9 -0.2 -0.8 -0.1 -0.8 0.5 -1 0 -0.6 0.2 -0.7 -0.3 -0.7 0.1 -0.7 0 -0.5 0.2 -0.8 0.3 -0.9 0.3 -0.3 0.5 -0.6 0.7 -0.6 0.4 -0.8 0.9 -0.1 1.2 -0.3 0.8 -0.2 0.4 -0.6 0 -0.7 0.3 -0.8 0.1 -0.8 0.3 -0.5 0.3 -1 0.3 -0.6 0.7 0 0.8 0 0.5 0.8 0.4 0.3 0.8 0.8 0.2 0.7 0.3 0.1 0.6 0.4 0.8 0 0.6 0.4 0.6 0.6 0.4 0.7 0.8 -0.6 0.9 -1 0.5 0.9 0.8 0.7 1 -0.2 0.9 -0.8 0.7 -0.8 0.5 -0.8 0.4 -1.1 0 -1.1 0.1 -0.9 0.2 -0.6 0.4 -1.2 -0.2 -0.1 -0.6 -0.1 -1.1 0.2 -1.1 0.3 -0.9 0.5 -0.8 -0.2 -0.6 0.1 -1.1 -0.9 -0.7 -0.4 -0.4 -0.6 -0.4 -1.1 -0.2 -0.6 -0.4 -0.6 -0.4 0.3 -0.6 0.5 -0.5 -0.3 -1.2 0.4 -0.9 -0.1 -0.5 -0.3 -0.6 -1 -0.2 -0.4 -0.3 -0.9 -0.2 -0.3 0.5 -0.9 0.5 -0.3 0.7 -1 0.3 -1 0.1 -0.8 0.3 -0.7 0 -0.7 0.1 -0.8 0.2 -0.9 -0.2 0.3 -0.5 0 -0.9 0.7 -0.8 0 -0.6 0.7 -1 -0.5 -0.2 -0.7 -0.4 -0.7 -0.2 -0.6 -0.2 -0.7 0.8 -0.9 0 -0.6 0.4 -0.7 0.9 -0.9 0.7 -0.4 0.4 -0.7 0.6 -1 0.1 -0.3 0.5 -0.7 -0.1 -0.6 0 -0.6 0.8 0.1 0.9 0 1.1 1.1 0.5 0.7 0.2 0.8 0.4 0.4 0.8 0.6 0.2 0.8 -0.2 0.9 -0.3 0.5 -0.2 0.8 -0.4 0.9 -0.3 1 0.3 0.8 0.2 0.9 0.3 0.7 0 0.9 0.4 -0.9 0.4 -0.7 -0.1 -0.9 0.7 -0.5 0.8 -0.8 0.2 -0.9 0.4 -0.5 0.4 -0.4 0.5 -0.6 0.3 -1 0.6 -0.2 0.7 -0.9 0.9 0.8 0.2 0.2 0.8 0.4 0.3 0.9 0.3 0.4 0.9 0.2 1 -0.5 0.8 0.7 0.3 0.9 0.9 0.4 0.7 0.3 1.1 0.6 0.5 0.9 0.1 0.5 0.3 0 0.9 0.1 0.8 -0.3 0.6 -1.1 0.4 -0.9 0.6 0.4 0.5 0.7 0.2 0.5 0.2 0.9 0.1 -0.4 0.7 -0.2 0.4 0.1 1.2 -0.2 0.9 -0.3 0.5 -0.2 0.5 -0.7 0.4 -0.5 0.5 -1 0.7 -0.3 0.9 -0.6 1.2 -0.5 1.1 -0.9 0.7 -0.3 1 -0.6 0.3 -0.7 0.5 -0.8 0.9 -0.6 0.9 -1.2 0.4 -0.6 0.5 0.5 0.6 -0.3 0.9 -0.6 0.5 -0.7 0 -0.9 0.1 -1 0.5 -0.9 0.2 -0.6 0.7 -0.9 0.3 -0.6 0.4 -0.7 0.1 -0.8 0.4 -0.8 0 -0.7 0.4 -0.8 0 -0.7 -0.2 -0.7 0.2 -0.8 0.7 -1.1 0.1 -0.6 0.6 -1.1 0.1 -1 0.5 -1.1 -0.1 -0.8 0.3 -1.1 0.2 -0.5 1.1 -0.1 0.7 0.4 0.8 0.3 -0.8 -0.3 -0.7 -0.5 -1.1 -0.7 -0.4 -0.8 0 -0.4 -0.3 -0.7 -0.5 -1.1 0.2 -0.9 0.2 -0.6 0.4 -0.8 0.1 -0.7 0.4 -0.8 0.7 -0.6 0.9 -0.4 0.5 -0.2 1.1 -0.9 0.3 -0.4 0.7 -0.3 0.4 -0.4 1.1 0.9 0.6 0.5 0.9 0.1 0.6 0.5 1.1 0.2 0.6 0.4 0.8 0.7 0.6 0.3 0.4 0.8 0.6 1.2 0.2 0.4 0.6 0.4 1.1 0.6 0.7 0.4 0.4 0.5 0.7 0.1 1 -0.1 0.7 0.5 0.8 0.6 0.6 0.3 0.8 -0.1 0.8 -0.2 0.7 -0.1 0.6 -0.2 0.7 0 0.9 -0.5 0.9 -0.9 0.5 -0.6 0.9 -1 0.7 -0.9 0.8 -1 0 -1.1 0.5 0 0.8 -0.2 0.5 -0.5 0.7 -0.7 0.4 -0.2 0.6 -1.1 0.4 -1 0.6 -0.6 -0.8 -0.1 -0.5 -0.6 -0.7 0.6 -0.7 -0.3 -0.7 0.2 -0.6 -0.6 -0.7 -0.8 -0.2 -0.9 0 -0.5 0.2 -1 -0.1 -0.2 -0.7 -0.6 -0.7 -0.8 -0.7 -0.6 -0.8 -0.2 -0.6 -0.4 -0.5 -1.1 -0.4 -0.7 -0.4 -0.4 -0.4 -1.2 0 0.1 -1.2 -0.6 -0.6 -1.2 0 -0.8 0.2 0 0.6 -0.4 0.8 0 1 -0.1 0.9 0 0.6 -0.4 1.1 -0.4 1 -0.4 1 -0.3 0.8 -0.1 1.3 0.1 0.6 0.3 0.6 0.5 0.5 0.7 0.4 0.6 0.2 0.3 0.7 0.3 0.5 -0.2 1 -0.2 0.9 0.5 0.6 0.5 0.2 0.5 0.8 0.8 0.2 0.7 0.4 0.7 0.2 0.4 0.5 0.6 0.4 -0.1 0.9 0.4 0.4 0.5 0 0.7 0.4 0.9 0.5 0.6 0.5 0.3 0.8 -0.3 0.9 -0.2 0.9 0.1 0.7 0.7 0.7 -0.1 0.8 0.2 0.5 0.3 0.9 0.2 0.9 0.4 0.5 0.1 0.9 0.3 0.6 -0.7 -0.1 -0.6 0.5 -0.8 -0.8 -1 -0.6 -0.3 -0.7 -0.9 -0.1 -0.8 -0.7 -0.9 -0.6 -0.7 -0.5 -0.7 -1 -0.4 -0.6 -0.3 -0.4 -0.4 -0.7 -0.4 -1.1 0 -1.1 -0.3 -1.1 -0.1 -1.2 -0.4 -0.8 -0.4 -0.4 -0.3 -0.8 -0.6 -1 -0.8 -0.6 -0.1 -1.1 -0.4 -0.5 -0.7 -0.3 -0.7 -0.5 0.1 -1 -0.1 -0.6 -0.4 -0.7 -0.2 -0.9 0.7 -0.6 0.5 -1.1 -0.1 -0.9 -0.1 -1.2 0.4 -1.1 0.7 -1 -0.6 -0.8 -0.7 -0.9 -0.2 -1 0 -1.1 -0.6 -0.9 -0.2 -0.7 -0.8 -0.7 -0.1 -0.5 -0.1 -0.7 -0.1 -0.7 -0.1 -1.1 -0.1 -0.9 0.4 -0.8 -0.9 -0.9 -0.5 0.3 -0.7 -0.4 -1 -0.5 -0.9 0.3 -0.6 0.3 -0.3 0.6 -0.6 0.5 -0.8 0.7 -0.9 0 -0.7 0.2 -1 -0.7 0 -1 -0.2 -0.7 0.5 -1.1 0.3 -0.9 0.1 -0.8 -0.2 -0.6 -0.7 -0.4 -0.5 -0.8 -0.5 -1.2 -0.1 -0.9 -0.5 -0.5 -1 -0.5 -0.5 -0.3 -0.4 -0.8 -0.8 -0.7 -0.4 -0.8 -0.6 -0.7 -0.2 -1 -0.6 -0.4 -0.9 -0.4 -0.5 -1 0 -0.8 -0.5 0.3 -1 0.3 -0.7 0.1 -0.8 0.6 -0.6 0.5 -0.6 -0.1 -0.9 0.5 -0.9 0 -0.7 -0.2 -0.8 0.3 -0.5 0.1 -0.6 0.3 -1.1 0.2 -0.8 0.1 -0.1 1 -0.4 0.6 -0.3 1.2 -0.7 0.5 -0.5 0.6 -0.9 -0.1 -0.8 0.4 -0.5 0.1 -0.8 0.6 -0.1 0.8 -0.3 0.3 -0.5 0.7 -0.8 0.1 -0.8 0.8 -0.9 0.4 -0.5 0.6 -0.8 0.6 -0.5 0.9 0.2 0.7 -1 0.7 -0.8 0.3 -1.1 0.2 -0.6 0.5 -1.1 0.1 -0.6 1.2 -1 0 0 0.7 -0.1 1.1 -0.3 0.7 -0.6 0.7 -0.1 0.9 0.3 0.7 0.2 0.7 0.3 0.6 -0.3 0.9 0.1 0.7 0 0.6 -0.7 1 -0.1 0.6 -0.5 0.9 0.1 0.6 -0.2 0.7 -0.1 0.9 0.2 0.8 -0.8 0.2 -0.2 0.6 -0.8 0.8 -0.2 0.8 -0.5 0.3 -0.8 0.5 -0.7 0.5 -0.4 0.4 -0.8 0.3 -0.6 1 -0.6 -0.3 -0.9 -0.7 -0.6 -0.3 -0.3 -0.9 -0.6 -0.8 -0.3 -0.9 -0.2 -0.8 0.1 -0.7 -0.3 -0.6 -0.9 -0.5 -0.6 -0.6 -0.9 -0.6 0.2 -1 0.5 -1 -0.3 -0.9 -0.2 -0.4 -0.3 -0.8 -0.4 -1.1 -0.6 -1.1 -0.1 -0.5 0 -1 -0.6 -0.6 -0.3 -0.5 -0.5 -0.6 -0.5 -0.9 0 -1 -0.4 -0.5 -0.7 -0.5 0.1 -0.9 0 -0.7 -0.2 -0.8 -0.7 -0.7 0.1 -0.8 -0.2 -0.9 -0.2 -1.1 -0.4 -0.8 0 -0.9 0 -0.8 0.1 -0.4 -0.3 -0.8 -0.4 -0.8 0.2 -0.5 -0.3 -0.8 0.6 -0.4 -0.1 -0.8 0 -0.9 -0.1 -0.7 -0.3 -0.6 -0.8 0.6 -0.1 1.1 -0.1 0.6 -0.3 0.7 -0.8 0.2 -0.5 0.2 -1.2 0 -0.5 -0.1 -0.7 0.2 -0.6 -0.2 -0.9 -0.7 -0.4 -0.2 -0.7 -0.4 -0.6 -1.1 -0.6 -0.9 0.7 -1 1.1 -0.3 0.7 -0.2 -0.7 0 -0.9 -0.2 -0.8 -0.3 -0.4 -0.7 -0.9 -0.5 -0.5 -0.6 -1 -0.4 -1.1 -0.3 -0.5 -0.7 0 -0.6 -0.9 -0.5 -0.6 -0.7 -0.7 0.1 -0.5 0.1 -0.9 0.6 -1.4 0.3 -0.2 -1.1 -0.7 -0.3 -1 -0.5 -1.3 -0.4 -0.7 0 -0.9 -0.1 -0.8 -0.5 -0.8 0.2 -0.8 0.3 -0.5 0.6 -0.5 0.2 -0.7 -0.1 -0.6 -0.3 -0.5 -0.8 -0.9 0.4 -0.7 0.4 -0.8 0.3 -0.8 -0.2 -0.9 0 -0.9 0.1 -0.4 -1 -1.6 -0.6 -0.5 -0.1 -1 0 -1 0.6 -0.3 -0.6 -0.4 -0.3 0.1 -0.8 -0.6 -1 -0.6 -0.6 -0.4 -0.4 -1 0 -0.3 0.4 -0.7 0.4 -0.8 0.4 -0.7 0.1 -0.7 0.2 -1 0 -0.9 -0.8 -0.8 -0.1 -0.6 0.2 -0.7 0.1 -0.8 -0.4 -0.8 -0.9 -1 -0.2 -0.6 -0.4 -0.3 -0.5 -1.1 -0.2 0 -0.9 -0.3 -1.1 -0.9 0.1 -1 -0.6 -0.1 -0.7 -0.1 -0.8 -0.6 -0.4 -0.8 -0.7 -0.7 -0.3 -0.5 -0.4 -1 0 -0.7 -0.2 -0.9 0.2 -1.1 0.5 -0.2 0.5 0.2 0.8 0.4 0.5 0.2 0.9 0.2 0.4 0.5 0.6 0.3 0.6 0.6 0.6 0.6 0.7 0.8 0.3 0.1 1.1 1.1 0.6 0.1 0.7 0.6 1 0.6 0.5 0.4 0.5 0 0.6 -0.2 0.7 0.7 0.9 0.7 -0.8 0.3 -0.5 0 -0.5 0.3 -0.7 0.2 1 0.2 0.6 0.3 0.9 0.1 0.7 -0.4 0.8 0.8 0.3 0.6 -0.2 0.6 0.8 0.7 -0.4 1.1 0 1 -0.4 0.9 0.3 0.7 -0.1 1.2 0 0.9 -0.1 0.3 -0.5 0.7 -0.4 0.6 -0.6 0.2 -0.6 0 -0.8 1 -0.8 0.3 -0.6 0.7 -0.6 -0.4 0.9 -0.2 0.9 0.6 0.4 0.1 0.6 0.2 0.9 0 0.7 0.4 1 0.7 0.1 0.4 0.4 0.9 0.3 1 0.5 0.8 -0.1 0.7 0.3 0.5 0.1 0.5 0.4 0.7 0.7 0.9 0.3 0.6 0.6 0.1 0.4 -0.5 0.8 -0.5 0.8 -0.6 0.9 -0.1 1.1 -0.3 1 -0.4 0.6 -0.2 0.6 -0.6 0.5 -0.6 0.4 -0.4 0.5 -0.2 0.5 -0.6 1.1 -0.7 0.9 -0.4 0.6 -0.9 0.5 -0.8 0 -1 0 -0.9 0.5 -0.9 0.3 0 0.6 -0.9 0.8 -0.9 0.3 -0.7 0 -1.2 0 -0.6 1.1 -0.9 0.4 -1.2 0.1 -1 0.4 -0.7 0.9 -0.3 0.8 -0.5 0.3 -0.9 0.3 -0.8 0.2 -1.1 0.3 -0.9 0.2 -0.6 0.5 -0.7 0.5 -0.8 0 -0.4 0.3 -0.8 -0.2 -0.8 0.3 -1.1 0 -0.5 0.8 -0.6 0.8 -0.7 0.1 -1.1 -0.2 -1 0.8 -0.7 0.2 -0.7 0.1 -0.8 0.7 -0.6 0.5 -0.8 0.5 -1.1 0.3 -1.1 0.1 -1 0 -1 0 -0.7 0.2 -0.3 -0.8 0 -0.5 -0.3 -0.9 -0.4 -0.4 -0.2 -0.7 -0.1 -1.1 -0.4 -0.6 0 -1.1 0 -0.9 -0.2 -0.7 0 -1.2 -0.2 -1.1 -0.3 -0.8 -0.9 -0.6 -0.3 -1 -0.7 -0.5 -0.5 -0.3 0.2 -0.9 -0.4 -0.5 -0.7 -0.6 -0.3 -0.4 -0.6 -0.9 -0.2 -0.8 -0.6 -0.5 -0.7 -1 -0.8 -0.2 -0.7 -0.4 -0.9 -0.1 -0.1 -0.9 0 -0.7 -0.1 -0.9 -0.9 -0.9 -0.1 -0.8 0 -0.6 -0.3 -0.7 0.1 -0.6 -0.1 -0.6 -0.4 -0.8 -0.5 -1 -0.6 -0.7 0 -1.1 -0.3 -0.7 -0.3 -0.5 -0.5 0 -0.8 0.2 -1.1 -0.6 -0.1 -0.7 0.1 -0.8 -0.1 -0.8 -0.8 -0.9 -0.4 -0.4 -0.3 -0.8 -0.5 -0.8 -0.4 -0.4 -0.7 -0.9 -0.7 -0.4 -0.2 -0.9 -0.8 -0.5 -0.4 -0.6 -0.2 -1.1 0.3 -0.6 -0.4 0.4 -0.2 0.9 -0.3 0.8 0 1.2 -0.4 0.9 -0.4 -0.4 -0.7 -0.2 -0.9 -0.8 -0.7 -0.8 -0.1 -0.7 0.1 -0.7 -0.3 -0.5 -0.7 -0.4 -0.5 -0.7 -0.2 -0.8 -0.6 -0.5 0.4 -0.7 -0.2 -0.6 0.1 -1 0.9 -0.2 0.7 0.2 0.8 -0.1 1 -0.1 1.1 0.2 0.2 -1.1 0.8 -0.7 0.4 -0.6 0.4 -0.6 0.3 -0.5 0 -0.9 0.4 -1 0.5 -0.8 0.2 -0.7 0.1 -0.6 0.8 -0.7 0.1 -1 0.3 -0.7 0.2 -0.7 0.5 -0.9 0.2 -0.7 -0.9 -0.8 -0.6 0 -0.8 -0.2 -1.1 -0.2 -0.5 0.8 -0.7 0.2 -0.5 0.2 -0.8 0 -0.7 0.1 -0.7 0.2 -0.8 0.2 -0.6 0 -0.9 -0.3 -0.8 -0.2 -0.5 -0.2 -0.9 -0.1 -1.1 -0.3 -0.6 -0.2 -0.7 -0.7 -0.2 0.6 -0.6 0.3 -0.7 0 -0.9 0.4 -0.6 0.2 -0.8 -0.7 -1 -0.6 -1.2 0.1 -0.7 0 -0.7 -0.4 0 -0.8 -0.5 -0.5 -0.5 -0.3 0.2 -0.9 -0.8 -0.5 -0.7 -0.7 -0.7 -0.5 0.6 -0.6 -0.2 -0.4 -0.7 -0.6 0.9 -0.3 0.1 -0.5 -0.6 -0.5 -1 0.2 0.1 -1 0.5 -0.9 0.2 -0.9 0.6 0.3 0.9 0.2 1 0.3 0.1 -1 0.4 -0.5 1.3 -0.2 0.5 0.5 0.7 0.3 0.8 0.6 0.1 -0.9 0.4 -0.8 0.8 0.5 0.9 -0.7 0.9 0.6 0.8 0 1.2 0.1 1.1 -0.5 1.2 0.1 1.1 0 0.5 -0.7 0.5 -0.8 1.1 -0.5 0.6 -0.1 1 -0.4 0.8 -0.3 0.5 0.3 0.8 0.3 1.2 0.1 0.9 0.3 0.5 0.1 0.7 0.4 0.6 0.4 0.6 0.5 0.8 0.8 0.8 0.2 1.3 0.2 0.9 -0.3 1.2 -0.1 0.6 0 0.9 0.3 0.6 0.4 0.6 -0.1 1 -0.6 0.4 -0.3 0.9 -0.4 1.2 0 0.8 -0.2 0.4 -0.3 0.6 -0.9 -0.2 -0.7 0.2 -1 -0.6 -0.6 -0.7 -0.8 -0.7 -0.5 -0.9 -0.2 -0.9 -0.2 -0.5 -0.1 -0.3 -0.7 -1 -0.2 0 -0.7 -0.7 -0.2 -1 0.2 -0.7 -0.7 -0.5 -0.4 -0.9 -0.7 -0.8 -0.2 -0.8 -0.2 0.2 -0.9 0.5 -0.8 0.9 -0.6 0.6 -0.2 0.9 -0.3 0.6 -0.4 0.4 -0.5 0.5 -0.6 0.1 -0.9 -1.2 0 -0.8 0 -1 0.2 -0.6 0 -0.8 0.2 -0.3 0.5 -0.7 0.4 -0.5 -0.2 -0.8 -0.1 -1 0.4 -0.5 0.7 -1 0.1 -0.5 -0.2 -0.8 0.2 0.3 0.9 0.1 0.8 0.8 0.5 0.9 0.1 0.6 -0.1 1.1 0 -0.8 -0.1 -0.6 0.2 -1.1 0.3 -0.5 0.4 -0.7 0 -0.6 -0.1 -1.1 0 -0.8 0.8 -0.7 0.4 -0.7 0.1 -0.6 -0.5 -0.2 -1 -0.7 -0.4 -0.9 -0.3 0.8 -0.4 0.8 -0.4 0.8 -0.7 -0.8 0 -1.1 -0.2 -1 -0.7 -0.8 -0.4 -0.9 0 -0.7 -0.6 -0.8 0.2 -0.6 0.4 -0.8 0.5 -0.7 0.5 -0.4 0.3 -0.7 0.5 -0.1 0.8 -0.3 0.4 -0.1 0.8 -0.9 0.4 -0.7 0.5 -0.3 0.3 -0.1 0.7 -1.2 0.1 -0.3 1 0.2 1 -0.6 0.5 -0.4 0.8 -0.3 0.9 0.2 0.7 -0.7 0.9 0.6 0.4 0.7 0 0.4 0.6 0.6 0.6 0.6 0.3 0.8 -0.2 -0.3 0.4 -0.9 0.2 -0.5 0.6 -1.1 -0.3 -1 -0.4 -0.8 0.5 -0.1 1.1 -0.9 0.2 -0.6 -0.6 -1 -0.1 -0.3 -0.6 -1.1 0 -0.5 -0.5 -0.9 0.3 -1.2 0.2 -0.2 0.5 -0.8 0.4 0.6 0.7 -0.7 0.4 -0.7 0 -0.7 -0.1 -0.9 -0.2 -0.2 -0.7 -0.7 -0.3 0.1 0.5 0.8 0.5 -0.7 0.4 -0.5 0.3 0.3 0.9 0.8 0.5 0.1 0.6 0.4 0.6 0.6 0.3 0.9 -0.1 -0.2 1 0.4 0.8 -1.1 0.5 -0.9 0 -0.3 0.4 -0.3 0.7 0.1 0.8 -0.4 0.9 0.4 0.4 -0.7 -0.4 -1.1 0.4 0.1 -0.9 -1.2 0.3 -0.3 -0.6 -0.3 -0.9 0.7 -0.8 -0.7 -0.9 -1 0.1 0 -0.8 -0.2 -0.4 -0.3 -0.8 -1.1 -0.2 -0.9 -0.4 -0.2 -0.6 -0.3 -1.1 -0.8 -0.7 -0.6 -0.7 -0.1 -0.6 0 -0.8 0 -0.4 -0.5 -1 0.7 -0.8 -0.6 -0.3 -0.5 -0.2 -0.6 -0.4 -0.7 -1.1 -0.6 -0.5 -0.7 -0.3 -0.8 0.1 -0.7 -0.4 -1 -0.6 -0.8 -0.3 -0.8 -0.4 -0.4 -0.2 -0.6 -0.5 -1.2 -0.6 0.7 -0.8 0.2 -0.8 -1.1 0 0 -0.8 -0.9 -0.4 -0.6 0.3 -1.2 0 -0.6 -0.1 -0.9 0.4 -1 -0.7 0 -0.9 1 -0.2 -0.7 0.2 -1 -0.1 -1 0.2 -0.9 0.4 0.4 1.1 -0.2 0.8 -0.2 0.7 0.9 0.1 0.6 0.2 -0.2 0.7 0.9 0.4 0.8 0.3 0.8 0.4 0 0.7 0.1 1.1 0.9 0.5 0.5 0.9 0.8 -0.2 1 0.2 0.7 0.5 0.3 0.3 1.2 -0.1 1.1 0.3 0.8 0.5 0.3 1.1 0.7 0.4 1 0.3 0.4 0.2 0.7 0.4 0.6 0.9 0.7 0.3 -1.2 -0.1 -0.3 -1 -0.9 0.3 -0.8 0.1 -0.6 -0.3 0 0.9 -0.1 0.8 -0.9 0.3 0.3 0.9 0.7 0.3 0.5 0.6 0.3 0.9 -0.6 0.8 -0.9 0.4 -0.6 0.3 -0.7 0.1 -0.6 0 -0.6 0 0 -0.5 -0.6 -0.8 0.5 -0.6 0.8 -0.6 -0.7 -0.5 -0.5 -0.6 0.1 -0.7 0.1 -0.7 -0.8 -0.2 -0.4 -0.4 -0.5 -0.6 -1 -0.5 -0.4 -0.4 -0.8 -0.4 -0.7 0.7 -1.1 0.1 -0.8 -0.6 0 -1 -0.7 0.1 -0.8 -0.4 -0.6 -0.4 -0.4 -1 -0.7 -0.6 -1 -0.4 -1.1 -0.4 -0.2 -0.9 -0.7 -0.2 -0.2 -0.9 0.4 -0.6 -1 -0.7 -0.3 -0.9 -0.6 -0.1 -1 -0.4 -0.6 0 -1 0.1 -0.5 0.6 -0.4 0.3 -0.7 -0.4 -0.7 0.1 -0.3 0.5 -0.7 0.4 -0.6 0.3 -0.6 0.3 -1.1 -0.1 -0.9 0.6 -0.5 0.7 -0.9 -0.1 -0.6 -0.3 -0.6 -0.3 -0.8 -0.3 -0.8 0.2 -0.7 -0.1 -0.6 -0.1 -0.9 0.2 -0.8 0.5 0 0.9 0 0.7 -0.6 0.9 -0.9 0.7 -0.9 0.6 -0.4 0.4 -0.5 0.5 -0.4 0.4 -0.8 0.4 -0.5 0.2 -0.9 0 -0.7 0.3 -0.3 0.8 -0.4 0.9 -0.4 0.7 -0.3 0.4 -0.8 0.5 0.3 0.8 0.2 1.2 -0.7 0.8 -0.6 0.6 -0.4 1 -0.5 0.8 -0.6 0.4 -0.5 0.7 -0.7 0 -1 0.4 -0.7 0.7 -1.1 -0.2 -0.6 0.6 -0.9 -0.2 -0.6 -0.5 -1.2 -0.2 -0.9 0.1 -0.9 0.5 -0.7 0.7 -0.9 0.2 -0.6 -0.6 -0.4 -0.3 -0.7 -0.3 -0.5 -0.2 -0.6 -0.4 -0.4 -0.5 -1.3 -0.1 -0.7 -0.3 -0.7 0.2 -1.1 0.5 -0.8 -0.2zM47.5 132.2l1.2 0.9 0.9 0.4 0.1 1.1 1.9 1.2 1.1 0.9 0.6 -1.7 1.7 -1 1 1 1.2 -0.3 1.2 -2 2.7 1.4 0.2 0.9 1.2 0.4 0.7 0.8 -0.7 0.8 0.7 0.4 0.6 -0.6 0.6 0.6 1.1 0.1 0.5 -1.8 2.5 0.1 1.7 0.7 -0.2 1.7 0.7 0.2 0.4 0.7 1.2 0.1 0.9 0 -0.9 0.9 -0.6 -0.7 -1 0.1 -1.2 0.4 0.5 0.9 -0.7 0 -1 -0.1 -1.1 -0.4 -1.1 0.4 0.3 0.9 -0.9 0.9 0.8 0.4 -0.1 0.6 -0.9 0.2 -1.4 -0.7 -0.7 0.2 -0.9 0.2 -0.5 0 -0.9 -0.1 -0.9 -0.8 -1.2 -0.1 -0.4 -0.6 -0.2 -0.6 -0.7 -0.4 -0.6 0.6 -1.5 0.5 -0.8 -0.4 -1 0.5 -0.7 -0.3 -0.4 -0.4 -0.7 -0.2 -0.6 -0.3 -0.9 0.4 -0.5 0.2 -0.8 -0.2 -0.6 0.2 -0.9 0.6zM483.8 179.2l0.8 0 1 0.4 0.8 -0.6 0.8 -0.5 0.7 0.1 0.9 0.2 1 0 0.6 0.4 0.9 0.3 1.3 -0.6 1.2 -0.5 0.3 -0.4 0.9 -0.2 0.5 -0.1 0.8 -0.1 0.8 -0.5 0.5 -0.5 0.7 0.3 1 0.1 0.7 -0.7 0.8 0.2 0.4 -0.9 0.4 -0.2 0.8 -0.2 -0.6 -0.7 -0.2 -0.5 0 -0.6 0.2 -0.6 -1 0 -0.7 0.1 -0.8 -0.4 -1.1 -0.5 -0.3 -0.6 -0.3 -0.9 -0.6 -1 0.6 -0.7 0.1 -0.6 -0.5 -0.9 -1.3 -0.2 -0.9 -0.3 -0.6 0.1 -0.6 0.1 0.4 -1.1 -0.9 -0.4 -0.8 0.3 0.6 -0.5 -0.6 -0.8 -0.4 -0.7 -0.9 -0.6 0.7 -1 0.6 -0.8 0 -0.9 -0.3 0.6 -0.1 0.6 -0.9 -0.2 -1.2 0.7 0.2 -0.9 -0.6 -0.7 -1 -0.5 -1.1 0.1 1.1 -0.4 0.9 -0.6 0.6 0.5 -0.7 -0.6 0.1 -1.1 -1.3 0 -0.5 -0.6 -0.3 0.6 -0.8 0.1 -0.8 0.2 -0.8 -0.3 -1 0.6 -0.9 0.4 -1.1 -0.2 -0.7 0.7 0.7 0.7 0.5 0.6 0.7 0.4 0.5 0.7 0.7 1.3 1.5 -0.7 -1.2 0.2 -1.1 0.2 -0.8 0.9 1 0.7 0 1.1 0.4 0.9 0.8 0.1 0.5 0.4 0.7 0.6 0.8 0.2 0.8 -0.4 0.6 0 0.8 -0.2 0.1 1 0.8 1 0.2 0.7 -0.3 0.9 -0.8 0.2 -0.6 0.2 -0.9 0.3 -0.9 -0.1 -0.6 0.1 1 0.6 0.3 0.6 -0.5 0.5 -0.2 0.6 -0.9 -0.2 -0.9 0.5 -0.5 0.9 1 0.1 0.6 0.7 0.4 0.3 1 0 0.7 -0.1 0.6 -0.2 0.6 0.4 0.6 0 -0.9 0 -0.9 0.3 -0.5 -0.1 -0.8 0.1 -0.7 0.5 -0.6 0.1 -0.5 0.4 -0.7 0.3 -0.6 0.7zM481.8 174l0.3 -0.7 0.6 -0.9 -0.1 -0.7 -0.1 -0.9 -0.3 -1 -0.1 -0.6 0 -0.7 0.4 -0.4 0.7 -0.3 -1.2 0.2 -0.2 -0.6 -1.1 -0.1 0 -0.9 -0.9 -0.2 -0.6 0 -0.9 -0.3 -0.7 0.4 -0.8 0.6 -0.6 0.9 -0.3 0.5 -0.9 0.4 -0.6 0.3 -0.8 -0.2 -1.1 0.2 -0.2 0.8 0 0.5 0.2 0.9 0.8 0.4 0.4 0.4 0.5 1 -0.8 0.3 -0.7 0.2 -0.7 0.6 -0.2 0.7 0.7 0.3 0.7 0.4 0.6 0.3 1.1 0.1 1 -0.5 1 0.1 0.6 -0.3 0.8 -0.3 0.8 -0.1 0.7 -0.1 1.1 -0.3zM824.8 219.5l0.7 -0.2 0.9 -0.2 0.7 0.2 0.8 0 0.9 -0.5 0.4 -0.4 0.9 -0.3 1.2 0.3 0.9 0.2 0.9 0.3 1 -0.5 0.9 -0.4 1 0.3 0.6 0 1.2 -0.1 1 -0.2 0.7 0.2 0.4 -0.3 0.9 0 0.9 0.4 1 -0.3 0.8 0 1 -0.2 0.9 -0.5 0.8 -0.3 0.8 0 0.7 -0.8 0.9 -0.2 0.9 -0.8 0 -0.5 0.6 -0.8 -0.1 -1.2 0 -0.7 0.4 -0.5 0.3 -0.9 -1 -0.6 -0.2 -0.7 0.5 -0.5 0.7 -0.5 0.3 -0.7 0.7 -0.5 0.6 -0.4 0.2 -0.9 0.5 -1.1 -0.2 -0.8 -0.9 -0.5 -0.2 -0.7 -0.1 -0.7 -0.4 -0.8 -0.5 0.2 -0.8 0.4 -0.6 0.2 -1.1 0 -0.7 0.6 -0.4 0.4 0 0.6 0.4 0.9 0 0.7 0 0.6 0.1 0.9 -0.6 0.8 -0.6 0.7 0.3 0.9 -0.5 1 -0.7 0.4 -0.9 0.2 -0.8 0.5 -1.2 0.4 -0.7 0.5 -0.7 -0.2 -1.2 -0.4 -0.5 1 -0.1 0.5 -0.5 0.8 -0.8 0.5 -0.6 0.7 -1.1 0.3 -0.7 -0.1 -0.7 0.3 -0.8 0 -0.5 -0.3 -1 0.3 -0.8 -0.1 -0.8 0.1 -1.1 0.3 -0.5 0.6 -0.4 0.5 -1 0.5 -0.8 0 -1.1 0.4 -0.7 0.3 -0.4 0.2zM847.5 200.8l0.2 -0.7 0.4 -0.6 0.7 0.1 0.7 -0.3 1 -0.5 0.6 0.6 0.4 0.4 1.4 -0.2 0.8 -0.4 1 0.4 0.8 -0.1 0.5 -0.4 1.2 -0.7 1 -0.6 1 0.1 0.2 -0.6 0.7 -0.7 1.1 -0.4 -0.6 -0.9 -0.6 -0.8 -0.6 0.1 -1.1 0 -0.9 -0.7 -1.2 -0.1 -0.5 -0.3 -0.7 -0.3 -0.4 -0.6 -0.3 -0.6 -0.7 -0.2 -0.9 -0.5 -0.7 -0.5 0.5 0.9 -0.4 0.6 -0.4 0.7 0 0.6 0.1 1.3 -0.6 0.9 -0.5 0.4 -1 0.3 -0.4 0.2 -1.1 0.3 -0.1 0.6 -0.6 0.8 -0.4 0.9 -0.1 0.7zM822.5 220.8l0.9 -0.1 0.7 -0.2 0.9 -0.5 0.7 1 0.5 0.5 0.8 0.5 -0.3 1.2 -0.7 0.8 0.4 0.7 -0.2 1.1 -0.9 0.6 -0.5 0.1 -0.8 0.3 -0.6 -1.1 -0.4 -0.7 -0.2 -1 0.2 -0.8 0 -0.8 -0.8 -0.5 -0.4 -0.4zM828.8 220l0.5 -0.2 0.8 -0.3 0.8 -0.5 0.6 -0.2 0.9 -0.2 0.8 0.4 0.2 0.5 0.4 0.7 -0.2 1 -0.8 0 -0.8 0.3 -0.6 0.6 -0.5 0.2 -0.9 0.2 -0.4 -0.3 -0.7 -0.3 -0.4 -0.7 0.1 -0.8zM852.5 168.8l0.7 0.7 0.7 0.4 -0.4 1.1 0.9 0.5 0.6 0.5 0.2 0.9 0.3 0.6 -0.1 1 -0.2 0.9 0.9 0.6 -0.3 1 -0.9 0.8 0.6 0.9 0.6 1 0.2 1.1 0.7 0.4 -0.3 0.6 0.3 0.9 -0.4 0.5 -1 0.8 -0.7 0.7 -0.4 1.1 0 0.7 0.2 0.8 0.7 0.1 0.8 0.1 -0.6 0.4 -0.9 0.5 -0.9 0.3 0 0.8 -0.2 -0.5 -0.3 -1 -0.1 -0.5 -0.4 -0.7 -0.3 -1 0.1 -1.2 0.7 -0.7 0 -1.1 -0.3 -1 -0.5 -1 0.4 -0.3 0.8 -0.4 -0.4 -0.6 0.2 -0.7 -0.3 -0.6 0.1 -0.9 -0.4 -0.6 -0.9 -0.9 0.6 -0.8 0.6 -0.9 -0.3 -0.4 -0.3 -0.7 -0.4 -1 -0.4 -0.8 0.2 -0.9 -0.1 -1zM800 241.5l0.6 0.3 0.7 -0.1 1.2 0.3 -0.4 0.7 0 0.8 0 0.9 -0.3 0.7 -0.6 0.7 0 0.8 -0.5 1.1 -0.7 0.7 -0.5 1.1 -0.5 -1 -0.8 -0.9 -0.4 -0.6 0 -0.8 0.2 -0.7 0.4 -0.4 0.4 -0.7 0 -1.2 0.7 -0.9zM769.2 256.2l1 -0.1 0.3 -0.5 0.8 -0.3 0.4 -0.6 0.8 -0.5 1 0.3 0.5 0.5 1 0.2 -0.5 0.6 -0.2 0.5 -0.6 0.5 -0.6 1 -0.6 0.7 -0.6 -0.4 -0.6 0 -1 -0.2 -1.1 0.1 0.1 -0.7zM697.5 280l0.9 0.8 0.4 0.5 0.5 0.8 0.6 0.5 0.6 0.6 0.5 0.9 0 1 0.4 0.9 0.6 1 -0.4 0.5 -0.5 0.6 -0.6 0.9 -0.9 0.4 -0.9 0.1 -0.7 0 -0.4 -1.1 -0.3 -1 0.2 -1 -0.7 -0.6 -0.2 -1 -0.4 -0.8 0.4 -1 0.6 -1 0.1 -1.1zM798.8 258.2l0.7 0.2 0.5 0.7 1.1 0 0.9 -0.5 1 -0.1 0.3 0.6 0.2 1 0.8 0.9 -0.7 0.5 -0.4 1 -0.2 0.8 -0.5 0.6 -0.4 0.7 -0.6 0.4 -0.4 0.6 -0.6 0.5 -0.3 0.4 0.8 0.8 0.4 0.5 0.4 1 0.9 0.5 0.8 -0.2 0.5 -0.4 0.1 0.8 0.9 0 0.5 0.8 0.3 1 0.9 -0.1 0.8 0.8 -0.5 1 -1 -0.1 -0.7 -0.3 -0.6 -1.1 -0.9 -0.7 -0.9 -0.1 -1 0.3 -0.8 0 -0.4 -0.6 -0.7 -0.2 -0.4 -1 -0.6 -1 -0.5 -0.6 -0.1 -0.6 -0.6 -0.6 -0.3 -0.6 0.9 -0.6 -0.6 -0.7 0.4 -0.7 0.6 -0.7 0.5 -0.7 -0.2 -0.7 -0.6 -0.9 -0.2 -1.1 0.5 -0.5zM802.5 287l-0.1 -1.2 0.5 -0.6 0.6 -0.7 0.9 -0.1 0.6 0.1 1.1 -0.7 0.1 -0.8 0.8 -0.4 0.5 -1 1.3 -0.1 0.7 0.2 0.8 -0.9 0.5 -0.8 -0.3 0.8 0.7 0.4 0.7 1 0.3 1 1 0 -0.8 0.6 0.6 0.8 0.2 1 -0.2 0.6 0.1 0.7 0.7 0.5 0 0.8 -0.7 0.3 -0.8 0.6 -0.9 0.2 -0.2 0.9 -0.5 -0.1 -0.8 0.3 -0.3 -0.7 0 -0.6 -1 0 -0.6 -0.3 -0.5 -0.6 0.3 -1.1 -0.6 -0.3 -0.7 -0.1 -0.3 -0.9 -0.7 0.1 -1 -0.5 -0.6 0.7 0.3 0.6 -0.7 0.5zM802.5 278.2l0.2 -0.6 0 -1 0.6 -0.7 0.5 -0.9 0.1 -0.7 0.9 -0.6 0.4 0.7 1 -0.3 0.4 -0.6 0.9 -0.3 0.5 0.4 0.7 0.3 1.1 -0.5 0.7 0.4 0.7 0 -0.1 0.8 -0.2 0.7 0.4 0.5 0 0.9 -0.1 0.8 0 0.7 -0.2 1.2 -0.5 0.7 -1 -0.3 -0.7 -0.3 0.3 0.8 -0.7 0.5 -0.6 0.2 -0.6 0.2 -0.7 0.1 -0.7 -0.1 -0.5 -0.4 -0.7 -0.4 -0.8 -0.4 -0.8 -0.4 -0.5 -0.1zM790.5 283.5l0.7 -0.2 0.8 -0.2 0.9 0 -0.1 -0.8 0.5 -0.6 0.5 -0.9 0.6 -0.6 0.7 -0.1 0.4 -0.8 0.6 -0.3 0.6 -0.7 -0.1 -1.1 -0.4 -1 -0.1 0.8 -0.1 0.7 -0.5 0.6 0 0.7 -0.9 0.4 -0.7 0.6 -1 -0.5 0.2 1 0.3 0.6 -0.5 0.5 -0.4 0.9 -1 0.6zM770 300.8l0.9 -0.8 0.6 -0.5 1 -0.5 0.9 -0.7 1.1 0.4 0.8 -0.3 0.5 -0.2 0.7 -0.3 0.5 -0.5 0.4 -0.5 0.6 -0.4 0.9 -0.4 1.1 -0.3 0.6 -1.1 0.9 -0.7 0.8 -0.3 0.6 -0.9 0.9 -0.3 0.4 -1 0 -0.7 0.2 -1.2 0 -0.8 1.2 0.1 0.9 -0.6 1 -0.1 0.7 0.2 1.1 -0.4 0.1 -0.5 0.6 -0.5 0.1 1.1 0.4 0.6 0.6 0.9 0.6 0.4 0.6 0.5 0.8 -0.4 0.7 0.7 0.8 0.7 0.9 0.3 -0.5 0.6 -0.5 0.7 -0.6 0 -0.7 0.3 -0.7 0.6 -0.5 1.1 -0.4 0.6 0.1 0.8 0.1 0.5 0.4 0.9 0 0.6 0.3 1 0.3 0.8 0.9 0.6 1 0.1 0.3 1 -0.6 0 -0.7 0 -0.6 0.5 -0.6 -0.2 -0.7 0.9 -0.6 0.7 -0.2 0.5 0.4 0.8 -0.1 0.5 -0.1 0.8 -0.7 0.2 -0.8 -0.1 -0.8 0.2 0.2 0.9 -0.3 1.1 0.1 0.9 0 0.6 -0.1 1 -0.3 0.6 -0.3 0.6 0.2 1.1 -0.4 0.2 -0.5 0.7 -1.1 0 -0.7 -0.5 -0.9 0 -0.8 0.5 -0.5 -0.6 -0.7 -0.4 -0.3 -0.5 -0.7 0 -1.2 -0.3 -0.7 -0.2 -0.9 0.4 -0.7 0.1 -0.8 -0.2 -0.8 -0.6 -0.6 0 -0.9 0.1 -1.2 -0.3 -0.8 -0.5 -0.2 -0.7 0.1 -0.7 -0.8 -0.8 0.2 -1.1 -0.4 -0.4 -0.6 -0.5 -0.6 -0.8 -0.4 -0.7 -0.1 -1.1 -0.1 -0.7 -0.3 -0.8 0 -1 0 -0.8zM735.8 290.5l0.8 0 0.4 -0.1 1 -0.3 1 -0.3 0.7 0.8 0.6 0.3 0.9 0.6 0.3 1 1 0.8 0.6 0.5 0.7 0.7 0.5 0.7 0.2 0.5 0.4 0.3 0.9 0.1 0.8 0.6 0.9 0.8 0.4 0.8 0.9 0.3 0.5 -0.1 0.7 1 0.8 0.6 0.4 0.6 1 0.8 0.8 0.3 0.8 0.2 0.5 0.6 0.4 0.3 0.5 0.7 0.6 0.4 0.4 0.5 0.6 0.6 0.5 0.4 0.6 0.7 0.3 0.8 -0.1 0.5 0.2 0.9 0.5 0.6 0.7 0.5 0.8 0.9 0.5 0.6 0.6 0.6 1.1 0.4 -0.3 0.5 -0.3 0.9 0 1.6 0.3 0.9 0.1 0.7 0.2 0.5 -0.1 1.1 -0.4 0.8 -0.7 0 -0.7 0 -0.7 0 -0.9 0 -1 -0.2 -0.6 -0.4 -0.7 -0.1 -0.7 -0.2 -0.3 -1 -0.7 -0.9 0 -0.7 -0.4 -1.2 -0.9 -0.4 -0.5 -0.6 -0.8 -0.4 -0.7 -0.4 -0.5 -0.5 -0.2 -1.2 -0.6 -0.5 0 -0.6 -0.7 -0.4 -0.5 -0.1 -0.4 -1 -0.5 0.2 -0.9 -0.1 -0.4 -0.5 -0.7 -0.2 -0.5 -0.9 -0.8 -0.2 0.3 -1.6 0.2 -0.9 -0.3 -0.8 -0.3 -0.6 -0.2 -0.7 -0.6 -0.9 -0.3 -0.8 -0.5 -0.4 -1.1 -0.1 -0.3 -0.5 -0.3 -0.7 -0.4 -1.2 -0.7 -0.3 -0.4 -0.4 -0.8 -0.1 -0.7 0.1 -0.2 -0.5 -0.5 -1 -0.4 -1.1 -0.2 -0.6 -0.5 -0.6 -0.9 -0.5 -0.2 -1.1zM760.5 321.5l0.5 -1 0.6 -0.6 0.9 -0.7 0.7 -0.4 0.8 0.2 1 0.5 0.7 0 0.5 0.7 1 0.3 0.9 0.3 0.7 0 0.5 -0.2 0.5 -0.5 0.6 -0.1 0.9 -0.1 0.9 0.2 0.7 -0.2 0.9 0.9 0.7 0.3 0.8 0.4 0.4 0.2 0.8 0.3 1.1 0 0.9 -0.2 0.7 0.2 1.1 0.7 0.5 0.7 1.1 0 0.7 -0.1 0.6 0.5 0.5 1.1 -0.2 0.5 0.3 0.8 -0.9 0.2 -0.7 0.1 -1 -0.4 -0.9 -0.2 -0.6 -0.3 -1.3 -0.1 -0.9 0 -0.9 -0.1 -1 -0.4 -1 -0.3 -0.4 -0.6 -1.1 0.7 -1 0 -0.7 -0.5 -1.4 -0.3 -0.7 -0.2 -0.7 -0.2 -1 -0.2 -0.8 0.6 -0.6 0.2 -0.5 -0.6 -0.7 0.2 -0.4 -0.5 -0.4 -0.8 -0.8 -0.5 -0.5 -0.2 -1 -0.3 -0.7 0zM785 325l0.7 0.1 1 -0.6 1 0.4 0.7 0.3 0.7 -0.5 0.9 0.3 0.7 -0.8 0.8 0.3 0.6 0.4 0.8 -0.3 0.9 0.7 1.2 -0.1 0.9 -0.1 0.4 0.4 1.2 -0.3 0.9 0.3 0.5 -0.3 1.1 0.3 1 0 0.8 -0.3 0 -1.2 0.4 -0.9 0.6 1.1 0.9 0.3 0.6 0.7 0.7 0 -0.3 0.6 0.3 0.7 -1 -0.1 -1.3 -0.6 -1.5 -0.3 -0.8 1.2 -0.7 -0.3 -0.8 0.3 -0.6 -0.1 -0.8 0.2 -1.2 0.1 -0.5 0.6 -0.5 -0.8 -0.8 0.2 -0.6 0.3 -1 0.5 -1.2 -0.1 -1.7 -0.6 -1 0.5 -0.7 -0.2 -1.2 0.2 -0.2 -0.6 -0.7 -0.4 -1.2 0 -0.3 -0.6zM806.2 330.2l0 -0.5 -0.3 -0.7 0.6 -0.5 1 -0.5 0.9 -0.6 0.8 0.1 0.8 0 0.9 -0.1 1.1 0.2 0.7 -0.3 0.1 -0.9 0.9 -0.2 0.4 -0.5 0.9 -0.2 -0.2 0.8 -1 0.7 -0.5 0.8 -1.1 0.1 -0.4 0.5 -0.7 0.5 -1.1 0.6 -0.9 0.8 -0.5 -0.3 -1 -0.2 -0.7 0.5zM796.2 318.2l1.3 0 0.6 0.1 0.7 0.2 0.4 -0.4 0.4 -0.6 -0.2 -0.8 -0.8 -0.7 -0.8 -0.9 1 -1 -0.6 -1.2 0 -0.9 1.1 -0.5 0.7 -0.3 0.5 0.6 0.4 0.5 0.8 0.2 -0.9 0.2 -0.4 0.8 0.9 1.2 -0.1 1.1 1 0 0.7 0.4 0.9 0.8 0.2 -0.7 0.2 -0.6 0.1 -0.6 0.7 -0.6 -0.7 -0.4 -0.4 -0.4 -0.8 -0.6 -0.6 -1.1 -0.4 -0.7 -0.3 -0.5 -0.1 -0.6 0.3 -1 0.8 -0.2 0.9 -0.5 0.6 -0.5 0.4 -0.3 1.1 -0.7 -0.9 0 -0.4 -0.5 -1.2 0.1 -0.8 0.3 -0.3 0.3 -0.5 -0.5 -0.9 0.3 -1.2 -0.2 -0.4 -0.5 -0.8 0 -0.4 -0.8 0 -0.9 0.2 -0.8 0.9 -0.7 0.9 0.1 0.9 0.3 0.6 -0.2 0.6 0.7 0.9 0.2 0.6 -0.4 0.9 0.1 0.5 -0.4 1.1 0.6 0.6 0.4 0.7 0.1 1 -0.6 0.4 -0.8 0.2 -0.7 0.4 -0.5 1 0 0 -0.4 0.1 -0.8 -0.8 -0.5 -0.4 0.3 -0.8 0.5 -0.3 0.5 -0.7 0.4 -0.8 0 -0.7 -0.7 -1 0.5 -0.1 1.2 -0.8 -0.7 -1 0 -0.6 -0.3 -0.7 0.3 -1.2 -0.4 -0.5 -0.4 -0.6 -0.3 -0.9 0.7 -0.6 0.1 -0.5 0.8 -0.7 0.6 0.2 1.1 0.4 0.6 -0.4 0.7 0.2 0.7 -0.4 0.9 -1 0.4 -0.3 0.6 -0.6 1.1 0 1 -0.4 0.7 0.3 0.9 0.5 0.4 0.5 0.7 0.2 0.7 -0.3 0.7 0.2 0.6 -0.1 1 0.1 1zM816.2 299.5l0.5 1 0.5 0.7 0.3 0.8 0.3 0.7 0.4 0.7 1 0.4 0.5 0.8 -0.6 0.7 -0.9 0.2 -0.7 1 -0.9 -1.1 0.5 -1 0.8 0 1 -0.5 -1 -0.8 -0.4 -0.4 -0.7 -0.2 -0.5 -0.9 -0.3 -0.9zM817.5 312l0.6 0.2 0.8 0.2 0.1 -0.5 0.4 -0.8 0.8 0.1 0.6 0.5 0.8 0.4 0.9 -0.3 0.7 0.5 0.3 0.5 1 0.4 -0.9 0.7 -1 0.8 -0.8 -0.8 -0.8 -1.2 -1 0.5 -0.3 -0.6 -0.5 -1.1 -1 0.1zM825 306.5l0.2 -0.5 0.6 -0.6 0.5 0.1 0.8 0.2 0.9 -0.4 0.8 0.2 1 0.2 0.8 -0.1 0.8 0.6 1.1 0.3 -0.2 0.9 0.2 0.6 0.4 1.1 0.3 0.9 -0.2 0.8 0.7 0.3 0.8 0.4 0.6 0.5 0.3 0.4 0.8 0.4 0.4 -0.9 0.8 -0.7 0.7 -0.6 1.1 -0.2 0.8 -0.9 1.1 -0.4 0.6 -0.3 0.8 -0.3 1.8 0.9 1.3 -0.2 1.1 0.1 0.6 0.3 0.8 0.7 0.5 0.7 0.7 -0.1 0.7 0.1 1.3 0.2 0.9 0.1 1.8 0.3 1 -0.6 1.3 0.7 0.8 1.4 0.9 0.4 0.8 0.5 0.6 0.9 0.5 0.6 0.7 0.8 0.3 0.8 0.7 0.3 0.4 0.4 1.1 0 0.6 0.1 0.9 -0.1 0.8 0.7 0.4 0.5 0.4 0.5 -0.5 0.4 -0.3 0.7 -0.4 0.9 0.3 0.4 0.9 0.6 0.9 0.7 0.1 1.1 0.5 0.9 0.5 0.4 0.6 0.6 0.6 0.5 1 0.4 0.9 0.9 0.3 0.7 0.9 0.8 0.8 0.5 0.9 0.8 -0.7 -0.3 -1 0.1 -1 -0.2 -0.9 -0.1 -0.6 -0.3 -0.5 -0.1 -1 -0.2 -0.9 -0.5 -0.8 -0.1 -0.4 -0.6 -0.6 -0.1 -0.8 -0.2 -0.5 -0.6 0.1 -0.6 -0.1 -0.7 -0.5 -0.5 -0.8 -0.5 -0.7 -0.8 -1.1 -0.4 -1.2 -0.4 -0.9 0.2 -0.5 -0.1 -0.8 0.3 -0.8 0.5 -0.8 0.4 -0.8 0 -0.6 0.8 -0.2 0.5 -0.6 0.6 -0.4 0.6 -0.7 0 -0.9 0.1 -0.8 -0.4 -0.8 0.1 -0.6 -0.1 -0.8 -0.2 -0.6 -0.2 -0.7 -0.3 -0.8 -0.2 -1.2 -0.8 -0.2 -0.6 -0.7 -0.4 -0.6 0.2 -0.9 0.5 -1 0 0.5 -0.6 0.6 -1 0.1 -1.1 0.5 -0.5 -0.6 -0.6 -0.7 -0.6 0 -0.7 -0.6 -0.8 0.2 -1.1 -1 -0.6 -0.5 -0.2 -0.8 0 -0.7 -0.3 -1.1 -0.4 -0.9 -0.7 -0.9 -0.6 -0.6 -0.8 -1.1 -0.4 -0.8 -0.3 -1 0.3 -0.6 0 -1.2 0.2 -0.8 0 -0.5 0.1 -0.3 -0.7 0 -0.6 -0.2 -0.7 -0.5 0 -0.9 -0.4 -0.6 -0.6 0.9 -0.2 0.8 0 0.8 0.3 0.9 -0.7 0.6 -0.1 0.5 -0.6 -1 -0.1 -0.7 0.2 -0.9 -0.1 -0.7 -0.2 -0.7 0 -0.7 -0.6 -0.6 0 -1 -0.6 -0.7 -0.8 -0.2 -0.9zM868.8 318.5l1.1 -0.3 0.8 -0.1 0.8 -0.2 1 -0.7 0.8 -0.4 0.6 0 1 -0.3 0.7 -1 1.1 -0.2 0.8 -0.3 0.2 0.8 0 0.5 0.5 0.7 -0.3 0.5 -0.8 0.7 -0.8 0.4 -0.6 0.3 -0.7 0.6 -0.7 -0.4 -1 0.5 -0.6 0.1 -0.7 0.5 -0.5 0.1 -0.8 -0.3 -0.7 0 -0.5 -0.9zM781.2 359.5l0.6 -0.2 0.7 -0.3 0.6 -0.4 0.6 -0.6 0.7 -0.7 0.6 -0.3 0.9 0.4 0.7 -0.1 0.7 -0.4 0.7 -0.3 1.1 -0.3 0.9 -0.3 0.8 -0.5 0.7 0 0.4 -0.3 1 0 0.4 -0.3 0.8 -0.4 0.9 0 0.8 -0.8 0.7 -0.5 0.8 0 0.9 -0.2 0.9 0 0.9 0.2 0.1 -0.8 0.1 -0.7 0.1 -0.5 0.7 -0.7 0.3 -0.5 0.9 -0.1 1 -0.4 -0.5 -1 0.1 -0.5 0.2 -1 0.8 0.1 0.4 0.3 0.8 -0.1 0.5 0.1 0.7 0.4 -0.1 -0.5 -0.1 -0.8 0.2 -1 0.3 -0.5 0.9 -0.6 0.4 -0.6 1 -0.6 0.5 0 0.6 -0.6 0.6 -0.9 0.5 -0.5 0.8 -0.4 0.8 -0.8 0.8 -0.4 0.6 0 1 -0.4 0.6 0.7 0.6 0.5 1.2 0.2 0.6 0.9 0.6 0.1 0.9 -0.4 0.8 0 0.5 0.1 0.7 0.5 0.3 -0.9 -0.1 -0.8 -0.2 -0.7 0.5 -1.2 0.8 -0.2 0.7 -0.3 0.5 -0.9 0.2 -0.5 0.3 -0.8 0.9 0.2 0.7 0.1 1 -0.2 1 -0.6 0.7 -0.2 -0.1 -0.8 0.3 -1 1 0.2 0.6 0.4 0.8 0.7 1.1 0.8 0.5 -0.1 0.9 0 1.1 0 0.7 -0.1 0.6 -0.4 0.8 -0.2 0.8 0.7 1 -0.1 0.6 0.1 0 1.1 -0.2 0.8 -0.5 0.9 -0.5 0.6 -0.2 0.7 -0.8 0.7 -0.2 0.7 -0.1 1 0.9 0.2 1.1 -0.1 0.3 0.7 0.3 0.4 0.1 0.7 0.3 0.6 0.4 0.8 0.6 0.8 0.8 0.6 0.5 0.5 0.7 0.3 1.3 0.1 0.7 0.1 0.5 0.6 1 -0.1 0.5 -0.1 0.8 0.2 1 0.2 0.7 0.2 0.1 -0.9 0.4 -0.9 0.6 -0.6 0.3 -0.5 -0.2 -1 0.5 -1.1 -0.5 -0.9 0.1 -0.8 0 -0.9 0.7 -0.8 0.3 -0.7 -0.3 -0.9 0.8 -1.2 0.3 -0.9 0.3 -0.8 0.8 -0.6 -0.3 -0.6 0.1 -0.7 -0.4 -0.6 -0.6 -0.8 0.6 -0.5 0.9 -0.3 0.6 1.1 0.1 0.8 0.1 0.8 0.3 0.9 0.4 0.7 0.7 1 0.3 0.9 -0.1 0.9 0.2 0.8 0.3 0.4 0.1 0.7 0.4 0.4 0.9 0.4 0.7 0 1 0.3 0.8 0.7 -0.1 0.8 0.2 0.7 0.1 0.8 0.1 0.8 0.1 0.7 0.4 0.9 0.5 0.6 0.4 0.6 0.5 1.3 0.7 0.6 -0.7 0.8 0 0.9 0.5 0.4 1 0.3 0.7 0.5 1 0.3 0.4 0.7 0.4 0.4 0.8 -0.2 0.9 0.6 0.7 0.9 0.6 0.4 1.1 0.6 0.2 1.5 -0.2 0.9 -0.1 0.9 1.1 0.1 0.6 -0.4 0.6 0.5 0.9 0.9 0.5 0.6 0 0.6 0.3 0.8 0 1.2 0.9 0.6 0.9 0.6 1.2 0.1 0.8 0.4 0.6 0.5 0.6 0.8 0.1 1.2 0.2 0.8 -0.2 0.4 0.1 0.9 0.2 1 0.1 0.7 -0.1 0.6 0 0.9 0.6 1 -0.1 0.5 0.3 0.8 -0.2 0.5 -0.4 0.9 -0.2 0.9 0.6 0.7 -0.4 0.8 -0.5 0.6 -0.1 0.6 -0.1 1.1 0.1 0.7 -0.7 0.9 -0.2 0.6 -0.3 1.1 0 0.7 -0.4 1.2 -0.9 0.8 -0.8 0.7 -0.9 0.4 -0.3 0.9 -0.5 0.7 -0.4 0.6 -1 0.2 0.2 1.1 0 0.7 -0.4 0.9 -0.1 0.7 -0.7 0.9 -0.1 0.8 0 1 -1 0.2 -0.8 0.5 -1 0.7 -1.1 -0.1 -1.1 0.4 -0.9 0.9 -0.1 0.4 -0.7 0.6 -0.6 0.6 -0.7 0.4 -1.3 -0.1 -0.6 -0.6 -0.3 -0.4 -0.8 -0.2 -0.9 -0.3 -0.6 -0.3 -1.2 0.1 -0.6 0.9 -1.2 0 -0.8 0.3 -0.7 0.1 -0.5 -0.4 -0.9 -0.2 -0.5 -0.1 -0.7 -0.4 -0.5 -0.1 -1.2 -0.2 -0.6 0 -0.7 -0.3 -0.4 -1.1 -0.8 0 -0.5 -0.2 -0.7 -0.4 -0.1 -1 0.3 -1 -0.4 -0.6 -0.3 -0.4 -0.8 -0.7 -1.1 -0.3 -0.4 -0.6 -0.9 -0.4 -0.5 -0.4 -0.9 -0.4 0.2 -1.1 0 -0.7 0.3 -0.8 -0.1 -0.9 -0.3 -0.7 -0.4 -1 -0.1 -1 -0.7 0.3 -0.3 1 -0.6 0.6 -0.5 0.6 0.1 0.8 -0.8 0.6 -0.6 0.4 -0.5 0.4 -0.6 0.6 -0.5 -0.7 -0.8 0 -0.7 -0.9 -0.1 -0.5 -0.3 -0.9 -0.3 -0.5 -0.1 -1 -1.2 0.1 -1 -0.6 -0.3 -0.4 -0.8 -0.2 -0.9 -0.7 -1.1 0.3 -1.1 -0.5 -0.8 -0.5 -1.1 -0.3 -1.6 0.5 -1 -0.4 -0.9 -0.1 -0.9 -0.4 -0.6 -0.1 -0.5 0.1 -0.9 -0.3 -1.1 0.1 -1.5 0.2 -1.1 0.5 -1.3 -0.6 -0.5 0.5 -0.6 0.2 -0.6 0.4 -0.8 0.4 -0.6 -0.6 -0.9 -0.2 -1.2 0.3 -0.5 1.1 -0.7 0.4 -1.1 0.8 -0.1 0.5 -0.3 0.8 -0.5 0.3 -0.4 0.6 -1.4 0 -0.8 -0.1 -0.8 0.3 -1.2 -0.4 -1.2 0.4 -1.3 -0.1 -0.9 0.2 -1.1 -0.3 -0.7 1 -0.4 0.7 -0.5 0.9 -1.3 0 -0.7 0.2 -0.6 0 -0.8 0 -1 -0.4 -0.7 -0.2 -0.8 -0.1 -0.4 -0.5 -0.8 0.3 -0.4 0.6 -0.9 0.1 -0.5 -0.3 -0.7 -0.4 -0.5 -0.6 -0.8 -0.3 0.2 -0.7 0.6 -0.5 0.3 -0.8 0.3 -0.8 0 -1.4 0.4 -0.7 0 -0.8 -0.4 -0.6 0.3 -0.9 -0.6 -0.9 -0.5 -0.5 -0.6 -0.8 0 -1 0.3 -0.7 0.4 -0.5 -0.4 -0.8 -0.4 -0.5 -0.5 -0.6 -0.6 -0.9 -0.2 -0.8 -0.2 -0.8 0.4 -0.5 1 -0.7 -0.4 -0.4 -0.5 -0.7 -1.2 -0.2 -0.9 -0.9 0 -1 -1.1 -0.7 0.4 -0.5 0 -0.9 -0.1 -1.1 0 -0.8 0 -0.9 0.2 -1.1 0.1 -0.8 0.5 -0.3 -0.2 -0.6 -0.2 -0.7 0.1 -1zM859.2 406.5l1 -0.5 0.6 0.4 0.6 0.6 1 0 0.5 -0.1 0.9 0.3 0.6 -0.1 0.7 -0.1 1.1 -0.2 0.8 0.2 0.4 -0.3 0.8 0.1 0.1 0.7 -0.5 0.6 -0.6 0.6 -0.3 0.6 0.6 0.5 0.5 0.4 -0.9 0.9 -0.2 0.7 -0.7 1 -0.6 -0.2 -0.7 0 -0.9 -0.1 -0.7 0.3 -0.8 0.4 0 -0.6 -0.1 -0.7 -0.4 -0.6 -0.1 -0.7 -1.1 -0.4 0.4 -0.5 0.2 -0.9 -0.5 -1.1 -0.4 -0.7 -0.8 -0.3zM929.2 390.8l0.5 0.8 -0.1 0.8 0.6 0.6 0.4 0.6 0.8 0 0.7 -0.2 1.1 -0.2 0.5 0.5 0.8 -0.1 0.6 0.4 0.7 1 0.4 0.6 0 0.6 0.5 0.9 0.7 0.4 0.5 0.2 -0.4 0.8 0.7 0.3 1 -0.4 0.4 0 0.8 -0.1 0.8 0.4 0.7 0.2 0.6 -0.4 0.3 1.1 0.4 1.2 -0.6 -0.1 -0.9 0.5 -0.7 0.9 -1 0.7 -0.3 0.9 -0.1 0.9 -0.1 0.6 -0.9 0.6 -0.2 0.5 0 0.8 -0.6 -0.1 -0.8 0.3 -0.8 0.4 -0.4 0.8 -0.1 -0.8 -1.2 -0.2 -0.8 -0.6 0.1 -0.6 0.6 -0.6 0.4 -0.5 0.2 -0.7 -0.3 -0.8 -0.4 -0.4 -0.7 0.3 -0.7 0.2 -0.6 -0.7 -0.3 -0.3 0.5 -0.8 0.7 -0.3 0.8 -0.9 -0.2 -0.5 -0.4 -0.7 0.1 -1.3 0.7 -0.5 -1.1 -0.3 -0.2 -0.8 0 -0.5 -0.8 -0.7 0.1 -0.6 -0.8 -0.9 -0.2 -0.8 -0.4 -0.7 -0.5 -0.8 -0.6 -0.2zM929.2 405.8l0.8 0.2 0.4 0.7 0.7 0.6 0.5 0.4 0.5 0 0.9 0.1 -0.6 0.3 -0.5 0.3 -0.8 0.1 -0.6 0.3 -0.8 1.1 0.2 0.9 0.1 1.2 -0.8 -0.1 -1.1 0.5 0.8 0.9 -0.1 0.7 -0.5 0.6 -0.7 0.2 -0.5 0.2 -0.9 0.1 -0.7 0.7 -0.6 0.6 0.2 1.1 -0.4 1 -0.5 0.5 -0.5 0.3 -0.6 0.6 -0.4 0.4 -0.8 0.3 -0.7 0.4 -0.8 0.1 -0.7 -0.4 -0.8 0.7 -1 -0.2 -0.4 -0.4 -0.2 -0.8 -0.6 -0.9 -0.6 0.2 -0.9 -0.2 -0.8 0.4 -0.6 0 0.4 -0.6 0.7 -1 0.8 -0.4 0.6 -0.1 -0.1 -0.9 0.8 0.1 0.6 -0.3 0.8 -0.7 0 -1.1 1 -0.2 0.6 -0.3 0.6 -0.4 1 -0.8 -0.1 -0.8 1 -0.1 1 -0.5 0.4 -0.4 1.1 -0.2 0.2 -0.7 0 -0.9 0.7 -0.9 1.1 -0.4 0.5 -0.9 0.9 -0.7zM626.2 125l1.2 1.1 2.5 0.4 0.8 -1.1 1.2 -0.6 1.1 -1.1 -0.7 -1.4 -1.2 -0.7 -1.1 -0.4 1.1 -0.4 1 0.1 0.9 -0.7 0.4 -0.6 1.1 -0.1 0.3 -0.7 0.2 -0.6 1.2 -0.1 0.9 -0.4 1.1 0 1.1 -0.3 0 -0.7 0.7 -0.9 1.5 1.2 1.4 1 1.2 0.3 1.8 1 0.5 -1.6 -0.5 -2.8 2.2 -0.9 1.9 -0.2 2.2 0.7 1.9 -1.7 2.6 0.6 1.1 1.6 0.7 -0.4 0.9 -0.8 2.1 -1 1 -0.8 0.9 0.7 1.3 -0.2 0.8 -0.3 1.4 -0.5 1.3 -0.2 0.7 0 1.1 0.5 -1 0.7 1 0.5 -1.1 0.5 -1 0.6 -1.8 1.4 -2.2 -0.3 -0.6 -1.6 -2 0.1 -0.9 1.4 -2.9 0.5 -1.9 0.3 0 1.5 -1.2 -0.8 -1.1 -0.3 -0.2 1.2 -2.1 0.9 -1.5 1.2 -2 -0.8 -1.1 -1.4 -1.6 1.1 -1.5 0.7 1.2 0.9 -0.1 1.5 -1.5 0.3 -0.4 1.1 -0.6 1.7 2 0.1 1.2 0.1 0.3 0.9 -1.2 0.8 -1.1 -0.3 -2.1 -0.2 0.2 1.5 -0.5 -1 -0.8 -0.5 -2 -0.4 -1.5 0.4 -1.3 0.1 -1.1 0 -2.1 0 0.6 1.1 -0.6 -0.3 -1 -0.3 -0.7 0 -0.9 0 -0.6 -0.4 -0.7 -0.2 -0.6 -0.7zM525 105.8l1.8 -0.7 1 -0.5 0.5 -0.6 -0.5 -1 0.6 1.1 1.7 -0.7 0 1.6 2.4 -0.5 3.6 0.4 1.9 0.6 1.7 -0.9 2.6 0.5 1.4 0 1.5 0.2 3.4 -0.3 -1.1 -1.8 -0.1 1.5 1.9 1.8 4.1 0.5 1.5 -2.2 1.4 -2.5 3.8 0.8 1.9 1.2 3 -0.3 -0.9 1 -0.9 1.5 -1.2 0.8 0.5 0.7 -1.1 0.4 -1.5 -0.5 -1.5 0.2 -0.9 -1.1 -0.4 0.6 -0.7 0.3 -1 0.1 -0.3 0.4 -1.5 -0.1 -0.6 0.8 -1 -1.1 -2 0.2 1.3 -0.2 0.8 0.2 0.8 0.7 -0.8 0.1 -0.6 0.8 0.6 0.3 0.4 0.7 -1.3 1.2 -2.5 0.1 -0.5 2.1 -2.8 0.3 -0.1 -1.4 -1.7 -0.9 -1.2 0.8 -2.4 0 -0.8 0.3 -1.1 -0.1 -0.3 -0.7 -1.5 -0.5 -2.1 0 0 -1.1 -0.9 -0.1 -0.8 0 -2.1 0 -1.6 1.2 -2 -0.5 -1.4 1 0.5 -1.2 -0.8 -0.6 0.9 -2 -1 -1.2 -0.3 -1.1zM735 106.5l1.6 0.5 1.2 -0.2 1.9 -0.4 -1.1 -1.4 1.5 0.1 1.5 0.3 0.9 0.8 0 1.3 1.8 -0.2 1.1 0 -0.4 -1.1 1 -0.8 1.2 0.9 1 -1.1 0 1.2 1.8 -0.2 0.9 -0.4 0.9 0 1.4 0.8 1.1 -0.5 1.5 1.3 1 0.5 1.8 -0.5 1.4 0.8 -0.2 -0.8 -1.4 -0.4 -0.7 -0.8 0.4 -0.6 -0.6 -1.1 -1.8 -0.4 -3.2 -0.6 -0.1 -2 0.1 -1.6 -2.7 -0.3 -1.2 1 -2.2 0.5 -3.9 0.4 -0.9 -0.3 -1.6 0.1 -1.6 0 -2.5 0.3 -1.5 -0.4 -1.2 0 -1 0.8 0.3 1.2 0.6 0.4 0.7 0.6 1.2 -0.1 -0.7 0.9 -1.5 0.4 1.1 0.9zM840 115.8l0.7 0.4 0.5 0.6 0.5 0.1 1.1 -0.1 1.4 0.2 1.3 0.4 1 -0.4 1 0.5 1.3 0.8 1.3 0 1.2 -1 0.5 -0.8 1.8 0 1.3 0.2 1.5 -0.1 1.1 0.4 2.5 0.2 0.5 -1.5 1.3 0.3 0.8 0.3 1.6 -0.3 1.2 -0.1 0.8 0.4 1.3 0.2 0.5 -0.4 0.5 -0.4 0.8 0 0.5 0 0.9 0.3 0.7 0.1 1.1 0.4 -1 -0.5 -1.1 -0.1 -1.1 0 -1.2 0.3 -1.3 -0.5 -1.5 0.7 -1.1 -1.1 -1.7 -0.8 -1.5 -0.1 -2.3 0 -2.2 -0.1 -2 1.3 -1.2 -0.3 -1.5 -0.3 -2.5 -0.3 -1.8 -0.2 -0.9 0.2 -1.3 0.3 -1.4 -0.4 -1.3 0 -0.9 0.5 -0.8 0.2zM943.8 127l0.9 0.2 0.8 -0.4 0.3 0.5 0.4 0.7 0.8 -0.3 0.5 -0.2 0 -1.7 -0.5 -0.4 -0.9 0 -1.1 0.4 -0.7 0.7zM47.5 127.5l0.6 -0.6 0.3 -0.4 0.9 0.2 0.9 0.4 0.6 -0.5 0.9 -0.9 0.6 1.1 1.5 0.2 -0.4 -0.7 -0.9 -0.5 -1.1 0.1 -0.5 0.7 -0.9 -0.1 -0.9 -0.2 -0.4 -0.3 -1.2 -0.2zM615 104l4 1.3 2.5 -0.5 -2.1 2.4 0.6 2.1 3 -0.8 4.7 0.5 0 -2.7 -0.2 -1.8 1.2 1 1.6 0.4 1.3 0.6 1.8 0 2.3 -2.6 3.1 1.3 2.2 -1 1.5 -0.4 1.7 -0.4 0.1 -0.7 1.7 -0.6 1.5 0.4 0.7 0.1 1 0.4 2.1 -0.4 1.2 0.4 -1.2 0.7 -0.9 0.4 -1.6 1.8 -2.7 -0.4 -1.9 -1.1 -3.8 -0.6 -0.2 -2.3 2.3 -0.7 -2 -0.1 -1.3 -1.2 -2.2 -0.4 -1.9 -1.1 -4.5 0.1 1.6 3.2 -2.6 -1.8 -2.1 2.5 -0.9 -1.8 -3.2 0.1 -1.9 -0.9 -1.7 1.6 -1.7 0.4 -1.6 0.3 -0.7 0.3 -0.8 0.8 0 0.5zM344.5 432l1 0.1 0.8 0.2 1 0.2 0.7 0 0.8 0 1 0 0.8 0.1 1 -0.1 1 0.4 0.4 0.3 -0.5 0.5 -0.7 0.5 -0.6 0.8 -0.6 0 -0.6 -0.2 -0.9 0 -1.1 0 -0.7 0.1 -1.1 0.1 -0.1 -0.6 -0.6 -0.5 -0.5 -0.5 -0.2 -0.7zM107.5 256.8l0.9 -0.2 1.1 -0.1 0.5 -0.3 -0.1 -0.5 0.3 -0.7 -0.8 -0.5 -0.8 -0.2 -0.6 -0.3 -0.2 0.6 -0.5 1zM268.8 305.2l0.4 -0.3 0.8 -0.4 0.1 0.9 0.3 0.5 0.1 0.9 -0.8 -0.1 -0.7 0.3 0 -0.7zM635.5 356.5l0.6 -0.1 0.9 0.1 1.1 -0.1 0.9 -0.2 0.1 0.6 -0.1 0.7 -0.6 0 -0.6 0.5 -0.7 -0.1 -0.6 -0.2 -0.7 0.1 -0.6 -0.8zM190 114.5l1.6 0.8 2.1 -0.4 1.4 0.8 -0.7 1 1.4 -0.5 0.7 -0.4 2.6 0.1 0.9 -0.9 2.1 -0.4 1.3 -1.2 0.5 -1.3 -0.8 -0.9 0.8 -0.7 1.7 0.5 0.2 1 1.7 0 -0.4 -0.7 -1.4 -0.3 -1.4 0.2 -0.7 0.8 -1 0 -0.2 -0.8 0.1 -1.2 -1.2 -0.6 -1 -0.3 -1.8 0.2 -1.4 1.1 -0.4 0.9 -1.2 0.8 -1.6 0.1 -1.4 -0.2 0.3 1 -0.7 0.6 -0.8 0.7 -0.7 -0.3zM235 109.5l1 -1 1.7 0.5 1.8 0.3 -0.1 -1.4 2 -1.5 3.5 0.3 3.5 2 -3.4 1.3 0.8 0.7 0.4 0.5 0.7 -1 1.1 -0.3 1 -0.1 0.3 -0.8 -0.1 -0.9 0.8 -0.6 -2.9 0.7 -0.6 -1.6 1.5 1 -1.8 1.3 0.2 -0.9 -0.1 -1.3 -2.4 1.1 -1.4 -1.6 -1.2 -1.4 0.1 -1.3 -2.6 -0.3 -1.3 1.9 -0.5 0.4 -0.6 0.4 -1.2 0.1 -0.2 1 -0.7 0.8 -0.4 0.7 0.9 0.3zM252.5 110l0.6 -1.2 1.9 0.4 1.3 -0.8 0.6 -1.6 1.1 1.4 1.5 0.4 1.2 0.3 -0.7 1.1 0.8 -0.3 -0.2 -0.9 -0.6 -1 -2.4 0.7 -0.8 -1.5 -0.1 -1.2 -1.4 -1.4 -1.3 -0.1 -0.5 1 -0.9 1.5 -0.1 1 -0.8 0.4 -0.3 0.7 0.1 0.6zM257.5 117.8l0.7 -0.1 1 -0.2 0.9 -0.5 0.4 0.6 1.3 0 0.8 0.6 1.2 -0.4 0.7 -0.9 0.2 -0.9 -0.9 -0.2 -1.2 0.4 -0.6 -0.6 -0.9 -0.5 -1.2 0.2 -0.5 -0.4 -0.6 0.4 -1.3 0.5 0.2 1.1zM296.2 122.5l1.6 0.3 0.1 0.7 2.1 0.4 1.1 0.6 1.9 -0.2 1.3 0 1.6 -0.2 0.3 -1.1 0.7 -0.8 0.5 0.3 1.1 -0.1 0.6 -0.5 0.4 -1 -1 0.7 -1 -0.8 -0.4 2.3 -3.9 -1.2 -0.7 0.6 -1 0.7 -0.9 -1 -1.5 0.2 1.5 -1.3 -1.8 -1.1 -1 -0.7 -0.7 0.5 -0.2 0.8 -1 0.2 0.2 0.7zM303.8 136.5l0.5 0.7 1 -0.1 0.6 0 0.5 -0.4 0.9 0.1 0.7 -0.4 0.8 0.1 1.1 -0.5 0.3 -0.6 -0.7 -0.6 -0.7 -0.8 -1 0.1 -0.5 0.3 -1 -0.2 -0.6 0.1 -0.5 0.3 -0.9 0.3 -0.5 -0.9 0.1 0.8 0.5 0.4 0.6 0.2 -0.7 0.4zM290 149l0.5 -0.5 0.1 -0.7 0.7 -0.2 0.6 0.1 0.9 -0.2 0.7 0.9 1.5 -0.4 -0.2 -0.6 0.4 -0.9 0.7 0.3 0.5 -0.2 1.1 0.4 -0.4 -0.9 -1.8 0.2 -1.3 -0.4 -0.5 1.2 -0.4 0.3 -0.9 0 -1 -0.4 0.3 0.6 0.9 0.1 -0.2 0.7 -1.1 0.4zM296.8 150.8l0.3 0.6 1 -0.1 0.6 -0.7 0.5 -0.4 0.2 -0.7 -0.6 -1 -1 0.1 -0.8 -0.1 -0.2 0.9 0.6 0.6zM292 172.5l1.1 -0.5 0.8 0.5 1 -0.1 1 -0.3 1.1 0.4 -0.9 -0.6 0.1 -0.7 -1 -0.1 -0.5 0 -0.8 -0.3 -0.9 0.2 -0.5 0.2 -0.1 0.6zM297.5 165l0.7 -0.1 0.8 0 1 0.1 -0.4 -0.7 0.1 -0.5 0.3 -1 -0.7 -0.3 -0.9 0 -0.9 0.3 0.3 1.2zM336.2 179.8l1.6 0.3 0.5 0.9 0.6 1 -0.6 0.9 1 -0.4 0.8 -0.6 1.5 -0.5 0.9 0.4 0.7 -0.6 -0.9 -0.6 -0.7 -0.8 -0.3 -0.6 -1 0.2 -0.6 0 -0.9 0.4 -1.2 -0.4 -0.8 -0.4zM336.8 187.8l0.6 0.7 1.2 -0.2 0.5 0.5 1.2 0.5 0.8 0 1 0.1 0.4 -0.4 -0.5 -1 -0.6 0.8 -1.2 -0.3 -0.7 -0.9 -0.5 -1.1 -0.9 -0.2 -0.6 0.7zM165 169l1 0.5 1.1 -0.1 -0.2 -0.8 0.6 0.3 0.5 0.6 1.1 0 0.8 0.6 1.5 -0.3 0.2 1.2 -1.5 0.1 -0.9 0.8 0.1 0.8 0.2 0.5 -1.2 0.3 -0.7 -0.1 -0.6 -0.9 -1.1 -0.6 0.7 -0.9 0.6 -1.3 1.2 -0.2 -0.8 -0.5 -1.3 0.4 -1 0zM111.2 160.8l0.7 0.4 1 0.2 1 0.1 1.3 -0.1 1 0.2 0.9 -0.9 -0.2 -0.4 -0.1 -0.8 -0.5 0.8 0.5 0.9 -1.1 -0.1 -1.2 0.3 0 -0.7 -0.4 -0.8 -0.5 0.6 -0.9 0.4 -1 0.8 0.8 0.8 -0.6 0 -0.6 -0.4 0.2 -0.8zM79.2 154l1 0.8 0.7 -0.7 -0.9 -0.7 1.1 -0.7 1.2 -0.2 1.1 -0.2 -1.2 0.9 1 0.6 0.9 0.6 -0.9 0.6 -0.3 0.8 -0.6 -0.5 -1 0.3 -1 -0.2 -0.3 -0.4 -0.4 -0.6zM68.2 146l0.6 0.7 1 0 1.5 -0.5 0.8 -0.4 0.6 0 0.9 -0.1 0.5 0.3 0.9 0 0.5 0.8 -0.9 0.7 -1.1 -0.8 -1.5 0 0.2 -1.2 -1.4 -0.1 -0.9 0.9 -0.7 0.1 -0.4 0.6zM343 279.2l0.8 0 1.2 0 0 -0.8 0 -0.9 -1.1 0 -0.9 0.3 0.1 0.6zM518.2 202.2l0.5 -0.2 0.7 -0.4 0.7 0 1.1 -0.1 0.3 0.6 0.3 0.7 0.3 0.6 -0.2 0.9 0.2 0.8 -0.3 1.1 -0.7 0.4 -1.2 0.2 -1.1 0.2 -0.7 -0.8 -0.5 -1 0 -0.6 0.2 -1.1 0.3 -0.7zM519 197.5l0.8 0 0.6 0.1 0.8 -0.6 0.7 0.9 0.1 0.9 -0.9 0.6 0.2 0.7 -0.3 0.7 -0.8 0 -0.7 0 -0.1 -1 -0.2 -0.6 -0.1 -0.9zM528.8 209.5l0.7 -0.3 0.8 0 0.8 -0.2 0.5 -0.3 1.4 0.1 1.2 0 1.1 -0.2 0.9 0.4 0.4 0.7 -0.2 0.8 0.1 1 -0.5 0.8 -0.5 0.5 -0.8 -0.1 -0.7 0.1 -0.6 -0.4 -0.7 -0.3 -0.8 0.1 -1 -0.2 -1.2 -0.7 -0.9 -0.8zM556.5 215.8l0.6 0.5 1 -0.4 -0.1 1 0.9 0.6 0.7 0.1 0.7 -0.5 1.2 -0.1 1.5 -0.8 0 0.8 -0.7 0.1 -0.9 -0.2 -0.5 -0.7 -1.2 0.1 -1.1 0.2 -0.9 -0.5 -0.4 0.4 -0.8 0.1zM578.2 217l0.9 -0.2 0.7 -0.1 0.8 0.2 0.7 0 0.5 -0.5 0.9 -0.2 0.2 -0.5 0.9 -0.2 -0.5 1 -0.8 0.7 -0.7 0.4 -0.4 0.4 -0.9 -0.3 -0.8 0.3 -0.9 0zM503.5 205.5l0.6 -0.1 0.6 -0.2 0.5 -0.5 0.8 0.1 -0.7 0.6 0.2 0.8 -1 -0.3zM543 161.8l0.6 0.1 0.7 0.1 0.9 -0.7 -0.9 -0.5 0.7 -1 0.5 1 -1 0.7 -0.8 0.3zM525 166.2l1.1 -0.4 0.7 -0.4 1.1 -0.3 1.1 -0.6 0 1.1 -0.2 0.9 -0.6 0.5 -1.2 0.3 -0.6 0 -0.9 0.2 0.1 -0.9zM745 104.5l2.7 0 0.7 -1.7 3.4 0 -0.4 1.8 0.5 0.6 1.4 -0.1 0.7 0 1 -0.1 0.4 -0.8 -1.6 -0.2 0.3 -0.8 -0.6 -0.9 -1 -0.3 -3.1 0.6 -0.2 2.4 -2.7 -0.2 -1 -2.2 -1.2 -0.2 -0.9 -0.4 -2.2 1.1 -1.2 -1.1 0.6 0.6 0.6 0.9 1.7 -0.7 1.3 -0.5 -0.3 0.9zM618.2 132.5l1.2 -0.2 0.9 0.1 0.9 0 0.8 0.1 0.2 -0.7 -0.2 -1 -0.8 -0.5 -0.7 0 -1.1 -0.2 -0.6 0.3 -0.6 0.4 0.3 0.9zM747.5 109l2.2 1.5 2 0.5 1.1 1.3 0.9 0.7 1.6 -1 1.7 -1.5 1.5 0.5 1.5 -1 0.1 -0.9 0.3 -1 -0.4 -0.6 -1.3 0.3 -1.3 0.3 -1.3 0.1 -0.9 0.2 -0.9 -0.6 -1.3 -0.8 -1.4 -0.1 -1.6 0.1 -0.9 0.2 -0.8 0.9zM850 120.8l0.6 0.3 1.2 0.2 0.6 0.3 0.8 0.3 0.8 0 0.6 -0.4 1.1 0 0.5 -0.3 -0.3 -0.6 -0.9 -0.5 0 -0.6 -1.2 -0.1 -0.6 0.5 -0.5 0.4 -0.4 0.5 -1.1 -0.7 -1 -0.3 -0.6 -0.1 -0.8 -0.2 0.3 0.5zM863.8 193l0.2 -0.5 1.1 -0.4 0.8 -0.9 0.9 -0.2 0.8 -0.3 0.6 -0.3 0.7 0.3 0.6 -0.2 -0.7 -0.5 -0.7 0.5 -1.3 -0.1 -0.6 0.5 -0.7 0.4 -0.8 0.6 -0.9 -0.1 -0.6 0.4zM872.5 189.5l1 -0.6 1.1 -0.1 0.1 -0.6 0.9 -0.1 1.2 -0.5 0.5 -0.6 0.7 -0.5 -0.5 -0.5 -0.5 0.7 -1.1 0.2 -1.3 0.4 -0.7 0.4 -0.6 -0.2 -0.7 0.1 -0.3 0.6 -0.3 0.6zM882.5 182l0.6 -0.7 0.9 -0.4 0.1 -0.6 1.5 -0.5 1.1 -0.4 0 -0.9 0.8 -0.5 -1 -0.5 -0.7 1 -0.1 0.6 -1.1 0.6 -0.4 0.5 -0.5 0.7 -0.7 0.2 -1 0.1zM813 221.2l0.9 -0.2 0.9 -0.2 0 0.7 -0.9 0.1 -0.9 -0.1zM783.8 325l0.7 -0.3 1 -0.5 0.7 0.4 0.6 0.2 0.4 -0.7 0.8 0.4 0.7 0.3 0.5 0.4 0.1 0.8 -0.3 0.8 -1.1 -0.6 -0.8 0.1 -0.9 -0.6 -0.7 0.8 -0.5 -0.7 -0.8 -0.1zM795 328.2l0.6 0.4 0.9 -0.2 0.4 0.7 0.7 0.6 0.8 -0.7 1.1 -0.2 -0.9 0.5 0.2 0.7 -1.2 0.2 -0.7 -0.6 -0.7 -0.2 -0.7 0.1 -0.5 -0.6zM760.5 308.5l1.2 0.3 1 0 1.1 0.7 0.1 1.1 0.1 0.5 0.2 0.9 -0.8 -0.1 -0.6 0.1 -0.8 -0.5 -0.4 -0.6 -0.2 -0.5 -0.1 -1.2zM812.5 312.2l0.5 0.2 0.7 0.4 0.9 0 0.9 -0.3 -0.1 0.9 -0.4 0.6 -0.5 0 -0.8 0 -0.9 -0.2 0 -0.9zM874.5 311l1 0.3 1 0.1 0.7 -0.3 0.4 0.5 0.7 0.7 0.5 0.9 0.1 1 0.3 0.6 0.3 0.7 0.5 0.7 -0.7 -0.7 -0.5 -0.3 -0.8 -0.8 -0.7 -0.7 -1 -0.4 -0.3 -0.6 -1 -0.7zM884.2 318.2l0.4 0.5 0.8 0.6 0.7 0.5 0.3 0.8 0.8 0.4 -1 0.5 -0.3 -0.4 -0.6 -0.7 -1 -0.6 -0.5 -0.8zM896.5 327.8l0.5 -0.1 0.8 -0.1 0.9 0.5 0.8 0.7 -0.5 0.4 -1.2 0.2 -0.8 -0.3 -0.5 -0.3zM907.5 354.8l1.2 0 1.6 0.3 1.2 1.3 1.1 0.5 0.6 0.6 0.4 0.8 0.6 1 0.6 0.5 -0.6 0.4 -0.4 0.3 -1.6 -0.4 -0.8 -0.7 -0.8 0 -0.5 -0.7 -0.5 -0.5 -1 -0.5 -0.8 -0.7 -0.3 -1 0.1 -0.8zM940.8 348.2l1.1 -0.1 0.8 -0.1 0.6 0.2 0.7 0 -0.3 0.7 0.1 1.1 -1.3 0.1 -0.7 0.2 -1 -0.3 -0.5 -1.1zM630.8 273l0.5 0.1 0.9 -0.2 0.9 0 0.7 0.1 0 0.8 -0.8 -0.1 -0.6 -0.1 -0.9 0.4 -0.7 -0.2zM595.5 319l0.7 0 0.2 0.9 -0.2 0.6 -0.7 0 -0.2 -0.9zM518.8 295.2l1 0 -0.2 0.8 0.2 0.5 -1 0 -0.1 -0.8zM321.2 436.2l1 0.1 0.4 0.4 0.3 0.9 1.2 -0.4 0.5 0.8 1.1 -0.5 -0.8 -0.8 1.3 -0.5 1.1 1 0.7 0.5 2.3 0.1 0.7 1.7 0.9 0.3 0.8 0.2 1.3 0.1 -0.2 0.9 -0.7 1 -1.1 1.5 0 0.8 -1 0.9 -0.4 -1.4 -2.8 -0.1 -1.1 -0.1 -0.5 -1.1 0.4 -0.8 -0.5 -0.8 0 -1.1 -1.6 -0.1 -0.5 0.8 -1.6 -0.1 -2.7 1.3 -0.9 -1.7 0.9 -1 -1.2 -0.5 0.1 -1.1 0.9 0.5 1.1 0.3 0.2 -0.7zM312 409.2l0.7 0.3 1.1 -0.3 0.4 0.9 0.6 0.3 0.2 0.6 -0.8 0.9 -0.2 0.6 -0.5 0.5 -1 0.4 -0.3 -0.6 -0.7 -0.3 0.9 -0.7 -0.5 -0.7 0.3 -0.7 0.6 -0.3zM370.5 305l0.9 -0.2 0.5 0.2 0.8 -0.1 1.3 -0.2 0.7 0.1 1 0.3 0.5 0.1 0 0.6 0.2 0.7 -0.6 1 -0.3 0.7 -0.8 0.1 -0.8 0.1 -0.8 -0.2 -1.1 0.3 -0.8 0 -0.1 -0.9 -0.4 -0.7 0 -1zM402.5 439.5l0.8 -0.4 0.7 0.1 1 0.1 0.5 0.3 0.7 0.4 0.9 0.7 0.9 0.8 -0.8 0.2 -1 -0.2 -1 0 -1.1 -0.3 -0.9 -0.3 -0.7 -0.7zM352 463l0.7 0 0.7 -0.1 1 0 0.6 0.1 -0.2 0.9 0.2 0.6 -0.4 0.2 -0.8 0.1 -0.8 -0.1 -1 -0.2 0 -0.8zM669.5 427l0.7 -0.2 1 -0.1 0.9 -0.1 0.5 0.2 1.2 0.2 0.1 0.8 -0.7 1 -0.7 0 -0.7 -0.1 -0.9 -0.2 -0.9 0.3 -0.3 -0.7zM614.5 192.8l0.3 -0.6 0.2 -0.6 0.6 -0.7 0.5 -0.4 0.9 -0.3 0.9 -0.7 0.5 -0.8 0.8 -0.1 0.8 -0.4 0.5 0 0.7 -0.6 0.6 -0.6 1.2 -0.1 0.9 0.2 1.1 0.1 1.1 0.6 0.4 0.4 0.7 0.5 0.9 0.1 0.8 0.1 1.1 -0.1 0.5 0.5 0.5 0.5 -0.6 0.8 -0.4 0.6 -0.9 -0.4 -0.9 0.3 -0.5 -0.2 -0.5 0.4 -1 0.2 -0.4 0.9 -0.8 0.8 -1 0.2 -0.8 0.4 1 0.7 0.5 0.9 0.8 0.5 0.7 0.6 0.7 0.5 0.9 -0.3 0.5 0.1 0.5 0.5 0.7 0.2 0.8 0.7 0.7 0.7 -0.1 0.7 -0.8 0.4 -0.6 0.8 0 0.6 0.9 0.2 0.9 0.5 0.7 0.4 -0.3 0.7 -0.6 0.5 -0.6 0.6 -0.5 0.2 0.6 0.6 0.4 0.4 0.2 0.7 0.5 1.1 0.7 0.2 -0.1 1 -0.1 0.8 -0.8 0.8 0.6 0.7 0.4 0.9 -0.4 0.5 -0.6 0.1 -0.9 0.3 -0.8 0 -1 0.3 -1.2 0.1 -0.6 -0.7 -0.6 -1 -1 -0.1 -0.5 -0.4 -1 0.1 -0.6 0.3 -0.9 0.7 -1.1 -0.5 -0.7 -0.3 -0.5 -0.6 -0.1 -0.5 -0.1 -0.8 0 -1 0.4 -0.5 -0.1 -0.8 0.3 -0.5 0.6 -0.6 -0.5 -1 -0.5 -0.4 0.4 -0.8 0.8 -0.4 -0.7 0.2 -0.8 -0.4 -0.6 -0.5 0.3 -1 0 -0.8 -0.6 -0.7 -0.2 -0.9 -0.7 0.1 -0.8 -0.2 -0.3 -0.5 -0.2 -0.7 -0.4 -0.8 -0.1 -1.1 -0.1 -1.1 -1.1 -0.4 -0.6 -0.5zM267.2 187.6l1.2 0 0.6 -0.6 0.5 -0.4 0.6 -1 1.1 -0.4 0.4 -0.3 0.7 -0.3 1.1 -0.1 0.8 -0.2 0.8 -0.3 0.3 -0.5 0.6 -0.4 1.1 -0.6 0.8 -0.3 0.8 0.4 0.9 0.1 0.6 0.4 1.1 -0.3 0.9 0 0.5 0.2 0.7 -0.3 0.5 0.3 0.5 0.6 0.4 0.4 0.3 0.8 0.8 0.2 0.5 0.7 -0.4 0.7 0.1 0.8 0 1 -0.9 -0.3 -0.8 -0.2 -0.5 0.1 -0.9 0 -0.9 0.3 -0.5 -0.4 -0.7 0.4 -0.8 0.1 -0.5 -0.4 -0.9 0.3 -0.5 -0.4 -0.6 -0.5 -0.5 -0.5 0 -0.7 -0.7 0.4 -0.5 0.4 -0.8 0.4 -0.6 0.1 -1 -0.2 -0.7 0.6 -0.5 0.1 -1 0.2 -0.5 0.1 -0.8 -0.1 -1 0.1 -0.9 -0.5zM278.5 200.2l-0.4 -1 -0.1 -0.9 0.2 -0.8 -0.4 -0.5 0 -1 -0.4 -1.1 0.5 -0.4 0.8 -0.5 0.1 -0.8 -0.5 -0.8 -0.5 -0.4 0.6 -0.1 1.1 -0.3 0.4 -0.4 1 -0.5 0.3 -0.7 0.7 0 0.8 0.1 0.4 -0.2 0.7 -0.4 1.1 0.2 0.6 0.3 -0.2 0.6 0 0.7 -0.4 0.3 -0.9 0.4 -1 0.3 -0.4 0.6 -0.6 0.3 -0.3 0.5 -0.1 0.8 -0.2 0.7 -0.2 0.6 0 0.8 -0.9 0.8 0.5 0.5 0.5 0.3 0.5 0.6 -0.4 0.8 -0.7 0.3 -0.7 0.3 -0.6 -0.1zM285.8 189.8l1.1 -0.1 0.8 -0.3 1.1 -0.2 0.9 0.1 0.6 -0.1 0.9 0.1 0.9 -0.1 0.4 0.3 0.7 -0.1 0.5 0.3 0.5 0.1 0.8 0 0.7 0.3 0.7 -0.3 0.1 1.1 1 0.3 -0.2 1 0.2 0.8 -0.4 0.4 -0.9 -0.2 -1.2 -0.4 -0.8 0 -0.3 0.5 0.1 0.9 -0.6 1 -0.2 0.6 -0.7 0.6 -1 0.6 -0.1 -0.9 -0.4 -1.1 -0.9 0.3 -1.1 -0.1 -0.5 0 -0.7 0 0.2 -0.9 0.7 -0.8 0.2 -0.7 0.3 -0.6 -0.4 -1 -1.1 -0.2 -0.7 -0.6 -0.8 -0.3zM289 200.2l0.8 0.7 0.8 0.4 0.6 -0.3 0.7 -0.8 0.7 -0.1 0.7 0.1 1.1 -0.2 0.6 -0.2 0.5 -0.8 1 0.2 0.6 -0.6 0.7 0.1 1.3 -0.2 0.9 -0.7 0 -0.6 -0.6 -0.1 -0.9 -0.2 -0.5 0.3 -0.7 0.3 -1.1 0.5 -0.7 0.4 -0.8 0 -0.8 0 -0.4 0.3 -1 0.3 -0.5 0 -0.9 0 -0.6 -0.2 -0.7 0.4 -0.3 0.5zM298 196.2l1.2 0.2 0.8 -0.2 1.1 -0.1 0.6 -0.3 0.7 0 0.8 0.3 0.6 0.1 0.7 0.1 0.5 -0.4 0.6 -0.7 1 -0.1 0.4 0.4 -0.2 -0.5 0 -0.8 -0.8 0.3 -1 0.3 -0.6 0 -0.6 -0.3 -0.7 0 -0.9 0.2 -0.7 0.2 -0.8 -0.5 -0.7 0.6 -1 0.2 -0.9 0.5zM251.2 170l1 -0.6 1.1 -0.2 0.5 0.6 -1.4 0.9 -0.4 1.1 0.8 0.9 0.8 0.7 0.8 0.4 0.8 0.5 0.4 0.9 0.6 0.6 0.1 0.8 -0.6 0.5 0.4 0.8 0.4 0.6 -0.9 0 -0.6 0 -0.1 -1.2 -0.1 -0.6 -0.6 -0.7 -0.4 -0.8 0.5 -0.6 -0.6 -0.9 -0.7 -1 -0.7 -0.2 -0.7 0 -1.1 -0.3 0.4 -0.6 0.5 -0.4zM245.5 171.2l0.8 0 1.2 0.3 -0.4 1.1 0.4 0.8 1 0.1 0.6 0.3 0.1 1.2 -0.8 0.2 -0.6 0 -0.1 -1.1 -0.7 -0.4 -0.8 0 1.2 -0.3 0.1 -0.9 -0.9 -0.9zM249.2 175.5l1.1 0.4 0.9 0.3 0.8 1 0.3 0.7 0.2 1.1 -0.9 -0.3 -0.6 -0.2 -0.7 -0.5 0.1 -0.6 -0.7 -0.5 -0.3 -0.8zM205 152l1.1 -0.1 0.6 -0.1 0.9 -0.4 0.9 0.8 0.7 0 0.8 0.3 0.5 0 0.8 -0.4 0.4 -0.6 0.9 -0.2 0.9 -0.1 0.6 -0.1 0.9 0.1 0.7 -0.6 0.6 -0.7 0.8 -0.4 0.2 -0.6 1.1 0.2 1 -0.3 0.6 0 0.5 -0.5 1.1 0 1.2 0 1 -0.8 -1.3 -0.4 -0.7 0.5 -0.7 -1 -0.9 0.2 -0.5 0.2 -0.9 0.2 -0.8 -0.1 -0.7 0.2 -1.2 -0.1 -1.7 0.2 -0.1 0.8 -0.7 0.4 -1.1 0.4 -1.1 0.2 -0.6 -0.2 -0.8 -0.6 -0.7 0.9 -0.7 0 -1.1 0.2 0.1 0.8 -0.3 0.5 -0.8 -0.1 -0.6 0 -0.5 0.5zM188.8 141.5l1 -0.6 1 0.3 1.2 0 0.6 0.1 0.8 0.1 0.5 0.4 1.1 0.2 1 -0.2 0.7 0.2 0.7 -0.1 0.8 0.5 1.1 0 1.1 -0.6 0.3 -0.7 0.5 -0.9 0.7 -0.5 0.3 -0.8 0.3 -0.9 -0.9 -0.9 -0.8 -0.5 -1 0.2 -1 0.2 -1 0.4 -0.9 0.1 -0.4 -0.3 -0.9 -0.5 -0.5 0.3 -0.8 0.1 -0.5 0.9 -0.8 0.3 -1 -0.2 -0.5 0.5 -0.6 0.2 -0.9 0.2 0.1 1.1 -0.6 0.6zM218.8 158l0.8 -0.1 0.5 0.2 1.1 0.3 0.6 -0.5 0.7 -0.2 0.5 -0.3 0.8 -0.4 1 0.1 0.6 -0.3 0.9 0 1.4 -0.1 1.1 -0.3 0.8 -0.5 0.6 0.2 1 0.4 0 -0.7 -1.1 0.3 -1.2 0.3 -1.3 -0.1 -1.1 -0.5 -1 0 -0.6 0.7 -1 -0.2 -0.1 -0.5 -1.1 0.5 -1 0.5 -0.7 -0.1 -1.2 -0.1 -0.6 0.4zM240 163.2l1.1 -0.1 0.7 0.2 0.7 -0.1 0.6 -0.9 0.4 -0.8 -0.2 -0.6 0.6 -0.6 -0.1 -0.8 -0.6 0.1 -1 0.2 -1 -0.3 0.5 0.5 0 0.7 -0.5 0.7 -0.4 0.6 -0.8 0.3zM241.2 147l0.6 0.1 0.8 -0.3 0.7 -0.1 0.6 -0.1 0.9 0.5 0.5 -0.2 0.9 0.1 -0.3 -0.7 0.3 -1.1 -0.5 0 -0.8 0 -1.1 0 -1.2 0.2 -0.8 0.2 -0.6 -0.4 0.5 1.2zM275 181l0.8 0.1 0.8 -0.2 0.9 0.1 -0.8 -0.4 -0.5 -0.5 0.5 -0.9 0.8 -0.4 -0.6 0 -0.6 0.4 -0.7 -0.2 -0.6 -0.2 -0.4 0.7 -0.3 0.7zM215.2 202.5l0.9 -0.1 1.1 0.1 -0.3 -1 0.3 -1 -0.7 0.3 -1.3 -0.3 0.2 0.9zM317.5 139l0.9 -0.5 1.1 0.3 0.7 0 0.5 0 0.9 -0.1 0.9 0.3 0.2 -0.9 -0.2 -0.9 -0.3 0.7 -0.5 0.4 -1.2 -0.4 -0.7 -0.4 -1 -0.3 -0.4 -0.3 -0.9 0.3 -0.3 0.8zM573.2 154.5l1.2 -0.1 1 0.2 0.8 -0.1 1 -0.2 0.6 -0.3 0.9 -0.4 1.1 -0.4 0.1 -0.8 -0.4 -0.9 -1.1 0.2 -0.7 0 -0.9 0.4 -0.7 -0.9 -0.7 -0.3 -0.4 -0.7 -0.9 0.8 -1 -0.3 -0.6 0.8 -0.4 0.7 0 0.6 0.4 0.8zM583.8 152l1 0.3 0.7 -0.1 0.6 0.3 0.4 0.7 0.2 -1 0.8 -0.7 -0.6 -0.2 -0.5 -0.5 -0.2 -0.8 0 -1.2 -1 -0.3 -0.5 -0.2 -0.9 -0.5 0.2 0.9 0.7 0.6 -0.2 0.7 -0.1 0.7 -0.2 0.5zM528.5 158.2l0.9 -0.2 0.6 0.1 0.6 -0.1 0.6 -0.2 0.8 0.2 0.1 -0.9 -0.1 -0.9 -1.2 0 -0.7 0.3 -0.6 -0.3 -0.5 0.8 0.1 0.5zM643 192l0.7 -0.1 0.5 -0.3 0.4 -0.9 -0.5 -0.7 1.1 0.1 0.7 -0.4 0.2 -0.6 0.1 -0.9 1 0.4 0.8 -0.3 0.7 -0.3 0.4 -0.2 0.9 0 0.6 0.4 1.1 0.4 -0.7 0.9 0 0.6 1 0.7 -0.7 0.6 0.6 0.7 -0.9 0.3 -0.3 0.7 -0.5 0.4 -0.6 0.5 -0.8 0.5 -1 0.1 -0.1 0.6 -1 -0.1 -0.8 -0.3 -0.6 0.5 -0.8 0.2 -0.2 -0.8 -0.7 -0.5 -0.4 -0.4 0.3 -1zM681.2 191.5l1.1 0 0.6 -0.3 0.6 -1 -0.5 -0.6 0.2 -1.1 1 0 0.8 -0.7 0.7 0.4 0.7 0.3 0.5 0.7 0.6 -0.3 0.5 -0.3 0.6 -0.8 1.4 0.2 1 -0.5 0.9 -0.5 0.7 -0.2 0.5 -0.2 1.1 0.5 0.8 0.9 0 1 -0.9 -0.6 -1 0.2 -1 -0.3 -0.9 0.3 -0.3 0.3 -0.9 -0.1 -0.9 0.2 -1.1 0.2 -0.8 0.2 -1 0.1 -0.7 0.4 -0.5 -0.2 -1 0.4 -0.8 0.8 -0.2 1.1 -0.8 -0.3zM756.8 175.5l0.7 -0.2 0.8 -0.1 1 -0.4 0.8 0.2 1.1 0 0.5 -0.8 0.6 -0.3 0.4 -0.7 0.9 -0.4 1.3 -0.3 0.8 -0.3 0.5 -0.2 0.9 0 0.8 -0.1 0.4 -0.2 0.5 -0.5 0.3 -0.7 0.3 -0.6 0.6 -0.4 0.8 -0.6 1.2 -0.8 -1 -0.5 0.1 -0.8 0.3 -1 0.6 -0.8 -1.2 0.2 -0.8 0 -1.1 0.6 -0.6 0.3 -0.7 0.6 -0.2 0.6 0.1 0.9 -0.5 0.3 -1 0.1 -0.6 0.3 -1 -0.2 -0.8 0.2 -0.3 0.9 0.1 0.9 -0.2 0.8 0.3 1.2 -1 0.5 0 0.8 -0.8 0 -0.8 0.2 -0.8 -0.1 -1.3 -0.1 -0.7 0.2 -0.7 0.6zM751.2 169.5l0.9 0.3 1.1 -0.3 0 -1.2 0.6 -0.6 -0.2 -0.8 0.1 -0.7 0 -1.2 -0.2 -0.7 1 -0.5 -1.2 0.1 -0.7 0.1 -0.6 -0.2 0.4 0.8 -0.1 0.6 1.2 0.4 0.9 0.5 -0.9 0.7 -2 0.9 -0.3 0.8zM705.5 184l0.9 -0.8 1.1 0.2 0.9 0.6 1.1 0.5 -0.2 -0.5 0.2 -0.8 -1.2 -0.4 -0.8 -0.3 -0.9 -0.1 -0.7 0.3 -0.4 0.3zM688.2 198.8l1 0 0.8 -0.1 0.7 0.3 1.1 -0.2 1.2 0 0 -1 -0.9 0 -0.8 -0.2 -0.5 -0.3 -0.8 0.2 -0.6 0.2 -1.2 0.1zM748.2 178l0.7 0 0.6 0 0.5 -1 -0.8 -0.6 0.3 -0.9 -0.4 -0.1 -0.9 0.1 -0.1 0.8 -0.2 0.5zM790 182.8l0.7 -0.1 0.7 0.1 0.6 0 0.2 -0.7 -0.2 -0.9 -0.9 0 -1.1 0 0.1 0.9zM689.5 167.8l0.8 0.2 1 0.1 1.2 -0.3 0.1 -0.8 -0.1 -0.5 -0.5 -0.1 -0.8 -0.2 -0.7 0.1 -1 0.2 0.4 0.7zM576.8 307l0.5 0.8 -0.4 0.9 0.3 0.6 -0.1 0.7 0.4 0.8 0.8 -0.3 0.5 0.2 0.4 0.5 0.8 0.3 0.8 0.2 0.4 -0.8 1 -0.5 0.3 -0.9 0 -1.2 0.4 -0.6 0.6 -0.3 -0.7 -0.7 0 -0.9 -0.2 -0.7 -0.1 -1.1 -1.1 -0.1 -0.8 -0.1 -0.6 -0.3 -0.4 0.6 -0.9 0.3 -1.2 0.1 -0.4 0.6 -0.2 0.5 -0.2 0.6zM570.8 313l0.2 0.7 0.1 0.7 0.1 0.6 0.3 1 0.3 1 -0.1 0.7 -0.4 0.8 0.3 1 0.7 0.5 0.2 0.8 0.6 0.3 0.2 0.9 0 0.9 0.3 1.1 0.1 0.7 0.6 0.5 0.2 1 -0.7 -0.2 -0.3 -1 -0.8 -0.6 -0.7 -1 -0.4 -0.5 -0.4 -0.9 0.4 -0.8 0 -1.2 -0.7 -0.5 -0.6 -0.5 0 -1 0.2 -1 0.5 -0.7 0.1 -0.5 -0.4 -0.8 -0.2 -0.7 -0.1 -0.6zM582.5 328.2l-0.3 0.9 0.1 0.8 0.6 1 0.9 0.4 0.4 0.7 -0.6 0.6 0.1 0.6 0.4 0.9 -0.6 1 0.5 0.7 0 0.9 -0.6 0.7 0.6 0.6 0.5 0.3 0.8 0.8 0.2 0.9 -1 0.2 -0.8 -0.4 -0.8 -0.3 -0.5 -0.6 0.1 -1.1 -0.1 -0.9 0.2 -0.8 0.6 -0.3 -0.3 -0.9 -0.3 -0.5 0.1 -0.8 0.1 -0.8 -0.3 -0.8 0 -0.9 0 -1.1 0 -0.8zM587 293.2l0.9 0.2 0.9 0.4 0.3 0.7 0.5 0.8 0.2 0.8 0.1 0.7 -0.4 0.7 -0.3 0.7 -0.8 0.4 -0.4 -0.4 -0.4 -0.8 -0.1 -0.6 0.1 -0.7 0.1 -0.8 -0.1 -0.9 -0.2 -0.6zM322.5 343.2l1.1 0.2 0.6 -0.2 0 1.2 0.8 0.2 0.8 0.9 -0.8 0.3 -1 -0.3 -0.4 -0.6 -0.8 -0.7zM532 272l1.1 0.1 0.9 -0.1 -0.1 -0.7 0.1 -0.8 -1 0.1 -1 -0.1 -0.2 0.8zM318.5 277.2l0.7 0.2 0.8 -0.2 0.3 1.1 0.2 1 -0.5 0.7 -0.3 1 -0.5 0.8 -1 -0.3 -0.7 -0.3 -0.1 -0.8 -0.4 -0.6 0.2 -1 0.9 -0.8zM282.8 274.5l1.1 0 0.6 0.7 -0.1 0.7 0.6 0.6 0.5 -0.3 -0.4 -0.5 -0.3 -0.9 -0.6 -0.1 -0.7 -0.7zM618.8 169.5l0.4 -0.5 0.6 -0.4 0.8 -0.2 0.8 -0.4 -0.4 -0.7 0.2 -0.8 0.9 0 0.7 -0.1 0.4 -0.5 0.9 0.1 0.9 -0.2 -0.9 0.5 -0.7 0.6 -0.7 0.1 -0.7 0.1 -0.8 0.7 -0.7 0.7 0.3 0.7 0.6 0.9 -0.9 0.2 -0.5 0.2 -0.8 -0.4zM637 159.5l0.1 -0.6 0 -0.8 0.6 -0.7 1.1 -0.4 0.2 -0.6 -0.7 -0.6 0.7 -0.6 0.5 -0.2 -0.2 0.8 -0.8 0.2 -0.4 0.6 0.1 0.9 -0.5 0.4 -0.1 0.8zM592 159l0.5 -0.3 1 0.2 1 0.1 0.4 -0.3 0.6 -0.7 -0.7 -0.4 0 -0.6 -1.1 -0.1 -0.4 0.1 -0.8 0.2 0 0.7zM372.5 305.8l-0.8 0.8 -0.4 0.2 -0.8 0.3 -0.9 0.3 -1 0.4 -1.1 0.4 -1.2 0.9 -0.8 -0.1 -0.6 0.3 -0.6 0.2 -0.8 -0.2 -0.9 0.1 -0.7 0.3 -0.7 0.3 -0.8 0.1 -0.9 0 -1.2 0 -0.8 0.1 -0.8 0 -0.5 0.2 -0.8 0.5 -0.9 0 -0.7 0.4 -1 0.3 -0.8 0.8 -0.8 0.1 -0.6 -0.3 -0.7 -0.2 -1 0.2 -0.8 0.1 -0.6 -0.1 -1.1 0.3 -0.6 0.2 -0.5 0.3 -0.9 1 -1.6 0.2 -0.9 -0.1 -0.7 0.1 -1 -0.5 -0.9 -0.3 -1 -0.4 -0.6 -0.6 -0.5 -0.4 -0.6 -0.2 -0.8 -0.4 -0.8 -0.4 -0.7 0 -0.6 -0.2 -0.9 0.1 -0.8 0.4 -0.8 0 -1.6 -0.1 -0.8 -0.4 -0.9 0.6 -1 1.2 -0.6 0.5 -0.7 0.7 -0.8 0.5 -0.8 0.2 -0.8 0.1 -0.4 0.4 -0.4 -0.4 -0.8 -0.4 -0.7 0.3 -0.9 0.4 -1 0 -0.8 -0.4 -0.7 0 -0.8 0.3 -1 0.1 -1 0.4 -0.9 0.5M347.5 312.2l-0.8 -0.6 -0.8 -0.6 -0.6 -0.3 -0.5 -0.4 -0.6 -0.7 -0.4 -0.6 -1.2 -0.5 -0.5 -0.4 -0.4 -0.5 -0.6 -0.5 -1.1 -0.1 -0.8 -0.5 -0.5 -0.1 -0.8 -0.2 -1.3 -0.1 -0.9 -0.5 -0.7 -0.1 -0.8 -0.9 -0.9 -0.8 -0.8 -0.4 -1 -0.8 -0.4 -0.7 -1.1 -0.4M351.2 389.5l-0.6 -0.6 -0.1 -0.7 -0.4 -0.5 -0.6 -0.4 -0.6 -0.3 -0.7 -0.5 -0.7 -0.2 -1.3 -0.5 0 -1.2 -0.2 -0.5 -0.2 -0.9 0.6 -0.6 0.7 -1 0.5 -0.9 1 -0.6 0 -1.1 -0.1 -0.8 0 -0.8 0.1 -0.9 0.2 -1 0.5 -0.5 0.2 -0.8 0.3 -0.7 0.7 -0.7 1.1 0 0.5 0.5 1.1 0.2 0.4 -0.6 0.7 -0.1 1.2 0 0.7 0.2 1 -0.7 0.7 -0.4 0.5 -0.4 0.7 -0.2 0.4 -0.8 0.6 -0.7 0.4 -0.9 0.5 -0.4 0 -0.9 0.1 -0.8 0.2 -0.6 -0.3 -0.7 0.8 -1M351.5 389.5l0.7 -0.7 0 -0.6 -0.1 -1.1 0 -0.7 -0.1 -0.6 0.3 -1.3 0.6 -0.7 0.4 -0.5 0.5 -0.6 -0.1 -0.6 -0.1 -0.7 0 -0.6 -0.1 -0.8 0.3 -0.9 0.3 -0.6 0.5 -0.7 0.6 -0.8 0.8 -0.2 0.5 -0.4 1 -0.6 0.5 -0.6 1 0.1 0.8 -0.2 0.6 -0.1 0.7 -0.2 0.3 -0.6 0.9 -0.4 0.1 -0.6 0.6 -0.7M528.8 319.5l0.7 -0.5 0.6 -0.5 1.7 -0.5 0.6 -0.7 1 -0.8 0.5 -0.5 0.7 -0.3 0.9 -0.5 0.5 -0.7 0.5 -0.5 0 -1.4 0.2 -0.7 0.5 -0.4 0.5 -0.7 0.2 -0.6 0.1 -0.7 0.7 -0.3 0.4 -0.4 0.2 -1.2 0.3 -0.6 0.7 -0.5 0.7 -1.2 0.5 -0.3 0.5 -0.5 0.3 -1.1 0.4 -0.8 0.4 -0.8 0.3 -0.7 0.4 -0.3 0.6 -0.5 1 -0.3 0.8 -0.5 1.1 0.2 0.8 -0.4 0.9 0.1 1 -0.4 0.8 0.4 0.4 0.3 0.9 0.2 0.5 0.1 0.9 0 0.9 0.1 0.6 -0.1 0.9 0.8 0.4 0.5 0.6 0.4 1.1 0.3 0.8 0.5 1 0.4 1 0.3M579.8 244.5l-0.5 1 -0.5 0.7 -0.5 0.5 -0.4 0.6 -1 0.4 -0.7 0.5M708.2 168.2l-0.9 -0.7 -1 -0.7 -0.7 -0.5 -0.4 -0.9 -0.2 -0.9 0 -1.3 -0.9 -1 -1.2 -0.7 0 -0.8 -0.2 -1 -0.9 -0.5 -1.2 -0.8 -1.7 -1 -1.4 -0.4 -0.9 -0.3 -0.5 -0.3 -1.5 -0.3 -1.3 -0.4 -1.1 -1.1 -0.7 -0.5 -1.2 -0.9 -0.3 -1.2 -1.6 -0.7 -1.4 0 -1.1 0.4 -0.8 0.2 -1.4 0.1 -1.5 0.5 -0.9 -0.4 -1.3 -0.6 -1.1 -0.1 -1 0.3 -1.2 0 -1.8 0 -0.9 -0.2 -1.6 0.1 -1.3 0.4 -1.1 0 -2.3 -0.2 -1.3 -0.8 -1.4 -0.3 -0.9 0.1 0.2 -1.3 0.6 -0.9 -0.8 -1.1 -1.6 -1.7 -0.8 -0.8 -0.4 -1 -0.7 -0.3 0 -1.1 0.6 -0.6 0.3 -1.1 0 -0.5 -0.2 -1 0.6 -0.5 0.5 -0.3 0.9 -0.1 0.5 -0.3 1.2 0.2 0.8 -0.2 1.1 0.2 0.9 0.2 0.6 0 0.7 -0.1 0.9 -0.3M670 152l-0.3 0.5 -0.4 1 -0.6 1.6 -0.3 0.8 -0.2 0.6 0.5 0.9 0 0.9 -0.5 0.7 1.1 0.2 0.8 0.9 0.6 0.6 0.5 0.4 0.9 0 1.5 -0.2 0.7 0.7 0.7 0.4 0.8 0.5 0.7 0.5 0.9 0.1 0.6 0.3 0.8 0.7 1.5 0.6 -0.2 1.4 0.9 0.9M703.8 125.8l1.1 0.9 0.7 0.8 0.4 0.5 0.9 0.6 0.2 1 1.4 0.7 1.7 0.3 2.3 0.9 0.6 1.2 1.1 1 1 0.6 0 1.3 -0.2 1.2 -0.1 0.8 0.2 1.4 0.9 1.8 0.9 0.6 0.5 0.4 1 0.6 0.9 1.1 0 0.7 0 0.7 -0.4 0.7 0.3 1.4M717 140l1.6 0.8 1.4 0.9 1 0.6 0.9 1.3 1.1 0 1 -0.2 1.9 -0.3 1.1 0.1M767.5 160.8l1.3 -1.1 1.4 -1.5 1 -1.3 0.4 -1 2.8 -0.8 2.4 -0.1 0.7 -0.8 1.5 -0.7 0.5 -0.2 0.8 -0.2 0.8 -0.2 1.6 -0.2 1 0.4 0.6 0 0.7 0.1 1.5 0.3 2.2 0.7 1.6 -0.1 1.8 0.5 0.9 -0.3 1.2 -0.7 1.2 0.3 2.1 -0.4 1.6 -0.3 1.5 -0.9 2.3 0.1 2 -0.8 1.5 -0.4 1 0.6 1.2 1.2 1.4 0.2 1.5 0.1 1 -0.4 1.1 0.3 1.7 0 1.8 -0.9 3.2 -0.3 0.9 -1 0.6 -1.5 -0.4 -0.7 -0.7 -0.7 -0.2 -0.4 -0.3 -0.8 -1.1 -0.8 -1.3 -0.9 -1.1 -0.2 -1.7 -0.5 -1.1 -0.4 -1.4 -0.9 -1 -1.1 -0.9 -1.2 -0.1 -0.8 -0.5 -0.9 0.1 -1.1 -0.1 -0.6 -0.1 -0.8 -0.2 -0.7 -0.6 -0.4 -0.4 -0.8 -0.6 -0.4 -0.5 -0.4 -0.8 -0.2 -0.6 -0.6 1 -0.4 1 -0.8 1.6 0.1 1.9 -0.6 0.4 -1.5 0.2 -0.9 0.6 -0.9 0.9 -1.2 0.1 -0.8 0.1 -0.9 0.4 -0.6 0.4 -0.5 0.2 -1M850 172l-1.1 0.1 -1 0.4 -0.7 0.5 -0.7 0.7 -1.4 0.3 -1 1.4 -1.2 0.8 -0.4 0.8 -3.1 0.5 -1.9 0.4 -1.1 1.1 -1.1 0.3 0.5 0.9 0 0.6 -0.4 1 -0.4 1.7 -0.8 -0.1 -0.6 0.1 -1 0.6 -0.8 0.5 -1.2 0.1 -0.7 0.3 -1.1 0.2 -0.8 0.1 -1.1 0 -0.6 0.2 -0.6 0.1 -0.9 -0.4 -1.7 0.4 -1.7 0.1 -1.9 -1.9 -2.5 -0.5 -0.2 -0.7 -0.3 -1.1 -0.7 -1.4 0.4 -1.1 -0.2 -1.5 -0.9 -0.8 -0.6 -0.4 -0.5 -0.8 -1.1 -1 -0.5 -0.7 -0.5 -0.7 -0.4 -1.1 -1.1 0.6 -1.4 0.2 -0.7 0 -1.1 -0.3 -2.4 -0.1 -2 0.3 -1.3 -0.5 -1.5 -1M46.9 499.2l2.5 0.6 1.5 0.4 1.8 0.2 2.2 0.5 1.9 -0.7 1.6 0.2 1.3 -0.1 1.1 -0.1 2.5 0.3 3.4 -0.1 3.8 0.5 5.7 -1.1 3.6 -0.7 5.6 -0.4 5.6 0 4.3 0.7 0.6 -0.3 0.9 -0.5 0.9 -0.6 1.6 -0.6 1.2 -0.3 0.7 -0.2 1.1 -0.1 0.7 0 1.2 0 2.2 0.1 1.1 0.3 0.9 -0.3 0.9 0 1.7 -0.3 1 0 2.5 -0.5 1.7 0.2 1.2 -0.4 1 -0.1 1.2 -0.3 1.8 0.1 0.9 -0.5 0.7 -0.1 1.3 0.1 0.8 -0.1 2.3 -0.3 1.5 0.2 1.5 -0.7 1.3 -0.3 0.9 -0.7 0.8 -0.2 4.6 0 3.3 0.2 1.5 0.3 2.9 -0.2 4.3 -1.5 4.1 -0.3 2.6 0.4 3.3 0.6 13.1 1.6 19.7 -6.1 12.8 -1.2 11.6 1.5 4.9 0.5 7.2 2.4 13.2 2.1 7.5 -0.7 12.1 3.5 11.7 1.2 8.7 -1.2 10.1 -0.8 15.8 0 12.4 0.7 11.4 -2.8 7.8 -0.4 1.3 0.1 1.6 0.2 2.2 -0.3 2.4 -0.2 1.8 0.2 1.3 0.3 1.4 -0.1 1 0 3.1 0.8 5 1.6 2.8 -0.1 4.9 0.7 2.6 0.5 2.6 -0.5 2.1 1.6 2.5 1 4 0.1 3.2 0.6 2.4 -0.4 4.3 0.2 3.7 0 6.3 -1.2 4.7 -0.1 3.6 0.1 1.8 -0.7 2.2 -1.1 1.5 -0.7 1.8 -0.6 2.1 -0.4 1.9 0.1 1.1 -0.1 1.8 -0.4 2.2 -0.8 1.7 -0.4 1.1 -0.3 1.4 -1 1.2 -0.5 1 -0.6 1.1 -0.8 1.8 -1.3 0.9 -0.1 1.7 -0.2 0.9 -0.6 1.7 -0.8 2.6 0 1.8 -0.8 2.4 -0.2 1.5 -0.1 2.1 -1.1 2.8 -1.5 2.8 0.1 2.4 0.3 2.6 0.3 2.6 -1.3 1.6 -0.3 1.8 -0.2 4.1 0.1 4.1 -0.2 5.3 -2 5.1 0.2 1.8 0 3 -0.2 4.2 0.4 3.7 0.4 4.7 -0.2 3.4 -0.9 5.6 -0.1 5.7 -1.4 3.9 0.6 4.6 0.4 1.8 0.7 3.3 0.3 4.3 0.5 3.7 0.8 3.3 0.3 2.4 -0.7 3 0.1 2.5 -0.2 4.1 -0.6 3.7 -0.6 4.5 0 4.5 -0.1 1.7 -1.1 3.4 -1.4 3.6 -0.6 2.1 0.3 1.9 0.2 2.9 0.5 1.6 -0.6 3 -0.5 2.6 -0.8 1.5 -0.5 2.2 -0.6 1.6 -0.4 1.8 -0.6 1.1 -0.3 2.6 0.8 1.8 -0.2 3.4 -0.7 2.3 0.1 2.3 -1.1 1.7 -1.2 1.2 -0.6 1.5 -0.5 1.8 0.3 2.4 -0.4 1.4 0 2.5 -0.4 2.6 0.3 3 0.1 3.5 -0.9 2 -0.3 1.7 0.3 1.1 0.4 2.3 0.8 2 0.2 2.1 0.3 1.9 -0.2 1.2 0.1 1.7 0.3 0.9 0.1 1 0.5 1.7 0.1 1.2 0.4 1.9 0.7 1.2 0.5 1.5 0.3 2.4 0.4 2.2 0.7 1.6 0.3 1.3 0.3 0.6 0.5 1.8 -0.1 2.8 0.9 1.1 0.3 1.8 0.1 1.2 0.3 1.6 0.3 2 0.3 2.5 0.2 1.9 0.1 1.2 0 1.3 0.7 0.9 0.2 1.9 -1 1.2 -0.6 0.7 -0.8 1.3 -0.4 1.9 -0.9 1.3 -0.8 2.2 0.2 1.9 -0.3 1.2 -0.3 1.3 -0.6 1.2 -0.6 1.9 -0.4 1.6 -0.3 2.5 -0.3 1.4 -0.3 2.2 -1 1.1 -0.4 1.7 -0.3 0.9 -0.1 0.8 0 1.5 -0.2 1.3 -0.5 2.2 -0.5 3.2 -0.2 0.7 -0.2 1 -0.3 1.4 -0.1 1.4 -0.1 2.5 0 2.8 0.3 1.3 -0.3 1.9 -0.3 1.5 0.3 1 0.3 1.4 0.1 0.9 0.4 2.5 0.1 2 0.5 1.3 0.1 2.4 0 1.1 -0.3 1.3 -0.3 1.5 0.4 0.8 0.2 1.5 -0.4 1.8 0.4 2.7 0.6 2.1 0.2 1 -0.1 0.8 -0.5 1.4 -0.4 2 -0.5 1.7 -0.4 1.5 -0.2 2.1 0.5 2.7 0 1.7 0.5 1.8 -0.3 1.4 0.4 0.9 0 1.2 -0.1 1.9 0.5 2.1 -0.5 1.5 -0.2 1.7 -0.2 2.4 -0.5 1.4 0.3 2.3 0.1 2.1 1.7 2.8 0.8 4.1 -0.6 2.7 -0.6 3.4 0.7 2.2 0.2 2.3 0.5 1.8 0.1 3 0 1.7 -0.3 1.9 -0.8 2.9 -0.7 1.9 0 2.8 0.1 2.5 0.2 1.8 0.4 1.4 0.2 1.4 -0.1 1.9 -0.2 2.1 -0.3 1.7 0.7 1.2 0.3 3.3 0.1 2.5 0.3 2.2 0 2.1 -0.2 1.6 0.1 1.7 0.3 2.1 0.2 1.6 0.5 1.1 0.4 1.2 0 1.1 1 1.6 0.6 1.2 0.5 0.8 0.4 1.1 0.1 0.5 0.2 0.7 0.4 1.3 0.2 1.3 0.1 0.8 0.2 2 0.9 0.9 0.7 2.4 0 1.8 -0.5 3.8 0.3 2.3 0.9 2 0.3 1.9 0 2.8 0.8 2.4 0.4 1.9 0.9 2.3 -0.2 1.2 0.6 1.8 0.5 2.9 0 2.4 -0.7 2.8 0.1 4 0.5 0.7 0.7 0.7 0.3 0.8 0.7 0.6 0.5 1 0.6 0.8 0.5 1.8 0.5 -0.8 0.6 -1.1 0.8 -1.3 0.2 -1.9 0.5 -1.2 0.1 -1.8 -0.4 -1.3 0.9 -1.3 0.8 -0.9 0.5 -0.8 0.4 -1.2 0.3 -0.8 0.1 -1 0.2 -1 0.3 -1.2 0.7 -1.7 0.5 -0.3 0.9 -0.7 0.8 0 1.1 0.1 0.7 0.7 0.5 0.3 0.8 0.4 0.5 1.1 0.3 0.8 0.3 0.8 0.6 2 0.6 2.7 0.2 2.5 0.2 2.3 0.8 2.8 -0.4 2.7 -0.5 2.1 0 3.3 -0.9 2.1 0.2 3.7 -0.1 3.5 0 2 -0.3 1.5 0.5 1.3 0.3 1.7 -0.1 2.2 -0.5M608.8 182.8l0.5 -0.7 0.8 -0.9 0.4 -1 0.7 -0.7 0 -1 0.4 -0.9 0.4 -0.8 0.7 -0.2 0.5 -0.8 0.9 -0.4 0.6 -0.2 0.7 -0.2 0.8 -0.3 0 -0.9M596.2 186.2l0.7 -0.1 0.7 -0.2 1 -0.5 0.7 -0.2 0.7 0 0.6 -0.4 0.6 -0.3 0.6 -0.1 1 -0.2 1 -0.4 0.7 -0.8 0.8 -0.7 0.4 -0.4 0.5 -0.7M204.5 123.8l1 -0.4 1.1 -0.3 0.5 0.7 1.1 -0.2 1.1 -0.2 0 0.7 1.2 -0.2 -0.9 0.5 0.1 0.8 -1.2 0 -0.4 -0.8 -0.6 -0.4 -0.8 -0.3 -1 0.5 -0.8 0zM222.5 125.8l0.7 -0.4 1 -0.3 1.2 -0.4 0.7 0.3 0.4 0.4 1 0.5 -0.9 0.1 -0.6 -0.6 -0.5 1 -0.7 -1 -0.1 0.5 -1.2 0.3zM212.5 128.8l0.8 0.4 0.6 0.1 0.3 -1.1 0.6 0.1 0.7 0.2 1 -0.1 1 0.5 -0.4 -0.6 -1 -0.1 -0.6 1 -0.6 -0.2 -0.5 -0.4 -0.9 0.5zM228 123.8l0.1 -0.9 0.5 0.2 0.8 0.1 1 0.2 0.8 0 0.8 0.5 -0.9 -0.1 -0.4 -0.3 -0.3 0.7 -0.5 -0.5 -1.1 0.4zM238.2 125l0.2 -0.8 1.1 0.2 0.8 -0.6 0.8 0.8 0.7 0.5 -0.7 0.1 -0.7 0.4 -0.6 -0.3 -0.9 0.1zM251 122.5l0.5 -0.3 0.5 -0.4 0.8 0.4 0.6 -0.2 0.6 0.7 -1.2 -0.2 0 0.7 -1.2 -0.2zM261.8 121.5l0.8 0.2 0.5 -0.7 0.9 0.2 1 0 0.8 0.4 -0.6 0.5 -1.1 -0.1 -0.7 -0.2 -0.9 0zM275.5 124l0.6 -0.6 0.8 -0.2 0.7 1 0.8 0.4 0.5 -0.3 -0.2 -0.8 0.8 0.7 -0.3 0.5 -0.7 0.4 -0.6 -0.3 -1.1 0.6 -0.5 -0.9zM292.5 125.8l0.6 -0.6 1.1 -0.2 0.3 -0.7 0.9 0 0.5 0 0.6 1 1 0.6 -0.9 0.4 -1.1 0.2 -0.8 0.2 -0.5 0.4 -0.7 -0.8zM305.5 128l1.2 -0.1 0.2 -0.5 1 0.4 0.8 -0.2 0.8 0.5 -0.9 -0.3 -0.7 0.8 -1 0.2 -0.6 -0.4zM318 133l1 -0.1 0.4 -0.5 0.8 0 0.5 -0.3 0.5 0.5 0.8 0.5 -0.2 0.8 -0.9 0.1 -0.5 -0.4 -0.8 -0.1 -0.8 -0.1zM325.8 136.5l0.4 -0.4 0.8 -0.2 0.8 -0.5 0.8 0.7 0.6 0.5 -0.9 0.1 -0.4 0.4 -0.9 -0.2 -0.6 0zM331 141.5l0.9 -0.3 0.1 -0.4 0.8 -0.4 0.6 0.6 0.6 0.7 -0.6 0.1 -0.6 0.4 -1.2 -0.2zM323.2 146.5l0.6 -0.4 0.7 -0.1 0.6 0.1 1 0.1 0.7 0.4 -0.9 0.1 -0.5 0.3 -1 0.5 -0.5 -0.7zM314.8 142.5l1 -0.5 0.7 0.5 0.6 -0.3 0.7 0.4 -0.5 0.2 -0.7 0.2 -1.2 -0.1zM287 107.5l1.2 -0.2 0.9 -0.4 1 0.5 1.1 -0.1 0.6 -0.2 0.5 0.1 0.7 0.4 -1.2 0.2 -0.6 0 -0.6 0.3 -0.8 -0.3 -0.2 -0.4 -1 -0.2 -0.4 0.7 -1.1 0.3zM297.5 105l0.8 -0.3 0.9 -0.3 1.2 0.3 1.1 -0.1 1 0.5 -0.1 0.6 -0.6 0.6 -0.2 -0.8 -1.1 0.1 -0.4 -0.2 -0.9 0.1 -0.7 -0.1zM310 101.5l0.8 -0.3 1 -0.2 0.2 0.3 0.8 0.5 0.5 -0.2 0.7 -0.4 1 0.4 -0.8 -0.6 -0.5 0.6 -0.7 0.4 -0.7 -0.4 -0.9 0.1 -0.4 0.1zM292 101.5l1.1 0 1 -0.5 0.8 0.7 0.8 -0.8 1.1 0.3 0.5 0.5 0.7 -0.1 -0.8 0.7 -0.9 -0.1 -0.7 -0.2 -1 0.3 -0.2 -0.8 -1.2 0.3 -0.3 -0.3zM280 100.8l0.8 0.2 0.5 0 0.5 -0.8 1.1 0.2 1.1 0 1 0.5 -0.8 0.1 -1.2 0.2 -1.2 0 -0.8 -0.1zM268 105l0.5 0.5 0.8 -0.2 0.1 -1.1 0.8 0.3 1 0 0.8 0.7 -0.9 -0.1 -0.7 0.7 -0.9 0 -0.7 -0.3zM285 111.5l0.7 0.3 0.9 0.2 0.2 -1 0.5 -0.5 0.7 0 0.4 0.3 0.6 0.4 1 0.4 -0.9 0.4 -1.1 0 -0.8 0 -1.2 -0.2zM195.2 122l1.3 0.1 0.3 -0.9 1.1 0.4 1 -0.1 0.9 0.7 -0.7 0.6 -1.1 0 -1.1 0.4 -0.8 -0.7zM189.2 119.5l0.3 -0.8 1.2 0.3 0.8 -0.5 0.9 0.7 0.8 0.4 -0.5 0.6 -1.1 -0.2 -0.7 -0.7 -0.8 0.5zM218.8 115.5l0.4 -0.6 0.8 -0.1 0.5 0.2 1.2 0.5 1.1 -0.3 1 0.4 -0.4 1 -0.9 -0.1 -0.7 -0.5 -1 0.3 -1 -0.4zM248 115l1.1 0.3 0.3 -0.8 0.6 0.8 1 -0.1 0.2 -0.5 0.8 0.4 -0.8 0.4 -0.8 0 -0.7 0.3 -0.9 -0.4zM263.5 117l1 -0.5 0.7 0 0.7 0.2 0.6 0.4 -0.4 0.4 -0.8 0 -1.2 -0.2zM276.5 116.8l0.3 -0.7 0.5 0 0.8 0.3 0.8 0 1.2 0.1 0.9 0.3 -1.2 0.1 -0.6 0.2 -0.7 -0.2 -1.1 0.1zM257.5 131.5l0.9 -0.6 1.1 0.2 0.5 0.5 -1 0.5 -1 -0.2zM283.8 137l0.8 -0.8 1.2 0.3 0.4 0.7 -1 0.6 -1 -0.3zM345.5 115l1 0 0.4 -0.4 1.1 -0.1 0.7 0.3 0.8 0.3 -0.9 0 -0.7 0.3 -0.8 0.3 -0.8 -0.4zM328.8 111.2l0.1 1 1.1 -0.4 0.5 -0.9 0.2 0.7 0.9 -0.1 0.1 -0.6 1.1 0.1 1 0.3 -1.1 0.4 -0.9 -0.1 -1.1 -0.1 -0.9 0zM356.2 121.5l0.9 -0.7 1.1 0.2 0.6 0.7 -1 0.5 -1 -0.2zM364 139l0.7 -0.8 0.9 0.3 0.4 0.7 -0.8 0.6 -0.8 -0.3zM369 146.5l0.7 -0.7 0.9 0.2 0.4 0.7 -0.8 0.5 -0.8 -0.2zM410.5 138l0.8 -0.5 0.6 0 0.9 -0.1 0.9 0.3 0.8 0.4 -0.7 0.1 -0.9 0.3 -1 -0.1 -0.6 0zM419.2 133.8l0.4 -0.8 1 0.4 0.9 -0.2 0.9 0.3 0.8 0.3 -0.6 0.3 -1 0 -0.7 0 -0.8 -0.1zM438 129.8l0.7 -0.1 0.7 -0.5 1 0 0.8 0.2 0.8 0.4 -1.1 0.2 -0.5 0.2 -0.5 -0.3 -1.1 0.2zM434.2 123l1 -0.1 0.4 -0.5 0.6 0.7 0.7 -0.4 0.5 -0.1 0.8 0.5 -0.5 0.8 -1.1 -0.3 -0.6 0.3 -0.9 -0.5zM443.2 118l0.4 -0.5 0.9 -0.1 0.9 0.2 0.7 0 0.7 0.5 -0.8 -0.1 -0.6 0.6 -0.6 -0.5 -0.9 0.3zM445.8 111.2l0.2 -0.7 1 0.1 0.8 0.5 0.8 -0.2 0.6 0.5 -0.5 0.2 -0.8 0.3 -0.7 0.3 -0.8 -0.5zM451.8 104.5l0.8 -0.1 0.4 0.3 0.1 -0.7 1.1 0 0.7 0.2 0.9 0.4 -0.7 -0.5 -0.6 0 -0.4 0.9 -0.8 0.3 -0.7 -0.5zM424.5 98.8l0.9 -0.7 0.7 0.9 0.5 -0.8 0.7 -0.5 1.1 0.1 0.9 0.6 0.4 0.4 0.8 0.1 -0.8 0.2 -0.5 -0.5 -0.8 0.4 -0.3 0.2 -1.2 0.3 0 -0.7 -0.3 0.8 -0.9 -0.5 -0.8 -0.1zM394.5 97.5l1 -0.7 1.1 0.3 0.9 0.8 0.8 -0.8 -0.4 1 0.6 -0.6 0.8 -0.2 1.2 0.3 -0.5 0.5 -0.9 -0.2 -1 0 -0.8 0 -0.7 -0.1 -0.9 0zM218.8 110l1 -0.2 0.4 0.4 0.9 0 0.4 -0.4 -0.1 -0.8 0.6 0.3 0.7 0 0.6 0.5 0.7 -0.3 0.8 -0.1 -0.3 1 1 -0.8 0.7 0.6 -0.4 0.6 -0.9 0.7 -0.7 0.1 -1 -0.6 -0.2 -0.6 -1 -0.2 -0.6 0.7 -1.2 -0.2 -0.4 -0.4zM234.5 111.5l1.1 -0.1 0.9 -0.1 0.1 -0.7 1 0.1 0.2 -0.7 -0.4 0.6 0.4 0.7 1.1 0.5 0.4 -0.8 0.4 0.3 0.8 0.4 -0.9 0.4 -0.8 -0.8 -0.9 0.5 0.2 0.6 -1 0.2 -0.6 -0.1 -0.8 -0.4 -0.7 0zM252.5 112.5l0.9 -0.1 0.7 0.1 0.1 -0.7 1.2 0 0.4 -0.5 0.7 0.7 1 0.7 -0.7 0.7 -0.8 -0.1 -0.5 -0.1 -0.7 -0.5 -0.9 0.2 -0.4 0.1zM243.2 119l-0.6 -0.7 0.6 -0.1 0.7 -0.3 1 -0.1 0.4 0.4 0.9 -0.1 1 0.4 -0.8 1 1.3 -0.2 0.4 -0.8 0.8 0.3 0.3 0.4 -0.8 0.4 -0.5 -0.7 -0.8 0.1 -0.3 0.8 -0.7 -0.5 -0.6 -0.1 -1.1 0.3 -0.7 -0.1zM231.2 120.5l0.8 0.2 0.5 -0.5 0.5 -0.4 0.9 0.5 0.6 -0.1 0.7 -0.1 1 0.6 -0.6 0.6 -0.5 -0.1 -0.9 0 -0.9 0.5 -1.1 -0.7zM254.2 126.5l0.8 -0.5 0.7 -0.2 0.7 -0.3 0.6 -0.2 0.5 0.7 0.7 0.7 -0.7 0.4 -0.9 0.1 -0.6 -0.5 -1 0.3zM212 108.8l0.7 0.3 1 0.3 0.4 -0.7 0 -0.7 1 0.3 0.4 0.4 0.4 -0.8 0.9 0.4 0.1 0.6 1.1 0 -0.9 0.3 -0.8 -0.3 -0.7 0.6 -1.1 0.3 -1 0.2 -0.3 -0.7 -0.9 -0.2zM267.5 111.5l1 -0.6 0.5 0.7 0.2 -0.8 0.9 -0.1 0.4 0.8 1 -0.5 1 0.7 -0.7 -0.5 -0.7 -0.2 -0.2 0.8 -0.4 0.4 -0.6 -0.9 -0.3 0.9 -1.1 -0.2zM278.8 110l0.8 -0.4 0.9 -0.2 0.6 0.8 1.2 -0.2 0.5 -0.4 1 0.5 -0.6 0.1 -1 -0.2 -0.4 0.6 -1 -0.1 -1 -0.1zM208.8 115l0.9 -0.5 0.8 -0.3 0.9 -0.2 0.2 0.9 1.2 -0.4 1 0.7 -1.1 0.4 -0.9 0.2 -1.2 -0.5 -0.8 0.2zM225.5 114.8l0.9 -0.1 0.5 -0.6 1.2 0.2 0.6 0.1 0.8 0.5 -0.2 -0.7 -0.6 0.3 -0.7 0 -0.1 0.9 -0.5 -0.8 -1.1 0.6zM240.5 113.8l0.4 -0.4 1 -0.3 0.7 0.1 1.1 0.2 0.8 0.5 -0.9 -0.3 -0.7 0.8 -0.6 -0.6 -1 0.4zM259.5 112.2l0.5 -0.1 0.6 -0.6 1 0 0.1 -1 0.9 0.2 0.9 -0.2 0.1 0.9 -1 0.1 1 -0.3 0.7 0.6 1.1 -0.2 0.1 0.8 -0.9 0.4 -1.1 -0.4 -0.4 0.6 -0.7 0.4 -0.6 0.3 -0.3 -0.5 -0.8 -0.4 -0.9 -0.2zM285 116.5l0.8 -0.7 1 0.2 1.1 -0.3 1.1 0.5 1 0.4 -1.2 0.3 -0.8 0.1 -1 0.5 -1 -0.7zM269.5 116.5l0.6 -0.2 0.6 -0.1 0.9 -0.2 1 0.2 0.8 -0.5 0.9 0.5 0.6 0.3 0.6 0.1 -0.9 -0.5 -0.8 -0.2 -0.7 0.4 0 0.7 -1 0.3 -0.7 -0.5 -0.7 0 -0.8 0.4zM298 132.5l1 -0.3 0.4 -0.4 0.4 0.9 0.6 -0.2 0.8 -0.5 0.8 0.7 -1.1 0.2 -0.5 0.3 -0.8 0.1 -0.8 -0.3zM280.8 132.2l0.7 -0.5 0.8 0.6 -0.3 -0.8 1 0.2 0.6 0.1 0.6 0.6 -0.9 -0.2 -0.4 0.8 -0.7 -0.3 -0.8 0.1zM284.8 140.5l1 -0.6 0.6 -0.1 0.7 0.3 0.7 0.5 -0.5 0.1 -0.7 0.4 -1.2 -0.2zM245 129l0.8 -0.3 1 -0.5 0.6 0.3 0.8 -0.2 0.8 0.2 1 0.7 -0.9 0.4 -1.1 0.2 -0.9 -0.8 -1 -0.2 -0.1 0.7zM230.5 131.2l1 -0.1 0.4 -0.3 0.7 0 1.1 0.1 0.8 0.5 -0.7 0.1 -0.9 0.3 -0.8 -0.1 -0.8 -0.1zM270 131l0.9 -0.8 1.1 0.3 0.5 0.6 -1 0.6 -1 -0.2zM309.8 148l1 -0.5 1 -0.4 0.3 0.6 0.7 0.4 -0.7 0.2 -0.5 0.2 -1.2 -0.2zM326.2 153.8l0.9 -0.7 1.1 0.3 0.6 0.5 -1 0.5 -1 -0.2zM334.5 153.2l0.7 -0.6 0.9 0.3 0.4 0.5 -0.8 0.5 -0.8 -0.2zM300.2 157l0.7 -0.8 1 0.4 0.3 0.6 -0.8 0.6 -0.8 -0.3zM215.5 133.8l0.7 -0.6 0.7 0.2 0.7 0.5 1.1 -0.4 0.8 0.3 -0.6 0.5 -1 -0.2 -0.5 -0.7 -0.8 -0.1 -0.3 0.7zM198.5 130.5l1 -0.4 0.8 0 0.6 0.2 0.6 0.3 -1.2 0.3 -1.2 -0.1zM157.5 160.8l0.7 -0.8 0.2 -0.8 0.3 0.8 0.8 -0.2 -0.2 0.8 0.7 0.4 -0.6 0.8 -0.9 -0.4 0.5 0.8 -1 -0.4zM162.5 164l-0.2 -1 1.1 -0.2 1.1 0.4 0.5 1 -0.7 0.6 -0.3 0.4 -1 -0.3zM160.2 159l0.7 -0.3 0 -0.9 1 0.4 0.3 1 -0.4 0.5 -0.3 0.5 -0.9 -0.3zM164.2 166.2l0.3 -0.4 0.6 -0.6 1.1 0.5 0.6 0.7 -0.6 0.3 -0.5 0.5 -1 -0.2zM172.8 171.5l-0.2 -0.9 0.8 -0.4 1 0.6 0.4 1 -1.1 0 0.3 1 -0.9 -0.4zM175.5 173.8l0.5 -1 0.7 0.4 0.3 0.7 -0.6 0.9 -0.6 -0.3zM127.5 153.8l0.9 -0.6 1.1 0.3 0.5 0.3 -1 0.4 -1 -0.1zM364.2 130l0.8 0.4 0.9 -0.2 -0.3 -1 0.7 0.3 1.1 0 0.8 0.7 -0.4 0.3 -1.2 0.3 -0.7 -0.3 -0.8 0zM361 124l0.7 -0.2 0.4 -0.6 0.4 0.6 0.9 -0.3 0.6 0.7 -0.1 0.6 -1.1 0 -1.2 -0.3zM432.5 125.8l0.9 -0.1 0.8 -0.7 0.7 -0.4 0.8 0.6 -0.6 1 0.5 -0.6 0.9 -0.3 1 0.6 -1.1 -0.2 -0.9 0.8 0.2 0.8 -1.2 0 0.2 -1 -1.2 0zM439.2 120l0.7 -0.5 0.7 -0.3 0.9 -0.4 0.9 0.7 0.8 0.7 -0.9 0.4 -0.7 0.2 -0.4 -0.7 -1.1 0.4zM443 114l0.7 -0.5 0.7 -0.3 0 -0.6 0.5 -0.2 0.8 0.2 0.5 0.9 0.8 0.7 -0.5 -0.3 -0.8 -0.2 -0.3 1.1 -0.7 -0.4 -0.9 0.1zM448 107.5l0.3 -0.5 1.1 -0.2 0.7 -0.1 1.1 0.3 0.8 0.7 -1.1 -0.4 -0.5 0.9 -0.7 -0.6 -0.9 0.4zM427.5 128l0.5 -0.5 1.2 -0.1 0.6 0.2 0.7 -0.1 1 0.1 1 0.5 -1 0.2 -1 0.3 -0.9 0.4 -1.1 -0.6zM395 143.2l0.9 -0.7 1.1 0.3 0.5 0.6 -1 0.6 -1 -0.2zM386 153l1.1 -0.5 0.9 -0.2 0.4 0.4 0.6 0.4 -0.8 0 -0.4 0.4 -1.2 -0.2zM376.5 150.5l0.7 -0.6 0.9 0.2 0.4 0.5 -0.8 0.5 -0.8 -0.2zM538.8 105.5l0.7 0 0.7 0.3 0 -0.8 1.2 -0.1 0.8 -0.7 0.5 0.4 0.6 0.3 0.9 -0.5 0.6 0.7 0.6 0.6 0.8 -0.1 -1.1 0 -0.6 -0.6 -0.2 0.5 -1.1 0.6 -0.5 -0.2 -1.2 -0.1 0.3 -0.9 -0.8 0.7 -0.8 0.3 -0.3 -0.8zM552.5 109.5l0.8 -0.5 0.9 -0.2 0.4 -0.5 0.9 -0.2 0.3 0.5 0.7 0.4 1 0.7 -1.2 0 -0.8 0.5 -0.7 -0.5 -0.6 0.3 -0.7 0zM530.8 108.8l0.6 -0.8 0.7 -0.1 0.8 0.2 0.8 -0.7 0.9 0.3 0.9 0.7 0.3 0.8 1 -0.3 -0.4 0.7 -0.7 0.5 -0.7 -0.3 -0.7 0.4 0.1 -0.8 -0.8 0 -0.7 -0.1 -0.9 -0.1 -0.4 -0.8zM558.8 113.2l0.8 -0.3 1.2 0.1 0.4 0.3 -1 0.3 -1 -0.1zM544.2 118.5l0.6 -0.4 0.7 0.2 0.3 0.3 -0.7 0.3 -0.6 -0.1zM511.2 152l0.3 -0.7 0.6 -0.3 1.1 0.4 0.6 0.8 -0.3 0.6 -0.7 0.2 -1 -0.3zM513.5 148.2l0.5 -0.4 0.5 -0.3 0.7 -0.2 0.7 0.5 0.6 0.6 -0.8 0 -0.4 0.6 -1.2 -0.2zM527.5 140.8l0.1 -0.9 0.8 -0.1 1.1 0.4 0.5 0.7 -0.1 0.5 -0.9 0.4 -1 -0.4zM533.8 133.2l0 -0.9 0.9 0 0.8 0.1 1.2 0.2 1.1 0.1 1 0.7 -1 -0.5 -1 0.1 0 1.1 -0.8 -0.1 -0.7 -0.2 -0.5 0.1zM530.5 134.2l0.8 -0.3 0.6 -0.1 1.1 0.2 0.7 -0.1 0.8 0.5 -0.9 -0.4 -0.7 0.8 -0.6 -0.4 -1 0.2zM545.8 129.5l0 -0.8 1.2 0.2 0.5 0.3 1 -0.1 0.7 0.5 -0.1 0.6 -1.2 -0.1 -0.6 0.3 -0.8 -0.5zM554.5 128l0.3 -0.5 0.9 -0.1 0.8 -0.4 0.8 0.6 0.7 0.5 -1 0.2 -0.4 0.3 -0.8 0 -0.6 -0.2zM511 155.5l0.7 -1 0.9 0.4 0.4 0.8 -0.8 0.8 -0.8 -0.3zM539.8 131.2l1 -0.6 0.5 0.8 0.8 -0.5 0.7 0.5 -1.2 -0.3 -0.1 0.8 -1.1 -0.2zM310.2 417l0 -0.8 0.7 -0.7 1 0.6 0.5 0.6 -0.2 0.6 0.6 1 -0.8 0.1 -0.6 0.1 -0.8 -0.4zM309.5 424.5l0.3 -1.1 0.4 -0.6 0.9 0.6 -0.5 0.8 0.9 0.7 0.3 1.1 -1.1 0.2 -0.8 -0.5 -0.3 -0.5zM310 430.8l-0.1 -1 1 -0.6 0.2 0.8 0.9 -0.1 -0.5 0.7 1 0.5 -0.8 0.3 -0.2 0.8 -1 -0.4zM312 435.8l0.6 -0.4 0.8 0.4 -0.2 -1 0.7 0.4 0.9 -0.1 0.7 0.8 -0.5 1 -0.9 -0.1 -0.7 -0.1 -0.7 -0.3zM319.2 441.5l0.8 -0.5 0.6 -0.1 1 -0.2 0.1 -0.5 0.8 0.9 0.7 0.5 -0.7 0.3 -0.9 0.2 -0.8 -0.8 -0.8 0.6zM316 439l1 0 0 -0.8 1.1 -0.2 0.3 0.5 0.6 0.6 -0.4 0.3 -0.8 0.4 -1.2 -0.3zM326 442.2l1 -0.3 0.8 0.2 0.6 -0.1 0.6 0.3 -1.2 0.3 -1.2 -0.1zM311.8 414l0.5 -0.8 0.7 0.4 0.2 0.5 -0.6 0.7 -0.6 -0.3zM480.8 161.2l0.6 -1 1 0.5 0.4 0.7 -0.9 0.8 -0.8 -0.2zM479.2 159.5l0.6 -1 0.6 0.4 0.4 0.8 -0.7 0.8 -0.5 -0.3zM489.2 157l0.6 -0.5 0.6 0.2 0.4 0.4 -0.7 0.4 -0.5 -0.2zM481.8 163.5l0.5 -0.7 0.6 0.3 0.3 0.6 -0.6 0.5 -0.5 -0.2zM801.2 274.5l0.6 -0.6 0.3 -0.9 0.3 0.6 0.8 0 -0.1 0.7 0.7 0.5 -0.4 0.6 -0.6 0.6 -1 -0.4zM805 278.8l0.4 -0.6 0.1 -1.2 0.7 0.7 0.2 0.7 0.1 0.7 0.1 0.7 -0.7 0.7 -0.6 -0.5 -0.2 -0.8zM808.5 277.5l0.6 -0.5 -0.1 -1 0.7 0.6 0.3 1.2 -0.2 0.7 -0.4 0.5 -0.6 -0.4zM802.5 277.5l0.8 -0.5 0.1 -0.8 1.1 0.6 0.5 1 -0.4 0.4 -0.6 0.6 -1 -0.4zM799 272.5l0.7 -1 0.9 0.4 0.4 0.8 -0.8 0.8 -0.8 -0.3zM810.2 275.8l0.5 -0.6 0.3 -1.2 0.8 0.7 0.1 0.9 0.3 0.5 -0.3 0.5 -0.4 0.9 -0.8 -0.5 -0.6 -0.7zM806.5 280l0.7 -0.8 0.9 0.4 0.4 0.5 -0.8 0.7 -0.8 -0.3zM356.8 178.2l0.5 -1 0.6 0.4 0.3 0.8 -0.6 0.8 -0.5 -0.3zM336.2 188l0.9 -0.4 1.1 0.2 0.6 0.3 -1 0.3 -1 -0.1zM745 114l0.9 -0.5 0.9 0 1.1 -0.2 0.2 0.8 0.9 -0.4 1 0.4 -0.8 -0.1 -0.6 0 -0.6 0.5 -1 0.2 -1 -0.4zM735.5 112l1 0 0.4 -0.5 0.8 0.5 1 -0.3 0.8 0.4 -0.7 0.3 -0.9 0.1 -0.6 -0.2 -1 0zM700.5 118.8l1 -0.3 0.4 -0.3 0.7 0.2 1.1 0 0.8 0.5 -0.5 -0.8 -0.9 0.3 -0.2 0.8 -0.8 -0.4 -0.8 0.3zM686 122.5l0.4 -0.4 0.6 -0.3 0.7 0.5 0.7 -0.3 0.6 0.7 -0.5 0.1 -0.7 0.4 -1.2 -0.2zM776.8 116.2l0.6 -0.6 0.8 0.2 0.8 0.7 1 -0.6 0.8 0.5 -0.8 0.7 -0.9 -0.3 -0.9 0.4 -0.7 -0.6zM841 126l1 -0.4 0.6 0.4 0.8 -0.2 0.6 0.3 -1.2 0.3 -1.2 -0.1z" fill="none" stroke="#000" stroke-width="1.15" stroke-linejoin="round" shape-rendering="crispEdges"/></g>
<rect x="46.5" y="78.5" width="902" height="452" fill="none" stroke="#000" stroke-width="1.1"/>
<path d="M97.5 530.5v5.5M97.5 78.5v-5.5M197.5 530.5v5.5M197.5 78.5v-5.5M297.5 530.5v5.5M297.5 78.5v-5.5M397.5 530.5v5.5M397.5 78.5v-5.5M497.5 530.5v5.5M497.5 78.5v-5.5M597.5 530.5v5.5M597.5 78.5v-5.5M697.5 530.5v5.5M697.5 78.5v-5.5M797.5 530.5v5.5M797.5 78.5v-5.5M897.5 530.5v5.5M897.5 78.5v-5.5M46.5 504.5h-5.5M948.5 504.5h5.5M46.5 454.5h-5.5M948.5 454.5h5.5M46.5 404.5h-5.5M948.5 404.5h5.5M46.5 354.5h-5.5M948.5 354.5h5.5M46.5 304.5h-5.5M948.5 304.5h5.5M46.5 254.5h-5.5M948.5 254.5h5.5M46.5 204.5h-5.5M948.5 204.5h5.5M46.5 154.5h-5.5M948.5 154.5h5.5M46.5 104.5h-5.5M948.5 104.5h5.5" stroke="#000" stroke-width="1.1" fill="none"/>
<text x="97.2" y="554" font-size="16.5" text-anchor="middle">160<tspan font-size="10.2" dy="-5.3" dx="0.9">°</tspan><tspan dy="5.3" dx="0.7">W</tspan></text>
<text x="197.2" y="554" font-size="16.5" text-anchor="middle">120<tspan font-size="10.2" dy="-5.3" dx="0.9">°</tspan><tspan dy="5.3" dx="0.7">W</tspan></text>
<text x="297.2" y="554" font-size="16.5" text-anchor="middle">80<tspan font-size="10.2" dy="-5.3" dx="0.9">°</tspan><tspan dy="5.3" dx="0.7">W</tspan></text>
<text x="397.2" y="554" font-size="16.5" text-anchor="middle">40<tspan font-size="10.2" dy="-5.3" dx="0.9">°</tspan><tspan dy="5.3" dx="0.7">W</tspan></text>
<text x="497.2" y="554" font-size="16.5" text-anchor="middle">0<tspan font-size="10.2" dy="-5.3" dx="0.9">°</tspan></text>
<text x="597.2" y="554" font-size="16.5" text-anchor="middle">40<tspan font-size="10.2" dy="-5.3" dx="0.9">°</tspan><tspan dy="5.3" dx="0.7">E</tspan></text>
<text x="697.2" y="554" font-size="16.5" text-anchor="middle">80<tspan font-size="10.2" dy="-5.3" dx="0.9">°</tspan><tspan dy="5.3" dx="0.7">E</tspan></text>
<text x="797.2" y="554" font-size="16.5" text-anchor="middle">120<tspan font-size="10.2" dy="-5.3" dx="0.9">°</tspan><tspan dy="5.3" dx="0.7">E</tspan></text>
<text x="897.2" y="554" font-size="16.5" text-anchor="middle">160<tspan font-size="10.2" dy="-5.3" dx="0.9">°</tspan><tspan dy="5.3" dx="0.7">E</tspan></text>
<text x="35.8" y="510.7" font-size="16.5" text-anchor="end">80<tspan font-size="10.2" dy="-5.3" dx="0.9">°</tspan><tspan dy="5.3" dx="0.7">S</tspan></text>
<text x="35.8" y="460.7" font-size="16.5" text-anchor="end">60<tspan font-size="10.2" dy="-5.3" dx="0.9">°</tspan><tspan dy="5.3" dx="0.7">S</tspan></text>
<text x="35.8" y="410.7" font-size="16.5" text-anchor="end">40<tspan font-size="10.2" dy="-5.3" dx="0.9">°</tspan><tspan dy="5.3" dx="0.7">S</tspan></text>
<text x="35.8" y="360.7" font-size="16.5" text-anchor="end">20<tspan font-size="10.2" dy="-5.3" dx="0.9">°</tspan><tspan dy="5.3" dx="0.7">S</tspan></text>
<text x="35.8" y="310.7" font-size="16.5" text-anchor="end">0<tspan font-size="10.2" dy="-5.3" dx="0.9">°</tspan></text>
<text x="35.8" y="260.7" font-size="16.5" text-anchor="end">20<tspan font-size="10.2" dy="-5.3" dx="0.9">°</tspan><tspan dy="5.3" dx="0.7">N</tspan></text>
<text x="35.8" y="210.7" font-size="16.5" text-anchor="end">40<tspan font-size="10.2" dy="-5.3" dx="0.9">°</tspan><tspan dy="5.3" dx="0.7">N</tspan></text>
<text x="35.8" y="160.7" font-size="16.5" text-anchor="end">60<tspan font-size="10.2" dy="-5.3" dx="0.9">°</tspan><tspan dy="5.3" dx="0.7">N</tspan></text>
<text x="35.8" y="110.7" font-size="16.5" text-anchor="end">80<tspan font-size="10.2" dy="-5.3" dx="0.9">°</tspan><tspan dy="5.3" dx="0.7">N</tspan></text>
<text x="497.5" y="578.2" font-size="24.95" text-anchor="middle">Probability (%) of Most Likely Category</text>
<rect x="52.5" y="446.5" width="300" height="46" fill="#fff" stroke="#000" stroke-width="1"/>
<text x="53.8" y="474.3" font-size="16.5">White indicates Climatological odds</text>
<rect x="141.50" y="620.5" width="52.55" height="23" fill="#d0f0f8" stroke="#000" stroke-width="1"/>
<text x="167.28" y="660.6" font-size="16.5" text-anchor="middle">40</text>
<rect x="194.05" y="620.5" width="52.55" height="23" fill="#b8c8f4" stroke="#000" stroke-width="1"/>
<text x="219.83" y="660.6" font-size="16.5" text-anchor="middle">45</text>
<rect x="246.60" y="620.5" width="52.55" height="23" fill="#a0a0f0" stroke="#000" stroke-width="1"/>
<text x="272.38" y="660.6" font-size="16.5" text-anchor="middle">50</text>
<rect x="299.15" y="620.5" width="52.55" height="23" fill="#8080ec" stroke="#000" stroke-width="1"/>
<text x="324.92" y="660.6" font-size="16.5" text-anchor="middle">60</text>
<rect x="351.70" y="620.5" width="52.55" height="23" fill="#5858c0" stroke="#000" stroke-width="1"/>
<text x="377.47" y="660.6" font-size="16.5" text-anchor="middle">70+</text>
<text x="262.4" y="609.8" font-size="16.5" text-anchor="middle">Below Normal</text>
<rect x="591.50" y="620.5" width="52.55" height="23" fill="#f8d4d4" stroke="#000" stroke-width="1"/>
<text x="617.27" y="660.6" font-size="16.5" text-anchor="middle">40</text>
<rect x="644.05" y="620.5" width="52.55" height="23" fill="#e8abab" stroke="#000" stroke-width="1"/>
<text x="669.82" y="660.6" font-size="16.5" text-anchor="middle">45</text>
<rect x="696.60" y="620.5" width="52.55" height="23" fill="#eb7f85" stroke="#000" stroke-width="1"/>
<text x="722.38" y="660.6" font-size="16.5" text-anchor="middle">50</text>
<rect x="749.15" y="620.5" width="52.55" height="23" fill="#eb4038" stroke="#000" stroke-width="1"/>
<text x="774.92" y="660.6" font-size="16.5" text-anchor="middle">60</text>
<rect x="801.70" y="620.5" width="52.55" height="23" fill="#7d211d" stroke="#000" stroke-width="1"/>
<text x="827.48" y="660.6" font-size="16.5" text-anchor="middle">70+</text>
<text x="732.7" y="609.8" font-size="16.5" text-anchor="middle">Above Normal</text>
<rect x="482.5" y="620.5" width="30" height="23" fill="#d2d2d2" stroke="#000" stroke-width="1"/>
<text x="497.7" y="660.6" font-size="16.5" text-anchor="middle">40+</text>
<text x="498.2" y="609.8" font-size="16.5" letter-spacing="0.5" text-anchor="middle">Normal</text>
</svg>
</body></html>
